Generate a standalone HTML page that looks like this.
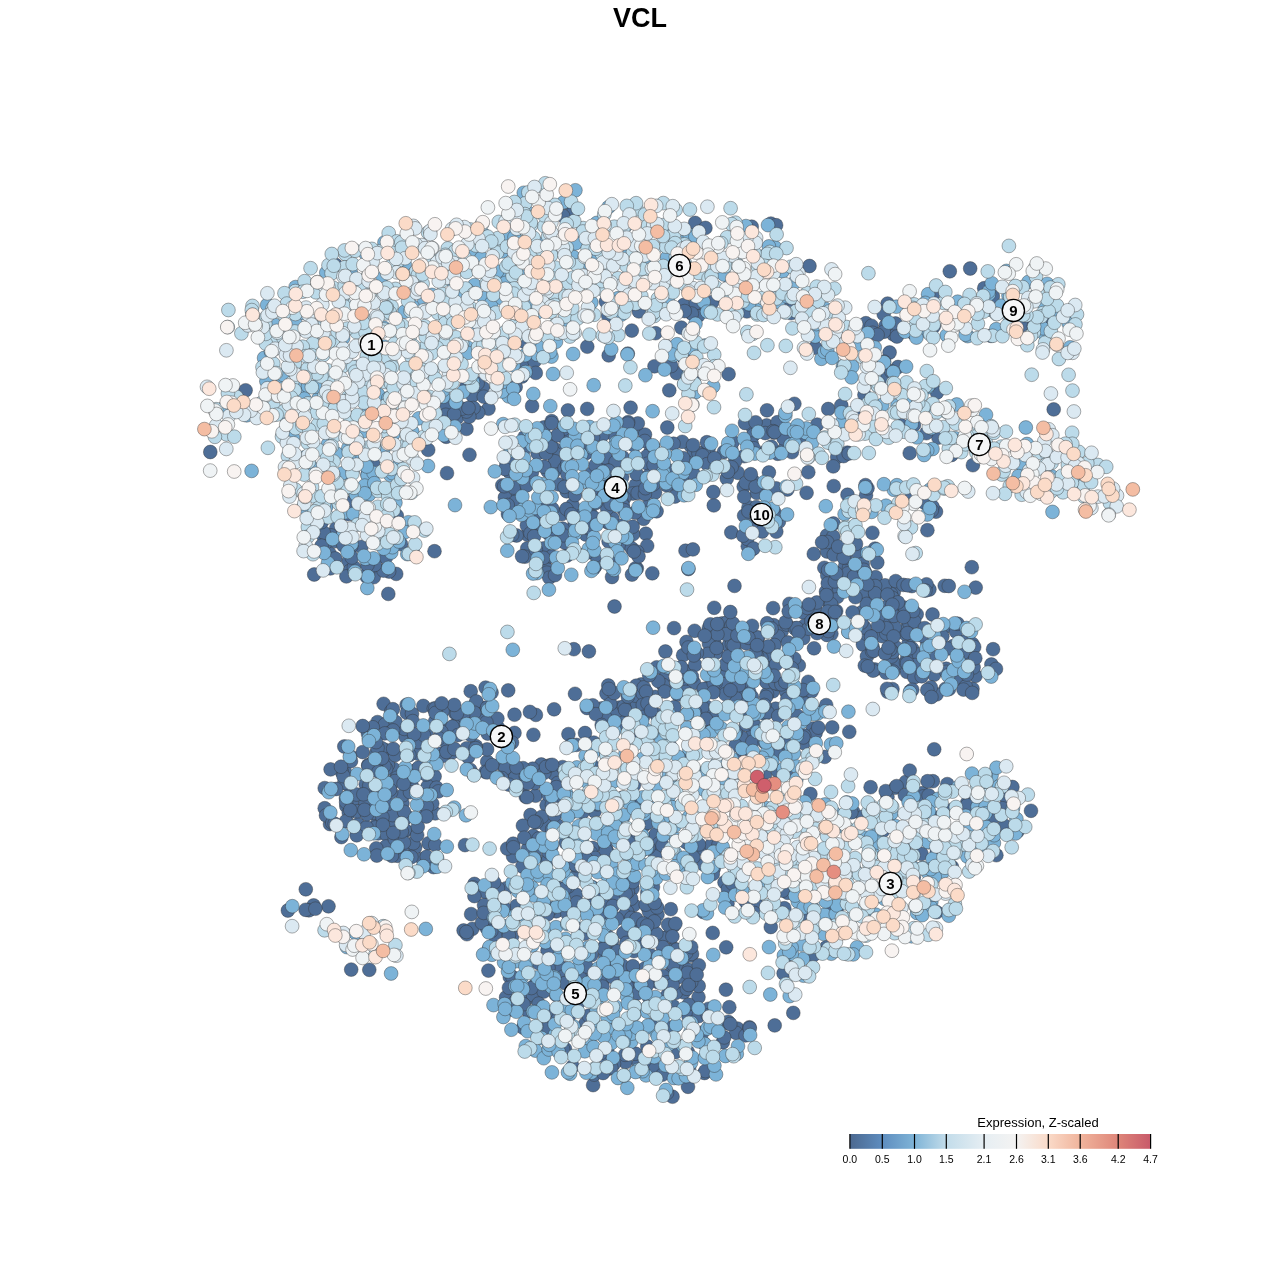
<!DOCTYPE html>
<html><head><meta charset="utf-8"><title>VCL</title>
<style>html,body{margin:0;padding:0;background:#fff;}svg{display:block;}</style></head>
<body><svg width="1280" height="1280" viewBox="0 0 1280 1280">
<rect width="1280" height="1280" fill="#fff"/>
<text x="640" y="27" text-anchor="middle" font-family="Liberation Sans, sans-serif" font-weight="bold" font-size="27" fill="#000">VCL</text>
<g stroke="#333" stroke-width="0.5" stroke-opacity="0.8">
<circle cx="365.7" cy="784.2" r="6.9" fill="#4e6e97"/>
<circle cx="630.0" cy="929.4" r="6.9" fill="#4e6e97"/>
<circle cx="875.0" cy="548.6" r="6.9" fill="#4e6e97"/>
<circle cx="866.0" cy="495.2" r="6.9" fill="#4e6e97"/>
<circle cx="576.5" cy="744.9" r="6.9" fill="#4e6e97"/>
<circle cx="805.5" cy="691.9" r="6.9" fill="#4e6e97"/>
<circle cx="708.9" cy="687.1" r="6.9" fill="#4e6e97"/>
<circle cx="345.9" cy="798.0" r="6.9" fill="#4e6e97"/>
<circle cx="882.7" cy="831.2" r="6.9" fill="#4e6e97"/>
<circle cx="565.1" cy="968.5" r="6.9" fill="#4e6e97"/>
<circle cx="428.6" cy="843.3" r="6.9" fill="#4e6e97"/>
<circle cx="757.2" cy="522.8" r="6.9" fill="#4e6e97"/>
<circle cx="601.9" cy="708.3" r="6.9" fill="#4e6e97"/>
<circle cx="541.3" cy="764.5" r="6.9" fill="#4e6e97"/>
<circle cx="938.9" cy="817.3" r="6.9" fill="#4e6e97"/>
<circle cx="681.3" cy="327.6" r="6.9" fill="#4e6e97"/>
<circle cx="893.1" cy="609.4" r="6.9" fill="#4e6e97"/>
<circle cx="847.4" cy="452.6" r="6.9" fill="#4e6e97"/>
<circle cx="698.4" cy="315.5" r="6.9" fill="#4e6e97"/>
<circle cx="725.5" cy="675.5" r="6.9" fill="#4e6e97"/>
<circle cx="853.1" cy="811.6" r="6.9" fill="#4e6e97"/>
<circle cx="532.7" cy="768.7" r="6.9" fill="#4e6e97"/>
<circle cx="523.0" cy="768.1" r="6.9" fill="#4e6e97"/>
<circle cx="734.5" cy="585.9" r="6.9" fill="#4e6e97"/>
<circle cx="454.5" cy="725.6" r="6.9" fill="#4e6e97"/>
<circle cx="657.5" cy="914.8" r="6.9" fill="#4e6e97"/>
<circle cx="384.9" cy="749.8" r="6.9" fill="#4e6e97"/>
<circle cx="873.6" cy="636.5" r="6.9" fill="#4e6e97"/>
<circle cx="377.5" cy="722.1" r="6.9" fill="#4e6e97"/>
<circle cx="628.0" cy="717.3" r="6.9" fill="#4e6e97"/>
<circle cx="396.2" cy="573.9" r="6.9" fill="#4e6e97"/>
<circle cx="557.6" cy="887.6" r="6.9" fill="#4e6e97"/>
<circle cx="908.4" cy="644.0" r="6.9" fill="#4e6e97"/>
<circle cx="916.7" cy="614.3" r="6.9" fill="#4e6e97"/>
<circle cx="815.4" cy="617.9" r="6.9" fill="#4e6e97"/>
<circle cx="432.8" cy="787.5" r="6.9" fill="#4e6e97"/>
<circle cx="585.8" cy="534.5" r="6.9" fill="#4e6e97"/>
<circle cx="814.8" cy="608.3" r="6.9" fill="#4e6e97"/>
<circle cx="656.3" cy="714.6" r="6.9" fill="#4e6e97"/>
<circle cx="431.2" cy="811.4" r="6.9" fill="#4e6e97"/>
<circle cx="765.1" cy="452.0" r="6.9" fill="#4e6e97"/>
<circle cx="515.7" cy="913.7" r="6.9" fill="#4e6e97"/>
<circle cx="602.2" cy="749.5" r="6.9" fill="#4e6e97"/>
<circle cx="643.1" cy="826.4" r="6.9" fill="#4e6e97"/>
<circle cx="633.7" cy="905.1" r="6.9" fill="#4e6e97"/>
<circle cx="635.7" cy="485.2" r="6.9" fill="#4e6e97"/>
<circle cx="612.7" cy="433.7" r="6.9" fill="#4e6e97"/>
<circle cx="588.6" cy="528.3" r="6.9" fill="#4e6e97"/>
<circle cx="691.0" cy="446.1" r="6.9" fill="#4e6e97"/>
<circle cx="576.3" cy="876.0" r="6.9" fill="#4e6e97"/>
<circle cx="744.1" cy="456.2" r="6.9" fill="#4e6e97"/>
<circle cx="635.8" cy="428.0" r="6.9" fill="#4e6e97"/>
<circle cx="767.0" cy="410.3" r="6.9" fill="#4e6e97"/>
<circle cx="813.0" cy="728.6" r="6.9" fill="#4e6e97"/>
<circle cx="336.3" cy="528.3" r="6.9" fill="#4e6e97"/>
<circle cx="726.8" cy="478.5" r="6.9" fill="#4e6e97"/>
<circle cx="632.5" cy="888.7" r="6.9" fill="#4e6e97"/>
<circle cx="905.6" cy="634.0" r="6.9" fill="#4e6e97"/>
<circle cx="716.4" cy="625.5" r="6.9" fill="#4e6e97"/>
<circle cx="329.5" cy="553.3" r="6.9" fill="#4e6e97"/>
<circle cx="845.1" cy="566.2" r="6.9" fill="#4e6e97"/>
<circle cx="335.7" cy="265.0" r="6.9" fill="#4e6e97"/>
<circle cx="887.5" cy="796.9" r="6.9" fill="#4e6e97"/>
<circle cx="636.8" cy="568.5" r="6.9" fill="#4e6e97"/>
<circle cx="344.3" cy="746.5" r="6.9" fill="#4e6e97"/>
<circle cx="783.6" cy="973.4" r="6.9" fill="#4e6e97"/>
<circle cx="885.8" cy="378.8" r="6.9" fill="#4e6e97"/>
<circle cx="482.9" cy="718.2" r="6.9" fill="#4e6e97"/>
<circle cx="328.2" cy="813.0" r="6.9" fill="#4e6e97"/>
<circle cx="324.7" cy="808.2" r="6.9" fill="#4e6e97"/>
<circle cx="465.0" cy="845.1" r="6.9" fill="#4e6e97"/>
<circle cx="811.9" cy="434.9" r="6.9" fill="#4e6e97"/>
<circle cx="506.2" cy="933.2" r="6.9" fill="#4e6e97"/>
<circle cx="744.3" cy="695.6" r="6.9" fill="#4e6e97"/>
<circle cx="805.7" cy="694.2" r="6.9" fill="#4e6e97"/>
<circle cx="824.5" cy="709.7" r="6.9" fill="#4e6e97"/>
<circle cx="376.9" cy="824.5" r="6.9" fill="#4e6e97"/>
<circle cx="784.3" cy="908.2" r="6.9" fill="#4e6e97"/>
<circle cx="892.5" cy="689.1" r="6.9" fill="#4e6e97"/>
<circle cx="831.4" cy="633.8" r="6.9" fill="#4e6e97"/>
<circle cx="972.3" cy="643.8" r="6.9" fill="#4e6e97"/>
<circle cx="506.5" cy="463.3" r="6.9" fill="#4e6e97"/>
<circle cx="737.6" cy="1028.6" r="6.9" fill="#4e6e97"/>
<circle cx="405.5" cy="736.6" r="6.9" fill="#4e6e97"/>
<circle cx="622.0" cy="965.4" r="6.9" fill="#4e6e97"/>
<circle cx="631.2" cy="1035.3" r="6.9" fill="#4e6e97"/>
<circle cx="764.9" cy="775.3" r="6.9" fill="#4e6e97"/>
<circle cx="968.3" cy="663.3" r="6.9" fill="#4e6e97"/>
<circle cx="875.6" cy="577.2" r="6.9" fill="#4e6e97"/>
<circle cx="671.4" cy="824.8" r="6.9" fill="#4e6e97"/>
<circle cx="708.6" cy="448.7" r="6.9" fill="#4e6e97"/>
<circle cx="568.2" cy="203.2" r="6.9" fill="#4e6e97"/>
<circle cx="394.2" cy="750.9" r="6.9" fill="#4e6e97"/>
<circle cx="932.4" cy="668.6" r="6.9" fill="#4e6e97"/>
<circle cx="932.9" cy="656.8" r="6.9" fill="#4e6e97"/>
<circle cx="848.9" cy="568.4" r="6.9" fill="#4e6e97"/>
<circle cx="688.7" cy="476.7" r="6.9" fill="#4e6e97"/>
<circle cx="501.2" cy="763.7" r="6.9" fill="#4e6e97"/>
<circle cx="944.7" cy="585.8" r="6.9" fill="#4e6e97"/>
<circle cx="893.7" cy="662.4" r="6.9" fill="#4e6e97"/>
<circle cx="546.7" cy="861.8" r="6.9" fill="#4e6e97"/>
<circle cx="641.2" cy="684.5" r="6.9" fill="#4e6e97"/>
<circle cx="828.2" cy="409.0" r="6.9" fill="#4e6e97"/>
<circle cx="762.3" cy="648.4" r="6.9" fill="#4e6e97"/>
<circle cx="595.7" cy="565.5" r="6.9" fill="#4e6e97"/>
<circle cx="513.2" cy="461.7" r="6.9" fill="#4e6e97"/>
<circle cx="726.9" cy="1023.2" r="6.9" fill="#4e6e97"/>
<circle cx="619.0" cy="707.6" r="6.9" fill="#4e6e97"/>
<circle cx="365.0" cy="803.1" r="6.9" fill="#4e6e97"/>
<circle cx="784.6" cy="957.7" r="6.9" fill="#4e6e97"/>
<circle cx="458.6" cy="412.3" r="6.9" fill="#4e6e97"/>
<circle cx="561.7" cy="514.2" r="6.9" fill="#4e6e97"/>
<circle cx="632.0" cy="574.6" r="6.9" fill="#4e6e97"/>
<circle cx="745.1" cy="229.6" r="6.9" fill="#4e6e97"/>
<circle cx="330.0" cy="824.1" r="6.9" fill="#4e6e97"/>
<circle cx="546.8" cy="468.2" r="6.9" fill="#4e6e97"/>
<circle cx="632.9" cy="702.9" r="6.9" fill="#4e6e97"/>
<circle cx="741.0" cy="757.6" r="6.9" fill="#4e6e97"/>
<circle cx="389.1" cy="571.5" r="6.9" fill="#4e6e97"/>
<circle cx="625.5" cy="1062.1" r="6.9" fill="#4e6e97"/>
<circle cx="647.3" cy="1046.5" r="6.9" fill="#4e6e97"/>
<circle cx="945.5" cy="688.8" r="6.9" fill="#4e6e97"/>
<circle cx="536.9" cy="512.6" r="6.9" fill="#4e6e97"/>
<circle cx="433.5" cy="867.1" r="6.9" fill="#4e6e97"/>
<circle cx="367.9" cy="733.5" r="6.9" fill="#4e6e97"/>
<circle cx="765.4" cy="494.6" r="6.9" fill="#4e6e97"/>
<circle cx="572.8" cy="213.1" r="6.9" fill="#4e6e97"/>
<circle cx="841.4" cy="588.5" r="6.9" fill="#4e6e97"/>
<circle cx="737.9" cy="472.8" r="6.9" fill="#4e6e97"/>
<circle cx="870.6" cy="787.2" r="6.9" fill="#4e6e97"/>
<circle cx="836.8" cy="908.6" r="6.9" fill="#4e6e97"/>
<circle cx="474.4" cy="883.9" r="6.9" fill="#4e6e97"/>
<circle cx="428.2" cy="449.9" r="6.9" fill="#4e6e97"/>
<circle cx="507.8" cy="774.5" r="6.9" fill="#4e6e97"/>
<circle cx="506.2" cy="888.3" r="6.9" fill="#4e6e97"/>
<circle cx="823.8" cy="625.0" r="6.9" fill="#4e6e97"/>
<circle cx="886.8" cy="625.0" r="6.9" fill="#4e6e97"/>
<circle cx="361.5" cy="546.8" r="6.9" fill="#4e6e97"/>
<circle cx="348.1" cy="514.2" r="6.9" fill="#4e6e97"/>
<circle cx="484.8" cy="708.0" r="6.9" fill="#4e6e97"/>
<circle cx="994.0" cy="306.3" r="6.9" fill="#4e6e97"/>
<circle cx="603.7" cy="824.1" r="6.9" fill="#4e6e97"/>
<circle cx="784.4" cy="448.9" r="6.9" fill="#4e6e97"/>
<circle cx="751.8" cy="735.5" r="6.9" fill="#4e6e97"/>
<circle cx="633.3" cy="842.0" r="6.9" fill="#4e6e97"/>
<circle cx="376.4" cy="753.0" r="6.9" fill="#4e6e97"/>
<circle cx="841.3" cy="405.4" r="6.9" fill="#4e6e97"/>
<circle cx="463.5" cy="715.7" r="6.9" fill="#4e6e97"/>
<circle cx="393.6" cy="768.8" r="6.9" fill="#4e6e97"/>
<circle cx="836.2" cy="611.0" r="6.9" fill="#4e6e97"/>
<circle cx="585.7" cy="453.3" r="6.9" fill="#4e6e97"/>
<circle cx="929.4" cy="589.5" r="6.9" fill="#4e6e97"/>
<circle cx="470.7" cy="691.2" r="6.9" fill="#4e6e97"/>
<circle cx="683.7" cy="305.0" r="6.9" fill="#4e6e97"/>
<circle cx="710.7" cy="646.3" r="6.9" fill="#4e6e97"/>
<circle cx="676.7" cy="686.1" r="6.9" fill="#4e6e97"/>
<circle cx="895.8" cy="664.9" r="6.9" fill="#4e6e97"/>
<circle cx="596.7" cy="474.2" r="6.9" fill="#4e6e97"/>
<circle cx="650.6" cy="451.6" r="6.9" fill="#4e6e97"/>
<circle cx="350.4" cy="756.3" r="6.9" fill="#4e6e97"/>
<circle cx="612.5" cy="503.8" r="6.9" fill="#4e6e97"/>
<circle cx="369.3" cy="969.8" r="6.9" fill="#4e6e97"/>
<circle cx="638.3" cy="936.1" r="6.9" fill="#4e6e97"/>
<circle cx="605.5" cy="916.9" r="6.9" fill="#4e6e97"/>
<circle cx="847.7" cy="573.4" r="6.9" fill="#4e6e97"/>
<circle cx="727.6" cy="685.0" r="6.9" fill="#4e6e97"/>
<circle cx="376.8" cy="853.4" r="6.9" fill="#4e6e97"/>
<circle cx="455.2" cy="713.1" r="6.9" fill="#4e6e97"/>
<circle cx="862.9" cy="644.5" r="6.9" fill="#4e6e97"/>
<circle cx="522.3" cy="784.7" r="6.9" fill="#4e6e97"/>
<circle cx="472.4" cy="928.8" r="6.9" fill="#4e6e97"/>
<circle cx="527.4" cy="534.7" r="6.9" fill="#4e6e97"/>
<circle cx="722.4" cy="623.3" r="6.9" fill="#4e6e97"/>
<circle cx="553.8" cy="773.6" r="6.9" fill="#4e6e97"/>
<circle cx="591.7" cy="764.8" r="6.9" fill="#4e6e97"/>
<circle cx="756.8" cy="492.9" r="6.9" fill="#4e6e97"/>
<circle cx="383.6" cy="703.8" r="6.9" fill="#4e6e97"/>
<circle cx="341.4" cy="837.1" r="6.9" fill="#4e6e97"/>
<circle cx="471.1" cy="914.1" r="6.9" fill="#4e6e97"/>
<circle cx="683.7" cy="966.8" r="6.9" fill="#4e6e97"/>
<circle cx="874.8" cy="669.5" r="6.9" fill="#4e6e97"/>
<circle cx="735.1" cy="461.2" r="6.9" fill="#4e6e97"/>
<circle cx="487.2" cy="761.7" r="6.9" fill="#4e6e97"/>
<circle cx="861.9" cy="612.1" r="6.9" fill="#4e6e97"/>
<circle cx="889.6" cy="352.5" r="6.9" fill="#4e6e97"/>
<circle cx="569.3" cy="1015.7" r="6.9" fill="#4e6e97"/>
<circle cx="397.1" cy="777.7" r="6.9" fill="#4e6e97"/>
<circle cx="605.9" cy="301.6" r="6.9" fill="#4e6e97"/>
<circle cx="685.5" cy="550.7" r="6.9" fill="#4e6e97"/>
<circle cx="765.1" cy="713.8" r="6.9" fill="#4e6e97"/>
<circle cx="863.5" cy="332.8" r="6.9" fill="#4e6e97"/>
<circle cx="617.3" cy="987.1" r="6.9" fill="#4e6e97"/>
<circle cx="611.5" cy="557.6" r="6.9" fill="#4e6e97"/>
<circle cx="757.8" cy="510.1" r="6.9" fill="#4e6e97"/>
<circle cx="865.0" cy="572.3" r="6.9" fill="#4e6e97"/>
<circle cx="387.9" cy="764.8" r="6.9" fill="#4e6e97"/>
<circle cx="245.6" cy="390.3" r="6.9" fill="#4e6e97"/>
<circle cx="516.5" cy="497.9" r="6.9" fill="#4e6e97"/>
<circle cx="530.5" cy="815.0" r="6.9" fill="#4e6e97"/>
<circle cx="864.4" cy="394.8" r="6.9" fill="#4e6e97"/>
<circle cx="893.8" cy="592.0" r="6.9" fill="#4e6e97"/>
<circle cx="555.1" cy="449.3" r="6.9" fill="#4e6e97"/>
<circle cx="441.0" cy="753.7" r="6.9" fill="#4e6e97"/>
<circle cx="472.5" cy="395.6" r="6.9" fill="#4e6e97"/>
<circle cx="446.3" cy="404.7" r="6.9" fill="#4e6e97"/>
<circle cx="632.8" cy="973.7" r="6.9" fill="#4e6e97"/>
<circle cx="457.3" cy="417.7" r="6.9" fill="#4e6e97"/>
<circle cx="773.6" cy="625.2" r="6.9" fill="#4e6e97"/>
<circle cx="971.8" cy="567.2" r="6.9" fill="#4e6e97"/>
<circle cx="404.4" cy="728.9" r="6.9" fill="#4e6e97"/>
<circle cx="576.5" cy="515.7" r="6.9" fill="#4e6e97"/>
<circle cx="747.3" cy="756.4" r="6.9" fill="#4e6e97"/>
<circle cx="608.3" cy="685.5" r="6.9" fill="#4e6e97"/>
<circle cx="788.1" cy="704.7" r="6.9" fill="#4e6e97"/>
<circle cx="694.1" cy="971.2" r="6.9" fill="#4e6e97"/>
<circle cx="415.2" cy="847.3" r="6.9" fill="#4e6e97"/>
<circle cx="828.8" cy="602.3" r="6.9" fill="#4e6e97"/>
<circle cx="791.2" cy="313.2" r="6.9" fill="#4e6e97"/>
<circle cx="647.3" cy="892.6" r="6.9" fill="#4e6e97"/>
<circle cx="556.2" cy="911.3" r="6.9" fill="#4e6e97"/>
<circle cx="634.6" cy="990.0" r="6.9" fill="#4e6e97"/>
<circle cx="775.7" cy="708.7" r="6.9" fill="#4e6e97"/>
<circle cx="612.5" cy="518.5" r="6.9" fill="#4e6e97"/>
<circle cx="624.6" cy="878.9" r="6.9" fill="#4e6e97"/>
<circle cx="544.4" cy="561.9" r="6.9" fill="#4e6e97"/>
<circle cx="574.7" cy="523.0" r="6.9" fill="#4e6e97"/>
<circle cx="646.3" cy="944.1" r="6.9" fill="#4e6e97"/>
<circle cx="488.5" cy="408.7" r="6.9" fill="#4e6e97"/>
<circle cx="372.6" cy="762.6" r="6.9" fill="#4e6e97"/>
<circle cx="991.4" cy="664.5" r="6.9" fill="#4e6e97"/>
<circle cx="535.2" cy="985.1" r="6.9" fill="#4e6e97"/>
<circle cx="936.0" cy="511.7" r="6.9" fill="#4e6e97"/>
<circle cx="702.6" cy="848.9" r="6.9" fill="#4e6e97"/>
<circle cx="402.5" cy="803.1" r="6.9" fill="#4e6e97"/>
<circle cx="592.3" cy="887.2" r="6.9" fill="#4e6e97"/>
<circle cx="697.8" cy="302.9" r="6.9" fill="#4e6e97"/>
<circle cx="606.5" cy="693.5" r="6.9" fill="#4e6e97"/>
<circle cx="434.8" cy="757.5" r="6.9" fill="#4e6e97"/>
<circle cx="866.9" cy="656.5" r="6.9" fill="#4e6e97"/>
<circle cx="772.8" cy="691.3" r="6.9" fill="#4e6e97"/>
<circle cx="703.6" cy="452.6" r="6.9" fill="#4e6e97"/>
<circle cx="732.0" cy="884.8" r="6.9" fill="#4e6e97"/>
<circle cx="906.8" cy="671.8" r="6.9" fill="#4e6e97"/>
<circle cx="728.6" cy="645.5" r="6.9" fill="#4e6e97"/>
<circle cx="878.9" cy="588.0" r="6.9" fill="#4e6e97"/>
<circle cx="951.5" cy="455.0" r="6.9" fill="#4e6e97"/>
<circle cx="554.1" cy="709.3" r="6.9" fill="#4e6e97"/>
<circle cx="896.2" cy="647.6" r="6.9" fill="#4e6e97"/>
<circle cx="688.0" cy="1086.8" r="6.9" fill="#4e6e97"/>
<circle cx="758.0" cy="637.6" r="6.9" fill="#4e6e97"/>
<circle cx="422.5" cy="858.9" r="6.9" fill="#4e6e97"/>
<circle cx="384.9" cy="724.5" r="6.9" fill="#4e6e97"/>
<circle cx="485.5" cy="771.8" r="6.9" fill="#4e6e97"/>
<circle cx="669.3" cy="390.3" r="6.9" fill="#4e6e97"/>
<circle cx="502.3" cy="485.3" r="6.9" fill="#4e6e97"/>
<circle cx="348.6" cy="785.0" r="6.9" fill="#4e6e97"/>
<circle cx="395.5" cy="721.9" r="6.9" fill="#4e6e97"/>
<circle cx="305.8" cy="889.3" r="6.9" fill="#4e6e97"/>
<circle cx="548.9" cy="533.9" r="6.9" fill="#4e6e97"/>
<circle cx="351.9" cy="802.6" r="6.9" fill="#4e6e97"/>
<circle cx="381.2" cy="825.6" r="6.9" fill="#4e6e97"/>
<circle cx="487.1" cy="749.4" r="6.9" fill="#4e6e97"/>
<circle cx="378.2" cy="833.4" r="6.9" fill="#4e6e97"/>
<circle cx="556.1" cy="994.9" r="6.9" fill="#4e6e97"/>
<circle cx="741.3" cy="737.1" r="6.9" fill="#4e6e97"/>
<circle cx="592.7" cy="705.3" r="6.9" fill="#4e6e97"/>
<circle cx="566.9" cy="555.6" r="6.9" fill="#4e6e97"/>
<circle cx="735.3" cy="652.2" r="6.9" fill="#4e6e97"/>
<circle cx="735.8" cy="731.7" r="6.9" fill="#4e6e97"/>
<circle cx="914.3" cy="677.4" r="6.9" fill="#4e6e97"/>
<circle cx="643.6" cy="518.8" r="6.9" fill="#4e6e97"/>
<circle cx="631.2" cy="898.7" r="6.9" fill="#4e6e97"/>
<circle cx="535.6" cy="795.7" r="6.9" fill="#4e6e97"/>
<circle cx="691.1" cy="955.5" r="6.9" fill="#4e6e97"/>
<circle cx="1005.7" cy="827.4" r="6.9" fill="#4e6e97"/>
<circle cx="574.3" cy="526.7" r="6.9" fill="#4e6e97"/>
<circle cx="595.8" cy="555.1" r="6.9" fill="#4e6e97"/>
<circle cx="527.3" cy="548.4" r="6.9" fill="#4e6e97"/>
<circle cx="395.0" cy="822.3" r="6.9" fill="#4e6e97"/>
<circle cx="684.6" cy="685.2" r="6.9" fill="#4e6e97"/>
<circle cx="545.0" cy="444.9" r="6.9" fill="#4e6e97"/>
<circle cx="506.1" cy="997.3" r="6.9" fill="#4e6e97"/>
<circle cx="634.0" cy="926.0" r="6.9" fill="#4e6e97"/>
<circle cx="692.0" cy="953.9" r="6.9" fill="#4e6e97"/>
<circle cx="698.5" cy="997.1" r="6.9" fill="#4e6e97"/>
<circle cx="906.7" cy="628.3" r="6.9" fill="#4e6e97"/>
<circle cx="546.6" cy="805.2" r="6.9" fill="#4e6e97"/>
<circle cx="1031.0" cy="810.8" r="6.9" fill="#4e6e97"/>
<circle cx="873.0" cy="670.7" r="6.9" fill="#4e6e97"/>
<circle cx="547.6" cy="471.1" r="6.9" fill="#4e6e97"/>
<circle cx="806.5" cy="703.5" r="6.9" fill="#4e6e97"/>
<circle cx="591.7" cy="473.6" r="6.9" fill="#4e6e97"/>
<circle cx="832.2" cy="727.4" r="6.9" fill="#4e6e97"/>
<circle cx="756.3" cy="903.8" r="6.9" fill="#4e6e97"/>
<circle cx="837.4" cy="596.8" r="6.9" fill="#4e6e97"/>
<circle cx="597.2" cy="985.1" r="6.9" fill="#4e6e97"/>
<circle cx="552.5" cy="1025.0" r="6.9" fill="#4e6e97"/>
<circle cx="616.6" cy="964.5" r="6.9" fill="#4e6e97"/>
<circle cx="753.1" cy="481.0" r="6.9" fill="#4e6e97"/>
<circle cx="770.8" cy="927.0" r="6.9" fill="#4e6e97"/>
<circle cx="608.1" cy="1068.9" r="6.9" fill="#4e6e97"/>
<circle cx="863.1" cy="816.7" r="6.9" fill="#4e6e97"/>
<circle cx="694.0" cy="453.1" r="6.9" fill="#4e6e97"/>
<circle cx="656.6" cy="511.3" r="6.9" fill="#4e6e97"/>
<circle cx="373.7" cy="812.9" r="6.9" fill="#4e6e97"/>
<circle cx="949.0" cy="689.1" r="6.9" fill="#4e6e97"/>
<circle cx="1053.7" cy="409.4" r="6.9" fill="#4e6e97"/>
<circle cx="324.7" cy="788.1" r="6.9" fill="#4e6e97"/>
<circle cx="523.0" cy="1006.6" r="6.9" fill="#4e6e97"/>
<circle cx="781.7" cy="631.2" r="6.9" fill="#4e6e97"/>
<circle cx="535.9" cy="714.9" r="6.9" fill="#4e6e97"/>
<circle cx="483.2" cy="388.2" r="6.9" fill="#4e6e97"/>
<circle cx="388.6" cy="782.1" r="6.9" fill="#4e6e97"/>
<circle cx="711.3" cy="845.1" r="6.9" fill="#4e6e97"/>
<circle cx="654.2" cy="470.9" r="6.9" fill="#4e6e97"/>
<circle cx="348.5" cy="561.1" r="6.9" fill="#4e6e97"/>
<circle cx="786.7" cy="624.5" r="6.9" fill="#4e6e97"/>
<circle cx="635.1" cy="512.6" r="6.9" fill="#4e6e97"/>
<circle cx="574.5" cy="926.0" r="6.9" fill="#4e6e97"/>
<circle cx="795.0" cy="628.5" r="6.9" fill="#4e6e97"/>
<circle cx="638.9" cy="1063.5" r="6.9" fill="#4e6e97"/>
<circle cx="751.6" cy="549.6" r="6.9" fill="#4e6e97"/>
<circle cx="402.1" cy="848.8" r="6.9" fill="#4e6e97"/>
<circle cx="595.4" cy="895.1" r="6.9" fill="#4e6e97"/>
<circle cx="486.4" cy="927.5" r="6.9" fill="#4e6e97"/>
<circle cx="813.8" cy="553.9" r="6.9" fill="#4e6e97"/>
<circle cx="726.2" cy="947.3" r="6.9" fill="#4e6e97"/>
<circle cx="505.3" cy="768.3" r="6.9" fill="#4e6e97"/>
<circle cx="391.2" cy="711.5" r="6.9" fill="#4e6e97"/>
<circle cx="532.1" cy="406.0" r="6.9" fill="#4e6e97"/>
<circle cx="434.6" cy="776.5" r="6.9" fill="#4e6e97"/>
<circle cx="587.2" cy="408.9" r="6.9" fill="#4e6e97"/>
<circle cx="694.0" cy="683.0" r="6.9" fill="#4e6e97"/>
<circle cx="687.9" cy="1052.1" r="6.9" fill="#4e6e97"/>
<circle cx="349.6" cy="571.0" r="6.9" fill="#4e6e97"/>
<circle cx="509.8" cy="976.9" r="6.9" fill="#4e6e97"/>
<circle cx="698.5" cy="453.3" r="6.9" fill="#4e6e97"/>
<circle cx="901.5" cy="425.3" r="6.9" fill="#4e6e97"/>
<circle cx="551.5" cy="846.2" r="6.9" fill="#4e6e97"/>
<circle cx="647.5" cy="906.9" r="6.9" fill="#4e6e97"/>
<circle cx="725.6" cy="664.4" r="6.9" fill="#4e6e97"/>
<circle cx="472.7" cy="706.8" r="6.9" fill="#4e6e97"/>
<circle cx="478.2" cy="412.5" r="6.9" fill="#4e6e97"/>
<circle cx="346.3" cy="806.0" r="6.9" fill="#4e6e97"/>
<circle cx="936.9" cy="851.4" r="6.9" fill="#4e6e97"/>
<circle cx="562.6" cy="767.1" r="6.9" fill="#4e6e97"/>
<circle cx="515.2" cy="777.4" r="6.9" fill="#4e6e97"/>
<circle cx="905.9" cy="781.8" r="6.9" fill="#4e6e97"/>
<circle cx="981.3" cy="792.1" r="6.9" fill="#4e6e97"/>
<circle cx="881.9" cy="636.1" r="6.9" fill="#4e6e97"/>
<circle cx="627.1" cy="911.7" r="6.9" fill="#4e6e97"/>
<circle cx="433.3" cy="863.8" r="6.9" fill="#4e6e97"/>
<circle cx="633.0" cy="493.5" r="6.9" fill="#4e6e97"/>
<circle cx="774.2" cy="432.5" r="6.9" fill="#4e6e97"/>
<circle cx="548.4" cy="858.8" r="6.9" fill="#4e6e97"/>
<circle cx="406.6" cy="704.8" r="6.9" fill="#4e6e97"/>
<circle cx="753.3" cy="428.8" r="6.9" fill="#4e6e97"/>
<circle cx="893.2" cy="671.5" r="6.9" fill="#4e6e97"/>
<circle cx="557.8" cy="783.0" r="6.9" fill="#4e6e97"/>
<circle cx="665.5" cy="676.8" r="6.9" fill="#4e6e97"/>
<circle cx="593.2" cy="493.7" r="6.9" fill="#4e6e97"/>
<circle cx="624.3" cy="498.0" r="6.9" fill="#4e6e97"/>
<circle cx="714.7" cy="643.9" r="6.9" fill="#4e6e97"/>
<circle cx="927.3" cy="643.0" r="6.9" fill="#4e6e97"/>
<circle cx="627.4" cy="543.7" r="6.9" fill="#4e6e97"/>
<circle cx="668.6" cy="935.8" r="6.9" fill="#4e6e97"/>
<circle cx="326.0" cy="542.4" r="6.9" fill="#4e6e97"/>
<circle cx="767.0" cy="694.0" r="6.9" fill="#4e6e97"/>
<circle cx="537.6" cy="453.4" r="6.9" fill="#4e6e97"/>
<circle cx="777.8" cy="771.0" r="6.9" fill="#4e6e97"/>
<circle cx="645.0" cy="434.6" r="6.9" fill="#4e6e97"/>
<circle cx="851.3" cy="812.4" r="6.9" fill="#4e6e97"/>
<circle cx="964.2" cy="641.5" r="6.9" fill="#4e6e97"/>
<circle cx="772.4" cy="665.8" r="6.9" fill="#4e6e97"/>
<circle cx="533.4" cy="734.8" r="6.9" fill="#4e6e97"/>
<circle cx="662.0" cy="937.9" r="6.9" fill="#4e6e97"/>
<circle cx="867.0" cy="634.1" r="6.9" fill="#4e6e97"/>
<circle cx="567.4" cy="913.6" r="6.9" fill="#4e6e97"/>
<circle cx="909.1" cy="622.5" r="6.9" fill="#4e6e97"/>
<circle cx="397.4" cy="855.8" r="6.9" fill="#4e6e97"/>
<circle cx="972.5" cy="688.8" r="6.9" fill="#4e6e97"/>
<circle cx="893.4" cy="334.4" r="6.9" fill="#4e6e97"/>
<circle cx="554.6" cy="452.9" r="6.9" fill="#4e6e97"/>
<circle cx="323.6" cy="536.3" r="6.9" fill="#4e6e97"/>
<circle cx="590.2" cy="513.3" r="6.9" fill="#4e6e97"/>
<circle cx="625.1" cy="1054.8" r="6.9" fill="#4e6e97"/>
<circle cx="509.4" cy="1009.7" r="6.9" fill="#4e6e97"/>
<circle cx="348.4" cy="542.2" r="6.9" fill="#4e6e97"/>
<circle cx="614.5" cy="606.5" r="6.9" fill="#4e6e97"/>
<circle cx="555.6" cy="796.2" r="6.9" fill="#4e6e97"/>
<circle cx="553.5" cy="472.1" r="6.9" fill="#4e6e97"/>
<circle cx="529.1" cy="894.2" r="6.9" fill="#4e6e97"/>
<circle cx="562.2" cy="968.9" r="6.9" fill="#4e6e97"/>
<circle cx="963.5" cy="652.5" r="6.9" fill="#4e6e97"/>
<circle cx="631.8" cy="548.4" r="6.9" fill="#4e6e97"/>
<circle cx="663.2" cy="685.0" r="6.9" fill="#4e6e97"/>
<circle cx="535.1" cy="524.4" r="6.9" fill="#4e6e97"/>
<circle cx="346.4" cy="576.4" r="6.9" fill="#4e6e97"/>
<circle cx="675.5" cy="1025.7" r="6.9" fill="#4e6e97"/>
<circle cx="554.7" cy="461.3" r="6.9" fill="#4e6e97"/>
<circle cx="946.2" cy="668.7" r="6.9" fill="#4e6e97"/>
<circle cx="575.9" cy="865.4" r="6.9" fill="#4e6e97"/>
<circle cx="508.2" cy="690.4" r="6.9" fill="#4e6e97"/>
<circle cx="753.4" cy="435.0" r="6.9" fill="#4e6e97"/>
<circle cx="483.8" cy="396.7" r="6.9" fill="#4e6e97"/>
<circle cx="847.5" cy="494.7" r="6.9" fill="#4e6e97"/>
<circle cx="746.3" cy="724.6" r="6.9" fill="#4e6e97"/>
<circle cx="673.9" cy="925.4" r="6.9" fill="#4e6e97"/>
<circle cx="731.9" cy="644.2" r="6.9" fill="#4e6e97"/>
<circle cx="674.0" cy="628.1" r="6.9" fill="#4e6e97"/>
<circle cx="366.9" cy="576.9" r="6.9" fill="#4e6e97"/>
<circle cx="543.7" cy="548.4" r="6.9" fill="#4e6e97"/>
<circle cx="738.5" cy="668.9" r="6.9" fill="#4e6e97"/>
<circle cx="704.5" cy="1073.0" r="6.9" fill="#4e6e97"/>
<circle cx="727.3" cy="622.3" r="6.9" fill="#4e6e97"/>
<circle cx="863.6" cy="595.3" r="6.9" fill="#4e6e97"/>
<circle cx="627.8" cy="891.8" r="6.9" fill="#4e6e97"/>
<circle cx="621.5" cy="502.2" r="6.9" fill="#4e6e97"/>
<circle cx="683.7" cy="992.4" r="6.9" fill="#4e6e97"/>
<circle cx="605.3" cy="467.3" r="6.9" fill="#4e6e97"/>
<circle cx="373.1" cy="462.7" r="6.9" fill="#4e6e97"/>
<circle cx="952.9" cy="646.2" r="6.9" fill="#4e6e97"/>
<circle cx="545.6" cy="825.0" r="6.9" fill="#4e6e97"/>
<circle cx="524.9" cy="556.7" r="6.9" fill="#4e6e97"/>
<circle cx="827.0" cy="635.0" r="6.9" fill="#4e6e97"/>
<circle cx="831.1" cy="604.2" r="6.9" fill="#4e6e97"/>
<circle cx="945.6" cy="626.5" r="6.9" fill="#4e6e97"/>
<circle cx="766.4" cy="682.0" r="6.9" fill="#4e6e97"/>
<circle cx="612.3" cy="1023.7" r="6.9" fill="#4e6e97"/>
<circle cx="513.1" cy="856.4" r="6.9" fill="#4e6e97"/>
<circle cx="387.9" cy="813.4" r="6.9" fill="#4e6e97"/>
<circle cx="735.4" cy="697.5" r="6.9" fill="#4e6e97"/>
<circle cx="709.0" cy="643.7" r="6.9" fill="#4e6e97"/>
<circle cx="992.8" cy="296.4" r="6.9" fill="#4e6e97"/>
<circle cx="423.3" cy="705.9" r="6.9" fill="#4e6e97"/>
<circle cx="514.5" cy="714.7" r="6.9" fill="#4e6e97"/>
<circle cx="508.9" cy="471.3" r="6.9" fill="#4e6e97"/>
<circle cx="475.9" cy="746.2" r="6.9" fill="#4e6e97"/>
<circle cx="591.9" cy="489.3" r="6.9" fill="#4e6e97"/>
<circle cx="595.4" cy="465.4" r="6.9" fill="#4e6e97"/>
<circle cx="984.8" cy="836.4" r="6.9" fill="#4e6e97"/>
<circle cx="682.2" cy="441.8" r="6.9" fill="#4e6e97"/>
<circle cx="466.5" cy="428.9" r="6.9" fill="#4e6e97"/>
<circle cx="656.3" cy="933.7" r="6.9" fill="#4e6e97"/>
<circle cx="345.2" cy="472.7" r="6.9" fill="#4e6e97"/>
<circle cx="543.9" cy="427.4" r="6.9" fill="#4e6e97"/>
<circle cx="498.6" cy="728.5" r="6.9" fill="#4e6e97"/>
<circle cx="809.5" cy="266.0" r="6.9" fill="#4e6e97"/>
<circle cx="735.9" cy="1032.8" r="6.9" fill="#4e6e97"/>
<circle cx="852.6" cy="612.3" r="6.9" fill="#4e6e97"/>
<circle cx="703.4" cy="912.1" r="6.9" fill="#4e6e97"/>
<circle cx="914.0" cy="424.9" r="6.9" fill="#4e6e97"/>
<circle cx="528.8" cy="997.4" r="6.9" fill="#4e6e97"/>
<circle cx="1006.6" cy="798.4" r="6.9" fill="#4e6e97"/>
<circle cx="466.9" cy="934.2" r="6.9" fill="#4e6e97"/>
<circle cx="1021.9" cy="325.0" r="6.9" fill="#4e6e97"/>
<circle cx="381.6" cy="748.2" r="6.9" fill="#4e6e97"/>
<circle cx="946.3" cy="858.1" r="6.9" fill="#4e6e97"/>
<circle cx="476.3" cy="701.5" r="6.9" fill="#4e6e97"/>
<circle cx="865.9" cy="323.2" r="6.9" fill="#4e6e97"/>
<circle cx="516.6" cy="535.5" r="6.9" fill="#4e6e97"/>
<circle cx="474.3" cy="712.7" r="6.9" fill="#4e6e97"/>
<circle cx="895.5" cy="323.5" r="6.9" fill="#4e6e97"/>
<circle cx="533.1" cy="995.2" r="6.9" fill="#4e6e97"/>
<circle cx="914.3" cy="621.5" r="6.9" fill="#4e6e97"/>
<circle cx="645.8" cy="533.7" r="6.9" fill="#4e6e97"/>
<circle cx="287.9" cy="910.5" r="6.9" fill="#4e6e97"/>
<circle cx="924.4" cy="631.3" r="6.9" fill="#4e6e97"/>
<circle cx="605.0" cy="955.0" r="6.9" fill="#4e6e97"/>
<circle cx="593.1" cy="1085.1" r="6.9" fill="#4e6e97"/>
<circle cx="616.5" cy="714.5" r="6.9" fill="#4e6e97"/>
<circle cx="562.7" cy="528.7" r="6.9" fill="#4e6e97"/>
<circle cx="476.0" cy="728.1" r="6.9" fill="#4e6e97"/>
<circle cx="950.7" cy="790.4" r="6.9" fill="#4e6e97"/>
<circle cx="544.4" cy="772.7" r="6.9" fill="#4e6e97"/>
<circle cx="827.0" cy="535.4" r="6.9" fill="#4e6e97"/>
<circle cx="695.1" cy="222.9" r="6.9" fill="#4e6e97"/>
<circle cx="698.9" cy="844.4" r="6.9" fill="#4e6e97"/>
<circle cx="866.7" cy="603.9" r="6.9" fill="#4e6e97"/>
<circle cx="637.7" cy="492.9" r="6.9" fill="#4e6e97"/>
<circle cx="757.4" cy="637.5" r="6.9" fill="#4e6e97"/>
<circle cx="647.2" cy="545.8" r="6.9" fill="#4e6e97"/>
<circle cx="769.5" cy="654.9" r="6.9" fill="#4e6e97"/>
<circle cx="441.9" cy="726.5" r="6.9" fill="#4e6e97"/>
<circle cx="622.8" cy="505.5" r="6.9" fill="#4e6e97"/>
<circle cx="828.2" cy="631.0" r="6.9" fill="#4e6e97"/>
<circle cx="473.2" cy="887.4" r="6.9" fill="#4e6e97"/>
<circle cx="731.4" cy="625.6" r="6.9" fill="#4e6e97"/>
<circle cx="667.3" cy="427.5" r="6.9" fill="#4e6e97"/>
<circle cx="885.5" cy="326.0" r="6.9" fill="#4e6e97"/>
<circle cx="761.4" cy="658.1" r="6.9" fill="#4e6e97"/>
<circle cx="705.8" cy="723.1" r="6.9" fill="#4e6e97"/>
<circle cx="507.2" cy="848.6" r="6.9" fill="#4e6e97"/>
<circle cx="673.9" cy="948.7" r="6.9" fill="#4e6e97"/>
<circle cx="698.7" cy="985.9" r="6.9" fill="#4e6e97"/>
<circle cx="1004.4" cy="825.6" r="6.9" fill="#4e6e97"/>
<circle cx="394.9" cy="781.1" r="6.9" fill="#4e6e97"/>
<circle cx="592.6" cy="805.9" r="6.9" fill="#4e6e97"/>
<circle cx="575.5" cy="452.5" r="6.9" fill="#4e6e97"/>
<circle cx="551.7" cy="421.2" r="6.9" fill="#4e6e97"/>
<circle cx="375.6" cy="827.4" r="6.9" fill="#4e6e97"/>
<circle cx="705.4" cy="227.9" r="6.9" fill="#4e6e97"/>
<circle cx="541.9" cy="816.8" r="6.9" fill="#4e6e97"/>
<circle cx="912.1" cy="493.8" r="6.9" fill="#4e6e97"/>
<circle cx="871.5" cy="325.8" r="6.9" fill="#4e6e97"/>
<circle cx="463.6" cy="930.5" r="6.9" fill="#4e6e97"/>
<circle cx="558.6" cy="965.4" r="6.9" fill="#4e6e97"/>
<circle cx="754.2" cy="913.0" r="6.9" fill="#4e6e97"/>
<circle cx="385.8" cy="557.7" r="6.9" fill="#4e6e97"/>
<circle cx="369.3" cy="785.6" r="6.9" fill="#4e6e97"/>
<circle cx="546.0" cy="453.2" r="6.9" fill="#4e6e97"/>
<circle cx="556.8" cy="825.0" r="6.9" fill="#4e6e97"/>
<circle cx="636.2" cy="685.7" r="6.9" fill="#4e6e97"/>
<circle cx="867.5" cy="488.3" r="6.9" fill="#4e6e97"/>
<circle cx="551.8" cy="556.4" r="6.9" fill="#4e6e97"/>
<circle cx="405.1" cy="525.4" r="6.9" fill="#4e6e97"/>
<circle cx="635.6" cy="695.7" r="6.9" fill="#4e6e97"/>
<circle cx="816.8" cy="602.5" r="6.9" fill="#4e6e97"/>
<circle cx="743.7" cy="486.7" r="6.9" fill="#4e6e97"/>
<circle cx="468.1" cy="757.0" r="6.9" fill="#4e6e97"/>
<circle cx="583.5" cy="973.7" r="6.9" fill="#4e6e97"/>
<circle cx="588.9" cy="651.4" r="6.9" fill="#4e6e97"/>
<circle cx="787.7" cy="892.8" r="6.9" fill="#4e6e97"/>
<circle cx="936.6" cy="694.4" r="6.9" fill="#4e6e97"/>
<circle cx="942.5" cy="429.4" r="6.9" fill="#4e6e97"/>
<circle cx="624.6" cy="915.4" r="6.9" fill="#4e6e97"/>
<circle cx="531.1" cy="868.2" r="6.9" fill="#4e6e97"/>
<circle cx="652.4" cy="1067.5" r="6.9" fill="#4e6e97"/>
<circle cx="351.2" cy="969.6" r="6.9" fill="#4e6e97"/>
<circle cx="357.9" cy="824.3" r="6.9" fill="#4e6e97"/>
<circle cx="647.8" cy="822.8" r="6.9" fill="#4e6e97"/>
<circle cx="724.0" cy="684.3" r="6.9" fill="#4e6e97"/>
<circle cx="890.9" cy="593.8" r="6.9" fill="#4e6e97"/>
<circle cx="405.8" cy="817.8" r="6.9" fill="#4e6e97"/>
<circle cx="672.5" cy="1096.7" r="6.9" fill="#4e6e97"/>
<circle cx="688.8" cy="843.9" r="6.9" fill="#4e6e97"/>
<circle cx="435.3" cy="813.4" r="6.9" fill="#4e6e97"/>
<circle cx="344.1" cy="783.1" r="6.9" fill="#4e6e97"/>
<circle cx="716.4" cy="652.4" r="6.9" fill="#4e6e97"/>
<circle cx="674.3" cy="483.6" r="6.9" fill="#4e6e97"/>
<circle cx="931.8" cy="295.1" r="6.9" fill="#4e6e97"/>
<circle cx="728.6" cy="374.1" r="6.9" fill="#4e6e97"/>
<circle cx="534.7" cy="783.0" r="6.9" fill="#4e6e97"/>
<circle cx="497.5" cy="892.8" r="6.9" fill="#4e6e97"/>
<circle cx="397.4" cy="847.2" r="6.9" fill="#4e6e97"/>
<circle cx="594.6" cy="811.4" r="6.9" fill="#4e6e97"/>
<circle cx="729.3" cy="1007.2" r="6.9" fill="#4e6e97"/>
<circle cx="713.8" cy="505.4" r="6.9" fill="#4e6e97"/>
<circle cx="845.5" cy="557.9" r="6.9" fill="#4e6e97"/>
<circle cx="786.3" cy="691.9" r="6.9" fill="#4e6e97"/>
<circle cx="798.8" cy="665.4" r="6.9" fill="#4e6e97"/>
<circle cx="695.8" cy="303.1" r="6.9" fill="#4e6e97"/>
<circle cx="574.7" cy="908.8" r="6.9" fill="#4e6e97"/>
<circle cx="676.7" cy="373.1" r="6.9" fill="#4e6e97"/>
<circle cx="922.3" cy="793.2" r="6.9" fill="#4e6e97"/>
<circle cx="642.9" cy="693.8" r="6.9" fill="#4e6e97"/>
<circle cx="667.3" cy="995.5" r="6.9" fill="#4e6e97"/>
<circle cx="803.4" cy="612.6" r="6.9" fill="#4e6e97"/>
<circle cx="663.7" cy="725.6" r="6.9" fill="#4e6e97"/>
<circle cx="655.6" cy="834.4" r="6.9" fill="#4e6e97"/>
<circle cx="648.9" cy="911.6" r="6.9" fill="#4e6e97"/>
<circle cx="386.1" cy="768.6" r="6.9" fill="#4e6e97"/>
<circle cx="485.7" cy="892.0" r="6.9" fill="#4e6e97"/>
<circle cx="655.2" cy="696.9" r="6.9" fill="#4e6e97"/>
<circle cx="894.7" cy="627.3" r="6.9" fill="#4e6e97"/>
<circle cx="864.8" cy="665.6" r="6.9" fill="#4e6e97"/>
<circle cx="952.0" cy="809.8" r="6.9" fill="#4e6e97"/>
<circle cx="766.6" cy="425.4" r="6.9" fill="#4e6e97"/>
<circle cx="522.1" cy="376.5" r="6.9" fill="#4e6e97"/>
<circle cx="489.0" cy="948.9" r="6.9" fill="#4e6e97"/>
<circle cx="885.0" cy="585.3" r="6.9" fill="#4e6e97"/>
<circle cx="647.1" cy="456.1" r="6.9" fill="#4e6e97"/>
<circle cx="878.7" cy="616.3" r="6.9" fill="#4e6e97"/>
<circle cx="592.6" cy="848.0" r="6.9" fill="#4e6e97"/>
<circle cx="887.6" cy="303.6" r="6.9" fill="#4e6e97"/>
<circle cx="392.6" cy="815.1" r="6.9" fill="#4e6e97"/>
<circle cx="622.7" cy="457.3" r="6.9" fill="#4e6e97"/>
<circle cx="804.4" cy="625.8" r="6.9" fill="#4e6e97"/>
<circle cx="516.5" cy="905.9" r="6.9" fill="#4e6e97"/>
<circle cx="386.6" cy="834.7" r="6.9" fill="#4e6e97"/>
<circle cx="344.7" cy="771.2" r="6.9" fill="#4e6e97"/>
<circle cx="655.3" cy="856.0" r="6.9" fill="#4e6e97"/>
<circle cx="587.0" cy="552.7" r="6.9" fill="#4e6e97"/>
<circle cx="497.4" cy="718.6" r="6.9" fill="#4e6e97"/>
<circle cx="663.6" cy="226.9" r="6.9" fill="#4e6e97"/>
<circle cx="497.9" cy="888.1" r="6.9" fill="#4e6e97"/>
<circle cx="932.9" cy="781.2" r="6.9" fill="#4e6e97"/>
<circle cx="614.0" cy="1063.8" r="6.9" fill="#4e6e97"/>
<circle cx="666.5" cy="346.4" r="6.9" fill="#4e6e97"/>
<circle cx="771.3" cy="446.6" r="6.9" fill="#4e6e97"/>
<circle cx="556.0" cy="1012.5" r="6.9" fill="#4e6e97"/>
<circle cx="827.1" cy="551.5" r="6.9" fill="#4e6e97"/>
<circle cx="610.5" cy="909.6" r="6.9" fill="#4e6e97"/>
<circle cx="313.6" cy="905.4" r="6.9" fill="#4e6e97"/>
<circle cx="524.0" cy="341.5" r="6.9" fill="#4e6e97"/>
<circle cx="637.4" cy="806.1" r="6.9" fill="#4e6e97"/>
<circle cx="670.3" cy="1027.8" r="6.9" fill="#4e6e97"/>
<circle cx="486.4" cy="722.3" r="6.9" fill="#4e6e97"/>
<circle cx="951.9" cy="866.8" r="6.9" fill="#4e6e97"/>
<circle cx="947.6" cy="648.5" r="6.9" fill="#4e6e97"/>
<circle cx="335.1" cy="558.5" r="6.9" fill="#4e6e97"/>
<circle cx="956.0" cy="631.6" r="6.9" fill="#4e6e97"/>
<circle cx="348.8" cy="812.8" r="6.9" fill="#4e6e97"/>
<circle cx="487.1" cy="707.6" r="6.9" fill="#4e6e97"/>
<circle cx="377.5" cy="747.9" r="6.9" fill="#4e6e97"/>
<circle cx="597.8" cy="804.3" r="6.9" fill="#4e6e97"/>
<circle cx="693.7" cy="474.2" r="6.9" fill="#4e6e97"/>
<circle cx="671.4" cy="972.7" r="6.9" fill="#4e6e97"/>
<circle cx="416.9" cy="769.7" r="6.9" fill="#4e6e97"/>
<circle cx="567.9" cy="410.4" r="6.9" fill="#4e6e97"/>
<circle cx="602.2" cy="435.5" r="6.9" fill="#4e6e97"/>
<circle cx="803.3" cy="638.0" r="6.9" fill="#4e6e97"/>
<circle cx="637.2" cy="832.1" r="6.9" fill="#4e6e97"/>
<circle cx="427.7" cy="786.3" r="6.9" fill="#4e6e97"/>
<circle cx="826.2" cy="705.1" r="6.9" fill="#4e6e97"/>
<circle cx="543.6" cy="991.6" r="6.9" fill="#4e6e97"/>
<circle cx="712.2" cy="302.1" r="6.9" fill="#4e6e97"/>
<circle cx="406.9" cy="712.9" r="6.9" fill="#4e6e97"/>
<circle cx="713.8" cy="868.4" r="6.9" fill="#4e6e97"/>
<circle cx="765.3" cy="433.1" r="6.9" fill="#4e6e97"/>
<circle cx="570.5" cy="452.2" r="6.9" fill="#4e6e97"/>
<circle cx="525.5" cy="485.5" r="6.9" fill="#4e6e97"/>
<circle cx="895.5" cy="787.7" r="6.9" fill="#4e6e97"/>
<circle cx="909.1" cy="795.1" r="6.9" fill="#4e6e97"/>
<circle cx="551.7" cy="423.1" r="6.9" fill="#4e6e97"/>
<circle cx="549.6" cy="765.4" r="6.9" fill="#4e6e97"/>
<circle cx="692.4" cy="1017.4" r="6.9" fill="#4e6e97"/>
<circle cx="770.9" cy="223.6" r="6.9" fill="#4e6e97"/>
<circle cx="375.1" cy="808.3" r="6.9" fill="#4e6e97"/>
<circle cx="481.9" cy="922.9" r="6.9" fill="#4e6e97"/>
<circle cx="887.3" cy="606.6" r="6.9" fill="#4e6e97"/>
<circle cx="923.5" cy="796.4" r="6.9" fill="#4e6e97"/>
<circle cx="367.5" cy="474.7" r="6.9" fill="#4e6e97"/>
<circle cx="382.4" cy="817.1" r="6.9" fill="#4e6e97"/>
<circle cx="572.6" cy="505.2" r="6.9" fill="#4e6e97"/>
<circle cx="405.2" cy="831.1" r="6.9" fill="#4e6e97"/>
<circle cx="748.5" cy="507.2" r="6.9" fill="#4e6e97"/>
<circle cx="504.9" cy="497.5" r="6.9" fill="#4e6e97"/>
<circle cx="565.7" cy="842.7" r="6.9" fill="#4e6e97"/>
<circle cx="526.9" cy="525.4" r="6.9" fill="#4e6e97"/>
<circle cx="512.4" cy="977.0" r="6.9" fill="#4e6e97"/>
<circle cx="658.3" cy="681.1" r="6.9" fill="#4e6e97"/>
<circle cx="386.0" cy="846.5" r="6.9" fill="#4e6e97"/>
<circle cx="885.7" cy="791.1" r="6.9" fill="#4e6e97"/>
<circle cx="803.6" cy="743.0" r="6.9" fill="#4e6e97"/>
<circle cx="469.5" cy="454.8" r="6.9" fill="#4e6e97"/>
<circle cx="470.2" cy="769.8" r="6.9" fill="#4e6e97"/>
<circle cx="891.5" cy="656.6" r="6.9" fill="#4e6e97"/>
<circle cx="884.1" cy="361.7" r="6.9" fill="#4e6e97"/>
<circle cx="612.0" cy="941.7" r="6.9" fill="#4e6e97"/>
<circle cx="576.1" cy="894.6" r="6.9" fill="#4e6e97"/>
<circle cx="745.5" cy="1035.4" r="6.9" fill="#4e6e97"/>
<circle cx="634.7" cy="986.0" r="6.9" fill="#4e6e97"/>
<circle cx="778.9" cy="521.7" r="6.9" fill="#4e6e97"/>
<circle cx="993.9" cy="816.8" r="6.9" fill="#4e6e97"/>
<circle cx="782.7" cy="890.7" r="6.9" fill="#4e6e97"/>
<circle cx="659.0" cy="843.4" r="6.9" fill="#4e6e97"/>
<circle cx="522.7" cy="362.2" r="6.9" fill="#4e6e97"/>
<circle cx="587.0" cy="983.9" r="6.9" fill="#4e6e97"/>
<circle cx="782.1" cy="752.5" r="6.9" fill="#4e6e97"/>
<circle cx="509.0" cy="784.7" r="6.9" fill="#4e6e97"/>
<circle cx="547.8" cy="569.8" r="6.9" fill="#4e6e97"/>
<circle cx="872.1" cy="651.4" r="6.9" fill="#4e6e97"/>
<circle cx="972.9" cy="465.2" r="6.9" fill="#4e6e97"/>
<circle cx="487.1" cy="772.4" r="6.9" fill="#4e6e97"/>
<circle cx="512.1" cy="936.2" r="6.9" fill="#4e6e97"/>
<circle cx="326.0" cy="815.4" r="6.9" fill="#4e6e97"/>
<circle cx="846.9" cy="549.0" r="6.9" fill="#4e6e97"/>
<circle cx="512.2" cy="534.9" r="6.9" fill="#4e6e97"/>
<circle cx="643.8" cy="687.4" r="6.9" fill="#4e6e97"/>
<circle cx="647.5" cy="463.7" r="6.9" fill="#4e6e97"/>
<circle cx="432.2" cy="803.6" r="6.9" fill="#4e6e97"/>
<circle cx="886.3" cy="633.6" r="6.9" fill="#4e6e97"/>
<circle cx="564.6" cy="468.4" r="6.9" fill="#4e6e97"/>
<circle cx="373.7" cy="577.2" r="6.9" fill="#4e6e97"/>
<circle cx="757.2" cy="656.4" r="6.9" fill="#4e6e97"/>
<circle cx="736.9" cy="665.9" r="6.9" fill="#4e6e97"/>
<circle cx="776.8" cy="753.0" r="6.9" fill="#4e6e97"/>
<circle cx="877.3" cy="562.5" r="6.9" fill="#4e6e97"/>
<circle cx="466.6" cy="748.3" r="6.9" fill="#4e6e97"/>
<circle cx="833.3" cy="536.6" r="6.9" fill="#4e6e97"/>
<circle cx="524.5" cy="437.1" r="6.9" fill="#4e6e97"/>
<circle cx="357.5" cy="811.3" r="6.9" fill="#4e6e97"/>
<circle cx="563.1" cy="215.9" r="6.9" fill="#4e6e97"/>
<circle cx="638.4" cy="977.9" r="6.9" fill="#4e6e97"/>
<circle cx="703.9" cy="864.7" r="6.9" fill="#4e6e97"/>
<circle cx="817.2" cy="424.6" r="6.9" fill="#4e6e97"/>
<circle cx="507.9" cy="514.0" r="6.9" fill="#4e6e97"/>
<circle cx="411.8" cy="785.8" r="6.9" fill="#4e6e97"/>
<circle cx="614.7" cy="897.0" r="6.9" fill="#4e6e97"/>
<circle cx="637.3" cy="993.4" r="6.9" fill="#4e6e97"/>
<circle cx="715.5" cy="683.2" r="6.9" fill="#4e6e97"/>
<circle cx="746.9" cy="311.4" r="6.9" fill="#4e6e97"/>
<circle cx="936.7" cy="912.2" r="6.9" fill="#4e6e97"/>
<circle cx="728.4" cy="656.5" r="6.9" fill="#4e6e97"/>
<circle cx="366.5" cy="827.3" r="6.9" fill="#4e6e97"/>
<circle cx="688.6" cy="1004.7" r="6.9" fill="#4e6e97"/>
<circle cx="525.7" cy="796.7" r="6.9" fill="#4e6e97"/>
<circle cx="726.0" cy="634.2" r="6.9" fill="#4e6e97"/>
<circle cx="665.4" cy="651.5" r="6.9" fill="#4e6e97"/>
<circle cx="893.8" cy="615.9" r="6.9" fill="#4e6e97"/>
<circle cx="565.5" cy="438.8" r="6.9" fill="#4e6e97"/>
<circle cx="425.8" cy="814.5" r="6.9" fill="#4e6e97"/>
<circle cx="394.8" cy="838.9" r="6.9" fill="#4e6e97"/>
<circle cx="657.1" cy="907.4" r="6.9" fill="#4e6e97"/>
<circle cx="872.4" cy="532.8" r="6.9" fill="#4e6e97"/>
<circle cx="835.9" cy="551.2" r="6.9" fill="#4e6e97"/>
<circle cx="637.2" cy="551.7" r="6.9" fill="#4e6e97"/>
<circle cx="675.0" cy="496.5" r="6.9" fill="#4e6e97"/>
<circle cx="342.0" cy="772.1" r="6.9" fill="#4e6e97"/>
<circle cx="644.8" cy="441.0" r="6.9" fill="#4e6e97"/>
<circle cx="789.4" cy="603.8" r="6.9" fill="#4e6e97"/>
<circle cx="605.6" cy="487.3" r="6.9" fill="#4e6e97"/>
<circle cx="694.6" cy="630.8" r="6.9" fill="#4e6e97"/>
<circle cx="473.5" cy="408.0" r="6.9" fill="#4e6e97"/>
<circle cx="731.3" cy="449.1" r="6.9" fill="#4e6e97"/>
<circle cx="956.7" cy="678.9" r="6.9" fill="#4e6e97"/>
<circle cx="591.4" cy="955.1" r="6.9" fill="#4e6e97"/>
<circle cx="384.3" cy="766.0" r="6.9" fill="#4e6e97"/>
<circle cx="573.8" cy="649.2" r="6.9" fill="#4e6e97"/>
<circle cx="376.7" cy="762.1" r="6.9" fill="#4e6e97"/>
<circle cx="346.1" cy="802.1" r="6.9" fill="#4e6e97"/>
<circle cx="725.9" cy="989.7" r="6.9" fill="#4e6e97"/>
<circle cx="746.2" cy="643.4" r="6.9" fill="#4e6e97"/>
<circle cx="652.3" cy="573.3" r="6.9" fill="#4e6e97"/>
<circle cx="774.7" cy="1025.4" r="6.9" fill="#4e6e97"/>
<circle cx="463.1" cy="715.8" r="6.9" fill="#4e6e97"/>
<circle cx="934.2" cy="674.7" r="6.9" fill="#4e6e97"/>
<circle cx="875.1" cy="586.0" r="6.9" fill="#4e6e97"/>
<circle cx="653.1" cy="446.3" r="6.9" fill="#4e6e97"/>
<circle cx="617.8" cy="951.2" r="6.9" fill="#4e6e97"/>
<circle cx="817.0" cy="633.1" r="6.9" fill="#4e6e97"/>
<circle cx="777.8" cy="683.9" r="6.9" fill="#4e6e97"/>
<circle cx="703.7" cy="688.9" r="6.9" fill="#4e6e97"/>
<circle cx="886.5" cy="628.3" r="6.9" fill="#4e6e97"/>
<circle cx="533.5" cy="351.8" r="6.9" fill="#4e6e97"/>
<circle cx="469.3" cy="416.7" r="6.9" fill="#4e6e97"/>
<circle cx="353.9" cy="567.3" r="6.9" fill="#4e6e97"/>
<circle cx="675.7" cy="992.8" r="6.9" fill="#4e6e97"/>
<circle cx="412.0" cy="713.7" r="6.9" fill="#4e6e97"/>
<circle cx="922.9" cy="635.9" r="6.9" fill="#4e6e97"/>
<circle cx="633.0" cy="534.2" r="6.9" fill="#4e6e97"/>
<circle cx="515.6" cy="1001.1" r="6.9" fill="#4e6e97"/>
<circle cx="924.3" cy="502.5" r="6.9" fill="#4e6e97"/>
<circle cx="813.6" cy="955.1" r="6.9" fill="#4e6e97"/>
<circle cx="913.8" cy="877.2" r="6.9" fill="#4e6e97"/>
<circle cx="414.7" cy="735.8" r="6.9" fill="#4e6e97"/>
<circle cx="418.1" cy="753.7" r="6.9" fill="#4e6e97"/>
<circle cx="691.2" cy="982.3" r="6.9" fill="#4e6e97"/>
<circle cx="513.2" cy="843.7" r="6.9" fill="#4e6e97"/>
<circle cx="864.6" cy="627.5" r="6.9" fill="#4e6e97"/>
<circle cx="345.9" cy="821.3" r="6.9" fill="#4e6e97"/>
<circle cx="878.0" cy="625.8" r="6.9" fill="#4e6e97"/>
<circle cx="587.0" cy="708.0" r="6.9" fill="#4e6e97"/>
<circle cx="631.3" cy="917.9" r="6.9" fill="#4e6e97"/>
<circle cx="724.5" cy="882.4" r="6.9" fill="#4e6e97"/>
<circle cx="763.5" cy="887.2" r="6.9" fill="#4e6e97"/>
<circle cx="547.5" cy="950.6" r="6.9" fill="#4e6e97"/>
<circle cx="456.9" cy="713.5" r="6.9" fill="#4e6e97"/>
<circle cx="376.3" cy="848.3" r="6.9" fill="#4e6e97"/>
<circle cx="796.7" cy="628.0" r="6.9" fill="#4e6e97"/>
<circle cx="686.1" cy="953.0" r="6.9" fill="#4e6e97"/>
<circle cx="563.1" cy="976.7" r="6.9" fill="#4e6e97"/>
<circle cx="833.7" cy="486.1" r="6.9" fill="#4e6e97"/>
<circle cx="654.5" cy="366.3" r="6.9" fill="#4e6e97"/>
<circle cx="824.3" cy="567.8" r="6.9" fill="#4e6e97"/>
<circle cx="395.1" cy="755.1" r="6.9" fill="#4e6e97"/>
<circle cx="711.4" cy="711.1" r="6.9" fill="#4e6e97"/>
<circle cx="807.4" cy="607.9" r="6.9" fill="#4e6e97"/>
<circle cx="722.8" cy="1042.3" r="6.9" fill="#4e6e97"/>
<circle cx="383.5" cy="570.6" r="6.9" fill="#4e6e97"/>
<circle cx="896.6" cy="786.1" r="6.9" fill="#4e6e97"/>
<circle cx="883.7" cy="314.1" r="6.9" fill="#4e6e97"/>
<circle cx="426.9" cy="806.6" r="6.9" fill="#4e6e97"/>
<circle cx="391.9" cy="855.8" r="6.9" fill="#4e6e97"/>
<circle cx="466.5" cy="411.5" r="6.9" fill="#4e6e97"/>
<circle cx="629.8" cy="442.6" r="6.9" fill="#4e6e97"/>
<circle cx="593.6" cy="517.4" r="6.9" fill="#4e6e97"/>
<circle cx="525.8" cy="776.4" r="6.9" fill="#4e6e97"/>
<circle cx="784.2" cy="741.8" r="6.9" fill="#4e6e97"/>
<circle cx="349.7" cy="503.0" r="6.9" fill="#4e6e97"/>
<circle cx="875.7" cy="594.6" r="6.9" fill="#4e6e97"/>
<circle cx="426.9" cy="735.3" r="6.9" fill="#4e6e97"/>
<circle cx="827.3" cy="575.5" r="6.9" fill="#4e6e97"/>
<circle cx="713.3" cy="492.0" r="6.9" fill="#4e6e97"/>
<circle cx="624.2" cy="510.2" r="6.9" fill="#4e6e97"/>
<circle cx="766.0" cy="696.9" r="6.9" fill="#4e6e97"/>
<circle cx="603.9" cy="482.2" r="6.9" fill="#4e6e97"/>
<circle cx="752.4" cy="741.7" r="6.9" fill="#4e6e97"/>
<circle cx="751.7" cy="443.6" r="6.9" fill="#4e6e97"/>
<circle cx="636.4" cy="918.9" r="6.9" fill="#4e6e97"/>
<circle cx="834.2" cy="576.0" r="6.9" fill="#4e6e97"/>
<circle cx="565.1" cy="1048.9" r="6.9" fill="#4e6e97"/>
<circle cx="630.6" cy="407.7" r="6.9" fill="#4e6e97"/>
<circle cx="648.5" cy="475.8" r="6.9" fill="#4e6e97"/>
<circle cx="413.3" cy="843.2" r="6.9" fill="#4e6e97"/>
<circle cx="706.6" cy="706.9" r="6.9" fill="#4e6e97"/>
<circle cx="732.9" cy="623.4" r="6.9" fill="#4e6e97"/>
<circle cx="832.9" cy="617.6" r="6.9" fill="#4e6e97"/>
<circle cx="605.6" cy="457.5" r="6.9" fill="#4e6e97"/>
<circle cx="827.7" cy="611.6" r="6.9" fill="#4e6e97"/>
<circle cx="426.0" cy="774.5" r="6.9" fill="#4e6e97"/>
<circle cx="611.3" cy="1067.5" r="6.9" fill="#4e6e97"/>
<circle cx="572.7" cy="1066.4" r="6.9" fill="#4e6e97"/>
<circle cx="706.9" cy="442.2" r="6.9" fill="#4e6e97"/>
<circle cx="328.5" cy="906.3" r="6.9" fill="#4e6e97"/>
<circle cx="655.3" cy="1068.7" r="6.9" fill="#4e6e97"/>
<circle cx="648.8" cy="505.3" r="6.9" fill="#4e6e97"/>
<circle cx="564.9" cy="542.7" r="6.9" fill="#4e6e97"/>
<circle cx="387.8" cy="803.9" r="6.9" fill="#4e6e97"/>
<circle cx="865.5" cy="485.1" r="6.9" fill="#4e6e97"/>
<circle cx="551.1" cy="531.3" r="6.9" fill="#4e6e97"/>
<circle cx="814.0" cy="648.3" r="6.9" fill="#4e6e97"/>
<circle cx="743.6" cy="658.9" r="6.9" fill="#4e6e97"/>
<circle cx="546.8" cy="572.7" r="6.9" fill="#4e6e97"/>
<circle cx="732.7" cy="441.9" r="6.9" fill="#4e6e97"/>
<circle cx="693.4" cy="857.3" r="6.9" fill="#4e6e97"/>
<circle cx="446.4" cy="742.3" r="6.9" fill="#4e6e97"/>
<circle cx="650.8" cy="955.3" r="6.9" fill="#4e6e97"/>
<circle cx="731.3" cy="532.4" r="6.9" fill="#4e6e97"/>
<circle cx="833.9" cy="586.2" r="6.9" fill="#4e6e97"/>
<circle cx="857.4" cy="567.5" r="6.9" fill="#4e6e97"/>
<circle cx="605.8" cy="847.3" r="6.9" fill="#4e6e97"/>
<circle cx="668.1" cy="924.6" r="6.9" fill="#4e6e97"/>
<circle cx="535.9" cy="549.9" r="6.9" fill="#4e6e97"/>
<circle cx="390.0" cy="732.7" r="6.9" fill="#4e6e97"/>
<circle cx="786.3" cy="304.2" r="6.9" fill="#4e6e97"/>
<circle cx="745.0" cy="423.0" r="6.9" fill="#4e6e97"/>
<circle cx="965.7" cy="686.5" r="6.9" fill="#4e6e97"/>
<circle cx="543.5" cy="557.8" r="6.9" fill="#4e6e97"/>
<circle cx="514.5" cy="732.9" r="6.9" fill="#4e6e97"/>
<circle cx="623.9" cy="706.3" r="6.9" fill="#4e6e97"/>
<circle cx="775.4" cy="683.1" r="6.9" fill="#4e6e97"/>
<circle cx="791.9" cy="452.2" r="6.9" fill="#4e6e97"/>
<circle cx="756.3" cy="507.1" r="6.9" fill="#4e6e97"/>
<circle cx="691.8" cy="313.6" r="6.9" fill="#4e6e97"/>
<circle cx="912.1" cy="648.6" r="6.9" fill="#4e6e97"/>
<circle cx="646.0" cy="925.7" r="6.9" fill="#4e6e97"/>
<circle cx="538.6" cy="963.0" r="6.9" fill="#4e6e97"/>
<circle cx="903.9" cy="848.2" r="6.9" fill="#4e6e97"/>
<circle cx="602.3" cy="982.1" r="6.9" fill="#4e6e97"/>
<circle cx="405.0" cy="830.0" r="6.9" fill="#4e6e97"/>
<circle cx="872.7" cy="332.8" r="6.9" fill="#4e6e97"/>
<circle cx="409.0" cy="776.9" r="6.9" fill="#4e6e97"/>
<circle cx="815.6" cy="733.0" r="6.9" fill="#4e6e97"/>
<circle cx="824.7" cy="756.9" r="6.9" fill="#4e6e97"/>
<circle cx="515.1" cy="502.0" r="6.9" fill="#4e6e97"/>
<circle cx="544.1" cy="466.7" r="6.9" fill="#4e6e97"/>
<circle cx="584.9" cy="933.7" r="6.9" fill="#4e6e97"/>
<circle cx="418.2" cy="742.1" r="6.9" fill="#4e6e97"/>
<circle cx="702.5" cy="707.4" r="6.9" fill="#4e6e97"/>
<circle cx="728.2" cy="1021.8" r="6.9" fill="#4e6e97"/>
<circle cx="662.5" cy="1074.7" r="6.9" fill="#4e6e97"/>
<circle cx="475.6" cy="748.2" r="6.9" fill="#4e6e97"/>
<circle cx="452.2" cy="752.4" r="6.9" fill="#4e6e97"/>
<circle cx="604.9" cy="945.9" r="6.9" fill="#4e6e97"/>
<circle cx="608.6" cy="541.4" r="6.9" fill="#4e6e97"/>
<circle cx="794.3" cy="658.6" r="6.9" fill="#4e6e97"/>
<circle cx="907.1" cy="658.2" r="6.9" fill="#4e6e97"/>
<circle cx="382.1" cy="758.2" r="6.9" fill="#4e6e97"/>
<circle cx="435.3" cy="844.9" r="6.9" fill="#4e6e97"/>
<circle cx="678.9" cy="977.1" r="6.9" fill="#4e6e97"/>
<circle cx="582.5" cy="812.3" r="6.9" fill="#4e6e97"/>
<circle cx="503.7" cy="907.3" r="6.9" fill="#4e6e97"/>
<circle cx="875.1" cy="593.3" r="6.9" fill="#4e6e97"/>
<circle cx="749.4" cy="1027.3" r="6.9" fill="#4e6e97"/>
<circle cx="545.3" cy="1028.4" r="6.9" fill="#4e6e97"/>
<circle cx="623.4" cy="933.0" r="6.9" fill="#4e6e97"/>
<circle cx="462.1" cy="408.6" r="6.9" fill="#4e6e97"/>
<circle cx="654.3" cy="921.4" r="6.9" fill="#4e6e97"/>
<circle cx="892.3" cy="597.8" r="6.9" fill="#4e6e97"/>
<circle cx="996.4" cy="855.2" r="6.9" fill="#4e6e97"/>
<circle cx="671.3" cy="366.0" r="6.9" fill="#4e6e97"/>
<circle cx="632.7" cy="882.1" r="6.9" fill="#4e6e97"/>
<circle cx="563.5" cy="535.3" r="6.9" fill="#4e6e97"/>
<circle cx="517.1" cy="987.5" r="6.9" fill="#4e6e97"/>
<circle cx="818.3" cy="727.6" r="6.9" fill="#4e6e97"/>
<circle cx="529.9" cy="711.9" r="6.9" fill="#4e6e97"/>
<circle cx="590.8" cy="852.7" r="6.9" fill="#4e6e97"/>
<circle cx="827.2" cy="542.0" r="6.9" fill="#4e6e97"/>
<circle cx="592.6" cy="972.4" r="6.9" fill="#4e6e97"/>
<circle cx="754.3" cy="725.1" r="6.9" fill="#4e6e97"/>
<circle cx="443.1" cy="755.9" r="6.9" fill="#4e6e97"/>
<circle cx="685.7" cy="691.9" r="6.9" fill="#4e6e97"/>
<circle cx="557.3" cy="1018.6" r="6.9" fill="#4e6e97"/>
<circle cx="749.2" cy="692.0" r="6.9" fill="#4e6e97"/>
<circle cx="872.6" cy="646.8" r="6.9" fill="#4e6e97"/>
<circle cx="442.5" cy="711.1" r="6.9" fill="#4e6e97"/>
<circle cx="409.4" cy="755.0" r="6.9" fill="#4e6e97"/>
<circle cx="684.7" cy="311.1" r="6.9" fill="#4e6e97"/>
<circle cx="605.0" cy="717.0" r="6.9" fill="#4e6e97"/>
<circle cx="368.0" cy="572.8" r="6.9" fill="#4e6e97"/>
<circle cx="494.1" cy="882.5" r="6.9" fill="#4e6e97"/>
<circle cx="612.0" cy="577.0" r="6.9" fill="#4e6e97"/>
<circle cx="210.3" cy="452.0" r="6.9" fill="#4e6e97"/>
<circle cx="585.0" cy="733.0" r="6.9" fill="#4e6e97"/>
<circle cx="909.7" cy="453.1" r="6.9" fill="#4e6e97"/>
<circle cx="607.2" cy="508.4" r="6.9" fill="#4e6e97"/>
<circle cx="548.5" cy="794.7" r="6.9" fill="#4e6e97"/>
<circle cx="906.0" cy="662.9" r="6.9" fill="#4e6e97"/>
<circle cx="602.7" cy="903.5" r="6.9" fill="#4e6e97"/>
<circle cx="393.2" cy="748.8" r="6.9" fill="#4e6e97"/>
<circle cx="402.8" cy="795.3" r="6.9" fill="#4e6e97"/>
<circle cx="753.7" cy="448.3" r="6.9" fill="#4e6e97"/>
<circle cx="471.0" cy="735.0" r="6.9" fill="#4e6e97"/>
<circle cx="718.5" cy="844.8" r="6.9" fill="#4e6e97"/>
<circle cx="883.8" cy="331.8" r="6.9" fill="#4e6e97"/>
<circle cx="392.9" cy="709.2" r="6.9" fill="#4e6e97"/>
<circle cx="793.7" cy="308.2" r="6.9" fill="#4e6e97"/>
<circle cx="637.8" cy="423.4" r="6.9" fill="#4e6e97"/>
<circle cx="933.8" cy="326.3" r="6.9" fill="#4e6e97"/>
<circle cx="587.9" cy="434.8" r="6.9" fill="#4e6e97"/>
<circle cx="668.3" cy="1004.2" r="6.9" fill="#4e6e97"/>
<circle cx="566.5" cy="509.0" r="6.9" fill="#4e6e97"/>
<circle cx="607.1" cy="522.1" r="6.9" fill="#4e6e97"/>
<circle cx="753.6" cy="525.4" r="6.9" fill="#4e6e97"/>
<circle cx="747.8" cy="546.2" r="6.9" fill="#4e6e97"/>
<circle cx="991.0" cy="335.9" r="6.9" fill="#4e6e97"/>
<circle cx="367.0" cy="814.3" r="6.9" fill="#4e6e97"/>
<circle cx="454.2" cy="704.9" r="6.9" fill="#4e6e97"/>
<circle cx="683.1" cy="655.2" r="6.9" fill="#4e6e97"/>
<circle cx="867.3" cy="584.3" r="6.9" fill="#4e6e97"/>
<circle cx="808.8" cy="604.4" r="6.9" fill="#4e6e97"/>
<circle cx="393.2" cy="730.4" r="6.9" fill="#4e6e97"/>
<circle cx="931.4" cy="428.0" r="6.9" fill="#4e6e97"/>
<circle cx="930.8" cy="687.3" r="6.9" fill="#4e6e97"/>
<circle cx="516.5" cy="767.3" r="6.9" fill="#4e6e97"/>
<circle cx="794.9" cy="723.2" r="6.9" fill="#4e6e97"/>
<circle cx="529.6" cy="470.9" r="6.9" fill="#4e6e97"/>
<circle cx="587.3" cy="346.7" r="6.9" fill="#4e6e97"/>
<circle cx="808.2" cy="681.8" r="6.9" fill="#4e6e97"/>
<circle cx="686.6" cy="462.2" r="6.9" fill="#4e6e97"/>
<circle cx="625.1" cy="709.8" r="6.9" fill="#4e6e97"/>
<circle cx="677.8" cy="694.7" r="6.9" fill="#4e6e97"/>
<circle cx="837.2" cy="457.0" r="6.9" fill="#4e6e97"/>
<circle cx="446.4" cy="751.9" r="6.9" fill="#4e6e97"/>
<circle cx="688.8" cy="969.8" r="6.9" fill="#4e6e97"/>
<circle cx="755.4" cy="653.1" r="6.9" fill="#4e6e97"/>
<circle cx="1033.9" cy="325.6" r="6.9" fill="#4e6e97"/>
<circle cx="586.4" cy="966.4" r="6.9" fill="#4e6e97"/>
<circle cx="548.6" cy="526.6" r="6.9" fill="#4e6e97"/>
<circle cx="904.4" cy="614.2" r="6.9" fill="#4e6e97"/>
<circle cx="668.2" cy="950.3" r="6.9" fill="#4e6e97"/>
<circle cx="330.6" cy="769.4" r="6.9" fill="#4e6e97"/>
<circle cx="351.0" cy="761.1" r="6.9" fill="#4e6e97"/>
<circle cx="622.3" cy="525.7" r="6.9" fill="#4e6e97"/>
<circle cx="635.5" cy="568.4" r="6.9" fill="#4e6e97"/>
<circle cx="974.2" cy="647.0" r="6.9" fill="#4e6e97"/>
<circle cx="927.3" cy="689.9" r="6.9" fill="#4e6e97"/>
<circle cx="635.6" cy="1053.7" r="6.9" fill="#4e6e97"/>
<circle cx="649.8" cy="484.9" r="6.9" fill="#4e6e97"/>
<circle cx="855.4" cy="597.2" r="6.9" fill="#4e6e97"/>
<circle cx="826.0" cy="591.6" r="6.9" fill="#4e6e97"/>
<circle cx="685.8" cy="757.8" r="6.9" fill="#4e6e97"/>
<circle cx="523.1" cy="450.9" r="6.9" fill="#4e6e97"/>
<circle cx="522.9" cy="825.7" r="6.9" fill="#4e6e97"/>
<circle cx="810.4" cy="793.9" r="6.9" fill="#4e6e97"/>
<circle cx="686.6" cy="671.5" r="6.9" fill="#4e6e97"/>
<circle cx="787.3" cy="433.3" r="6.9" fill="#4e6e97"/>
<circle cx="682.7" cy="675.9" r="6.9" fill="#4e6e97"/>
<circle cx="643.3" cy="923.5" r="6.9" fill="#4e6e97"/>
<circle cx="595.7" cy="503.0" r="6.9" fill="#4e6e97"/>
<circle cx="755.6" cy="422.3" r="6.9" fill="#4e6e97"/>
<circle cx="376.8" cy="855.6" r="6.9" fill="#4e6e97"/>
<circle cx="368.2" cy="765.2" r="6.9" fill="#4e6e97"/>
<circle cx="452.4" cy="726.6" r="6.9" fill="#4e6e97"/>
<circle cx="549.3" cy="577.7" r="6.9" fill="#4e6e97"/>
<circle cx="797.4" cy="715.8" r="6.9" fill="#4e6e97"/>
<circle cx="909.7" cy="770.6" r="6.9" fill="#4e6e97"/>
<circle cx="647.2" cy="925.5" r="6.9" fill="#4e6e97"/>
<circle cx="566.6" cy="491.3" r="6.9" fill="#4e6e97"/>
<circle cx="686.5" cy="641.9" r="6.9" fill="#4e6e97"/>
<circle cx="610.3" cy="704.0" r="6.9" fill="#4e6e97"/>
<circle cx="776.1" cy="664.2" r="6.9" fill="#4e6e97"/>
<circle cx="793.3" cy="1012.9" r="6.9" fill="#4e6e97"/>
<circle cx="708.4" cy="732.7" r="6.9" fill="#4e6e97"/>
<circle cx="628.1" cy="422.2" r="6.9" fill="#4e6e97"/>
<circle cx="658.2" cy="982.3" r="6.9" fill="#4e6e97"/>
<circle cx="673.5" cy="443.7" r="6.9" fill="#4e6e97"/>
<circle cx="832.9" cy="624.4" r="6.9" fill="#4e6e97"/>
<circle cx="702.4" cy="455.4" r="6.9" fill="#4e6e97"/>
<circle cx="364.5" cy="809.8" r="6.9" fill="#4e6e97"/>
<circle cx="615.6" cy="461.9" r="6.9" fill="#4e6e97"/>
<circle cx="608.1" cy="852.9" r="6.9" fill="#4e6e97"/>
<circle cx="638.5" cy="556.3" r="6.9" fill="#4e6e97"/>
<circle cx="544.8" cy="496.9" r="6.9" fill="#4e6e97"/>
<circle cx="742.7" cy="681.7" r="6.9" fill="#4e6e97"/>
<circle cx="785.6" cy="622.2" r="6.9" fill="#4e6e97"/>
<circle cx="767.5" cy="712.4" r="6.9" fill="#4e6e97"/>
<circle cx="589.4" cy="906.0" r="6.9" fill="#4e6e97"/>
<circle cx="585.4" cy="1023.6" r="6.9" fill="#4e6e97"/>
<circle cx="530.5" cy="533.3" r="6.9" fill="#4e6e97"/>
<circle cx="802.1" cy="914.1" r="6.9" fill="#4e6e97"/>
<circle cx="593.8" cy="742.6" r="6.9" fill="#4e6e97"/>
<circle cx="426.8" cy="856.6" r="6.9" fill="#4e6e97"/>
<circle cx="1052.6" cy="321.0" r="6.9" fill="#4e6e97"/>
<circle cx="777.5" cy="422.2" r="6.9" fill="#4e6e97"/>
<circle cx="688.4" cy="569.0" r="6.9" fill="#4e6e97"/>
<circle cx="403.9" cy="842.6" r="6.9" fill="#4e6e97"/>
<circle cx="827.8" cy="583.4" r="6.9" fill="#4e6e97"/>
<circle cx="412.7" cy="552.5" r="6.9" fill="#4e6e97"/>
<circle cx="602.8" cy="1055.9" r="6.9" fill="#4e6e97"/>
<circle cx="747.3" cy="538.9" r="6.9" fill="#4e6e97"/>
<circle cx="626.6" cy="986.0" r="6.9" fill="#4e6e97"/>
<circle cx="535.0" cy="855.2" r="6.9" fill="#4e6e97"/>
<circle cx="552.2" cy="908.1" r="6.9" fill="#4e6e97"/>
<circle cx="893.6" cy="636.5" r="6.9" fill="#4e6e97"/>
<circle cx="829.8" cy="913.1" r="6.9" fill="#4e6e97"/>
<circle cx="558.3" cy="484.4" r="6.9" fill="#4e6e97"/>
<circle cx="608.5" cy="470.6" r="6.9" fill="#4e6e97"/>
<circle cx="692.9" cy="549.4" r="6.9" fill="#4e6e97"/>
<circle cx="576.7" cy="902.5" r="6.9" fill="#4e6e97"/>
<circle cx="477.6" cy="383.4" r="6.9" fill="#4e6e97"/>
<circle cx="608.7" cy="355.4" r="6.9" fill="#4e6e97"/>
<circle cx="351.2" cy="546.5" r="6.9" fill="#4e6e97"/>
<circle cx="633.9" cy="551.5" r="6.9" fill="#4e6e97"/>
<circle cx="684.4" cy="383.8" r="6.9" fill="#4e6e97"/>
<circle cx="695.2" cy="664.8" r="6.9" fill="#4e6e97"/>
<circle cx="571.3" cy="514.3" r="6.9" fill="#4e6e97"/>
<circle cx="612.5" cy="525.6" r="6.9" fill="#4e6e97"/>
<circle cx="663.4" cy="976.1" r="6.9" fill="#4e6e97"/>
<circle cx="926.5" cy="584.3" r="6.9" fill="#4e6e97"/>
<circle cx="774.5" cy="512.4" r="6.9" fill="#4e6e97"/>
<circle cx="707.9" cy="653.9" r="6.9" fill="#4e6e97"/>
<circle cx="743.2" cy="535.6" r="6.9" fill="#4e6e97"/>
<circle cx="887.5" cy="594.6" r="6.9" fill="#4e6e97"/>
<circle cx="834.9" cy="581.4" r="6.9" fill="#4e6e97"/>
<circle cx="614.0" cy="693.0" r="6.9" fill="#4e6e97"/>
<circle cx="858.7" cy="553.9" r="6.9" fill="#4e6e97"/>
<circle cx="401.1" cy="544.2" r="6.9" fill="#4e6e97"/>
<circle cx="391.1" cy="792.2" r="6.9" fill="#4e6e97"/>
<circle cx="776.1" cy="225.2" r="6.9" fill="#4e6e97"/>
<circle cx="730.3" cy="612.0" r="6.9" fill="#4e6e97"/>
<circle cx="708.8" cy="628.1" r="6.9" fill="#4e6e97"/>
<circle cx="688.3" cy="647.5" r="6.9" fill="#4e6e97"/>
<circle cx="854.2" cy="576.4" r="6.9" fill="#4e6e97"/>
<circle cx="733.7" cy="645.4" r="6.9" fill="#4e6e97"/>
<circle cx="372.8" cy="727.3" r="6.9" fill="#4e6e97"/>
<circle cx="568.2" cy="886.5" r="6.9" fill="#4e6e97"/>
<circle cx="608.8" cy="688.9" r="6.9" fill="#4e6e97"/>
<circle cx="687.5" cy="972.8" r="6.9" fill="#4e6e97"/>
<circle cx="924.7" cy="628.1" r="6.9" fill="#4e6e97"/>
<circle cx="685.1" cy="841.7" r="6.9" fill="#4e6e97"/>
<circle cx="617.0" cy="895.0" r="6.9" fill="#4e6e97"/>
<circle cx="546.6" cy="437.5" r="6.9" fill="#4e6e97"/>
<circle cx="861.5" cy="622.6" r="6.9" fill="#4e6e97"/>
<circle cx="388.3" cy="593.9" r="6.9" fill="#4e6e97"/>
<circle cx="622.4" cy="723.0" r="6.9" fill="#4e6e97"/>
<circle cx="335.4" cy="541.2" r="6.9" fill="#4e6e97"/>
<circle cx="548.5" cy="851.9" r="6.9" fill="#4e6e97"/>
<circle cx="314.2" cy="574.5" r="6.9" fill="#4e6e97"/>
<circle cx="547.5" cy="914.4" r="6.9" fill="#4e6e97"/>
<circle cx="646.1" cy="691.7" r="6.9" fill="#4e6e97"/>
<circle cx="473.9" cy="774.9" r="6.9" fill="#4e6e97"/>
<circle cx="833.8" cy="554.7" r="6.9" fill="#4e6e97"/>
<circle cx="617.2" cy="483.6" r="6.9" fill="#4e6e97"/>
<circle cx="645.0" cy="968.5" r="6.9" fill="#4e6e97"/>
<circle cx="895.7" cy="581.1" r="6.9" fill="#4e6e97"/>
<circle cx="727.9" cy="889.0" r="6.9" fill="#4e6e97"/>
<circle cx="433.8" cy="708.6" r="6.9" fill="#4e6e97"/>
<circle cx="336.1" cy="789.0" r="6.9" fill="#4e6e97"/>
<circle cx="454.4" cy="749.0" r="6.9" fill="#4e6e97"/>
<circle cx="513.9" cy="487.6" r="6.9" fill="#4e6e97"/>
<circle cx="738.8" cy="685.2" r="6.9" fill="#4e6e97"/>
<circle cx="856.0" cy="543.9" r="6.9" fill="#4e6e97"/>
<circle cx="887.7" cy="691.8" r="6.9" fill="#4e6e97"/>
<circle cx="396.8" cy="515.6" r="6.9" fill="#4e6e97"/>
<circle cx="635.3" cy="469.4" r="6.9" fill="#4e6e97"/>
<circle cx="632.7" cy="526.7" r="6.9" fill="#4e6e97"/>
<circle cx="673.2" cy="964.6" r="6.9" fill="#4e6e97"/>
<circle cx="546.8" cy="505.6" r="6.9" fill="#4e6e97"/>
<circle cx="634.3" cy="445.5" r="6.9" fill="#4e6e97"/>
<circle cx="586.2" cy="1048.4" r="6.9" fill="#4e6e97"/>
<circle cx="854.3" cy="412.5" r="6.9" fill="#4e6e97"/>
<circle cx="913.2" cy="611.0" r="6.9" fill="#4e6e97"/>
<circle cx="666.9" cy="485.4" r="6.9" fill="#4e6e97"/>
<circle cx="843.6" cy="456.1" r="6.9" fill="#4e6e97"/>
<circle cx="608.2" cy="936.8" r="6.9" fill="#4e6e97"/>
<circle cx="655.0" cy="492.6" r="6.9" fill="#4e6e97"/>
<circle cx="975.6" cy="675.8" r="6.9" fill="#4e6e97"/>
<circle cx="546.1" cy="766.9" r="6.9" fill="#4e6e97"/>
<circle cx="649.2" cy="675.3" r="6.9" fill="#4e6e97"/>
<circle cx="567.4" cy="474.3" r="6.9" fill="#4e6e97"/>
<circle cx="667.3" cy="982.3" r="6.9" fill="#4e6e97"/>
<circle cx="627.8" cy="696.6" r="6.9" fill="#4e6e97"/>
<circle cx="973.6" cy="667.4" r="6.9" fill="#4e6e97"/>
<circle cx="445.8" cy="414.8" r="6.9" fill="#4e6e97"/>
<circle cx="804.3" cy="735.6" r="6.9" fill="#4e6e97"/>
<circle cx="534.1" cy="536.3" r="6.9" fill="#4e6e97"/>
<circle cx="642.8" cy="704.9" r="6.9" fill="#4e6e97"/>
<circle cx="495.4" cy="936.3" r="6.9" fill="#4e6e97"/>
<circle cx="905.2" cy="607.7" r="6.9" fill="#4e6e97"/>
<circle cx="638.5" cy="717.2" r="6.9" fill="#4e6e97"/>
<circle cx="751.9" cy="697.0" r="6.9" fill="#4e6e97"/>
<circle cx="752.1" cy="625.8" r="6.9" fill="#4e6e97"/>
<circle cx="731.6" cy="467.3" r="6.9" fill="#4e6e97"/>
<circle cx="1002.5" cy="808.3" r="6.9" fill="#4e6e97"/>
<circle cx="638.9" cy="311.4" r="6.9" fill="#4e6e97"/>
<circle cx="778.1" cy="636.4" r="6.9" fill="#4e6e97"/>
<circle cx="612.7" cy="906.0" r="6.9" fill="#4e6e97"/>
<circle cx="683.2" cy="458.1" r="6.9" fill="#4e6e97"/>
<circle cx="892.7" cy="652.1" r="6.9" fill="#4e6e97"/>
<circle cx="913.7" cy="333.5" r="6.9" fill="#4e6e97"/>
<circle cx="649.2" cy="997.7" r="6.9" fill="#4e6e97"/>
<circle cx="753.5" cy="548.5" r="6.9" fill="#4e6e97"/>
<circle cx="625.7" cy="893.7" r="6.9" fill="#4e6e97"/>
<circle cx="595.4" cy="857.9" r="6.9" fill="#4e6e97"/>
<circle cx="554.7" cy="815.1" r="6.9" fill="#4e6e97"/>
<circle cx="787.3" cy="698.8" r="6.9" fill="#4e6e97"/>
<circle cx="745.8" cy="482.8" r="6.9" fill="#4e6e97"/>
<circle cx="724.2" cy="1037.4" r="6.9" fill="#4e6e97"/>
<circle cx="737.4" cy="635.4" r="6.9" fill="#4e6e97"/>
<circle cx="533.2" cy="836.0" r="6.9" fill="#4e6e97"/>
<circle cx="843.6" cy="557.5" r="6.9" fill="#4e6e97"/>
<circle cx="633.9" cy="785.3" r="6.9" fill="#4e6e97"/>
<circle cx="563.8" cy="428.8" r="6.9" fill="#4e6e97"/>
<circle cx="781.4" cy="684.3" r="6.9" fill="#4e6e97"/>
<circle cx="764.4" cy="705.0" r="6.9" fill="#4e6e97"/>
<circle cx="552.4" cy="508.9" r="6.9" fill="#4e6e97"/>
<circle cx="932.5" cy="506.7" r="6.9" fill="#4e6e97"/>
<circle cx="787.4" cy="489.5" r="6.9" fill="#4e6e97"/>
<circle cx="454.1" cy="414.0" r="6.9" fill="#4e6e97"/>
<circle cx="890.2" cy="649.3" r="6.9" fill="#4e6e97"/>
<circle cx="708.5" cy="1008.8" r="6.9" fill="#4e6e97"/>
<circle cx="491.3" cy="931.2" r="6.9" fill="#4e6e97"/>
<circle cx="527.8" cy="849.0" r="6.9" fill="#4e6e97"/>
<circle cx="484.0" cy="905.1" r="6.9" fill="#4e6e97"/>
<circle cx="622.6" cy="797.6" r="6.9" fill="#4e6e97"/>
<circle cx="556.4" cy="787.1" r="6.9" fill="#4e6e97"/>
<circle cx="368.4" cy="765.9" r="6.9" fill="#4e6e97"/>
<circle cx="384.8" cy="733.4" r="6.9" fill="#4e6e97"/>
<circle cx="531.9" cy="472.4" r="6.9" fill="#4e6e97"/>
<circle cx="575.0" cy="693.8" r="6.9" fill="#4e6e97"/>
<circle cx="551.9" cy="804.8" r="6.9" fill="#4e6e97"/>
<circle cx="764.6" cy="742.2" r="6.9" fill="#4e6e97"/>
<circle cx="568.4" cy="734.1" r="6.9" fill="#4e6e97"/>
<circle cx="631.8" cy="330.6" r="6.9" fill="#4e6e97"/>
<circle cx="713.7" cy="683.2" r="6.9" fill="#4e6e97"/>
<circle cx="681.1" cy="667.2" r="6.9" fill="#4e6e97"/>
<circle cx="975.7" cy="587.6" r="6.9" fill="#4e6e97"/>
<circle cx="744.2" cy="496.8" r="6.9" fill="#4e6e97"/>
<circle cx="826.5" cy="947.2" r="6.9" fill="#4e6e97"/>
<circle cx="466.4" cy="932.0" r="6.9" fill="#4e6e97"/>
<circle cx="412.7" cy="721.1" r="6.9" fill="#4e6e97"/>
<circle cx="674.5" cy="707.2" r="6.9" fill="#4e6e97"/>
<circle cx="607.3" cy="1050.9" r="6.9" fill="#4e6e97"/>
<circle cx="522.1" cy="556.3" r="6.9" fill="#4e6e97"/>
<circle cx="601.2" cy="1052.9" r="6.9" fill="#4e6e97"/>
<circle cx="446.2" cy="436.8" r="6.9" fill="#4e6e97"/>
<circle cx="578.4" cy="1002.7" r="6.9" fill="#4e6e97"/>
<circle cx="512.0" cy="742.6" r="6.9" fill="#4e6e97"/>
<circle cx="356.5" cy="794.5" r="6.9" fill="#4e6e97"/>
<circle cx="536.3" cy="822.4" r="6.9" fill="#4e6e97"/>
<circle cx="1012.4" cy="787.0" r="6.9" fill="#4e6e97"/>
<circle cx="689.2" cy="1067.0" r="6.9" fill="#4e6e97"/>
<circle cx="786.6" cy="656.6" r="6.9" fill="#4e6e97"/>
<circle cx="751.7" cy="226.7" r="6.9" fill="#4e6e97"/>
<circle cx="877.6" cy="334.8" r="6.9" fill="#4e6e97"/>
<circle cx="593.1" cy="437.3" r="6.9" fill="#4e6e97"/>
<circle cx="407.2" cy="816.8" r="6.9" fill="#4e6e97"/>
<circle cx="688.6" cy="1016.6" r="6.9" fill="#4e6e97"/>
<circle cx="622.2" cy="477.1" r="6.9" fill="#4e6e97"/>
<circle cx="932.7" cy="295.6" r="6.9" fill="#4e6e97"/>
<circle cx="655.5" cy="333.2" r="6.9" fill="#4e6e97"/>
<circle cx="653.5" cy="484.3" r="6.9" fill="#4e6e97"/>
<circle cx="966.9" cy="674.5" r="6.9" fill="#4e6e97"/>
<circle cx="627.8" cy="423.6" r="6.9" fill="#4e6e97"/>
<circle cx="534.5" cy="361.2" r="6.9" fill="#4e6e97"/>
<circle cx="617.5" cy="496.5" r="6.9" fill="#4e6e97"/>
<circle cx="927.6" cy="781.2" r="6.9" fill="#4e6e97"/>
<circle cx="330.9" cy="535.4" r="6.9" fill="#4e6e97"/>
<circle cx="804.7" cy="437.1" r="6.9" fill="#4e6e97"/>
<circle cx="410.0" cy="792.2" r="6.9" fill="#4e6e97"/>
<circle cx="350.3" cy="810.0" r="6.9" fill="#4e6e97"/>
<circle cx="552.2" cy="829.1" r="6.9" fill="#4e6e97"/>
<circle cx="693.0" cy="445.1" r="6.9" fill="#4e6e97"/>
<circle cx="767.1" cy="623.2" r="6.9" fill="#4e6e97"/>
<circle cx="363.4" cy="794.3" r="6.9" fill="#4e6e97"/>
<circle cx="595.9" cy="714.2" r="6.9" fill="#4e6e97"/>
<circle cx="931.4" cy="697.0" r="6.9" fill="#4e6e97"/>
<circle cx="710.3" cy="624.3" r="6.9" fill="#4e6e97"/>
<circle cx="374.8" cy="564.9" r="6.9" fill="#4e6e97"/>
<circle cx="793.4" cy="644.4" r="6.9" fill="#4e6e97"/>
<circle cx="808.5" cy="628.7" r="6.9" fill="#4e6e97"/>
<circle cx="907.5" cy="633.1" r="6.9" fill="#4e6e97"/>
<circle cx="332.3" cy="823.0" r="6.9" fill="#4e6e97"/>
<circle cx="773.9" cy="675.7" r="6.9" fill="#4e6e97"/>
<circle cx="1017.5" cy="831.4" r="6.9" fill="#4e6e97"/>
<circle cx="806.6" cy="492.8" r="6.9" fill="#4e6e97"/>
<circle cx="551.3" cy="446.9" r="6.9" fill="#4e6e97"/>
<circle cx="434.7" cy="722.1" r="6.9" fill="#4e6e97"/>
<circle cx="993.1" cy="649.2" r="6.9" fill="#4e6e97"/>
<circle cx="656.7" cy="667.3" r="6.9" fill="#4e6e97"/>
<circle cx="590.0" cy="527.8" r="6.9" fill="#4e6e97"/>
<circle cx="515.7" cy="386.9" r="6.9" fill="#4e6e97"/>
<circle cx="581.8" cy="443.7" r="6.9" fill="#4e6e97"/>
<circle cx="675.4" cy="923.6" r="6.9" fill="#4e6e97"/>
<circle cx="435.4" cy="708.5" r="6.9" fill="#4e6e97"/>
<circle cx="695.0" cy="712.3" r="6.9" fill="#4e6e97"/>
<circle cx="862.7" cy="563.8" r="6.9" fill="#4e6e97"/>
<circle cx="949.8" cy="271.3" r="6.9" fill="#4e6e97"/>
<circle cx="815.2" cy="347.7" r="6.9" fill="#4e6e97"/>
<circle cx="928.6" cy="795.3" r="6.9" fill="#4e6e97"/>
<circle cx="735.6" cy="745.2" r="6.9" fill="#4e6e97"/>
<circle cx="563.1" cy="1049.1" r="6.9" fill="#4e6e97"/>
<circle cx="417.2" cy="835.1" r="6.9" fill="#4e6e97"/>
<circle cx="712.7" cy="932.9" r="6.9" fill="#4e6e97"/>
<circle cx="697.2" cy="697.8" r="6.9" fill="#4e6e97"/>
<circle cx="457.9" cy="735.1" r="6.9" fill="#4e6e97"/>
<circle cx="692.0" cy="676.7" r="6.9" fill="#4e6e97"/>
<circle cx="925.4" cy="590.6" r="6.9" fill="#4e6e97"/>
<circle cx="411.4" cy="857.0" r="6.9" fill="#4e6e97"/>
<circle cx="778.2" cy="716.0" r="6.9" fill="#4e6e97"/>
<circle cx="617.0" cy="918.8" r="6.9" fill="#4e6e97"/>
<circle cx="921.7" cy="676.3" r="6.9" fill="#4e6e97"/>
<circle cx="691.2" cy="947.1" r="6.9" fill="#4e6e97"/>
<circle cx="910.4" cy="691.2" r="6.9" fill="#4e6e97"/>
<circle cx="401.8" cy="831.5" r="6.9" fill="#4e6e97"/>
<circle cx="603.6" cy="948.9" r="6.9" fill="#4e6e97"/>
<circle cx="667.0" cy="1093.1" r="6.9" fill="#4e6e97"/>
<circle cx="911.9" cy="586.1" r="6.9" fill="#4e6e97"/>
<circle cx="748.4" cy="637.8" r="6.9" fill="#4e6e97"/>
<circle cx="508.6" cy="745.1" r="6.9" fill="#4e6e97"/>
<circle cx="343.5" cy="776.2" r="6.9" fill="#4e6e97"/>
<circle cx="423.8" cy="735.0" r="6.9" fill="#4e6e97"/>
<circle cx="334.6" cy="823.7" r="6.9" fill="#4e6e97"/>
<circle cx="534.4" cy="821.8" r="6.9" fill="#4e6e97"/>
<circle cx="376.1" cy="742.1" r="6.9" fill="#4e6e97"/>
<circle cx="725.4" cy="694.2" r="6.9" fill="#4e6e97"/>
<circle cx="602.6" cy="934.0" r="6.9" fill="#4e6e97"/>
<circle cx="323.8" cy="532.6" r="6.9" fill="#4e6e97"/>
<circle cx="762.2" cy="531.5" r="6.9" fill="#4e6e97"/>
<circle cx="996.0" cy="668.9" r="6.9" fill="#4e6e97"/>
<circle cx="555.0" cy="575.1" r="6.9" fill="#4e6e97"/>
<circle cx="634.1" cy="736.3" r="6.9" fill="#4e6e97"/>
<circle cx="873.5" cy="650.8" r="6.9" fill="#4e6e97"/>
<circle cx="931.8" cy="510.4" r="6.9" fill="#4e6e97"/>
<circle cx="717.4" cy="634.3" r="6.9" fill="#4e6e97"/>
<circle cx="608.2" cy="522.1" r="6.9" fill="#4e6e97"/>
<circle cx="848.7" cy="453.5" r="6.9" fill="#4e6e97"/>
<circle cx="474.4" cy="896.1" r="6.9" fill="#4e6e97"/>
<circle cx="696.8" cy="653.1" r="6.9" fill="#4e6e97"/>
<circle cx="308.9" cy="910.3" r="6.9" fill="#4e6e97"/>
<circle cx="614.5" cy="824.7" r="6.9" fill="#4e6e97"/>
<circle cx="351.8" cy="557.5" r="6.9" fill="#4e6e97"/>
<circle cx="675.4" cy="1052.1" r="6.9" fill="#4e6e97"/>
<circle cx="811.4" cy="621.1" r="6.9" fill="#4e6e97"/>
<circle cx="441.4" cy="731.7" r="6.9" fill="#4e6e97"/>
<circle cx="436.5" cy="787.7" r="6.9" fill="#4e6e97"/>
<circle cx="501.9" cy="778.1" r="6.9" fill="#4e6e97"/>
<circle cx="491.6" cy="692.6" r="6.9" fill="#4e6e97"/>
<circle cx="703.5" cy="1042.9" r="6.9" fill="#4e6e97"/>
<circle cx="849.3" cy="731.8" r="6.9" fill="#4e6e97"/>
<circle cx="693.9" cy="382.1" r="6.9" fill="#4e6e97"/>
<circle cx="651.5" cy="1025.1" r="6.9" fill="#4e6e97"/>
<circle cx="538.7" cy="838.5" r="6.9" fill="#4e6e97"/>
<circle cx="505.0" cy="469.0" r="6.9" fill="#4e6e97"/>
<circle cx="588.7" cy="1015.7" r="6.9" fill="#4e6e97"/>
<circle cx="730.3" cy="1024.0" r="6.9" fill="#4e6e97"/>
<circle cx="702.3" cy="1032.6" r="6.9" fill="#4e6e97"/>
<circle cx="492.1" cy="765.2" r="6.9" fill="#4e6e97"/>
<circle cx="886.1" cy="672.7" r="6.9" fill="#4e6e97"/>
<circle cx="522.4" cy="866.5" r="6.9" fill="#4e6e97"/>
<circle cx="774.5" cy="645.0" r="6.9" fill="#4e6e97"/>
<circle cx="716.8" cy="725.0" r="6.9" fill="#4e6e97"/>
<circle cx="544.4" cy="872.6" r="6.9" fill="#4e6e97"/>
<circle cx="390.0" cy="789.6" r="6.9" fill="#4e6e97"/>
<circle cx="928.6" cy="842.2" r="6.9" fill="#4e6e97"/>
<circle cx="938.4" cy="437.6" r="6.9" fill="#4e6e97"/>
<circle cx="508.9" cy="935.5" r="6.9" fill="#4e6e97"/>
<circle cx="645.7" cy="904.6" r="6.9" fill="#4e6e97"/>
<circle cx="967.1" cy="802.9" r="6.9" fill="#4e6e97"/>
<circle cx="341.0" cy="766.7" r="6.9" fill="#4e6e97"/>
<circle cx="783.6" cy="438.4" r="6.9" fill="#4e6e97"/>
<circle cx="670.8" cy="909.2" r="6.9" fill="#4e6e97"/>
<circle cx="662.8" cy="947.1" r="6.9" fill="#4e6e97"/>
<circle cx="716.6" cy="714.7" r="6.9" fill="#4e6e97"/>
<circle cx="755.6" cy="486.5" r="6.9" fill="#4e6e97"/>
<circle cx="698.7" cy="1016.1" r="6.9" fill="#4e6e97"/>
<circle cx="605.9" cy="850.5" r="6.9" fill="#4e6e97"/>
<circle cx="636.5" cy="474.0" r="6.9" fill="#4e6e97"/>
<circle cx="531.4" cy="988.0" r="6.9" fill="#4e6e97"/>
<circle cx="565.0" cy="983.1" r="6.9" fill="#4e6e97"/>
<circle cx="654.7" cy="902.9" r="6.9" fill="#4e6e97"/>
<circle cx="414.1" cy="734.2" r="6.9" fill="#4e6e97"/>
<circle cx="745.5" cy="901.4" r="6.9" fill="#4e6e97"/>
<circle cx="662.5" cy="845.4" r="6.9" fill="#4e6e97"/>
<circle cx="967.2" cy="805.2" r="6.9" fill="#4e6e97"/>
<circle cx="647.5" cy="703.4" r="6.9" fill="#4e6e97"/>
<circle cx="523.1" cy="1027.7" r="6.9" fill="#4e6e97"/>
<circle cx="777.7" cy="453.8" r="6.9" fill="#4e6e97"/>
<circle cx="321.7" cy="522.1" r="6.9" fill="#4e6e97"/>
<circle cx="904.9" cy="795.2" r="6.9" fill="#4e6e97"/>
<circle cx="698.8" cy="965.3" r="6.9" fill="#4e6e97"/>
<circle cx="673.1" cy="1006.1" r="6.9" fill="#4e6e97"/>
<circle cx="485.6" cy="687.6" r="6.9" fill="#4e6e97"/>
<circle cx="975.3" cy="658.2" r="6.9" fill="#4e6e97"/>
<circle cx="438.4" cy="791.4" r="6.9" fill="#4e6e97"/>
<circle cx="785.8" cy="772.6" r="6.9" fill="#4e6e97"/>
<circle cx="670.1" cy="746.1" r="6.9" fill="#4e6e97"/>
<circle cx="903.4" cy="584.9" r="6.9" fill="#4e6e97"/>
<circle cx="946.4" cy="671.8" r="6.9" fill="#4e6e97"/>
<circle cx="918.9" cy="654.5" r="6.9" fill="#4e6e97"/>
<circle cx="376.3" cy="786.6" r="6.9" fill="#4e6e97"/>
<circle cx="937.0" cy="392.5" r="6.9" fill="#4e6e97"/>
<circle cx="822.1" cy="542.3" r="6.9" fill="#4e6e97"/>
<circle cx="713.2" cy="692.4" r="6.9" fill="#4e6e97"/>
<circle cx="466.3" cy="387.0" r="6.9" fill="#4e6e97"/>
<circle cx="382.9" cy="824.8" r="6.9" fill="#4e6e97"/>
<circle cx="909.8" cy="648.2" r="6.9" fill="#4e6e97"/>
<circle cx="771.5" cy="628.5" r="6.9" fill="#4e6e97"/>
<circle cx="727.5" cy="903.7" r="6.9" fill="#4e6e97"/>
<circle cx="838.2" cy="546.6" r="6.9" fill="#4e6e97"/>
<circle cx="826.5" cy="595.1" r="6.9" fill="#4e6e97"/>
<circle cx="623.0" cy="1035.2" r="6.9" fill="#4e6e97"/>
<circle cx="427.1" cy="754.3" r="6.9" fill="#4e6e97"/>
<circle cx="528.1" cy="1011.2" r="6.9" fill="#4e6e97"/>
<circle cx="682.7" cy="356.4" r="6.9" fill="#4e6e97"/>
<circle cx="730.4" cy="690.2" r="6.9" fill="#4e6e97"/>
<circle cx="768.2" cy="646.4" r="6.9" fill="#4e6e97"/>
<circle cx="897.9" cy="602.4" r="6.9" fill="#4e6e97"/>
<circle cx="775.9" cy="517.7" r="6.9" fill="#4e6e97"/>
<circle cx="548.5" cy="967.8" r="6.9" fill="#4e6e97"/>
<circle cx="984.2" cy="288.2" r="6.9" fill="#4e6e97"/>
<circle cx="524.2" cy="837.7" r="6.9" fill="#4e6e97"/>
<circle cx="434.5" cy="551.2" r="6.9" fill="#4e6e97"/>
<circle cx="912.3" cy="689.8" r="6.9" fill="#4e6e97"/>
<circle cx="942.4" cy="636.3" r="6.9" fill="#4e6e97"/>
<circle cx="601.7" cy="725.0" r="6.9" fill="#4e6e97"/>
<circle cx="833.5" cy="523.5" r="6.9" fill="#4e6e97"/>
<circle cx="776.3" cy="531.7" r="6.9" fill="#4e6e97"/>
<circle cx="594.2" cy="1074.6" r="6.9" fill="#4e6e97"/>
<circle cx="714.2" cy="607.8" r="6.9" fill="#4e6e97"/>
<circle cx="487.7" cy="733.6" r="6.9" fill="#4e6e97"/>
<circle cx="417.8" cy="826.8" r="6.9" fill="#4e6e97"/>
<circle cx="744.1" cy="515.7" r="6.9" fill="#4e6e97"/>
<circle cx="593.8" cy="568.3" r="6.9" fill="#4e6e97"/>
<circle cx="497.9" cy="777.6" r="6.9" fill="#4e6e97"/>
<circle cx="963.5" cy="689.6" r="6.9" fill="#4e6e97"/>
<circle cx="707.7" cy="1015.2" r="6.9" fill="#4e6e97"/>
<circle cx="948.8" cy="586.0" r="6.9" fill="#4e6e97"/>
<circle cx="750.8" cy="474.2" r="6.9" fill="#4e6e97"/>
<circle cx="907.7" cy="585.3" r="6.9" fill="#4e6e97"/>
<circle cx="612.7" cy="977.1" r="6.9" fill="#4e6e97"/>
<circle cx="526.8" cy="485.3" r="6.9" fill="#4e6e97"/>
<circle cx="885.1" cy="653.3" r="6.9" fill="#4e6e97"/>
<circle cx="305.6" cy="909.8" r="6.9" fill="#4e6e97"/>
<circle cx="564.5" cy="486.9" r="6.9" fill="#4e6e97"/>
<circle cx="970.2" cy="268.5" r="6.9" fill="#4e6e97"/>
<circle cx="617.7" cy="556.4" r="6.9" fill="#4e6e97"/>
<circle cx="557.5" cy="435.4" r="6.9" fill="#4e6e97"/>
<circle cx="727.9" cy="471.8" r="6.9" fill="#4e6e97"/>
<circle cx="903.5" cy="617.0" r="6.9" fill="#4e6e97"/>
<circle cx="404.1" cy="811.8" r="6.9" fill="#4e6e97"/>
<circle cx="748.4" cy="511.4" r="6.9" fill="#4e6e97"/>
<circle cx="798.5" cy="632.5" r="6.9" fill="#4e6e97"/>
<circle cx="586.1" cy="858.6" r="6.9" fill="#4e6e97"/>
<circle cx="527.8" cy="783.2" r="6.9" fill="#4e6e97"/>
<circle cx="664.8" cy="691.6" r="6.9" fill="#4e6e97"/>
<circle cx="712.8" cy="873.9" r="6.9" fill="#4e6e97"/>
<circle cx="723.9" cy="452.0" r="6.9" fill="#4e6e97"/>
<circle cx="776.1" cy="488.3" r="6.9" fill="#4e6e97"/>
<circle cx="538.6" cy="1003.6" r="6.9" fill="#4e6e97"/>
<circle cx="647.3" cy="984.8" r="6.9" fill="#4e6e97"/>
<circle cx="803.3" cy="737.4" r="6.9" fill="#4e6e97"/>
<circle cx="632.9" cy="966.2" r="6.9" fill="#4e6e97"/>
<circle cx="508.9" cy="987.8" r="6.9" fill="#4e6e97"/>
<circle cx="794.4" cy="403.8" r="6.9" fill="#4e6e97"/>
<circle cx="644.9" cy="494.0" r="6.9" fill="#4e6e97"/>
<circle cx="447.0" cy="473.1" r="6.9" fill="#4e6e97"/>
<circle cx="773.3" cy="431.2" r="6.9" fill="#4e6e97"/>
<circle cx="896.9" cy="336.5" r="6.9" fill="#4e6e97"/>
<circle cx="610.6" cy="503.9" r="6.9" fill="#4e6e97"/>
<circle cx="693.8" cy="655.4" r="6.9" fill="#4e6e97"/>
<circle cx="567.1" cy="464.1" r="6.9" fill="#4e6e97"/>
<circle cx="947.3" cy="784.1" r="6.9" fill="#4e6e97"/>
<circle cx="717.3" cy="624.0" r="6.9" fill="#4e6e97"/>
<circle cx="403.6" cy="783.8" r="6.9" fill="#4e6e97"/>
<circle cx="672.4" cy="936.4" r="6.9" fill="#4e6e97"/>
<circle cx="788.0" cy="642.5" r="6.9" fill="#4e6e97"/>
<circle cx="356.7" cy="835.3" r="6.9" fill="#4e6e97"/>
<circle cx="686.8" cy="988.8" r="6.9" fill="#4e6e97"/>
<circle cx="558.4" cy="1042.5" r="6.9" fill="#4e6e97"/>
<circle cx="688.8" cy="985.0" r="6.9" fill="#4e6e97"/>
<circle cx="627.8" cy="353.6" r="6.9" fill="#4e6e97"/>
<circle cx="828.1" cy="570.0" r="6.9" fill="#4e6e97"/>
<circle cx="921.5" cy="853.9" r="6.9" fill="#4e6e97"/>
<circle cx="523.5" cy="1004.2" r="6.9" fill="#4e6e97"/>
<circle cx="598.6" cy="916.7" r="6.9" fill="#4e6e97"/>
<circle cx="791.8" cy="668.1" r="6.9" fill="#4e6e97"/>
<circle cx="663.9" cy="454.0" r="6.9" fill="#4e6e97"/>
<circle cx="898.0" cy="367.0" r="6.9" fill="#4e6e97"/>
<circle cx="811.6" cy="691.4" r="6.9" fill="#4e6e97"/>
<circle cx="633.9" cy="951.2" r="6.9" fill="#4e6e97"/>
<circle cx="330.4" cy="568.4" r="6.9" fill="#4e6e97"/>
<circle cx="315.4" cy="908.7" r="6.9" fill="#4e6e97"/>
<circle cx="749.8" cy="1028.1" r="6.9" fill="#4e6e97"/>
<circle cx="438.9" cy="738.3" r="6.9" fill="#4e6e97"/>
<circle cx="435.5" cy="712.9" r="6.9" fill="#4e6e97"/>
<circle cx="367.4" cy="565.0" r="6.9" fill="#4e6e97"/>
<circle cx="833.2" cy="466.4" r="6.9" fill="#4e6e97"/>
<circle cx="535.8" cy="372.9" r="6.9" fill="#4e6e97"/>
<circle cx="676.5" cy="949.7" r="6.9" fill="#4e6e97"/>
<circle cx="623.2" cy="817.1" r="6.9" fill="#4e6e97"/>
<circle cx="441.7" cy="703.3" r="6.9" fill="#4e6e97"/>
<circle cx="378.5" cy="771.7" r="6.9" fill="#4e6e97"/>
<circle cx="915.0" cy="665.1" r="6.9" fill="#4e6e97"/>
<circle cx="468.5" cy="408.0" r="6.9" fill="#4e6e97"/>
<circle cx="653.6" cy="465.1" r="6.9" fill="#4e6e97"/>
<circle cx="362.7" cy="726.0" r="6.9" fill="#4e6e97"/>
<circle cx="696.7" cy="974.7" r="6.9" fill="#4e6e97"/>
<circle cx="513.4" cy="847.3" r="6.9" fill="#4e6e97"/>
<circle cx="670.5" cy="470.9" r="6.9" fill="#4e6e97"/>
<circle cx="836.1" cy="573.4" r="6.9" fill="#4e6e97"/>
<circle cx="835.0" cy="611.9" r="6.9" fill="#4e6e97"/>
<circle cx="716.6" cy="647.9" r="6.9" fill="#4e6e97"/>
<circle cx="552.2" cy="764.8" r="6.9" fill="#4e6e97"/>
<circle cx="564.8" cy="888.4" r="6.9" fill="#4e6e97"/>
<circle cx="488.4" cy="970.6" r="6.9" fill="#4e6e97"/>
<circle cx="570.8" cy="745.3" r="6.9" fill="#4e6e97"/>
<circle cx="648.5" cy="847.8" r="6.9" fill="#4e6e97"/>
<circle cx="926.3" cy="433.2" r="6.9" fill="#4e6e97"/>
<circle cx="321.6" cy="545.7" r="6.9" fill="#4e6e97"/>
<circle cx="887.0" cy="688.8" r="6.9" fill="#4e6e97"/>
<circle cx="343.4" cy="545.4" r="6.9" fill="#4e6e97"/>
<circle cx="932.5" cy="614.5" r="6.9" fill="#4e6e97"/>
<circle cx="504.2" cy="486.2" r="6.9" fill="#4e6e97"/>
<circle cx="773.1" cy="608.1" r="6.9" fill="#4e6e97"/>
<circle cx="608.2" cy="315.7" r="6.9" fill="#4e6e97"/>
<circle cx="984.8" cy="827.9" r="6.9" fill="#4e6e97"/>
<circle cx="426.3" cy="816.5" r="6.9" fill="#4e6e97"/>
<circle cx="957.6" cy="623.7" r="6.9" fill="#4e6e97"/>
<circle cx="863.8" cy="569.8" r="6.9" fill="#4e6e97"/>
<circle cx="732.4" cy="883.5" r="6.9" fill="#4e6e97"/>
<circle cx="867.8" cy="666.4" r="6.9" fill="#4e6e97"/>
<circle cx="642.9" cy="716.9" r="6.9" fill="#4e6e97"/>
<circle cx="927.4" cy="530.2" r="6.9" fill="#4e6e97"/>
<circle cx="507.7" cy="505.0" r="6.9" fill="#4e6e97"/>
<circle cx="907.1" cy="663.1" r="6.9" fill="#4e6e97"/>
<circle cx="888.5" cy="647.5" r="6.9" fill="#4e6e97"/>
<circle cx="575.0" cy="495.0" r="6.9" fill="#4e6e97"/>
<circle cx="774.5" cy="432.1" r="6.9" fill="#4e6e97"/>
<circle cx="871.1" cy="636.6" r="6.9" fill="#4e6e97"/>
<circle cx="617.6" cy="492.2" r="6.9" fill="#4e6e97"/>
<circle cx="891.3" cy="371.4" r="6.9" fill="#4e6e97"/>
<circle cx="707.3" cy="464.1" r="6.9" fill="#4e6e97"/>
<circle cx="704.7" cy="635.7" r="6.9" fill="#4e6e97"/>
<circle cx="393.3" cy="832.9" r="6.9" fill="#4e6e97"/>
<circle cx="757.1" cy="645.2" r="6.9" fill="#4e6e97"/>
<circle cx="714.4" cy="458.2" r="6.9" fill="#4e6e97"/>
<circle cx="934.2" cy="749.3" r="6.9" fill="#4e6e97"/>
<circle cx="808.3" cy="472.2" r="6.9" fill="#4e6e97"/>
<circle cx="705.4" cy="1071.1" r="6.9" fill="#4e6e97"/>
<circle cx="705.9" cy="718.9" r="6.9" fill="#4e6e97"/>
<circle cx="651.1" cy="710.4" r="6.9" fill="#4e6e97"/>
<circle cx="892.4" cy="604.7" r="6.9" fill="#4e6e97"/>
<circle cx="788.7" cy="611.3" r="6.9" fill="#4e6e97"/>
<circle cx="527.0" cy="797.2" r="6.9" fill="#4e6e97"/>
<circle cx="972.2" cy="692.9" r="6.9" fill="#4e6e97"/>
<circle cx="483.6" cy="912.9" r="6.9" fill="#4e6e97"/>
<circle cx="653.0" cy="887.0" r="6.9" fill="#4e6e97"/>
<circle cx="574.6" cy="864.4" r="6.9" fill="#4e6e97"/>
<circle cx="768.9" cy="472.5" r="6.9" fill="#4e6e97"/>
<circle cx="741.4" cy="715.0" r="6.9" fill="#4e6e97"/>
<circle cx="802.9" cy="690.0" r="6.9" fill="#4e6e97"/>
<circle cx="602.6" cy="986.6" r="6.9" fill="#4e6e97"/>
<circle cx="603.1" cy="1073.0" r="6.9" fill="#4e6e97"/>
<circle cx="362.7" cy="752.1" r="6.9" fill="#4e6e97"/>
<circle cx="785.4" cy="682.1" r="6.9" fill="#4e6e97"/>
<circle cx="672.7" cy="984.8" r="6.9" fill="#4e6e97"/>
<circle cx="418.6" cy="767.6" r="6.9" fill="#4e6e97"/>
<circle cx="626.3" cy="942.9" r="6.9" fill="#4e6e97"/>
<circle cx="546.5" cy="1011.7" r="6.9" fill="#4e6e97"/>
<circle cx="645.5" cy="488.2" r="6.9" fill="#4e6e97"/>
<circle cx="664.5" cy="369.5" r="6.9" fill="#7cb3d8"/>
<circle cx="474.5" cy="285.1" r="6.9" fill="#7cb3d8"/>
<circle cx="655.3" cy="997.1" r="6.9" fill="#7cb3d8"/>
<circle cx="782.6" cy="271.3" r="6.9" fill="#7cb3d8"/>
<circle cx="595.5" cy="974.7" r="6.9" fill="#7cb3d8"/>
<circle cx="695.3" cy="392.3" r="6.9" fill="#7cb3d8"/>
<circle cx="598.1" cy="968.5" r="6.9" fill="#7cb3d8"/>
<circle cx="444.0" cy="435.2" r="6.9" fill="#7cb3d8"/>
<circle cx="690.1" cy="677.5" r="6.9" fill="#7cb3d8"/>
<circle cx="357.1" cy="774.1" r="6.9" fill="#7cb3d8"/>
<circle cx="709.3" cy="1025.9" r="6.9" fill="#7cb3d8"/>
<circle cx="645.4" cy="375.2" r="6.9" fill="#7cb3d8"/>
<circle cx="967.7" cy="336.1" r="6.9" fill="#7cb3d8"/>
<circle cx="585.6" cy="755.8" r="6.9" fill="#7cb3d8"/>
<circle cx="536.3" cy="1026.4" r="6.9" fill="#7cb3d8"/>
<circle cx="711.0" cy="731.8" r="6.9" fill="#7cb3d8"/>
<circle cx="503.7" cy="926.1" r="6.9" fill="#7cb3d8"/>
<circle cx="648.2" cy="513.4" r="6.9" fill="#7cb3d8"/>
<circle cx="771.4" cy="866.2" r="6.9" fill="#7cb3d8"/>
<circle cx="414.5" cy="776.4" r="6.9" fill="#7cb3d8"/>
<circle cx="634.4" cy="876.2" r="6.9" fill="#7cb3d8"/>
<circle cx="736.8" cy="1053.9" r="6.9" fill="#7cb3d8"/>
<circle cx="656.2" cy="878.1" r="6.9" fill="#7cb3d8"/>
<circle cx="909.5" cy="667.3" r="6.9" fill="#7cb3d8"/>
<circle cx="931.3" cy="902.1" r="6.9" fill="#7cb3d8"/>
<circle cx="614.0" cy="569.9" r="6.9" fill="#7cb3d8"/>
<circle cx="328.8" cy="792.2" r="6.9" fill="#7cb3d8"/>
<circle cx="594.3" cy="1051.1" r="6.9" fill="#7cb3d8"/>
<circle cx="632.2" cy="864.9" r="6.9" fill="#7cb3d8"/>
<circle cx="521.8" cy="976.9" r="6.9" fill="#7cb3d8"/>
<circle cx="851.3" cy="842.6" r="6.9" fill="#7cb3d8"/>
<circle cx="591.4" cy="1072.6" r="6.9" fill="#7cb3d8"/>
<circle cx="533.6" cy="857.9" r="6.9" fill="#7cb3d8"/>
<circle cx="526.5" cy="775.2" r="6.9" fill="#7cb3d8"/>
<circle cx="491.9" cy="954.8" r="6.9" fill="#7cb3d8"/>
<circle cx="748.3" cy="553.8" r="6.9" fill="#7cb3d8"/>
<circle cx="1044.7" cy="334.2" r="6.9" fill="#7cb3d8"/>
<circle cx="691.1" cy="1062.6" r="6.9" fill="#7cb3d8"/>
<circle cx="948.8" cy="915.7" r="6.9" fill="#7cb3d8"/>
<circle cx="669.4" cy="234.9" r="6.9" fill="#7cb3d8"/>
<circle cx="342.3" cy="834.2" r="6.9" fill="#7cb3d8"/>
<circle cx="405.4" cy="767.5" r="6.9" fill="#7cb3d8"/>
<circle cx="694.0" cy="713.2" r="6.9" fill="#7cb3d8"/>
<circle cx="553.9" cy="977.0" r="6.9" fill="#7cb3d8"/>
<circle cx="1014.8" cy="318.1" r="6.9" fill="#7cb3d8"/>
<circle cx="911.7" cy="936.3" r="6.9" fill="#7cb3d8"/>
<circle cx="537.4" cy="977.4" r="6.9" fill="#7cb3d8"/>
<circle cx="443.3" cy="396.7" r="6.9" fill="#7cb3d8"/>
<circle cx="376.4" cy="809.8" r="6.9" fill="#7cb3d8"/>
<circle cx="468.0" cy="347.9" r="6.9" fill="#7cb3d8"/>
<circle cx="772.2" cy="761.7" r="6.9" fill="#7cb3d8"/>
<circle cx="367.6" cy="475.4" r="6.9" fill="#7cb3d8"/>
<circle cx="669.2" cy="714.4" r="6.9" fill="#7cb3d8"/>
<circle cx="397.4" cy="846.7" r="6.9" fill="#7cb3d8"/>
<circle cx="508.7" cy="396.4" r="6.9" fill="#7cb3d8"/>
<circle cx="876.3" cy="834.7" r="6.9" fill="#7cb3d8"/>
<circle cx="797.8" cy="901.5" r="6.9" fill="#7cb3d8"/>
<circle cx="246.7" cy="415.3" r="6.9" fill="#7cb3d8"/>
<circle cx="522.8" cy="509.4" r="6.9" fill="#7cb3d8"/>
<circle cx="373.6" cy="473.0" r="6.9" fill="#7cb3d8"/>
<circle cx="641.3" cy="851.0" r="6.9" fill="#7cb3d8"/>
<circle cx="386.9" cy="782.9" r="6.9" fill="#7cb3d8"/>
<circle cx="346.9" cy="947.1" r="6.9" fill="#7cb3d8"/>
<circle cx="508.6" cy="744.2" r="6.9" fill="#7cb3d8"/>
<circle cx="831.3" cy="953.7" r="6.9" fill="#7cb3d8"/>
<circle cx="392.3" cy="735.2" r="6.9" fill="#7cb3d8"/>
<circle cx="431.7" cy="764.6" r="6.9" fill="#7cb3d8"/>
<circle cx="556.0" cy="927.2" r="6.9" fill="#7cb3d8"/>
<circle cx="637.2" cy="443.5" r="6.9" fill="#7cb3d8"/>
<circle cx="932.5" cy="449.0" r="6.9" fill="#7cb3d8"/>
<circle cx="617.1" cy="961.7" r="6.9" fill="#7cb3d8"/>
<circle cx="282.1" cy="394.8" r="6.9" fill="#7cb3d8"/>
<circle cx="682.9" cy="472.9" r="6.9" fill="#7cb3d8"/>
<circle cx="956.7" cy="404.5" r="6.9" fill="#7cb3d8"/>
<circle cx="521.6" cy="514.9" r="6.9" fill="#7cb3d8"/>
<circle cx="483.9" cy="298.1" r="6.9" fill="#7cb3d8"/>
<circle cx="292.3" cy="906.2" r="6.9" fill="#7cb3d8"/>
<circle cx="384.2" cy="346.6" r="6.9" fill="#7cb3d8"/>
<circle cx="303.3" cy="313.0" r="6.9" fill="#7cb3d8"/>
<circle cx="463.3" cy="391.8" r="6.9" fill="#7cb3d8"/>
<circle cx="667.8" cy="667.2" r="6.9" fill="#7cb3d8"/>
<circle cx="523.8" cy="192.8" r="6.9" fill="#7cb3d8"/>
<circle cx="367.3" cy="588.0" r="6.9" fill="#7cb3d8"/>
<circle cx="646.6" cy="730.2" r="6.9" fill="#7cb3d8"/>
<circle cx="584.9" cy="481.6" r="6.9" fill="#7cb3d8"/>
<circle cx="835.5" cy="334.6" r="6.9" fill="#7cb3d8"/>
<circle cx="424.2" cy="301.9" r="6.9" fill="#7cb3d8"/>
<circle cx="364.7" cy="485.6" r="6.9" fill="#7cb3d8"/>
<circle cx="593.7" cy="385.2" r="6.9" fill="#7cb3d8"/>
<circle cx="582.7" cy="836.0" r="6.9" fill="#7cb3d8"/>
<circle cx="653.3" cy="784.7" r="6.9" fill="#7cb3d8"/>
<circle cx="494.8" cy="471.4" r="6.9" fill="#7cb3d8"/>
<circle cx="716.5" cy="764.1" r="6.9" fill="#7cb3d8"/>
<circle cx="586.2" cy="781.1" r="6.9" fill="#7cb3d8"/>
<circle cx="713.2" cy="954.9" r="6.9" fill="#7cb3d8"/>
<circle cx="652.6" cy="411.2" r="6.9" fill="#7cb3d8"/>
<circle cx="775.5" cy="522.0" r="6.9" fill="#7cb3d8"/>
<circle cx="534.1" cy="895.5" r="6.9" fill="#7cb3d8"/>
<circle cx="375.0" cy="758.9" r="6.9" fill="#7cb3d8"/>
<circle cx="647.1" cy="886.4" r="6.9" fill="#7cb3d8"/>
<circle cx="587.9" cy="262.7" r="6.9" fill="#7cb3d8"/>
<circle cx="815.8" cy="743.1" r="6.9" fill="#7cb3d8"/>
<circle cx="626.0" cy="977.7" r="6.9" fill="#7cb3d8"/>
<circle cx="791.1" cy="747.7" r="6.9" fill="#7cb3d8"/>
<circle cx="473.2" cy="732.5" r="6.9" fill="#7cb3d8"/>
<circle cx="628.5" cy="693.9" r="6.9" fill="#7cb3d8"/>
<circle cx="305.0" cy="457.1" r="6.9" fill="#7cb3d8"/>
<circle cx="526.2" cy="963.9" r="6.9" fill="#7cb3d8"/>
<circle cx="772.8" cy="508.7" r="6.9" fill="#7cb3d8"/>
<circle cx="607.1" cy="875.0" r="6.9" fill="#7cb3d8"/>
<circle cx="516.6" cy="961.1" r="6.9" fill="#7cb3d8"/>
<circle cx="501.3" cy="276.1" r="6.9" fill="#7cb3d8"/>
<circle cx="673.3" cy="355.4" r="6.9" fill="#7cb3d8"/>
<circle cx="842.9" cy="366.2" r="6.9" fill="#7cb3d8"/>
<circle cx="928.5" cy="332.5" r="6.9" fill="#7cb3d8"/>
<circle cx="575.3" cy="486.8" r="6.9" fill="#7cb3d8"/>
<circle cx="488.1" cy="710.1" r="6.9" fill="#7cb3d8"/>
<circle cx="796.6" cy="735.8" r="6.9" fill="#7cb3d8"/>
<circle cx="505.5" cy="351.8" r="6.9" fill="#7cb3d8"/>
<circle cx="646.6" cy="848.6" r="6.9" fill="#7cb3d8"/>
<circle cx="589.0" cy="762.3" r="6.9" fill="#7cb3d8"/>
<circle cx="670.2" cy="783.2" r="6.9" fill="#7cb3d8"/>
<circle cx="628.3" cy="802.2" r="6.9" fill="#7cb3d8"/>
<circle cx="491.5" cy="302.9" r="6.9" fill="#7cb3d8"/>
<circle cx="613.1" cy="1057.9" r="6.9" fill="#7cb3d8"/>
<circle cx="436.9" cy="866.8" r="6.9" fill="#7cb3d8"/>
<circle cx="328.1" cy="444.0" r="6.9" fill="#7cb3d8"/>
<circle cx="990.4" cy="309.9" r="6.9" fill="#7cb3d8"/>
<circle cx="534.8" cy="303.8" r="6.9" fill="#7cb3d8"/>
<circle cx="626.2" cy="514.0" r="6.9" fill="#7cb3d8"/>
<circle cx="607.6" cy="1017.9" r="6.9" fill="#7cb3d8"/>
<circle cx="496.8" cy="777.7" r="6.9" fill="#7cb3d8"/>
<circle cx="647.9" cy="1007.1" r="6.9" fill="#7cb3d8"/>
<circle cx="551.2" cy="542.9" r="6.9" fill="#7cb3d8"/>
<circle cx="737.1" cy="714.0" r="6.9" fill="#7cb3d8"/>
<circle cx="797.4" cy="702.7" r="6.9" fill="#7cb3d8"/>
<circle cx="541.5" cy="1038.0" r="6.9" fill="#7cb3d8"/>
<circle cx="650.0" cy="965.3" r="6.9" fill="#7cb3d8"/>
<circle cx="694.0" cy="727.2" r="6.9" fill="#7cb3d8"/>
<circle cx="390.5" cy="475.2" r="6.9" fill="#7cb3d8"/>
<circle cx="948.1" cy="675.6" r="6.9" fill="#7cb3d8"/>
<circle cx="707.2" cy="674.7" r="6.9" fill="#7cb3d8"/>
<circle cx="916.9" cy="437.4" r="6.9" fill="#7cb3d8"/>
<circle cx="738.0" cy="1046.1" r="6.9" fill="#7cb3d8"/>
<circle cx="598.8" cy="803.6" r="6.9" fill="#7cb3d8"/>
<circle cx="891.3" cy="813.5" r="6.9" fill="#7cb3d8"/>
<circle cx="744.0" cy="438.9" r="6.9" fill="#7cb3d8"/>
<circle cx="833.7" cy="812.7" r="6.9" fill="#7cb3d8"/>
<circle cx="614.9" cy="542.1" r="6.9" fill="#7cb3d8"/>
<circle cx="706.9" cy="913.4" r="6.9" fill="#7cb3d8"/>
<circle cx="358.4" cy="456.1" r="6.9" fill="#7cb3d8"/>
<circle cx="667.0" cy="257.6" r="6.9" fill="#7cb3d8"/>
<circle cx="591.4" cy="570.9" r="6.9" fill="#7cb3d8"/>
<circle cx="596.5" cy="833.7" r="6.9" fill="#7cb3d8"/>
<circle cx="566.1" cy="793.4" r="6.9" fill="#7cb3d8"/>
<circle cx="587.5" cy="983.0" r="6.9" fill="#7cb3d8"/>
<circle cx="605.4" cy="926.1" r="6.9" fill="#7cb3d8"/>
<circle cx="362.7" cy="457.0" r="6.9" fill="#7cb3d8"/>
<circle cx="897.5" cy="405.4" r="6.9" fill="#7cb3d8"/>
<circle cx="675.8" cy="838.9" r="6.9" fill="#7cb3d8"/>
<circle cx="646.8" cy="1011.6" r="6.9" fill="#7cb3d8"/>
<circle cx="304.3" cy="386.4" r="6.9" fill="#7cb3d8"/>
<circle cx="551.5" cy="356.6" r="6.9" fill="#7cb3d8"/>
<circle cx="710.9" cy="1016.0" r="6.9" fill="#7cb3d8"/>
<circle cx="544.1" cy="846.3" r="6.9" fill="#7cb3d8"/>
<circle cx="331.1" cy="788.8" r="6.9" fill="#7cb3d8"/>
<circle cx="758.1" cy="432.0" r="6.9" fill="#7cb3d8"/>
<circle cx="1021.9" cy="464.5" r="6.9" fill="#7cb3d8"/>
<circle cx="687.5" cy="236.2" r="6.9" fill="#7cb3d8"/>
<circle cx="988.9" cy="294.1" r="6.9" fill="#7cb3d8"/>
<circle cx="795.1" cy="895.6" r="6.9" fill="#7cb3d8"/>
<circle cx="953.5" cy="669.9" r="6.9" fill="#7cb3d8"/>
<circle cx="765.5" cy="882.4" r="6.9" fill="#7cb3d8"/>
<circle cx="790.5" cy="444.8" r="6.9" fill="#7cb3d8"/>
<circle cx="911.8" cy="605.8" r="6.9" fill="#7cb3d8"/>
<circle cx="522.3" cy="496.5" r="6.9" fill="#7cb3d8"/>
<circle cx="904.5" cy="649.9" r="6.9" fill="#7cb3d8"/>
<circle cx="436.5" cy="763.9" r="6.9" fill="#7cb3d8"/>
<circle cx="815.2" cy="336.4" r="6.9" fill="#7cb3d8"/>
<circle cx="432.9" cy="754.1" r="6.9" fill="#7cb3d8"/>
<circle cx="581.1" cy="454.6" r="6.9" fill="#7cb3d8"/>
<circle cx="641.0" cy="984.7" r="6.9" fill="#7cb3d8"/>
<circle cx="564.9" cy="1006.8" r="6.9" fill="#7cb3d8"/>
<circle cx="570.1" cy="1073.8" r="6.9" fill="#7cb3d8"/>
<circle cx="611.4" cy="1043.1" r="6.9" fill="#7cb3d8"/>
<circle cx="355.6" cy="933.1" r="6.9" fill="#7cb3d8"/>
<circle cx="538.6" cy="875.5" r="6.9" fill="#7cb3d8"/>
<circle cx="368.9" cy="408.9" r="6.9" fill="#7cb3d8"/>
<circle cx="817.6" cy="713.5" r="6.9" fill="#7cb3d8"/>
<circle cx="951.0" cy="684.4" r="6.9" fill="#7cb3d8"/>
<circle cx="957.4" cy="657.8" r="6.9" fill="#7cb3d8"/>
<circle cx="652.4" cy="894.6" r="6.9" fill="#7cb3d8"/>
<circle cx="650.6" cy="672.1" r="6.9" fill="#7cb3d8"/>
<circle cx="530.7" cy="772.1" r="6.9" fill="#7cb3d8"/>
<circle cx="423.2" cy="725.5" r="6.9" fill="#7cb3d8"/>
<circle cx="644.4" cy="954.5" r="6.9" fill="#7cb3d8"/>
<circle cx="728.2" cy="443.2" r="6.9" fill="#7cb3d8"/>
<circle cx="796.2" cy="766.3" r="6.9" fill="#7cb3d8"/>
<circle cx="511.4" cy="1029.7" r="6.9" fill="#7cb3d8"/>
<circle cx="398.1" cy="466.2" r="6.9" fill="#7cb3d8"/>
<circle cx="593.4" cy="567.2" r="6.9" fill="#7cb3d8"/>
<circle cx="611.5" cy="873.3" r="6.9" fill="#7cb3d8"/>
<circle cx="930.3" cy="906.4" r="6.9" fill="#7cb3d8"/>
<circle cx="644.4" cy="931.9" r="6.9" fill="#7cb3d8"/>
<circle cx="551.6" cy="474.5" r="6.9" fill="#7cb3d8"/>
<circle cx="626.6" cy="995.6" r="6.9" fill="#7cb3d8"/>
<circle cx="874.0" cy="853.0" r="6.9" fill="#7cb3d8"/>
<circle cx="455.8" cy="402.4" r="6.9" fill="#7cb3d8"/>
<circle cx="568.2" cy="797.4" r="6.9" fill="#7cb3d8"/>
<circle cx="766.2" cy="495.9" r="6.9" fill="#7cb3d8"/>
<circle cx="927.9" cy="872.7" r="6.9" fill="#7cb3d8"/>
<circle cx="611.1" cy="863.6" r="6.9" fill="#7cb3d8"/>
<circle cx="529.7" cy="510.6" r="6.9" fill="#7cb3d8"/>
<circle cx="802.9" cy="958.9" r="6.9" fill="#7cb3d8"/>
<circle cx="663.4" cy="471.7" r="6.9" fill="#7cb3d8"/>
<circle cx="547.2" cy="206.5" r="6.9" fill="#7cb3d8"/>
<circle cx="266.4" cy="381.3" r="6.9" fill="#7cb3d8"/>
<circle cx="767.2" cy="751.9" r="6.9" fill="#7cb3d8"/>
<circle cx="848.4" cy="711.7" r="6.9" fill="#7cb3d8"/>
<circle cx="281.6" cy="376.3" r="6.9" fill="#7cb3d8"/>
<circle cx="587.5" cy="947.7" r="6.9" fill="#7cb3d8"/>
<circle cx="831.1" cy="625.7" r="6.9" fill="#7cb3d8"/>
<circle cx="1070.3" cy="347.3" r="6.9" fill="#7cb3d8"/>
<circle cx="642.1" cy="721.3" r="6.9" fill="#7cb3d8"/>
<circle cx="625.4" cy="951.9" r="6.9" fill="#7cb3d8"/>
<circle cx="941.2" cy="654.5" r="6.9" fill="#7cb3d8"/>
<circle cx="735.2" cy="868.8" r="6.9" fill="#7cb3d8"/>
<circle cx="605.9" cy="707.5" r="6.9" fill="#7cb3d8"/>
<circle cx="824.7" cy="914.7" r="6.9" fill="#7cb3d8"/>
<circle cx="408.4" cy="522.3" r="6.9" fill="#7cb3d8"/>
<circle cx="796.5" cy="778.8" r="6.9" fill="#7cb3d8"/>
<circle cx="662.0" cy="1046.1" r="6.9" fill="#7cb3d8"/>
<circle cx="365.5" cy="558.7" r="6.9" fill="#7cb3d8"/>
<circle cx="704.0" cy="772.6" r="6.9" fill="#7cb3d8"/>
<circle cx="904.9" cy="331.7" r="6.9" fill="#7cb3d8"/>
<circle cx="474.7" cy="723.5" r="6.9" fill="#7cb3d8"/>
<circle cx="665.4" cy="1065.3" r="6.9" fill="#7cb3d8"/>
<circle cx="535.5" cy="507.9" r="6.9" fill="#7cb3d8"/>
<circle cx="653.1" cy="627.7" r="6.9" fill="#7cb3d8"/>
<circle cx="856.8" cy="584.9" r="6.9" fill="#7cb3d8"/>
<circle cx="585.4" cy="507.8" r="6.9" fill="#7cb3d8"/>
<circle cx="376.4" cy="346.1" r="6.9" fill="#7cb3d8"/>
<circle cx="806.0" cy="432.9" r="6.9" fill="#7cb3d8"/>
<circle cx="731.8" cy="675.5" r="6.9" fill="#7cb3d8"/>
<circle cx="704.7" cy="1044.0" r="6.9" fill="#7cb3d8"/>
<circle cx="551.8" cy="987.2" r="6.9" fill="#7cb3d8"/>
<circle cx="558.2" cy="528.7" r="6.9" fill="#7cb3d8"/>
<circle cx="843.7" cy="367.6" r="6.9" fill="#7cb3d8"/>
<circle cx="563.4" cy="897.8" r="6.9" fill="#7cb3d8"/>
<circle cx="814.1" cy="714.2" r="6.9" fill="#7cb3d8"/>
<circle cx="652.7" cy="445.3" r="6.9" fill="#7cb3d8"/>
<circle cx="552.4" cy="855.0" r="6.9" fill="#7cb3d8"/>
<circle cx="532.8" cy="844.8" r="6.9" fill="#7cb3d8"/>
<circle cx="803.8" cy="907.6" r="6.9" fill="#7cb3d8"/>
<circle cx="656.4" cy="1032.8" r="6.9" fill="#7cb3d8"/>
<circle cx="634.1" cy="1014.7" r="6.9" fill="#7cb3d8"/>
<circle cx="466.0" cy="815.3" r="6.9" fill="#7cb3d8"/>
<circle cx="738.7" cy="706.5" r="6.9" fill="#7cb3d8"/>
<circle cx="816.4" cy="324.1" r="6.9" fill="#7cb3d8"/>
<circle cx="661.0" cy="738.4" r="6.9" fill="#7cb3d8"/>
<circle cx="875.8" cy="874.6" r="6.9" fill="#7cb3d8"/>
<circle cx="502.4" cy="391.5" r="6.9" fill="#7cb3d8"/>
<circle cx="391.2" cy="552.5" r="6.9" fill="#7cb3d8"/>
<circle cx="222.4" cy="408.9" r="6.9" fill="#7cb3d8"/>
<circle cx="628.2" cy="924.5" r="6.9" fill="#7cb3d8"/>
<circle cx="584.2" cy="477.4" r="6.9" fill="#7cb3d8"/>
<circle cx="707.4" cy="1028.5" r="6.9" fill="#7cb3d8"/>
<circle cx="638.5" cy="507.1" r="6.9" fill="#7cb3d8"/>
<circle cx="683.5" cy="1008.7" r="6.9" fill="#7cb3d8"/>
<circle cx="549.5" cy="874.4" r="6.9" fill="#7cb3d8"/>
<circle cx="404.7" cy="264.4" r="6.9" fill="#7cb3d8"/>
<circle cx="542.7" cy="838.4" r="6.9" fill="#7cb3d8"/>
<circle cx="631.2" cy="1041.6" r="6.9" fill="#7cb3d8"/>
<circle cx="564.5" cy="425.7" r="6.9" fill="#7cb3d8"/>
<circle cx="786.2" cy="486.6" r="6.9" fill="#7cb3d8"/>
<circle cx="407.3" cy="554.1" r="6.9" fill="#7cb3d8"/>
<circle cx="627.0" cy="538.2" r="6.9" fill="#7cb3d8"/>
<circle cx="742.0" cy="748.7" r="6.9" fill="#7cb3d8"/>
<circle cx="417.0" cy="804.7" r="6.9" fill="#7cb3d8"/>
<circle cx="917.1" cy="913.0" r="6.9" fill="#7cb3d8"/>
<circle cx="575.0" cy="533.5" r="6.9" fill="#7cb3d8"/>
<circle cx="657.0" cy="784.9" r="6.9" fill="#7cb3d8"/>
<circle cx="264.1" cy="358.0" r="6.9" fill="#7cb3d8"/>
<circle cx="592.3" cy="257.5" r="6.9" fill="#7cb3d8"/>
<circle cx="331.7" cy="271.3" r="6.9" fill="#7cb3d8"/>
<circle cx="542.3" cy="484.2" r="6.9" fill="#7cb3d8"/>
<circle cx="554.9" cy="1034.9" r="6.9" fill="#7cb3d8"/>
<circle cx="884.5" cy="666.9" r="6.9" fill="#7cb3d8"/>
<circle cx="429.8" cy="429.1" r="6.9" fill="#7cb3d8"/>
<circle cx="647.0" cy="478.1" r="6.9" fill="#7cb3d8"/>
<circle cx="943.3" cy="871.7" r="6.9" fill="#7cb3d8"/>
<circle cx="857.0" cy="947.3" r="6.9" fill="#7cb3d8"/>
<circle cx="589.6" cy="427.0" r="6.9" fill="#7cb3d8"/>
<circle cx="852.3" cy="366.5" r="6.9" fill="#7cb3d8"/>
<circle cx="669.4" cy="1043.9" r="6.9" fill="#7cb3d8"/>
<circle cx="958.6" cy="661.3" r="6.9" fill="#7cb3d8"/>
<circle cx="518.0" cy="891.0" r="6.9" fill="#7cb3d8"/>
<circle cx="623.1" cy="434.2" r="6.9" fill="#7cb3d8"/>
<circle cx="806.3" cy="428.5" r="6.9" fill="#7cb3d8"/>
<circle cx="988.6" cy="851.3" r="6.9" fill="#7cb3d8"/>
<circle cx="597.2" cy="1005.4" r="6.9" fill="#7cb3d8"/>
<circle cx="466.8" cy="311.8" r="6.9" fill="#7cb3d8"/>
<circle cx="603.6" cy="994.9" r="6.9" fill="#7cb3d8"/>
<circle cx="692.5" cy="1057.6" r="6.9" fill="#7cb3d8"/>
<circle cx="913.5" cy="796.4" r="6.9" fill="#7cb3d8"/>
<circle cx="631.8" cy="1033.6" r="6.9" fill="#7cb3d8"/>
<circle cx="543.5" cy="932.1" r="6.9" fill="#7cb3d8"/>
<circle cx="772.6" cy="832.9" r="6.9" fill="#7cb3d8"/>
<circle cx="926.4" cy="648.5" r="6.9" fill="#7cb3d8"/>
<circle cx="484.4" cy="885.3" r="6.9" fill="#7cb3d8"/>
<circle cx="833.9" cy="646.5" r="6.9" fill="#7cb3d8"/>
<circle cx="606.2" cy="824.8" r="6.9" fill="#7cb3d8"/>
<circle cx="646.3" cy="1027.6" r="6.9" fill="#7cb3d8"/>
<circle cx="567.8" cy="466.5" r="6.9" fill="#7cb3d8"/>
<circle cx="618.0" cy="1078.0" r="6.9" fill="#7cb3d8"/>
<circle cx="551.9" cy="796.1" r="6.9" fill="#7cb3d8"/>
<circle cx="842.4" cy="421.6" r="6.9" fill="#7cb3d8"/>
<circle cx="841.5" cy="412.4" r="6.9" fill="#7cb3d8"/>
<circle cx="794.5" cy="686.4" r="6.9" fill="#7cb3d8"/>
<circle cx="616.0" cy="442.5" r="6.9" fill="#7cb3d8"/>
<circle cx="625.3" cy="754.2" r="6.9" fill="#7cb3d8"/>
<circle cx="686.9" cy="713.7" r="6.9" fill="#7cb3d8"/>
<circle cx="392.4" cy="547.2" r="6.9" fill="#7cb3d8"/>
<circle cx="617.9" cy="889.0" r="6.9" fill="#7cb3d8"/>
<circle cx="502.9" cy="911.0" r="6.9" fill="#7cb3d8"/>
<circle cx="483.4" cy="234.4" r="6.9" fill="#7cb3d8"/>
<circle cx="614.3" cy="730.5" r="6.9" fill="#7cb3d8"/>
<circle cx="536.9" cy="242.8" r="6.9" fill="#7cb3d8"/>
<circle cx="725.4" cy="1056.0" r="6.9" fill="#7cb3d8"/>
<circle cx="568.4" cy="878.7" r="6.9" fill="#7cb3d8"/>
<circle cx="916.9" cy="811.5" r="6.9" fill="#7cb3d8"/>
<circle cx="515.4" cy="986.2" r="6.9" fill="#7cb3d8"/>
<circle cx="515.2" cy="915.7" r="6.9" fill="#7cb3d8"/>
<circle cx="374.4" cy="798.2" r="6.9" fill="#7cb3d8"/>
<circle cx="528.3" cy="212.8" r="6.9" fill="#7cb3d8"/>
<circle cx="644.3" cy="813.9" r="6.9" fill="#7cb3d8"/>
<circle cx="796.8" cy="644.0" r="6.9" fill="#7cb3d8"/>
<circle cx="528.5" cy="430.1" r="6.9" fill="#7cb3d8"/>
<circle cx="716.1" cy="1027.6" r="6.9" fill="#7cb3d8"/>
<circle cx="534.5" cy="341.4" r="6.9" fill="#7cb3d8"/>
<circle cx="615.0" cy="824.7" r="6.9" fill="#7cb3d8"/>
<circle cx="732.1" cy="430.8" r="6.9" fill="#7cb3d8"/>
<circle cx="886.0" cy="505.7" r="6.9" fill="#7cb3d8"/>
<circle cx="825.4" cy="308.9" r="6.9" fill="#7cb3d8"/>
<circle cx="528.7" cy="507.3" r="6.9" fill="#7cb3d8"/>
<circle cx="877.0" cy="604.7" r="6.9" fill="#7cb3d8"/>
<circle cx="684.3" cy="871.1" r="6.9" fill="#7cb3d8"/>
<circle cx="932.1" cy="405.4" r="6.9" fill="#7cb3d8"/>
<circle cx="405.0" cy="532.0" r="6.9" fill="#7cb3d8"/>
<circle cx="650.3" cy="485.7" r="6.9" fill="#7cb3d8"/>
<circle cx="582.9" cy="844.6" r="6.9" fill="#7cb3d8"/>
<circle cx="928.0" cy="842.0" r="6.9" fill="#7cb3d8"/>
<circle cx="577.6" cy="968.1" r="6.9" fill="#7cb3d8"/>
<circle cx="532.3" cy="945.5" r="6.9" fill="#7cb3d8"/>
<circle cx="658.4" cy="956.8" r="6.9" fill="#7cb3d8"/>
<circle cx="757.3" cy="307.8" r="6.9" fill="#7cb3d8"/>
<circle cx="545.0" cy="436.1" r="6.9" fill="#7cb3d8"/>
<circle cx="582.0" cy="464.1" r="6.9" fill="#7cb3d8"/>
<circle cx="608.9" cy="955.1" r="6.9" fill="#7cb3d8"/>
<circle cx="598.1" cy="484.5" r="6.9" fill="#7cb3d8"/>
<circle cx="543.6" cy="901.5" r="6.9" fill="#7cb3d8"/>
<circle cx="821.4" cy="358.8" r="6.9" fill="#7cb3d8"/>
<circle cx="991.5" cy="775.4" r="6.9" fill="#7cb3d8"/>
<circle cx="934.7" cy="876.7" r="6.9" fill="#7cb3d8"/>
<circle cx="518.4" cy="512.1" r="6.9" fill="#7cb3d8"/>
<circle cx="503.4" cy="1017.0" r="6.9" fill="#7cb3d8"/>
<circle cx="724.0" cy="898.1" r="6.9" fill="#7cb3d8"/>
<circle cx="875.8" cy="914.7" r="6.9" fill="#7cb3d8"/>
<circle cx="471.9" cy="256.0" r="6.9" fill="#7cb3d8"/>
<circle cx="724.1" cy="274.6" r="6.9" fill="#7cb3d8"/>
<circle cx="893.8" cy="489.8" r="6.9" fill="#7cb3d8"/>
<circle cx="578.5" cy="958.0" r="6.9" fill="#7cb3d8"/>
<circle cx="785.8" cy="428.4" r="6.9" fill="#7cb3d8"/>
<circle cx="547.5" cy="884.3" r="6.9" fill="#7cb3d8"/>
<circle cx="927.5" cy="387.3" r="6.9" fill="#7cb3d8"/>
<circle cx="884.0" cy="362.3" r="6.9" fill="#7cb3d8"/>
<circle cx="330.3" cy="812.5" r="6.9" fill="#7cb3d8"/>
<circle cx="648.2" cy="1025.5" r="6.9" fill="#7cb3d8"/>
<circle cx="524.9" cy="915.9" r="6.9" fill="#7cb3d8"/>
<circle cx="408.5" cy="704.2" r="6.9" fill="#7cb3d8"/>
<circle cx="734.4" cy="666.1" r="6.9" fill="#7cb3d8"/>
<circle cx="676.2" cy="1025.0" r="6.9" fill="#7cb3d8"/>
<circle cx="635.5" cy="570.3" r="6.9" fill="#7cb3d8"/>
<circle cx="734.6" cy="733.8" r="6.9" fill="#7cb3d8"/>
<circle cx="871.3" cy="643.3" r="6.9" fill="#7cb3d8"/>
<circle cx="802.9" cy="942.6" r="6.9" fill="#7cb3d8"/>
<circle cx="711.1" cy="443.6" r="6.9" fill="#7cb3d8"/>
<circle cx="669.3" cy="795.6" r="6.9" fill="#7cb3d8"/>
<circle cx="476.1" cy="751.3" r="6.9" fill="#7cb3d8"/>
<circle cx="505.5" cy="282.9" r="6.9" fill="#7cb3d8"/>
<circle cx="892.2" cy="672.8" r="6.9" fill="#7cb3d8"/>
<circle cx="774.9" cy="247.4" r="6.9" fill="#7cb3d8"/>
<circle cx="545.6" cy="942.2" r="6.9" fill="#7cb3d8"/>
<circle cx="988.5" cy="291.7" r="6.9" fill="#7cb3d8"/>
<circle cx="687.8" cy="376.3" r="6.9" fill="#7cb3d8"/>
<circle cx="703.0" cy="910.3" r="6.9" fill="#7cb3d8"/>
<circle cx="888.7" cy="322.5" r="6.9" fill="#7cb3d8"/>
<circle cx="603.6" cy="473.3" r="6.9" fill="#7cb3d8"/>
<circle cx="507.2" cy="484.4" r="6.9" fill="#7cb3d8"/>
<circle cx="662.4" cy="962.1" r="6.9" fill="#7cb3d8"/>
<circle cx="671.9" cy="807.2" r="6.9" fill="#7cb3d8"/>
<circle cx="1047.2" cy="283.8" r="6.9" fill="#7cb3d8"/>
<circle cx="977.6" cy="806.7" r="6.9" fill="#7cb3d8"/>
<circle cx="603.0" cy="471.8" r="6.9" fill="#7cb3d8"/>
<circle cx="523.5" cy="276.7" r="6.9" fill="#7cb3d8"/>
<circle cx="396.9" cy="804.5" r="6.9" fill="#7cb3d8"/>
<circle cx="546.3" cy="788.8" r="6.9" fill="#7cb3d8"/>
<circle cx="525.4" cy="966.3" r="6.9" fill="#7cb3d8"/>
<circle cx="425.8" cy="928.9" r="6.9" fill="#7cb3d8"/>
<circle cx="557.0" cy="906.5" r="6.9" fill="#7cb3d8"/>
<circle cx="488.7" cy="932.3" r="6.9" fill="#7cb3d8"/>
<circle cx="754.4" cy="704.2" r="6.9" fill="#7cb3d8"/>
<circle cx="493.5" cy="1005.1" r="6.9" fill="#7cb3d8"/>
<circle cx="625.1" cy="1034.8" r="6.9" fill="#7cb3d8"/>
<circle cx="703.5" cy="734.6" r="6.9" fill="#7cb3d8"/>
<circle cx="568.7" cy="327.3" r="6.9" fill="#7cb3d8"/>
<circle cx="985.5" cy="775.8" r="6.9" fill="#7cb3d8"/>
<circle cx="676.7" cy="865.1" r="6.9" fill="#7cb3d8"/>
<circle cx="663.2" cy="835.3" r="6.9" fill="#7cb3d8"/>
<circle cx="867.6" cy="333.2" r="6.9" fill="#7cb3d8"/>
<circle cx="1016.4" cy="818.9" r="6.9" fill="#7cb3d8"/>
<circle cx="830.9" cy="744.5" r="6.9" fill="#7cb3d8"/>
<circle cx="355.3" cy="493.4" r="6.9" fill="#7cb3d8"/>
<circle cx="369.1" cy="494.6" r="6.9" fill="#7cb3d8"/>
<circle cx="532.1" cy="887.7" r="6.9" fill="#7cb3d8"/>
<circle cx="1008.5" cy="295.5" r="6.9" fill="#7cb3d8"/>
<circle cx="596.6" cy="1009.7" r="6.9" fill="#7cb3d8"/>
<circle cx="931.2" cy="428.1" r="6.9" fill="#7cb3d8"/>
<circle cx="536.3" cy="465.1" r="6.9" fill="#7cb3d8"/>
<circle cx="571.9" cy="466.5" r="6.9" fill="#7cb3d8"/>
<circle cx="510.6" cy="450.5" r="6.9" fill="#7cb3d8"/>
<circle cx="831.6" cy="443.6" r="6.9" fill="#7cb3d8"/>
<circle cx="846.7" cy="802.4" r="6.9" fill="#7cb3d8"/>
<circle cx="770.3" cy="994.5" r="6.9" fill="#7cb3d8"/>
<circle cx="482.5" cy="728.0" r="6.9" fill="#7cb3d8"/>
<circle cx="696.3" cy="462.7" r="6.9" fill="#7cb3d8"/>
<circle cx="283.1" cy="374.9" r="6.9" fill="#7cb3d8"/>
<circle cx="608.1" cy="833.0" r="6.9" fill="#7cb3d8"/>
<circle cx="916.4" cy="337.6" r="6.9" fill="#7cb3d8"/>
<circle cx="383.8" cy="548.6" r="6.9" fill="#7cb3d8"/>
<circle cx="1025.8" cy="427.5" r="6.9" fill="#7cb3d8"/>
<circle cx="378.0" cy="394.5" r="6.9" fill="#7cb3d8"/>
<circle cx="575.0" cy="853.1" r="6.9" fill="#7cb3d8"/>
<circle cx="615.8" cy="1006.8" r="6.9" fill="#7cb3d8"/>
<circle cx="654.6" cy="808.0" r="6.9" fill="#7cb3d8"/>
<circle cx="348.3" cy="448.2" r="6.9" fill="#7cb3d8"/>
<circle cx="532.5" cy="445.6" r="6.9" fill="#7cb3d8"/>
<circle cx="932.2" cy="894.8" r="6.9" fill="#7cb3d8"/>
<circle cx="612.0" cy="923.7" r="6.9" fill="#7cb3d8"/>
<circle cx="548.6" cy="486.3" r="6.9" fill="#7cb3d8"/>
<circle cx="666.1" cy="483.1" r="6.9" fill="#7cb3d8"/>
<circle cx="713.9" cy="669.9" r="6.9" fill="#7cb3d8"/>
<circle cx="754.8" cy="453.6" r="6.9" fill="#7cb3d8"/>
<circle cx="690.7" cy="866.8" r="6.9" fill="#7cb3d8"/>
<circle cx="643.4" cy="810.9" r="6.9" fill="#7cb3d8"/>
<circle cx="1056.7" cy="314.9" r="6.9" fill="#7cb3d8"/>
<circle cx="589.4" cy="1042.6" r="6.9" fill="#7cb3d8"/>
<circle cx="326.3" cy="272.7" r="6.9" fill="#7cb3d8"/>
<circle cx="764.1" cy="507.7" r="6.9" fill="#7cb3d8"/>
<circle cx="753.3" cy="681.3" r="6.9" fill="#7cb3d8"/>
<circle cx="551.9" cy="1072.4" r="6.9" fill="#7cb3d8"/>
<circle cx="804.7" cy="801.9" r="6.9" fill="#7cb3d8"/>
<circle cx="368.8" cy="738.3" r="6.9" fill="#7cb3d8"/>
<circle cx="593.9" cy="537.1" r="6.9" fill="#7cb3d8"/>
<circle cx="857.0" cy="347.7" r="6.9" fill="#7cb3d8"/>
<circle cx="812.0" cy="442.7" r="6.9" fill="#7cb3d8"/>
<circle cx="575.3" cy="436.3" r="6.9" fill="#7cb3d8"/>
<circle cx="687.2" cy="727.8" r="6.9" fill="#7cb3d8"/>
<circle cx="748.2" cy="657.3" r="6.9" fill="#7cb3d8"/>
<circle cx="317.9" cy="331.6" r="6.9" fill="#7cb3d8"/>
<circle cx="328.0" cy="563.0" r="6.9" fill="#7cb3d8"/>
<circle cx="668.6" cy="952.4" r="6.9" fill="#7cb3d8"/>
<circle cx="896.3" cy="306.7" r="6.9" fill="#7cb3d8"/>
<circle cx="788.3" cy="726.8" r="6.9" fill="#7cb3d8"/>
<circle cx="556.2" cy="557.6" r="6.9" fill="#7cb3d8"/>
<circle cx="686.8" cy="713.9" r="6.9" fill="#7cb3d8"/>
<circle cx="618.9" cy="454.0" r="6.9" fill="#7cb3d8"/>
<circle cx="654.5" cy="456.9" r="6.9" fill="#7cb3d8"/>
<circle cx="251.6" cy="470.9" r="6.9" fill="#7cb3d8"/>
<circle cx="563.9" cy="202.2" r="6.9" fill="#7cb3d8"/>
<circle cx="888.3" cy="612.4" r="6.9" fill="#7cb3d8"/>
<circle cx="715.7" cy="468.4" r="6.9" fill="#7cb3d8"/>
<circle cx="604.3" cy="495.8" r="6.9" fill="#7cb3d8"/>
<circle cx="502.6" cy="251.3" r="6.9" fill="#7cb3d8"/>
<circle cx="617.3" cy="873.6" r="6.9" fill="#7cb3d8"/>
<circle cx="836.3" cy="743.4" r="6.9" fill="#7cb3d8"/>
<circle cx="455.0" cy="505.1" r="6.9" fill="#7cb3d8"/>
<circle cx="585.6" cy="998.2" r="6.9" fill="#7cb3d8"/>
<circle cx="797.9" cy="867.7" r="6.9" fill="#7cb3d8"/>
<circle cx="685.3" cy="468.4" r="6.9" fill="#7cb3d8"/>
<circle cx="867.4" cy="553.1" r="6.9" fill="#7cb3d8"/>
<circle cx="666.0" cy="1090.0" r="6.9" fill="#7cb3d8"/>
<circle cx="575.7" cy="857.2" r="6.9" fill="#7cb3d8"/>
<circle cx="623.8" cy="687.3" r="6.9" fill="#7cb3d8"/>
<circle cx="466.6" cy="289.3" r="6.9" fill="#7cb3d8"/>
<circle cx="543.5" cy="930.4" r="6.9" fill="#7cb3d8"/>
<circle cx="801.2" cy="722.3" r="6.9" fill="#7cb3d8"/>
<circle cx="536.8" cy="482.7" r="6.9" fill="#7cb3d8"/>
<circle cx="823.6" cy="933.9" r="6.9" fill="#7cb3d8"/>
<circle cx="725.2" cy="907.6" r="6.9" fill="#7cb3d8"/>
<circle cx="607.0" cy="1029.3" r="6.9" fill="#7cb3d8"/>
<circle cx="326.1" cy="506.8" r="6.9" fill="#7cb3d8"/>
<circle cx="584.8" cy="1051.3" r="6.9" fill="#7cb3d8"/>
<circle cx="983.8" cy="815.0" r="6.9" fill="#7cb3d8"/>
<circle cx="784.6" cy="914.6" r="6.9" fill="#7cb3d8"/>
<circle cx="592.8" cy="447.7" r="6.9" fill="#7cb3d8"/>
<circle cx="490.8" cy="507.1" r="6.9" fill="#7cb3d8"/>
<circle cx="694.3" cy="647.8" r="6.9" fill="#7cb3d8"/>
<circle cx="303.6" cy="507.0" r="6.9" fill="#7cb3d8"/>
<circle cx="991.2" cy="676.6" r="6.9" fill="#7cb3d8"/>
<circle cx="423.1" cy="866.3" r="6.9" fill="#7cb3d8"/>
<circle cx="985.4" cy="807.2" r="6.9" fill="#7cb3d8"/>
<circle cx="617.0" cy="970.2" r="6.9" fill="#7cb3d8"/>
<circle cx="852.2" cy="803.5" r="6.9" fill="#7cb3d8"/>
<circle cx="475.9" cy="326.5" r="6.9" fill="#7cb3d8"/>
<circle cx="566.7" cy="443.8" r="6.9" fill="#7cb3d8"/>
<circle cx="571.3" cy="574.8" r="6.9" fill="#7cb3d8"/>
<circle cx="689.3" cy="749.1" r="6.9" fill="#7cb3d8"/>
<circle cx="791.8" cy="953.7" r="6.9" fill="#7cb3d8"/>
<circle cx="430.7" cy="794.8" r="6.9" fill="#7cb3d8"/>
<circle cx="537.0" cy="573.1" r="6.9" fill="#7cb3d8"/>
<circle cx="770.0" cy="452.6" r="6.9" fill="#7cb3d8"/>
<circle cx="662.6" cy="475.0" r="6.9" fill="#7cb3d8"/>
<circle cx="698.4" cy="1041.4" r="6.9" fill="#7cb3d8"/>
<circle cx="986.0" cy="414.8" r="6.9" fill="#7cb3d8"/>
<circle cx="575.4" cy="834.4" r="6.9" fill="#7cb3d8"/>
<circle cx="986.2" cy="826.9" r="6.9" fill="#7cb3d8"/>
<circle cx="704.0" cy="695.7" r="6.9" fill="#7cb3d8"/>
<circle cx="691.3" cy="1022.8" r="6.9" fill="#7cb3d8"/>
<circle cx="928.1" cy="294.2" r="6.9" fill="#7cb3d8"/>
<circle cx="801.4" cy="944.5" r="6.9" fill="#7cb3d8"/>
<circle cx="735.2" cy="894.9" r="6.9" fill="#7cb3d8"/>
<circle cx="597.7" cy="872.2" r="6.9" fill="#7cb3d8"/>
<circle cx="793.9" cy="753.4" r="6.9" fill="#7cb3d8"/>
<circle cx="664.4" cy="817.8" r="6.9" fill="#7cb3d8"/>
<circle cx="486.8" cy="313.3" r="6.9" fill="#7cb3d8"/>
<circle cx="674.0" cy="1078.0" r="6.9" fill="#7cb3d8"/>
<circle cx="374.3" cy="483.2" r="6.9" fill="#7cb3d8"/>
<circle cx="956.9" cy="655.4" r="6.9" fill="#7cb3d8"/>
<circle cx="571.1" cy="812.6" r="6.9" fill="#7cb3d8"/>
<circle cx="536.8" cy="312.8" r="6.9" fill="#7cb3d8"/>
<circle cx="865.3" cy="487.4" r="6.9" fill="#7cb3d8"/>
<circle cx="768.0" cy="225.1" r="6.9" fill="#7cb3d8"/>
<circle cx="932.4" cy="858.8" r="6.9" fill="#7cb3d8"/>
<circle cx="562.7" cy="832.6" r="6.9" fill="#7cb3d8"/>
<circle cx="513.4" cy="365.4" r="6.9" fill="#7cb3d8"/>
<circle cx="534.1" cy="858.8" r="6.9" fill="#7cb3d8"/>
<circle cx="295.6" cy="287.1" r="6.9" fill="#7cb3d8"/>
<circle cx="998.8" cy="786.5" r="6.9" fill="#7cb3d8"/>
<circle cx="376.7" cy="349.2" r="6.9" fill="#7cb3d8"/>
<circle cx="604.1" cy="841.6" r="6.9" fill="#7cb3d8"/>
<circle cx="681.8" cy="958.2" r="6.9" fill="#7cb3d8"/>
<circle cx="502.7" cy="757.0" r="6.9" fill="#7cb3d8"/>
<circle cx="742.3" cy="627.8" r="6.9" fill="#7cb3d8"/>
<circle cx="923.3" cy="657.6" r="6.9" fill="#7cb3d8"/>
<circle cx="1042.9" cy="328.3" r="6.9" fill="#7cb3d8"/>
<circle cx="616.7" cy="505.4" r="6.9" fill="#7cb3d8"/>
<circle cx="308.0" cy="386.3" r="6.9" fill="#7cb3d8"/>
<circle cx="642.7" cy="797.3" r="6.9" fill="#7cb3d8"/>
<circle cx="503.5" cy="505.1" r="6.9" fill="#7cb3d8"/>
<circle cx="666.9" cy="775.4" r="6.9" fill="#7cb3d8"/>
<circle cx="835.1" cy="925.7" r="6.9" fill="#7cb3d8"/>
<circle cx="572.2" cy="476.3" r="6.9" fill="#7cb3d8"/>
<circle cx="824.3" cy="351.7" r="6.9" fill="#7cb3d8"/>
<circle cx="382.2" cy="806.6" r="6.9" fill="#7cb3d8"/>
<circle cx="554.2" cy="978.4" r="6.9" fill="#7cb3d8"/>
<circle cx="758.2" cy="713.2" r="6.9" fill="#7cb3d8"/>
<circle cx="563.8" cy="793.9" r="6.9" fill="#7cb3d8"/>
<circle cx="318.6" cy="398.4" r="6.9" fill="#7cb3d8"/>
<circle cx="503.2" cy="424.1" r="6.9" fill="#7cb3d8"/>
<circle cx="521.9" cy="986.2" r="6.9" fill="#7cb3d8"/>
<circle cx="753.9" cy="714.1" r="6.9" fill="#7cb3d8"/>
<circle cx="783.9" cy="955.5" r="6.9" fill="#7cb3d8"/>
<circle cx="603.8" cy="1036.4" r="6.9" fill="#7cb3d8"/>
<circle cx="663.7" cy="666.0" r="6.9" fill="#7cb3d8"/>
<circle cx="522.9" cy="989.1" r="6.9" fill="#7cb3d8"/>
<circle cx="593.4" cy="1023.7" r="6.9" fill="#7cb3d8"/>
<circle cx="646.0" cy="1075.4" r="6.9" fill="#7cb3d8"/>
<circle cx="676.8" cy="455.6" r="6.9" fill="#7cb3d8"/>
<circle cx="864.8" cy="573.3" r="6.9" fill="#7cb3d8"/>
<circle cx="993.9" cy="843.0" r="6.9" fill="#7cb3d8"/>
<circle cx="825.4" cy="711.4" r="6.9" fill="#7cb3d8"/>
<circle cx="521.3" cy="441.5" r="6.9" fill="#7cb3d8"/>
<circle cx="972.7" cy="843.3" r="6.9" fill="#7cb3d8"/>
<circle cx="531.8" cy="437.4" r="6.9" fill="#7cb3d8"/>
<circle cx="634.8" cy="1006.3" r="6.9" fill="#7cb3d8"/>
<circle cx="696.9" cy="1034.9" r="6.9" fill="#7cb3d8"/>
<circle cx="830.7" cy="524.8" r="6.9" fill="#7cb3d8"/>
<circle cx="428.0" cy="466.0" r="6.9" fill="#7cb3d8"/>
<circle cx="623.7" cy="815.3" r="6.9" fill="#7cb3d8"/>
<circle cx="716.0" cy="1074.4" r="6.9" fill="#7cb3d8"/>
<circle cx="415.3" cy="817.9" r="6.9" fill="#7cb3d8"/>
<circle cx="637.7" cy="275.9" r="6.9" fill="#7cb3d8"/>
<circle cx="267.2" cy="304.9" r="6.9" fill="#7cb3d8"/>
<circle cx="562.2" cy="895.5" r="6.9" fill="#7cb3d8"/>
<circle cx="383.1" cy="450.3" r="6.9" fill="#7cb3d8"/>
<circle cx="714.5" cy="1006.5" r="6.9" fill="#7cb3d8"/>
<circle cx="550.2" cy="352.0" r="6.9" fill="#7cb3d8"/>
<circle cx="1015.6" cy="833.4" r="6.9" fill="#7cb3d8"/>
<circle cx="668.4" cy="302.7" r="6.9" fill="#7cb3d8"/>
<circle cx="368.0" cy="576.4" r="6.9" fill="#7cb3d8"/>
<circle cx="404.6" cy="311.7" r="6.9" fill="#7cb3d8"/>
<circle cx="744.0" cy="636.4" r="6.9" fill="#7cb3d8"/>
<circle cx="718.0" cy="264.7" r="6.9" fill="#7cb3d8"/>
<circle cx="612.5" cy="568.2" r="6.9" fill="#7cb3d8"/>
<circle cx="287.4" cy="421.5" r="6.9" fill="#7cb3d8"/>
<circle cx="351.4" cy="544.2" r="6.9" fill="#7cb3d8"/>
<circle cx="563.5" cy="871.2" r="6.9" fill="#7cb3d8"/>
<circle cx="295.5" cy="323.6" r="6.9" fill="#7cb3d8"/>
<circle cx="714.4" cy="1065.6" r="6.9" fill="#7cb3d8"/>
<circle cx="625.7" cy="989.4" r="6.9" fill="#7cb3d8"/>
<circle cx="710.6" cy="311.4" r="6.9" fill="#7cb3d8"/>
<circle cx="957.7" cy="301.7" r="6.9" fill="#7cb3d8"/>
<circle cx="550.8" cy="515.1" r="6.9" fill="#7cb3d8"/>
<circle cx="548.9" cy="589.6" r="6.9" fill="#7cb3d8"/>
<circle cx="746.9" cy="670.9" r="6.9" fill="#7cb3d8"/>
<circle cx="714.1" cy="851.5" r="6.9" fill="#7cb3d8"/>
<circle cx="906.1" cy="366.6" r="6.9" fill="#7cb3d8"/>
<circle cx="642.3" cy="835.5" r="6.9" fill="#7cb3d8"/>
<circle cx="577.6" cy="811.3" r="6.9" fill="#7cb3d8"/>
<circle cx="873.5" cy="615.5" r="6.9" fill="#7cb3d8"/>
<circle cx="594.5" cy="985.1" r="6.9" fill="#7cb3d8"/>
<circle cx="408.8" cy="745.3" r="6.9" fill="#7cb3d8"/>
<circle cx="356.0" cy="494.6" r="6.9" fill="#7cb3d8"/>
<circle cx="513.0" cy="758.1" r="6.9" fill="#7cb3d8"/>
<circle cx="726.9" cy="450.4" r="6.9" fill="#7cb3d8"/>
<circle cx="1075.4" cy="483.9" r="6.9" fill="#7cb3d8"/>
<circle cx="662.5" cy="764.9" r="6.9" fill="#7cb3d8"/>
<circle cx="727.4" cy="707.5" r="6.9" fill="#7cb3d8"/>
<circle cx="706.2" cy="774.3" r="6.9" fill="#7cb3d8"/>
<circle cx="937.7" cy="798.9" r="6.9" fill="#7cb3d8"/>
<circle cx="554.7" cy="1024.4" r="6.9" fill="#7cb3d8"/>
<circle cx="853.2" cy="954.4" r="6.9" fill="#7cb3d8"/>
<circle cx="373.9" cy="735.3" r="6.9" fill="#7cb3d8"/>
<circle cx="497.1" cy="271.5" r="6.9" fill="#7cb3d8"/>
<circle cx="551.9" cy="843.8" r="6.9" fill="#7cb3d8"/>
<circle cx="964.3" cy="671.9" r="6.9" fill="#7cb3d8"/>
<circle cx="878.6" cy="842.8" r="6.9" fill="#7cb3d8"/>
<circle cx="813.3" cy="626.6" r="6.9" fill="#7cb3d8"/>
<circle cx="653.9" cy="505.1" r="6.9" fill="#7cb3d8"/>
<circle cx="651.3" cy="870.5" r="6.9" fill="#7cb3d8"/>
<circle cx="443.1" cy="390.2" r="6.9" fill="#7cb3d8"/>
<circle cx="930.7" cy="869.2" r="6.9" fill="#7cb3d8"/>
<circle cx="535.4" cy="1050.6" r="6.9" fill="#7cb3d8"/>
<circle cx="596.6" cy="524.8" r="6.9" fill="#7cb3d8"/>
<circle cx="506.0" cy="235.2" r="6.9" fill="#7cb3d8"/>
<circle cx="745.9" cy="226.1" r="6.9" fill="#7cb3d8"/>
<circle cx="537.1" cy="354.6" r="6.9" fill="#7cb3d8"/>
<circle cx="626.2" cy="853.5" r="6.9" fill="#7cb3d8"/>
<circle cx="883.9" cy="484.2" r="6.9" fill="#7cb3d8"/>
<circle cx="618.1" cy="841.6" r="6.9" fill="#7cb3d8"/>
<circle cx="698.5" cy="1008.3" r="6.9" fill="#7cb3d8"/>
<circle cx="994.2" cy="835.2" r="6.9" fill="#7cb3d8"/>
<circle cx="985.5" cy="813.3" r="6.9" fill="#7cb3d8"/>
<circle cx="996.2" cy="329.2" r="6.9" fill="#7cb3d8"/>
<circle cx="707.8" cy="877.0" r="6.9" fill="#7cb3d8"/>
<circle cx="373.5" cy="558.4" r="6.9" fill="#7cb3d8"/>
<circle cx="586.6" cy="705.7" r="6.9" fill="#7cb3d8"/>
<circle cx="395.4" cy="502.7" r="6.9" fill="#7cb3d8"/>
<circle cx="672.0" cy="807.1" r="6.9" fill="#7cb3d8"/>
<circle cx="611.5" cy="523.5" r="6.9" fill="#7cb3d8"/>
<circle cx="788.3" cy="708.2" r="6.9" fill="#7cb3d8"/>
<circle cx="721.3" cy="728.4" r="6.9" fill="#7cb3d8"/>
<circle cx="768.9" cy="246.4" r="6.9" fill="#7cb3d8"/>
<circle cx="403.5" cy="772.0" r="6.9" fill="#7cb3d8"/>
<circle cx="493.9" cy="917.6" r="6.9" fill="#7cb3d8"/>
<circle cx="343.4" cy="533.9" r="6.9" fill="#7cb3d8"/>
<circle cx="626.2" cy="225.2" r="6.9" fill="#7cb3d8"/>
<circle cx="623.8" cy="301.0" r="6.9" fill="#7cb3d8"/>
<circle cx="466.6" cy="724.1" r="6.9" fill="#7cb3d8"/>
<circle cx="588.7" cy="548.8" r="6.9" fill="#7cb3d8"/>
<circle cx="524.5" cy="285.0" r="6.9" fill="#7cb3d8"/>
<circle cx="573.3" cy="257.0" r="6.9" fill="#7cb3d8"/>
<circle cx="504.1" cy="962.4" r="6.9" fill="#7cb3d8"/>
<circle cx="347.6" cy="552.0" r="6.9" fill="#7cb3d8"/>
<circle cx="927.2" cy="514.5" r="6.9" fill="#7cb3d8"/>
<circle cx="628.0" cy="1003.1" r="6.9" fill="#7cb3d8"/>
<circle cx="662.7" cy="312.0" r="6.9" fill="#7cb3d8"/>
<circle cx="618.0" cy="298.2" r="6.9" fill="#7cb3d8"/>
<circle cx="467.9" cy="708.0" r="6.9" fill="#7cb3d8"/>
<circle cx="796.8" cy="732.8" r="6.9" fill="#7cb3d8"/>
<circle cx="871.5" cy="511.9" r="6.9" fill="#7cb3d8"/>
<circle cx="603.1" cy="935.4" r="6.9" fill="#7cb3d8"/>
<circle cx="543.8" cy="1058.2" r="6.9" fill="#7cb3d8"/>
<circle cx="684.1" cy="495.3" r="6.9" fill="#7cb3d8"/>
<circle cx="767.1" cy="676.8" r="6.9" fill="#7cb3d8"/>
<circle cx="507.2" cy="338.3" r="6.9" fill="#7cb3d8"/>
<circle cx="398.8" cy="541.5" r="6.9" fill="#7cb3d8"/>
<circle cx="1028.5" cy="281.9" r="6.9" fill="#7cb3d8"/>
<circle cx="729.0" cy="286.5" r="6.9" fill="#7cb3d8"/>
<circle cx="554.0" cy="827.6" r="6.9" fill="#7cb3d8"/>
<circle cx="635.4" cy="457.0" r="6.9" fill="#7cb3d8"/>
<circle cx="525.8" cy="1046.1" r="6.9" fill="#7cb3d8"/>
<circle cx="324.1" cy="552.9" r="6.9" fill="#7cb3d8"/>
<circle cx="762.3" cy="757.8" r="6.9" fill="#7cb3d8"/>
<circle cx="550.8" cy="512.5" r="6.9" fill="#7cb3d8"/>
<circle cx="343.1" cy="338.2" r="6.9" fill="#7cb3d8"/>
<circle cx="752.6" cy="711.5" r="6.9" fill="#7cb3d8"/>
<circle cx="636.9" cy="1027.7" r="6.9" fill="#7cb3d8"/>
<circle cx="621.2" cy="314.7" r="6.9" fill="#7cb3d8"/>
<circle cx="543.3" cy="1006.8" r="6.9" fill="#7cb3d8"/>
<circle cx="350.8" cy="272.2" r="6.9" fill="#7cb3d8"/>
<circle cx="548.7" cy="1049.5" r="6.9" fill="#7cb3d8"/>
<circle cx="516.4" cy="1011.7" r="6.9" fill="#7cb3d8"/>
<circle cx="418.9" cy="418.3" r="6.9" fill="#7cb3d8"/>
<circle cx="571.8" cy="1010.3" r="6.9" fill="#7cb3d8"/>
<circle cx="678.6" cy="1078.4" r="6.9" fill="#7cb3d8"/>
<circle cx="594.4" cy="550.5" r="6.9" fill="#7cb3d8"/>
<circle cx="454.2" cy="807.6" r="6.9" fill="#7cb3d8"/>
<circle cx="923.2" cy="671.8" r="6.9" fill="#7cb3d8"/>
<circle cx="534.2" cy="256.6" r="6.9" fill="#7cb3d8"/>
<circle cx="508.0" cy="971.4" r="6.9" fill="#7cb3d8"/>
<circle cx="795.1" cy="604.3" r="6.9" fill="#7cb3d8"/>
<circle cx="612.7" cy="882.5" r="6.9" fill="#7cb3d8"/>
<circle cx="716.5" cy="723.3" r="6.9" fill="#7cb3d8"/>
<circle cx="610.4" cy="911.9" r="6.9" fill="#7cb3d8"/>
<circle cx="538.4" cy="911.7" r="6.9" fill="#7cb3d8"/>
<circle cx="813.1" cy="908.5" r="6.9" fill="#7cb3d8"/>
<circle cx="928.5" cy="385.7" r="6.9" fill="#7cb3d8"/>
<circle cx="586.4" cy="1072.7" r="6.9" fill="#7cb3d8"/>
<circle cx="271.0" cy="351.8" r="6.9" fill="#7cb3d8"/>
<circle cx="636.7" cy="863.6" r="6.9" fill="#7cb3d8"/>
<circle cx="595.0" cy="501.9" r="6.9" fill="#7cb3d8"/>
<circle cx="623.7" cy="1042.3" r="6.9" fill="#7cb3d8"/>
<circle cx="916.7" cy="634.9" r="6.9" fill="#7cb3d8"/>
<circle cx="689.0" cy="817.0" r="6.9" fill="#7cb3d8"/>
<circle cx="502.3" cy="298.6" r="6.9" fill="#7cb3d8"/>
<circle cx="797.5" cy="425.5" r="6.9" fill="#7cb3d8"/>
<circle cx="778.3" cy="302.1" r="6.9" fill="#7cb3d8"/>
<circle cx="533.1" cy="1011.7" r="6.9" fill="#7cb3d8"/>
<circle cx="674.8" cy="852.7" r="6.9" fill="#7cb3d8"/>
<circle cx="558.6" cy="1051.8" r="6.9" fill="#7cb3d8"/>
<circle cx="757.2" cy="731.9" r="6.9" fill="#7cb3d8"/>
<circle cx="783.6" cy="768.8" r="6.9" fill="#7cb3d8"/>
<circle cx="603.3" cy="963.2" r="6.9" fill="#7cb3d8"/>
<circle cx="384.7" cy="794.7" r="6.9" fill="#7cb3d8"/>
<circle cx="909.9" cy="692.3" r="6.9" fill="#7cb3d8"/>
<circle cx="848.6" cy="632.0" r="6.9" fill="#7cb3d8"/>
<circle cx="497.6" cy="736.1" r="6.9" fill="#7cb3d8"/>
<circle cx="457.3" cy="296.7" r="6.9" fill="#7cb3d8"/>
<circle cx="658.4" cy="822.6" r="6.9" fill="#7cb3d8"/>
<circle cx="576.7" cy="487.9" r="6.9" fill="#7cb3d8"/>
<circle cx="844.2" cy="827.1" r="6.9" fill="#7cb3d8"/>
<circle cx="481.4" cy="257.9" r="6.9" fill="#7cb3d8"/>
<circle cx="542.3" cy="983.8" r="6.9" fill="#7cb3d8"/>
<circle cx="452.9" cy="281.3" r="6.9" fill="#7cb3d8"/>
<circle cx="441.2" cy="718.4" r="6.9" fill="#7cb3d8"/>
<circle cx="412.5" cy="306.4" r="6.9" fill="#7cb3d8"/>
<circle cx="965.5" cy="334.7" r="6.9" fill="#7cb3d8"/>
<circle cx="316.9" cy="523.5" r="6.9" fill="#7cb3d8"/>
<circle cx="607.5" cy="756.1" r="6.9" fill="#7cb3d8"/>
<circle cx="785.3" cy="756.9" r="6.9" fill="#7cb3d8"/>
<circle cx="594.6" cy="1033.8" r="6.9" fill="#7cb3d8"/>
<circle cx="575.4" cy="190.3" r="6.9" fill="#7cb3d8"/>
<circle cx="763.4" cy="256.4" r="6.9" fill="#7cb3d8"/>
<circle cx="703.6" cy="301.7" r="6.9" fill="#7cb3d8"/>
<circle cx="716.8" cy="678.9" r="6.9" fill="#7cb3d8"/>
<circle cx="649.2" cy="266.4" r="6.9" fill="#7cb3d8"/>
<circle cx="748.9" cy="694.7" r="6.9" fill="#7cb3d8"/>
<circle cx="955.5" cy="438.3" r="6.9" fill="#7cb3d8"/>
<circle cx="345.3" cy="512.3" r="6.9" fill="#7cb3d8"/>
<circle cx="643.0" cy="758.6" r="6.9" fill="#7cb3d8"/>
<circle cx="695.5" cy="323.8" r="6.9" fill="#7cb3d8"/>
<circle cx="621.3" cy="495.7" r="6.9" fill="#7cb3d8"/>
<circle cx="943.9" cy="814.6" r="6.9" fill="#7cb3d8"/>
<circle cx="778.0" cy="291.5" r="6.9" fill="#7cb3d8"/>
<circle cx="556.0" cy="341.8" r="6.9" fill="#7cb3d8"/>
<circle cx="412.3" cy="431.7" r="6.9" fill="#7cb3d8"/>
<circle cx="489.4" cy="947.0" r="6.9" fill="#7cb3d8"/>
<circle cx="794.0" cy="431.8" r="6.9" fill="#7cb3d8"/>
<circle cx="544.7" cy="531.1" r="6.9" fill="#7cb3d8"/>
<circle cx="672.6" cy="478.7" r="6.9" fill="#7cb3d8"/>
<circle cx="364.4" cy="431.1" r="6.9" fill="#7cb3d8"/>
<circle cx="527.7" cy="890.2" r="6.9" fill="#7cb3d8"/>
<circle cx="522.4" cy="478.0" r="6.9" fill="#7cb3d8"/>
<circle cx="567.9" cy="816.4" r="6.9" fill="#7cb3d8"/>
<circle cx="1068.8" cy="323.6" r="6.9" fill="#7cb3d8"/>
<circle cx="725.9" cy="783.8" r="6.9" fill="#7cb3d8"/>
<circle cx="490.1" cy="689.0" r="6.9" fill="#7cb3d8"/>
<circle cx="522.2" cy="855.5" r="6.9" fill="#7cb3d8"/>
<circle cx="677.2" cy="344.2" r="6.9" fill="#7cb3d8"/>
<circle cx="304.3" cy="398.7" r="6.9" fill="#7cb3d8"/>
<circle cx="761.9" cy="515.5" r="6.9" fill="#7cb3d8"/>
<circle cx="874.7" cy="347.5" r="6.9" fill="#7cb3d8"/>
<circle cx="467.8" cy="352.9" r="6.9" fill="#7cb3d8"/>
<circle cx="502.7" cy="382.0" r="6.9" fill="#7cb3d8"/>
<circle cx="676.6" cy="692.8" r="6.9" fill="#7cb3d8"/>
<circle cx="964.5" cy="591.8" r="6.9" fill="#7cb3d8"/>
<circle cx="978.4" cy="443.2" r="6.9" fill="#7cb3d8"/>
<circle cx="657.8" cy="1036.3" r="6.9" fill="#7cb3d8"/>
<circle cx="384.5" cy="242.4" r="6.9" fill="#7cb3d8"/>
<circle cx="622.8" cy="884.6" r="6.9" fill="#7cb3d8"/>
<circle cx="466.8" cy="769.4" r="6.9" fill="#7cb3d8"/>
<circle cx="750.1" cy="1035.1" r="6.9" fill="#7cb3d8"/>
<circle cx="432.1" cy="294.9" r="6.9" fill="#7cb3d8"/>
<circle cx="745.9" cy="526.2" r="6.9" fill="#7cb3d8"/>
<circle cx="614.8" cy="836.7" r="6.9" fill="#7cb3d8"/>
<circle cx="665.0" cy="1002.1" r="6.9" fill="#7cb3d8"/>
<circle cx="703.9" cy="789.6" r="6.9" fill="#7cb3d8"/>
<circle cx="825.8" cy="506.2" r="6.9" fill="#7cb3d8"/>
<circle cx="590.8" cy="923.9" r="6.9" fill="#7cb3d8"/>
<circle cx="564.8" cy="904.9" r="6.9" fill="#7cb3d8"/>
<circle cx="1051.7" cy="476.4" r="6.9" fill="#7cb3d8"/>
<circle cx="512.2" cy="883.2" r="6.9" fill="#7cb3d8"/>
<circle cx="965.7" cy="815.9" r="6.9" fill="#7cb3d8"/>
<circle cx="675.5" cy="974.4" r="6.9" fill="#7cb3d8"/>
<circle cx="557.8" cy="568.0" r="6.9" fill="#7cb3d8"/>
<circle cx="765.7" cy="726.3" r="6.9" fill="#7cb3d8"/>
<circle cx="741.3" cy="677.7" r="6.9" fill="#7cb3d8"/>
<circle cx="383.7" cy="327.7" r="6.9" fill="#7cb3d8"/>
<circle cx="689.6" cy="235.1" r="6.9" fill="#7cb3d8"/>
<circle cx="915.8" cy="583.8" r="6.9" fill="#7cb3d8"/>
<circle cx="472.9" cy="381.9" r="6.9" fill="#7cb3d8"/>
<circle cx="785.3" cy="415.8" r="6.9" fill="#7cb3d8"/>
<circle cx="688.4" cy="568.1" r="6.9" fill="#7cb3d8"/>
<circle cx="972.0" cy="773.6" r="6.9" fill="#7cb3d8"/>
<circle cx="705.4" cy="345.4" r="6.9" fill="#7cb3d8"/>
<circle cx="437.1" cy="858.1" r="6.9" fill="#7cb3d8"/>
<circle cx="897.6" cy="505.9" r="6.9" fill="#7cb3d8"/>
<circle cx="844.6" cy="514.1" r="6.9" fill="#7cb3d8"/>
<circle cx="567.3" cy="924.1" r="6.9" fill="#7cb3d8"/>
<circle cx="934.2" cy="635.3" r="6.9" fill="#7cb3d8"/>
<circle cx="958.7" cy="441.7" r="6.9" fill="#7cb3d8"/>
<circle cx="912.3" cy="866.8" r="6.9" fill="#7cb3d8"/>
<circle cx="575.6" cy="243.3" r="6.9" fill="#7cb3d8"/>
<circle cx="364.7" cy="493.3" r="6.9" fill="#7cb3d8"/>
<circle cx="386.7" cy="417.8" r="6.9" fill="#7cb3d8"/>
<circle cx="611.2" cy="349.3" r="6.9" fill="#7cb3d8"/>
<circle cx="691.2" cy="846.5" r="6.9" fill="#7cb3d8"/>
<circle cx="573.4" cy="1026.3" r="6.9" fill="#7cb3d8"/>
<circle cx="893.3" cy="372.1" r="6.9" fill="#7cb3d8"/>
<circle cx="764.3" cy="671.7" r="6.9" fill="#7cb3d8"/>
<circle cx="592.0" cy="483.4" r="6.9" fill="#7cb3d8"/>
<circle cx="653.1" cy="510.8" r="6.9" fill="#7cb3d8"/>
<circle cx="664.8" cy="453.7" r="6.9" fill="#7cb3d8"/>
<circle cx="542.1" cy="347.5" r="6.9" fill="#7cb3d8"/>
<circle cx="618.5" cy="1035.3" r="6.9" fill="#7cb3d8"/>
<circle cx="513.2" cy="388.8" r="6.9" fill="#7cb3d8"/>
<circle cx="766.0" cy="742.4" r="6.9" fill="#7cb3d8"/>
<circle cx="835.7" cy="914.0" r="6.9" fill="#7cb3d8"/>
<circle cx="732.4" cy="453.0" r="6.9" fill="#7cb3d8"/>
<circle cx="789.0" cy="649.5" r="6.9" fill="#7cb3d8"/>
<circle cx="804.6" cy="718.9" r="6.9" fill="#7cb3d8"/>
<circle cx="509.5" cy="516.0" r="6.9" fill="#7cb3d8"/>
<circle cx="543.9" cy="511.6" r="6.9" fill="#7cb3d8"/>
<circle cx="557.3" cy="958.4" r="6.9" fill="#7cb3d8"/>
<circle cx="849.5" cy="502.7" r="6.9" fill="#7cb3d8"/>
<circle cx="370.4" cy="523.1" r="6.9" fill="#7cb3d8"/>
<circle cx="311.1" cy="466.8" r="6.9" fill="#7cb3d8"/>
<circle cx="524.2" cy="1022.8" r="6.9" fill="#7cb3d8"/>
<circle cx="910.0" cy="397.8" r="6.9" fill="#7cb3d8"/>
<circle cx="427.0" cy="794.9" r="6.9" fill="#7cb3d8"/>
<circle cx="571.5" cy="992.9" r="6.9" fill="#7cb3d8"/>
<circle cx="925.2" cy="302.9" r="6.9" fill="#7cb3d8"/>
<circle cx="293.0" cy="437.7" r="6.9" fill="#7cb3d8"/>
<circle cx="731.5" cy="758.5" r="6.9" fill="#7cb3d8"/>
<circle cx="665.9" cy="873.7" r="6.9" fill="#7cb3d8"/>
<circle cx="931.6" cy="801.9" r="6.9" fill="#7cb3d8"/>
<circle cx="895.6" cy="826.1" r="6.9" fill="#7cb3d8"/>
<circle cx="558.9" cy="947.0" r="6.9" fill="#7cb3d8"/>
<circle cx="414.9" cy="526.1" r="6.9" fill="#7cb3d8"/>
<circle cx="785.4" cy="412.9" r="6.9" fill="#7cb3d8"/>
<circle cx="391.1" cy="973.5" r="6.9" fill="#7cb3d8"/>
<circle cx="493.2" cy="730.7" r="6.9" fill="#7cb3d8"/>
<circle cx="929.7" cy="508.0" r="6.9" fill="#7cb3d8"/>
<circle cx="848.3" cy="631.8" r="6.9" fill="#7cb3d8"/>
<circle cx="627.4" cy="467.4" r="6.9" fill="#7cb3d8"/>
<circle cx="671.5" cy="354.3" r="6.9" fill="#7cb3d8"/>
<circle cx="346.8" cy="797.4" r="6.9" fill="#7cb3d8"/>
<circle cx="674.6" cy="825.8" r="6.9" fill="#7cb3d8"/>
<circle cx="855.0" cy="564.2" r="6.9" fill="#7cb3d8"/>
<circle cx="504.6" cy="1004.1" r="6.9" fill="#7cb3d8"/>
<circle cx="737.6" cy="655.5" r="6.9" fill="#7cb3d8"/>
<circle cx="349.8" cy="756.8" r="6.9" fill="#7cb3d8"/>
<circle cx="591.3" cy="302.5" r="6.9" fill="#7cb3d8"/>
<circle cx="958.1" cy="787.1" r="6.9" fill="#7cb3d8"/>
<circle cx="546.7" cy="973.9" r="6.9" fill="#7cb3d8"/>
<circle cx="525.9" cy="470.2" r="6.9" fill="#7cb3d8"/>
<circle cx="1018.5" cy="476.1" r="6.9" fill="#7cb3d8"/>
<circle cx="791.6" cy="947.5" r="6.9" fill="#7cb3d8"/>
<circle cx="368.9" cy="741.1" r="6.9" fill="#7cb3d8"/>
<circle cx="827.3" cy="350.0" r="6.9" fill="#7cb3d8"/>
<circle cx="446.7" cy="790.0" r="6.9" fill="#7cb3d8"/>
<circle cx="946.6" cy="689.7" r="6.9" fill="#7cb3d8"/>
<circle cx="554.9" cy="542.8" r="6.9" fill="#7cb3d8"/>
<circle cx="596.8" cy="908.6" r="6.9" fill="#7cb3d8"/>
<circle cx="533.1" cy="522.7" r="6.9" fill="#7cb3d8"/>
<circle cx="350.8" cy="850.1" r="6.9" fill="#7cb3d8"/>
<circle cx="573.2" cy="947.2" r="6.9" fill="#7cb3d8"/>
<circle cx="803.6" cy="975.7" r="6.9" fill="#7cb3d8"/>
<circle cx="686.0" cy="1076.2" r="6.9" fill="#7cb3d8"/>
<circle cx="512.8" cy="649.8" r="6.9" fill="#7cb3d8"/>
<circle cx="538.3" cy="497.4" r="6.9" fill="#7cb3d8"/>
<circle cx="714.0" cy="670.2" r="6.9" fill="#7cb3d8"/>
<circle cx="766.4" cy="808.1" r="6.9" fill="#7cb3d8"/>
<circle cx="813.1" cy="688.1" r="6.9" fill="#7cb3d8"/>
<circle cx="683.6" cy="857.8" r="6.9" fill="#7cb3d8"/>
<circle cx="876.8" cy="549.6" r="6.9" fill="#7cb3d8"/>
<circle cx="354.9" cy="571.7" r="6.9" fill="#7cb3d8"/>
<circle cx="862.0" cy="887.5" r="6.9" fill="#7cb3d8"/>
<circle cx="556.5" cy="994.4" r="6.9" fill="#7cb3d8"/>
<circle cx="357.1" cy="281.9" r="6.9" fill="#7cb3d8"/>
<circle cx="525.2" cy="355.1" r="6.9" fill="#7cb3d8"/>
<circle cx="516.5" cy="208.7" r="6.9" fill="#7cb3d8"/>
<circle cx="781.3" cy="453.2" r="6.9" fill="#7cb3d8"/>
<circle cx="533.1" cy="573.5" r="6.9" fill="#7cb3d8"/>
<circle cx="572.3" cy="745.3" r="6.9" fill="#7cb3d8"/>
<circle cx="508.9" cy="966.8" r="6.9" fill="#7cb3d8"/>
<circle cx="642.7" cy="1071.2" r="6.9" fill="#7cb3d8"/>
<circle cx="832.1" cy="357.9" r="6.9" fill="#7cb3d8"/>
<circle cx="713.4" cy="852.0" r="6.9" fill="#7cb3d8"/>
<circle cx="539.0" cy="778.7" r="6.9" fill="#7cb3d8"/>
<circle cx="562.7" cy="866.1" r="6.9" fill="#7cb3d8"/>
<circle cx="865.1" cy="837.8" r="6.9" fill="#7cb3d8"/>
<circle cx="617.3" cy="551.3" r="6.9" fill="#7cb3d8"/>
<circle cx="691.5" cy="348.6" r="6.9" fill="#7cb3d8"/>
<circle cx="517.2" cy="986.0" r="6.9" fill="#7cb3d8"/>
<circle cx="525.5" cy="372.1" r="6.9" fill="#7cb3d8"/>
<circle cx="747.2" cy="446.8" r="6.9" fill="#7cb3d8"/>
<circle cx="787.0" cy="296.4" r="6.9" fill="#7cb3d8"/>
<circle cx="616.4" cy="422.4" r="6.9" fill="#7cb3d8"/>
<circle cx="388.3" cy="567.9" r="6.9" fill="#7cb3d8"/>
<circle cx="393.4" cy="434.1" r="6.9" fill="#7cb3d8"/>
<circle cx="954.7" cy="623.3" r="6.9" fill="#7cb3d8"/>
<circle cx="492.2" cy="706.0" r="6.9" fill="#7cb3d8"/>
<circle cx="527.5" cy="875.0" r="6.9" fill="#7cb3d8"/>
<circle cx="449.2" cy="737.6" r="6.9" fill="#7cb3d8"/>
<circle cx="553.8" cy="983.7" r="6.9" fill="#7cb3d8"/>
<circle cx="390.1" cy="715.9" r="6.9" fill="#7cb3d8"/>
<circle cx="725.0" cy="714.2" r="6.9" fill="#7cb3d8"/>
<circle cx="392.3" cy="473.1" r="6.9" fill="#7cb3d8"/>
<circle cx="527.6" cy="1031.2" r="6.9" fill="#7cb3d8"/>
<circle cx="575.3" cy="981.1" r="6.9" fill="#7cb3d8"/>
<circle cx="366.0" cy="254.2" r="6.9" fill="#7cb3d8"/>
<circle cx="353.4" cy="513.9" r="6.9" fill="#7cb3d8"/>
<circle cx="710.7" cy="1026.8" r="6.9" fill="#7cb3d8"/>
<circle cx="588.5" cy="955.0" r="6.9" fill="#7cb3d8"/>
<circle cx="608.5" cy="207.2" r="6.9" fill="#7cb3d8"/>
<circle cx="1001.2" cy="305.7" r="6.9" fill="#7cb3d8"/>
<circle cx="505.1" cy="1008.9" r="6.9" fill="#7cb3d8"/>
<circle cx="592.7" cy="543.0" r="6.9" fill="#7cb3d8"/>
<circle cx="666.8" cy="442.6" r="6.9" fill="#7cb3d8"/>
<circle cx="364.0" cy="854.3" r="6.9" fill="#7cb3d8"/>
<circle cx="1006.5" cy="270.9" r="6.9" fill="#7cb3d8"/>
<circle cx="537.6" cy="558.3" r="6.9" fill="#7cb3d8"/>
<circle cx="871.1" cy="836.8" r="6.9" fill="#7cb3d8"/>
<circle cx="928.9" cy="811.4" r="6.9" fill="#7cb3d8"/>
<circle cx="514.1" cy="398.9" r="6.9" fill="#7cb3d8"/>
<circle cx="967.3" cy="856.5" r="6.9" fill="#7cb3d8"/>
<circle cx="707.3" cy="390.9" r="6.9" fill="#7cb3d8"/>
<circle cx="317.4" cy="403.7" r="6.9" fill="#7cb3d8"/>
<circle cx="613.6" cy="781.3" r="6.9" fill="#7cb3d8"/>
<circle cx="810.6" cy="906.7" r="6.9" fill="#7cb3d8"/>
<circle cx="713.2" cy="386.3" r="6.9" fill="#7cb3d8"/>
<circle cx="922.6" cy="814.0" r="6.9" fill="#7cb3d8"/>
<circle cx="572.0" cy="542.9" r="6.9" fill="#7cb3d8"/>
<circle cx="624.0" cy="251.5" r="6.9" fill="#7cb3d8"/>
<circle cx="654.2" cy="1057.1" r="6.9" fill="#7cb3d8"/>
<circle cx="477.0" cy="328.6" r="6.9" fill="#7cb3d8"/>
<circle cx="663.9" cy="463.2" r="6.9" fill="#7cb3d8"/>
<circle cx="407.0" cy="857.3" r="6.9" fill="#7cb3d8"/>
<circle cx="627.3" cy="1087.8" r="6.9" fill="#7cb3d8"/>
<circle cx="767.7" cy="763.2" r="6.9" fill="#7cb3d8"/>
<circle cx="507.3" cy="550.7" r="6.9" fill="#7cb3d8"/>
<circle cx="434.2" cy="834.1" r="6.9" fill="#7cb3d8"/>
<circle cx="607.7" cy="427.8" r="6.9" fill="#7cb3d8"/>
<circle cx="831.5" cy="568.9" r="6.9" fill="#7cb3d8"/>
<circle cx="825.0" cy="804.5" r="6.9" fill="#7cb3d8"/>
<circle cx="794.7" cy="443.5" r="6.9" fill="#7cb3d8"/>
<circle cx="388.3" cy="398.2" r="6.9" fill="#7cb3d8"/>
<circle cx="373.8" cy="833.3" r="6.9" fill="#7cb3d8"/>
<circle cx="596.9" cy="475.8" r="6.9" fill="#7cb3d8"/>
<circle cx="527.0" cy="884.5" r="6.9" fill="#7cb3d8"/>
<circle cx="568.3" cy="968.4" r="6.9" fill="#7cb3d8"/>
<circle cx="336.3" cy="453.5" r="6.9" fill="#7cb3d8"/>
<circle cx="809.3" cy="708.4" r="6.9" fill="#7cb3d8"/>
<circle cx="613.8" cy="447.1" r="6.9" fill="#7cb3d8"/>
<circle cx="551.6" cy="497.3" r="6.9" fill="#7cb3d8"/>
<circle cx="749.0" cy="304.2" r="6.9" fill="#7cb3d8"/>
<circle cx="549.4" cy="1044.8" r="6.9" fill="#7cb3d8"/>
<circle cx="722.8" cy="847.2" r="6.9" fill="#7cb3d8"/>
<circle cx="416.3" cy="793.0" r="6.9" fill="#7cb3d8"/>
<circle cx="315.6" cy="386.8" r="6.9" fill="#7cb3d8"/>
<circle cx="573.1" cy="354.0" r="6.9" fill="#7cb3d8"/>
<circle cx="764.1" cy="482.2" r="6.9" fill="#7cb3d8"/>
<circle cx="884.5" cy="898.9" r="6.9" fill="#7cb3d8"/>
<circle cx="348.2" cy="746.6" r="6.9" fill="#7cb3d8"/>
<circle cx="943.2" cy="624.1" r="6.9" fill="#7cb3d8"/>
<circle cx="593.5" cy="446.8" r="6.9" fill="#7cb3d8"/>
<circle cx="856.1" cy="627.1" r="6.9" fill="#7cb3d8"/>
<circle cx="617.8" cy="442.2" r="6.9" fill="#7cb3d8"/>
<circle cx="1027.0" cy="444.0" r="6.9" fill="#7cb3d8"/>
<circle cx="836.9" cy="905.4" r="6.9" fill="#7cb3d8"/>
<circle cx="922.2" cy="915.1" r="6.9" fill="#7cb3d8"/>
<circle cx="908.6" cy="802.0" r="6.9" fill="#7cb3d8"/>
<circle cx="454.7" cy="371.7" r="6.9" fill="#7cb3d8"/>
<circle cx="568.0" cy="1072.4" r="6.9" fill="#7cb3d8"/>
<circle cx="332.5" cy="539.0" r="6.9" fill="#7cb3d8"/>
<circle cx="843.9" cy="591.6" r="6.9" fill="#7cb3d8"/>
<circle cx="537.3" cy="428.3" r="6.9" fill="#7cb3d8"/>
<circle cx="596.8" cy="222.9" r="6.9" fill="#7cb3d8"/>
<circle cx="608.9" cy="972.2" r="6.9" fill="#7cb3d8"/>
<circle cx="613.1" cy="1014.1" r="6.9" fill="#7cb3d8"/>
<circle cx="584.0" cy="952.6" r="6.9" fill="#7cb3d8"/>
<circle cx="718.3" cy="1031.5" r="6.9" fill="#7cb3d8"/>
<circle cx="825.7" cy="901.4" r="6.9" fill="#7cb3d8"/>
<circle cx="789.2" cy="951.7" r="6.9" fill="#7cb3d8"/>
<circle cx="789.7" cy="996.1" r="6.9" fill="#7cb3d8"/>
<circle cx="968.6" cy="826.5" r="6.9" fill="#7cb3d8"/>
<circle cx="996.5" cy="767.7" r="6.9" fill="#7cb3d8"/>
<circle cx="971.0" cy="631.7" r="6.9" fill="#7cb3d8"/>
<circle cx="382.3" cy="275.8" r="6.9" fill="#7cb3d8"/>
<circle cx="556.6" cy="274.2" r="6.9" fill="#7cb3d8"/>
<circle cx="946.8" cy="335.3" r="6.9" fill="#7cb3d8"/>
<circle cx="387.6" cy="853.7" r="6.9" fill="#7cb3d8"/>
<circle cx="381.7" cy="773.0" r="6.9" fill="#7cb3d8"/>
<circle cx="550.3" cy="406.1" r="6.9" fill="#7cb3d8"/>
<circle cx="637.7" cy="1070.0" r="6.9" fill="#7cb3d8"/>
<circle cx="573.5" cy="428.7" r="6.9" fill="#7cb3d8"/>
<circle cx="565.5" cy="938.8" r="6.9" fill="#7cb3d8"/>
<circle cx="614.5" cy="721.6" r="6.9" fill="#7cb3d8"/>
<circle cx="544.4" cy="968.6" r="6.9" fill="#7cb3d8"/>
<circle cx="690.4" cy="1032.4" r="6.9" fill="#7cb3d8"/>
<circle cx="678.6" cy="484.8" r="6.9" fill="#7cb3d8"/>
<circle cx="364.5" cy="461.6" r="6.9" fill="#7cb3d8"/>
<circle cx="515.9" cy="473.8" r="6.9" fill="#7cb3d8"/>
<circle cx="991.8" cy="283.3" r="6.9" fill="#7cb3d8"/>
<circle cx="633.9" cy="808.7" r="6.9" fill="#7cb3d8"/>
<circle cx="704.9" cy="1058.0" r="6.9" fill="#7cb3d8"/>
<circle cx="446.8" cy="846.6" r="6.9" fill="#7cb3d8"/>
<circle cx="584.7" cy="516.7" r="6.9" fill="#7cb3d8"/>
<circle cx="577.5" cy="445.8" r="6.9" fill="#7cb3d8"/>
<circle cx="795.1" cy="282.0" r="6.9" fill="#7cb3d8"/>
<circle cx="593.6" cy="1047.1" r="6.9" fill="#7cb3d8"/>
<circle cx="334.9" cy="434.0" r="6.9" fill="#7cb3d8"/>
<circle cx="743.1" cy="891.6" r="6.9" fill="#7cb3d8"/>
<circle cx="483.1" cy="954.5" r="6.9" fill="#7cb3d8"/>
<circle cx="1052.5" cy="511.9" r="6.9" fill="#7cb3d8"/>
<circle cx="651.6" cy="733.3" r="6.9" fill="#7cb3d8"/>
<circle cx="576.9" cy="767.4" r="6.9" fill="#7cb3d8"/>
<circle cx="866.6" cy="612.9" r="6.9" fill="#7cb3d8"/>
<circle cx="575.3" cy="530.4" r="6.9" fill="#7cb3d8"/>
<circle cx="578.8" cy="826.1" r="6.9" fill="#7cb3d8"/>
<circle cx="678.2" cy="756.9" r="6.9" fill="#7cb3d8"/>
<circle cx="553.0" cy="374.0" r="6.9" fill="#7cb3d8"/>
<circle cx="624.3" cy="1075.5" r="6.9" fill="#7cb3d8"/>
<circle cx="882.3" cy="405.0" r="6.9" fill="#7cb3d8"/>
<circle cx="627.4" cy="354.4" r="6.9" fill="#7cb3d8"/>
<circle cx="769.0" cy="947.1" r="6.9" fill="#7cb3d8"/>
<circle cx="712.6" cy="866.9" r="6.9" fill="#7cb3d8"/>
<circle cx="488.8" cy="694.3" r="6.9" fill="#7cb3d8"/>
<circle cx="683.4" cy="1046.0" r="6.9" fill="#7cb3d8"/>
<circle cx="626.2" cy="1024.1" r="6.9" fill="#7cb3d8"/>
<circle cx="911.6" cy="423.9" r="6.9" fill="#7cb3d8"/>
<circle cx="662.6" cy="1018.4" r="6.9" fill="#7cb3d8"/>
<circle cx="966.6" cy="628.0" r="6.9" fill="#7cb3d8"/>
<circle cx="590.8" cy="886.8" r="6.9" fill="#7cb3d8"/>
<circle cx="621.5" cy="558.4" r="6.9" fill="#7cb3d8"/>
<circle cx="813.5" cy="431.9" r="6.9" fill="#7cb3d8"/>
<circle cx="877.7" cy="385.7" r="6.9" fill="#7cb3d8"/>
<circle cx="922.6" cy="867.9" r="6.9" fill="#7cb3d8"/>
<circle cx="454.8" cy="426.7" r="6.9" fill="#7cb3d8"/>
<circle cx="366.7" cy="466.5" r="6.9" fill="#7cb3d8"/>
<circle cx="537.6" cy="871.6" r="6.9" fill="#7cb3d8"/>
<circle cx="695.4" cy="236.6" r="6.9" fill="#7cb3d8"/>
<circle cx="930.1" cy="489.6" r="6.9" fill="#7cb3d8"/>
<circle cx="363.9" cy="556.0" r="6.9" fill="#7cb3d8"/>
<circle cx="274.7" cy="324.9" r="6.9" fill="#7cb3d8"/>
<circle cx="645.6" cy="993.3" r="6.9" fill="#7cb3d8"/>
<circle cx="896.9" cy="485.2" r="6.9" fill="#7cb3d8"/>
<circle cx="586.6" cy="914.8" r="6.9" fill="#7cb3d8"/>
<circle cx="929.5" cy="645.9" r="6.9" fill="#7cb3d8"/>
<circle cx="597.9" cy="457.3" r="6.9" fill="#7cb3d8"/>
<circle cx="1041.8" cy="301.7" r="6.9" fill="#7cb3d8"/>
<circle cx="695.8" cy="484.8" r="6.9" fill="#7cb3d8"/>
<circle cx="342.0" cy="473.4" r="6.9" fill="#7cb3d8"/>
<circle cx="635.9" cy="975.4" r="6.9" fill="#7cb3d8"/>
<circle cx="514.5" cy="237.1" r="6.9" fill="#7cb3d8"/>
<circle cx="594.0" cy="862.3" r="6.9" fill="#7cb3d8"/>
<circle cx="534.7" cy="1012.2" r="6.9" fill="#7cb3d8"/>
<circle cx="613.5" cy="425.6" r="6.9" fill="#7cb3d8"/>
<circle cx="851.5" cy="377.4" r="6.9" fill="#7cb3d8"/>
<circle cx="927.2" cy="450.6" r="6.9" fill="#7cb3d8"/>
<circle cx="593.0" cy="752.8" r="6.9" fill="#7cb3d8"/>
<circle cx="524.0" cy="458.4" r="6.9" fill="#7cb3d8"/>
<circle cx="622.0" cy="536.2" r="6.9" fill="#7cb3d8"/>
<circle cx="752.9" cy="751.1" r="6.9" fill="#7cb3d8"/>
<circle cx="635.6" cy="1072.0" r="6.9" fill="#7cb3d8"/>
<circle cx="1013.0" cy="807.9" r="6.9" fill="#7cb3d8"/>
<circle cx="787.1" cy="514.5" r="6.9" fill="#7cb3d8"/>
<circle cx="796.9" cy="432.3" r="6.9" fill="#7cb3d8"/>
<circle cx="645.4" cy="865.2" r="6.9" fill="#7cb3d8"/>
<circle cx="533.3" cy="393.9" r="6.9" fill="#7cb3d8"/>
<circle cx="507.7" cy="747.0" r="6.9" fill="#7cb3d8"/>
<circle cx="631.1" cy="434.5" r="6.9" fill="#7cb3d8"/>
<circle cx="795.6" cy="611.7" r="6.9" fill="#7cb3d8"/>
<circle cx="707.1" cy="311.7" r="6.9" fill="#7cb3d8"/>
<circle cx="924.1" cy="455.0" r="6.9" fill="#7cb3d8"/>
<circle cx="768.1" cy="628.5" r="6.9" fill="#7cb3d8"/>
<circle cx="734.4" cy="868.0" r="6.9" fill="#bcdbea"/>
<circle cx="978.7" cy="426.0" r="6.9" fill="#bcdbea"/>
<circle cx="642.2" cy="1037.2" r="6.9" fill="#bcdbea"/>
<circle cx="373.5" cy="405.3" r="6.9" fill="#bcdbea"/>
<circle cx="755.6" cy="892.2" r="6.9" fill="#bcdbea"/>
<circle cx="666.3" cy="746.6" r="6.9" fill="#bcdbea"/>
<circle cx="825.7" cy="293.1" r="6.9" fill="#bcdbea"/>
<circle cx="337.0" cy="487.8" r="6.9" fill="#bcdbea"/>
<circle cx="708.4" cy="263.9" r="6.9" fill="#bcdbea"/>
<circle cx="583.1" cy="228.1" r="6.9" fill="#bcdbea"/>
<circle cx="565.3" cy="316.5" r="6.9" fill="#bcdbea"/>
<circle cx="884.9" cy="822.5" r="6.9" fill="#bcdbea"/>
<circle cx="665.4" cy="755.3" r="6.9" fill="#bcdbea"/>
<circle cx="348.7" cy="452.1" r="6.9" fill="#bcdbea"/>
<circle cx="681.5" cy="821.4" r="6.9" fill="#bcdbea"/>
<circle cx="601.8" cy="253.6" r="6.9" fill="#bcdbea"/>
<circle cx="574.8" cy="832.6" r="6.9" fill="#bcdbea"/>
<circle cx="375.3" cy="784.9" r="6.9" fill="#bcdbea"/>
<circle cx="424.9" cy="347.7" r="6.9" fill="#bcdbea"/>
<circle cx="725.5" cy="266.1" r="6.9" fill="#bcdbea"/>
<circle cx="574.2" cy="918.2" r="6.9" fill="#bcdbea"/>
<circle cx="435.4" cy="413.4" r="6.9" fill="#bcdbea"/>
<circle cx="525.9" cy="230.4" r="6.9" fill="#bcdbea"/>
<circle cx="533.7" cy="592.9" r="6.9" fill="#bcdbea"/>
<circle cx="571.1" cy="201.7" r="6.9" fill="#bcdbea"/>
<circle cx="282.0" cy="436.7" r="6.9" fill="#bcdbea"/>
<circle cx="675.9" cy="256.8" r="6.9" fill="#bcdbea"/>
<circle cx="388.1" cy="368.2" r="6.9" fill="#bcdbea"/>
<circle cx="906.5" cy="382.4" r="6.9" fill="#bcdbea"/>
<circle cx="712.4" cy="474.6" r="6.9" fill="#bcdbea"/>
<circle cx="735.4" cy="222.7" r="6.9" fill="#bcdbea"/>
<circle cx="328.5" cy="265.2" r="6.9" fill="#bcdbea"/>
<circle cx="510.0" cy="949.8" r="6.9" fill="#bcdbea"/>
<circle cx="903.3" cy="873.2" r="6.9" fill="#bcdbea"/>
<circle cx="410.0" cy="336.2" r="6.9" fill="#bcdbea"/>
<circle cx="387.7" cy="295.9" r="6.9" fill="#bcdbea"/>
<circle cx="914.1" cy="304.4" r="6.9" fill="#bcdbea"/>
<circle cx="828.1" cy="442.6" r="6.9" fill="#bcdbea"/>
<circle cx="733.7" cy="1056.2" r="6.9" fill="#bcdbea"/>
<circle cx="402.9" cy="468.9" r="6.9" fill="#bcdbea"/>
<circle cx="681.5" cy="354.6" r="6.9" fill="#bcdbea"/>
<circle cx="471.9" cy="308.9" r="6.9" fill="#bcdbea"/>
<circle cx="344.4" cy="303.3" r="6.9" fill="#bcdbea"/>
<circle cx="775.3" cy="547.2" r="6.9" fill="#bcdbea"/>
<circle cx="486.6" cy="282.8" r="6.9" fill="#bcdbea"/>
<circle cx="530.6" cy="862.6" r="6.9" fill="#bcdbea"/>
<circle cx="423.7" cy="436.8" r="6.9" fill="#bcdbea"/>
<circle cx="647.2" cy="669.3" r="6.9" fill="#bcdbea"/>
<circle cx="932.8" cy="403.5" r="6.9" fill="#bcdbea"/>
<circle cx="848.2" cy="954.4" r="6.9" fill="#bcdbea"/>
<circle cx="1063.0" cy="492.3" r="6.9" fill="#bcdbea"/>
<circle cx="931.4" cy="884.3" r="6.9" fill="#bcdbea"/>
<circle cx="696.7" cy="834.5" r="6.9" fill="#bcdbea"/>
<circle cx="1042.9" cy="313.1" r="6.9" fill="#bcdbea"/>
<circle cx="391.5" cy="306.4" r="6.9" fill="#bcdbea"/>
<circle cx="754.0" cy="352.9" r="6.9" fill="#bcdbea"/>
<circle cx="591.1" cy="291.0" r="6.9" fill="#bcdbea"/>
<circle cx="787.5" cy="765.2" r="6.9" fill="#bcdbea"/>
<circle cx="902.5" cy="883.5" r="6.9" fill="#bcdbea"/>
<circle cx="688.2" cy="494.9" r="6.9" fill="#bcdbea"/>
<circle cx="272.5" cy="308.6" r="6.9" fill="#bcdbea"/>
<circle cx="691.4" cy="288.6" r="6.9" fill="#bcdbea"/>
<circle cx="497.3" cy="250.5" r="6.9" fill="#bcdbea"/>
<circle cx="432.5" cy="375.8" r="6.9" fill="#bcdbea"/>
<circle cx="654.2" cy="1011.4" r="6.9" fill="#bcdbea"/>
<circle cx="388.7" cy="233.1" r="6.9" fill="#bcdbea"/>
<circle cx="775.5" cy="728.0" r="6.9" fill="#bcdbea"/>
<circle cx="877.8" cy="385.8" r="6.9" fill="#bcdbea"/>
<circle cx="763.0" cy="706.4" r="6.9" fill="#bcdbea"/>
<circle cx="992.6" cy="335.8" r="6.9" fill="#bcdbea"/>
<circle cx="671.4" cy="284.8" r="6.9" fill="#bcdbea"/>
<circle cx="307.9" cy="527.0" r="6.9" fill="#bcdbea"/>
<circle cx="495.8" cy="312.7" r="6.9" fill="#bcdbea"/>
<circle cx="818.5" cy="453.7" r="6.9" fill="#bcdbea"/>
<circle cx="839.0" cy="434.6" r="6.9" fill="#bcdbea"/>
<circle cx="517.6" cy="998.7" r="6.9" fill="#bcdbea"/>
<circle cx="951.7" cy="834.8" r="6.9" fill="#bcdbea"/>
<circle cx="792.5" cy="446.7" r="6.9" fill="#bcdbea"/>
<circle cx="1033.8" cy="332.4" r="6.9" fill="#bcdbea"/>
<circle cx="602.3" cy="726.9" r="6.9" fill="#bcdbea"/>
<circle cx="555.7" cy="324.5" r="6.9" fill="#bcdbea"/>
<circle cx="478.1" cy="347.1" r="6.9" fill="#bcdbea"/>
<circle cx="421.5" cy="364.6" r="6.9" fill="#bcdbea"/>
<circle cx="375.4" cy="954.9" r="6.9" fill="#bcdbea"/>
<circle cx="692.1" cy="695.9" r="6.9" fill="#bcdbea"/>
<circle cx="470.9" cy="268.5" r="6.9" fill="#bcdbea"/>
<circle cx="514.8" cy="325.0" r="6.9" fill="#bcdbea"/>
<circle cx="745.0" cy="415.0" r="6.9" fill="#bcdbea"/>
<circle cx="494.6" cy="907.8" r="6.9" fill="#bcdbea"/>
<circle cx="991.2" cy="426.2" r="6.9" fill="#bcdbea"/>
<circle cx="366.8" cy="356.2" r="6.9" fill="#bcdbea"/>
<circle cx="650.7" cy="229.1" r="6.9" fill="#bcdbea"/>
<circle cx="577.2" cy="265.4" r="6.9" fill="#bcdbea"/>
<circle cx="848.8" cy="511.2" r="6.9" fill="#bcdbea"/>
<circle cx="647.7" cy="1007.1" r="6.9" fill="#bcdbea"/>
<circle cx="324.6" cy="930.3" r="6.9" fill="#bcdbea"/>
<circle cx="868.0" cy="403.3" r="6.9" fill="#bcdbea"/>
<circle cx="675.6" cy="209.8" r="6.9" fill="#bcdbea"/>
<circle cx="916.9" cy="908.6" r="6.9" fill="#bcdbea"/>
<circle cx="909.4" cy="696.0" r="6.9" fill="#bcdbea"/>
<circle cx="452.3" cy="809.7" r="6.9" fill="#bcdbea"/>
<circle cx="742.7" cy="301.4" r="6.9" fill="#bcdbea"/>
<circle cx="916.1" cy="808.3" r="6.9" fill="#bcdbea"/>
<circle cx="462.4" cy="753.5" r="6.9" fill="#bcdbea"/>
<circle cx="636.6" cy="209.3" r="6.9" fill="#bcdbea"/>
<circle cx="688.9" cy="1022.9" r="6.9" fill="#bcdbea"/>
<circle cx="987.8" cy="271.4" r="6.9" fill="#bcdbea"/>
<circle cx="971.5" cy="855.2" r="6.9" fill="#bcdbea"/>
<circle cx="466.7" cy="272.0" r="6.9" fill="#bcdbea"/>
<circle cx="334.3" cy="435.9" r="6.9" fill="#bcdbea"/>
<circle cx="777.6" cy="655.8" r="6.9" fill="#bcdbea"/>
<circle cx="975.3" cy="436.6" r="6.9" fill="#bcdbea"/>
<circle cx="985.1" cy="774.0" r="6.9" fill="#bcdbea"/>
<circle cx="1001.4" cy="815.2" r="6.9" fill="#bcdbea"/>
<circle cx="396.6" cy="263.0" r="6.9" fill="#bcdbea"/>
<circle cx="543.2" cy="925.0" r="6.9" fill="#bcdbea"/>
<circle cx="689.7" cy="369.9" r="6.9" fill="#bcdbea"/>
<circle cx="544.3" cy="226.2" r="6.9" fill="#bcdbea"/>
<circle cx="846.1" cy="527.0" r="6.9" fill="#bcdbea"/>
<circle cx="543.0" cy="937.0" r="6.9" fill="#bcdbea"/>
<circle cx="846.4" cy="327.0" r="6.9" fill="#bcdbea"/>
<circle cx="654.3" cy="316.0" r="6.9" fill="#bcdbea"/>
<circle cx="814.5" cy="928.0" r="6.9" fill="#bcdbea"/>
<circle cx="570.2" cy="1069.4" r="6.9" fill="#bcdbea"/>
<circle cx="390.0" cy="266.7" r="6.9" fill="#bcdbea"/>
<circle cx="544.2" cy="215.3" r="6.9" fill="#bcdbea"/>
<circle cx="312.0" cy="487.0" r="6.9" fill="#bcdbea"/>
<circle cx="757.2" cy="314.5" r="6.9" fill="#bcdbea"/>
<circle cx="627.1" cy="277.2" r="6.9" fill="#bcdbea"/>
<circle cx="756.3" cy="515.3" r="6.9" fill="#bcdbea"/>
<circle cx="252.5" cy="305.9" r="6.9" fill="#bcdbea"/>
<circle cx="793.5" cy="746.4" r="6.9" fill="#bcdbea"/>
<circle cx="472.7" cy="386.3" r="6.9" fill="#bcdbea"/>
<circle cx="847.4" cy="828.6" r="6.9" fill="#bcdbea"/>
<circle cx="651.8" cy="862.5" r="6.9" fill="#bcdbea"/>
<circle cx="530.8" cy="917.3" r="6.9" fill="#bcdbea"/>
<circle cx="622.0" cy="485.5" r="6.9" fill="#bcdbea"/>
<circle cx="1078.8" cy="451.9" r="6.9" fill="#bcdbea"/>
<circle cx="633.3" cy="724.6" r="6.9" fill="#bcdbea"/>
<circle cx="1048.0" cy="456.6" r="6.9" fill="#bcdbea"/>
<circle cx="844.9" cy="528.1" r="6.9" fill="#bcdbea"/>
<circle cx="936.6" cy="412.4" r="6.9" fill="#bcdbea"/>
<circle cx="898.5" cy="503.3" r="6.9" fill="#bcdbea"/>
<circle cx="613.6" cy="302.7" r="6.9" fill="#bcdbea"/>
<circle cx="915.5" cy="906.0" r="6.9" fill="#bcdbea"/>
<circle cx="603.4" cy="1027.0" r="6.9" fill="#bcdbea"/>
<circle cx="647.2" cy="897.0" r="6.9" fill="#bcdbea"/>
<circle cx="831.2" cy="807.7" r="6.9" fill="#bcdbea"/>
<circle cx="771.2" cy="885.0" r="6.9" fill="#bcdbea"/>
<circle cx="964.0" cy="844.5" r="6.9" fill="#bcdbea"/>
<circle cx="507.4" cy="631.9" r="6.9" fill="#bcdbea"/>
<circle cx="922.3" cy="868.3" r="6.9" fill="#bcdbea"/>
<circle cx="352.9" cy="470.7" r="6.9" fill="#bcdbea"/>
<circle cx="796.7" cy="862.8" r="6.9" fill="#bcdbea"/>
<circle cx="566.2" cy="454.1" r="6.9" fill="#bcdbea"/>
<circle cx="607.0" cy="554.5" r="6.9" fill="#bcdbea"/>
<circle cx="566.7" cy="247.6" r="6.9" fill="#bcdbea"/>
<circle cx="612.8" cy="1006.6" r="6.9" fill="#bcdbea"/>
<circle cx="757.0" cy="313.0" r="6.9" fill="#bcdbea"/>
<circle cx="741.4" cy="806.0" r="6.9" fill="#bcdbea"/>
<circle cx="341.7" cy="347.9" r="6.9" fill="#bcdbea"/>
<circle cx="912.9" cy="307.9" r="6.9" fill="#bcdbea"/>
<circle cx="636.1" cy="203.2" r="6.9" fill="#bcdbea"/>
<circle cx="792.7" cy="676.9" r="6.9" fill="#bcdbea"/>
<circle cx="675.2" cy="1013.6" r="6.9" fill="#bcdbea"/>
<circle cx="987.4" cy="432.9" r="6.9" fill="#bcdbea"/>
<circle cx="342.0" cy="298.1" r="6.9" fill="#bcdbea"/>
<circle cx="524.0" cy="306.9" r="6.9" fill="#bcdbea"/>
<circle cx="603.4" cy="446.8" r="6.9" fill="#bcdbea"/>
<circle cx="1058.3" cy="284.3" r="6.9" fill="#bcdbea"/>
<circle cx="512.6" cy="275.9" r="6.9" fill="#bcdbea"/>
<circle cx="657.8" cy="722.5" r="6.9" fill="#bcdbea"/>
<circle cx="545.2" cy="909.8" r="6.9" fill="#bcdbea"/>
<circle cx="642.3" cy="277.4" r="6.9" fill="#bcdbea"/>
<circle cx="416.9" cy="871.6" r="6.9" fill="#bcdbea"/>
<circle cx="612.6" cy="765.8" r="6.9" fill="#bcdbea"/>
<circle cx="535.5" cy="571.0" r="6.9" fill="#bcdbea"/>
<circle cx="616.6" cy="855.7" r="6.9" fill="#bcdbea"/>
<circle cx="943.4" cy="427.1" r="6.9" fill="#bcdbea"/>
<circle cx="353.8" cy="487.7" r="6.9" fill="#bcdbea"/>
<circle cx="941.7" cy="834.3" r="6.9" fill="#bcdbea"/>
<circle cx="331.3" cy="376.3" r="6.9" fill="#bcdbea"/>
<circle cx="956.8" cy="449.0" r="6.9" fill="#bcdbea"/>
<circle cx="913.3" cy="855.4" r="6.9" fill="#bcdbea"/>
<circle cx="933.0" cy="835.7" r="6.9" fill="#bcdbea"/>
<circle cx="567.6" cy="922.9" r="6.9" fill="#bcdbea"/>
<circle cx="1007.7" cy="314.3" r="6.9" fill="#bcdbea"/>
<circle cx="985.7" cy="442.0" r="6.9" fill="#bcdbea"/>
<circle cx="628.0" cy="732.1" r="6.9" fill="#bcdbea"/>
<circle cx="1097.9" cy="465.0" r="6.9" fill="#bcdbea"/>
<circle cx="541.4" cy="444.9" r="6.9" fill="#bcdbea"/>
<circle cx="465.7" cy="288.5" r="6.9" fill="#bcdbea"/>
<circle cx="649.3" cy="333.5" r="6.9" fill="#bcdbea"/>
<circle cx="641.7" cy="741.3" r="6.9" fill="#bcdbea"/>
<circle cx="563.5" cy="831.8" r="6.9" fill="#bcdbea"/>
<circle cx="533.5" cy="237.7" r="6.9" fill="#bcdbea"/>
<circle cx="723.6" cy="466.1" r="6.9" fill="#bcdbea"/>
<circle cx="414.6" cy="522.4" r="6.9" fill="#bcdbea"/>
<circle cx="786.3" cy="662.1" r="6.9" fill="#bcdbea"/>
<circle cx="901.8" cy="395.1" r="6.9" fill="#bcdbea"/>
<circle cx="396.9" cy="241.4" r="6.9" fill="#bcdbea"/>
<circle cx="577.5" cy="318.6" r="6.9" fill="#bcdbea"/>
<circle cx="807.9" cy="754.7" r="6.9" fill="#bcdbea"/>
<circle cx="516.0" cy="790.1" r="6.9" fill="#bcdbea"/>
<circle cx="584.6" cy="767.8" r="6.9" fill="#bcdbea"/>
<circle cx="977.1" cy="813.6" r="6.9" fill="#bcdbea"/>
<circle cx="398.5" cy="422.1" r="6.9" fill="#bcdbea"/>
<circle cx="596.7" cy="428.5" r="6.9" fill="#bcdbea"/>
<circle cx="464.6" cy="257.6" r="6.9" fill="#bcdbea"/>
<circle cx="757.1" cy="868.5" r="6.9" fill="#bcdbea"/>
<circle cx="977.4" cy="786.5" r="6.9" fill="#bcdbea"/>
<circle cx="728.1" cy="706.5" r="6.9" fill="#bcdbea"/>
<circle cx="865.2" cy="427.4" r="6.9" fill="#bcdbea"/>
<circle cx="377.6" cy="543.6" r="6.9" fill="#bcdbea"/>
<circle cx="930.3" cy="334.4" r="6.9" fill="#bcdbea"/>
<circle cx="685.5" cy="945.0" r="6.9" fill="#bcdbea"/>
<circle cx="387.0" cy="538.8" r="6.9" fill="#bcdbea"/>
<circle cx="661.5" cy="1028.0" r="6.9" fill="#bcdbea"/>
<circle cx="577.2" cy="846.8" r="6.9" fill="#bcdbea"/>
<circle cx="1010.3" cy="296.8" r="6.9" fill="#bcdbea"/>
<circle cx="674.4" cy="667.6" r="6.9" fill="#bcdbea"/>
<circle cx="333.1" cy="287.7" r="6.9" fill="#bcdbea"/>
<circle cx="587.6" cy="248.7" r="6.9" fill="#bcdbea"/>
<circle cx="648.4" cy="795.4" r="6.9" fill="#bcdbea"/>
<circle cx="734.7" cy="916.4" r="6.9" fill="#bcdbea"/>
<circle cx="497.8" cy="238.2" r="6.9" fill="#bcdbea"/>
<circle cx="611.8" cy="258.4" r="6.9" fill="#bcdbea"/>
<circle cx="537.4" cy="1037.8" r="6.9" fill="#bcdbea"/>
<circle cx="847.4" cy="532.4" r="6.9" fill="#bcdbea"/>
<circle cx="1001.3" cy="446.6" r="6.9" fill="#bcdbea"/>
<circle cx="411.7" cy="357.3" r="6.9" fill="#bcdbea"/>
<circle cx="315.0" cy="312.3" r="6.9" fill="#bcdbea"/>
<circle cx="862.2" cy="356.9" r="6.9" fill="#bcdbea"/>
<circle cx="813.8" cy="925.7" r="6.9" fill="#bcdbea"/>
<circle cx="507.1" cy="537.0" r="6.9" fill="#bcdbea"/>
<circle cx="877.8" cy="822.9" r="6.9" fill="#bcdbea"/>
<circle cx="685.2" cy="1045.5" r="6.9" fill="#bcdbea"/>
<circle cx="487.6" cy="236.6" r="6.9" fill="#bcdbea"/>
<circle cx="272.4" cy="343.4" r="6.9" fill="#bcdbea"/>
<circle cx="437.9" cy="313.0" r="6.9" fill="#bcdbea"/>
<circle cx="732.5" cy="1054.1" r="6.9" fill="#bcdbea"/>
<circle cx="470.4" cy="229.5" r="6.9" fill="#bcdbea"/>
<circle cx="374.0" cy="447.6" r="6.9" fill="#bcdbea"/>
<circle cx="796.2" cy="926.8" r="6.9" fill="#bcdbea"/>
<circle cx="968.3" cy="666.2" r="6.9" fill="#bcdbea"/>
<circle cx="378.1" cy="491.1" r="6.9" fill="#bcdbea"/>
<circle cx="426.0" cy="309.8" r="6.9" fill="#bcdbea"/>
<circle cx="812.6" cy="930.2" r="6.9" fill="#bcdbea"/>
<circle cx="851.2" cy="918.0" r="6.9" fill="#bcdbea"/>
<circle cx="893.8" cy="854.1" r="6.9" fill="#bcdbea"/>
<circle cx="685.0" cy="788.1" r="6.9" fill="#bcdbea"/>
<circle cx="745.5" cy="288.5" r="6.9" fill="#bcdbea"/>
<circle cx="384.1" cy="431.0" r="6.9" fill="#bcdbea"/>
<circle cx="767.8" cy="483.0" r="6.9" fill="#bcdbea"/>
<circle cx="865.0" cy="433.6" r="6.9" fill="#bcdbea"/>
<circle cx="814.2" cy="910.5" r="6.9" fill="#bcdbea"/>
<circle cx="574.1" cy="1056.0" r="6.9" fill="#bcdbea"/>
<circle cx="470.2" cy="377.6" r="6.9" fill="#bcdbea"/>
<circle cx="398.0" cy="331.9" r="6.9" fill="#bcdbea"/>
<circle cx="785.5" cy="797.1" r="6.9" fill="#bcdbea"/>
<circle cx="982.5" cy="814.1" r="6.9" fill="#bcdbea"/>
<circle cx="405.7" cy="444.6" r="6.9" fill="#bcdbea"/>
<circle cx="684.6" cy="284.3" r="6.9" fill="#bcdbea"/>
<circle cx="425.8" cy="768.9" r="6.9" fill="#bcdbea"/>
<circle cx="892.2" cy="806.8" r="6.9" fill="#bcdbea"/>
<circle cx="594.0" cy="1002.3" r="6.9" fill="#bcdbea"/>
<circle cx="1051.3" cy="491.4" r="6.9" fill="#bcdbea"/>
<circle cx="741.5" cy="883.4" r="6.9" fill="#bcdbea"/>
<circle cx="827.1" cy="836.1" r="6.9" fill="#bcdbea"/>
<circle cx="772.7" cy="829.1" r="6.9" fill="#bcdbea"/>
<circle cx="688.4" cy="394.0" r="6.9" fill="#bcdbea"/>
<circle cx="987.2" cy="795.0" r="6.9" fill="#bcdbea"/>
<circle cx="597.8" cy="745.3" r="6.9" fill="#bcdbea"/>
<circle cx="854.0" cy="453.1" r="6.9" fill="#bcdbea"/>
<circle cx="261.3" cy="403.1" r="6.9" fill="#bcdbea"/>
<circle cx="429.7" cy="396.9" r="6.9" fill="#bcdbea"/>
<circle cx="776.4" cy="298.5" r="6.9" fill="#bcdbea"/>
<circle cx="752.7" cy="333.8" r="6.9" fill="#bcdbea"/>
<circle cx="564.9" cy="770.4" r="6.9" fill="#bcdbea"/>
<circle cx="474.1" cy="775.4" r="6.9" fill="#bcdbea"/>
<circle cx="823.1" cy="854.6" r="6.9" fill="#bcdbea"/>
<circle cx="561.2" cy="1018.5" r="6.9" fill="#bcdbea"/>
<circle cx="304.6" cy="281.2" r="6.9" fill="#bcdbea"/>
<circle cx="553.9" cy="293.9" r="6.9" fill="#bcdbea"/>
<circle cx="632.9" cy="793.7" r="6.9" fill="#bcdbea"/>
<circle cx="534.8" cy="545.4" r="6.9" fill="#bcdbea"/>
<circle cx="387.7" cy="491.7" r="6.9" fill="#bcdbea"/>
<circle cx="557.9" cy="1034.5" r="6.9" fill="#bcdbea"/>
<circle cx="617.2" cy="986.6" r="6.9" fill="#bcdbea"/>
<circle cx="828.3" cy="948.8" r="6.9" fill="#bcdbea"/>
<circle cx="785.4" cy="705.4" r="6.9" fill="#bcdbea"/>
<circle cx="538.5" cy="908.4" r="6.9" fill="#bcdbea"/>
<circle cx="831.0" cy="791.9" r="6.9" fill="#bcdbea"/>
<circle cx="761.5" cy="734.0" r="6.9" fill="#bcdbea"/>
<circle cx="316.9" cy="346.4" r="6.9" fill="#bcdbea"/>
<circle cx="1025.2" cy="826.9" r="6.9" fill="#bcdbea"/>
<circle cx="295.6" cy="428.2" r="6.9" fill="#bcdbea"/>
<circle cx="855.0" cy="910.1" r="6.9" fill="#bcdbea"/>
<circle cx="318.0" cy="424.3" r="6.9" fill="#bcdbea"/>
<circle cx="644.9" cy="214.5" r="6.9" fill="#bcdbea"/>
<circle cx="606.8" cy="893.0" r="6.9" fill="#bcdbea"/>
<circle cx="928.2" cy="934.8" r="6.9" fill="#bcdbea"/>
<circle cx="327.5" cy="370.3" r="6.9" fill="#bcdbea"/>
<circle cx="602.5" cy="886.8" r="6.9" fill="#bcdbea"/>
<circle cx="391.4" cy="468.9" r="6.9" fill="#bcdbea"/>
<circle cx="294.8" cy="331.5" r="6.9" fill="#bcdbea"/>
<circle cx="666.2" cy="732.3" r="6.9" fill="#bcdbea"/>
<circle cx="731.5" cy="224.1" r="6.9" fill="#bcdbea"/>
<circle cx="292.1" cy="382.4" r="6.9" fill="#bcdbea"/>
<circle cx="572.3" cy="994.5" r="6.9" fill="#bcdbea"/>
<circle cx="923.4" cy="449.8" r="6.9" fill="#bcdbea"/>
<circle cx="769.8" cy="252.0" r="6.9" fill="#bcdbea"/>
<circle cx="312.8" cy="343.4" r="6.9" fill="#bcdbea"/>
<circle cx="505.2" cy="332.0" r="6.9" fill="#bcdbea"/>
<circle cx="447.8" cy="248.4" r="6.9" fill="#bcdbea"/>
<circle cx="768.5" cy="857.6" r="6.9" fill="#bcdbea"/>
<circle cx="696.3" cy="357.1" r="6.9" fill="#bcdbea"/>
<circle cx="762.9" cy="455.3" r="6.9" fill="#bcdbea"/>
<circle cx="571.8" cy="974.7" r="6.9" fill="#bcdbea"/>
<circle cx="566.9" cy="422.9" r="6.9" fill="#bcdbea"/>
<circle cx="923.2" cy="590.4" r="6.9" fill="#bcdbea"/>
<circle cx="782.5" cy="293.5" r="6.9" fill="#bcdbea"/>
<circle cx="385.2" cy="382.0" r="6.9" fill="#bcdbea"/>
<circle cx="896.4" cy="488.6" r="6.9" fill="#bcdbea"/>
<circle cx="1045.1" cy="342.7" r="6.9" fill="#bcdbea"/>
<circle cx="662.7" cy="746.5" r="6.9" fill="#bcdbea"/>
<circle cx="525.7" cy="926.4" r="6.9" fill="#bcdbea"/>
<circle cx="390.5" cy="492.1" r="6.9" fill="#bcdbea"/>
<circle cx="356.5" cy="332.2" r="6.9" fill="#bcdbea"/>
<circle cx="563.4" cy="283.7" r="6.9" fill="#bcdbea"/>
<circle cx="624.3" cy="312.7" r="6.9" fill="#bcdbea"/>
<circle cx="647.3" cy="742.8" r="6.9" fill="#bcdbea"/>
<circle cx="691.6" cy="910.6" r="6.9" fill="#bcdbea"/>
<circle cx="736.6" cy="255.7" r="6.9" fill="#bcdbea"/>
<circle cx="845.1" cy="394.0" r="6.9" fill="#bcdbea"/>
<circle cx="1015.2" cy="824.9" r="6.9" fill="#bcdbea"/>
<circle cx="670.2" cy="828.9" r="6.9" fill="#bcdbea"/>
<circle cx="994.2" cy="807.0" r="6.9" fill="#bcdbea"/>
<circle cx="624.2" cy="833.9" r="6.9" fill="#bcdbea"/>
<circle cx="625.3" cy="770.6" r="6.9" fill="#bcdbea"/>
<circle cx="707.6" cy="768.2" r="6.9" fill="#bcdbea"/>
<circle cx="1027.3" cy="345.2" r="6.9" fill="#bcdbea"/>
<circle cx="384.5" cy="426.1" r="6.9" fill="#bcdbea"/>
<circle cx="868.4" cy="273.2" r="6.9" fill="#bcdbea"/>
<circle cx="767.8" cy="631.8" r="6.9" fill="#bcdbea"/>
<circle cx="241.4" cy="333.4" r="6.9" fill="#bcdbea"/>
<circle cx="737.9" cy="265.5" r="6.9" fill="#bcdbea"/>
<circle cx="904.1" cy="856.6" r="6.9" fill="#bcdbea"/>
<circle cx="583.8" cy="905.2" r="6.9" fill="#bcdbea"/>
<circle cx="737.2" cy="871.3" r="6.9" fill="#bcdbea"/>
<circle cx="926.8" cy="371.1" r="6.9" fill="#bcdbea"/>
<circle cx="546.7" cy="521.5" r="6.9" fill="#bcdbea"/>
<circle cx="535.1" cy="435.0" r="6.9" fill="#bcdbea"/>
<circle cx="994.3" cy="448.6" r="6.9" fill="#bcdbea"/>
<circle cx="1072.5" cy="390.6" r="6.9" fill="#bcdbea"/>
<circle cx="1057.0" cy="305.5" r="6.9" fill="#bcdbea"/>
<circle cx="832.3" cy="817.2" r="6.9" fill="#bcdbea"/>
<circle cx="514.2" cy="288.4" r="6.9" fill="#bcdbea"/>
<circle cx="892.6" cy="383.1" r="6.9" fill="#bcdbea"/>
<circle cx="533.1" cy="253.8" r="6.9" fill="#bcdbea"/>
<circle cx="606.4" cy="755.0" r="6.9" fill="#bcdbea"/>
<circle cx="294.6" cy="390.2" r="6.9" fill="#bcdbea"/>
<circle cx="737.2" cy="313.5" r="6.9" fill="#bcdbea"/>
<circle cx="528.4" cy="192.4" r="6.9" fill="#bcdbea"/>
<circle cx="531.0" cy="225.3" r="6.9" fill="#bcdbea"/>
<circle cx="898.3" cy="408.5" r="6.9" fill="#bcdbea"/>
<circle cx="635.7" cy="743.9" r="6.9" fill="#bcdbea"/>
<circle cx="577.7" cy="936.5" r="6.9" fill="#bcdbea"/>
<circle cx="746.4" cy="722.0" r="6.9" fill="#bcdbea"/>
<circle cx="389.5" cy="534.2" r="6.9" fill="#bcdbea"/>
<circle cx="353.9" cy="826.7" r="6.9" fill="#bcdbea"/>
<circle cx="391.2" cy="364.0" r="6.9" fill="#bcdbea"/>
<circle cx="687.0" cy="589.6" r="6.9" fill="#bcdbea"/>
<circle cx="835.4" cy="950.9" r="6.9" fill="#bcdbea"/>
<circle cx="633.0" cy="251.7" r="6.9" fill="#bcdbea"/>
<circle cx="858.3" cy="827.8" r="6.9" fill="#bcdbea"/>
<circle cx="771.9" cy="526.8" r="6.9" fill="#bcdbea"/>
<circle cx="786.0" cy="984.0" r="6.9" fill="#bcdbea"/>
<circle cx="721.5" cy="791.4" r="6.9" fill="#bcdbea"/>
<circle cx="333.6" cy="461.5" r="6.9" fill="#bcdbea"/>
<circle cx="847.0" cy="903.5" r="6.9" fill="#bcdbea"/>
<circle cx="528.3" cy="972.9" r="6.9" fill="#bcdbea"/>
<circle cx="665.1" cy="805.0" r="6.9" fill="#bcdbea"/>
<circle cx="1002.0" cy="786.6" r="6.9" fill="#bcdbea"/>
<circle cx="758.2" cy="267.7" r="6.9" fill="#bcdbea"/>
<circle cx="555.2" cy="267.6" r="6.9" fill="#bcdbea"/>
<circle cx="977.9" cy="323.7" r="6.9" fill="#bcdbea"/>
<circle cx="587.1" cy="766.3" r="6.9" fill="#bcdbea"/>
<circle cx="727.0" cy="237.3" r="6.9" fill="#bcdbea"/>
<circle cx="626.2" cy="745.0" r="6.9" fill="#bcdbea"/>
<circle cx="661.2" cy="983.4" r="6.9" fill="#bcdbea"/>
<circle cx="592.4" cy="995.0" r="6.9" fill="#bcdbea"/>
<circle cx="516.4" cy="786.1" r="6.9" fill="#bcdbea"/>
<circle cx="448.7" cy="385.4" r="6.9" fill="#bcdbea"/>
<circle cx="518.0" cy="261.7" r="6.9" fill="#bcdbea"/>
<circle cx="776.1" cy="866.5" r="6.9" fill="#bcdbea"/>
<circle cx="635.3" cy="714.9" r="6.9" fill="#bcdbea"/>
<circle cx="791.7" cy="297.8" r="6.9" fill="#bcdbea"/>
<circle cx="535.8" cy="1026.2" r="6.9" fill="#bcdbea"/>
<circle cx="445.1" cy="315.7" r="6.9" fill="#bcdbea"/>
<circle cx="513.3" cy="944.9" r="6.9" fill="#bcdbea"/>
<circle cx="871.3" cy="398.8" r="6.9" fill="#bcdbea"/>
<circle cx="582.5" cy="556.0" r="6.9" fill="#bcdbea"/>
<circle cx="578.1" cy="1011.7" r="6.9" fill="#bcdbea"/>
<circle cx="845.3" cy="847.8" r="6.9" fill="#bcdbea"/>
<circle cx="588.5" cy="806.4" r="6.9" fill="#bcdbea"/>
<circle cx="525.1" cy="203.4" r="6.9" fill="#bcdbea"/>
<circle cx="623.3" cy="228.7" r="6.9" fill="#bcdbea"/>
<circle cx="294.8" cy="363.5" r="6.9" fill="#bcdbea"/>
<circle cx="606.4" cy="807.5" r="6.9" fill="#bcdbea"/>
<circle cx="302.8" cy="374.3" r="6.9" fill="#bcdbea"/>
<circle cx="713.7" cy="664.5" r="6.9" fill="#bcdbea"/>
<circle cx="498.8" cy="221.9" r="6.9" fill="#bcdbea"/>
<circle cx="1067.9" cy="465.0" r="6.9" fill="#bcdbea"/>
<circle cx="886.2" cy="868.4" r="6.9" fill="#bcdbea"/>
<circle cx="662.9" cy="308.6" r="6.9" fill="#bcdbea"/>
<circle cx="767.4" cy="253.9" r="6.9" fill="#bcdbea"/>
<circle cx="875.7" cy="505.4" r="6.9" fill="#bcdbea"/>
<circle cx="642.3" cy="268.7" r="6.9" fill="#bcdbea"/>
<circle cx="444.0" cy="422.6" r="6.9" fill="#bcdbea"/>
<circle cx="761.6" cy="662.9" r="6.9" fill="#bcdbea"/>
<circle cx="976.4" cy="782.2" r="6.9" fill="#bcdbea"/>
<circle cx="367.3" cy="367.7" r="6.9" fill="#bcdbea"/>
<circle cx="273.6" cy="406.5" r="6.9" fill="#bcdbea"/>
<circle cx="941.6" cy="802.9" r="6.9" fill="#bcdbea"/>
<circle cx="698.8" cy="724.6" r="6.9" fill="#bcdbea"/>
<circle cx="716.8" cy="467.1" r="6.9" fill="#bcdbea"/>
<circle cx="328.3" cy="517.3" r="6.9" fill="#bcdbea"/>
<circle cx="408.7" cy="288.4" r="6.9" fill="#bcdbea"/>
<circle cx="894.4" cy="412.5" r="6.9" fill="#bcdbea"/>
<circle cx="858.7" cy="841.2" r="6.9" fill="#bcdbea"/>
<circle cx="871.4" cy="855.4" r="6.9" fill="#bcdbea"/>
<circle cx="753.6" cy="817.8" r="6.9" fill="#bcdbea"/>
<circle cx="1106.2" cy="466.8" r="6.9" fill="#bcdbea"/>
<circle cx="969.2" cy="871.5" r="6.9" fill="#bcdbea"/>
<circle cx="596.7" cy="288.4" r="6.9" fill="#bcdbea"/>
<circle cx="347.3" cy="328.6" r="6.9" fill="#bcdbea"/>
<circle cx="273.3" cy="363.6" r="6.9" fill="#bcdbea"/>
<circle cx="377.8" cy="251.2" r="6.9" fill="#bcdbea"/>
<circle cx="401.6" cy="823.3" r="6.9" fill="#bcdbea"/>
<circle cx="648.6" cy="872.5" r="6.9" fill="#bcdbea"/>
<circle cx="683.9" cy="764.0" r="6.9" fill="#bcdbea"/>
<circle cx="369.6" cy="270.9" r="6.9" fill="#bcdbea"/>
<circle cx="555.3" cy="936.0" r="6.9" fill="#bcdbea"/>
<circle cx="445.3" cy="342.4" r="6.9" fill="#bcdbea"/>
<circle cx="554.8" cy="204.9" r="6.9" fill="#bcdbea"/>
<circle cx="424.4" cy="530.5" r="6.9" fill="#bcdbea"/>
<circle cx="1038.9" cy="452.7" r="6.9" fill="#bcdbea"/>
<circle cx="627.5" cy="1018.5" r="6.9" fill="#bcdbea"/>
<circle cx="324.0" cy="503.9" r="6.9" fill="#bcdbea"/>
<circle cx="906.3" cy="487.5" r="6.9" fill="#bcdbea"/>
<circle cx="513.6" cy="293.6" r="6.9" fill="#bcdbea"/>
<circle cx="348.4" cy="397.1" r="6.9" fill="#bcdbea"/>
<circle cx="676.5" cy="682.1" r="6.9" fill="#bcdbea"/>
<circle cx="565.3" cy="775.7" r="6.9" fill="#bcdbea"/>
<circle cx="321.5" cy="376.5" r="6.9" fill="#bcdbea"/>
<circle cx="624.0" cy="797.4" r="6.9" fill="#bcdbea"/>
<circle cx="302.7" cy="346.7" r="6.9" fill="#bcdbea"/>
<circle cx="807.2" cy="825.8" r="6.9" fill="#bcdbea"/>
<circle cx="407.5" cy="725.9" r="6.9" fill="#bcdbea"/>
<circle cx="815.8" cy="828.9" r="6.9" fill="#bcdbea"/>
<circle cx="868.1" cy="907.8" r="6.9" fill="#bcdbea"/>
<circle cx="786.9" cy="732.2" r="6.9" fill="#bcdbea"/>
<circle cx="368.8" cy="834.2" r="6.9" fill="#bcdbea"/>
<circle cx="402.2" cy="405.7" r="6.9" fill="#bcdbea"/>
<circle cx="1084.1" cy="485.2" r="6.9" fill="#bcdbea"/>
<circle cx="752.9" cy="917.2" r="6.9" fill="#bcdbea"/>
<circle cx="496.2" cy="948.0" r="6.9" fill="#bcdbea"/>
<circle cx="497.1" cy="252.6" r="6.9" fill="#bcdbea"/>
<circle cx="725.6" cy="753.7" r="6.9" fill="#bcdbea"/>
<circle cx="724.5" cy="735.7" r="6.9" fill="#bcdbea"/>
<circle cx="388.0" cy="357.9" r="6.9" fill="#bcdbea"/>
<circle cx="1083.8" cy="496.4" r="6.9" fill="#bcdbea"/>
<circle cx="594.1" cy="314.8" r="6.9" fill="#bcdbea"/>
<circle cx="925.4" cy="386.1" r="6.9" fill="#bcdbea"/>
<circle cx="678.1" cy="467.4" r="6.9" fill="#bcdbea"/>
<circle cx="1041.4" cy="316.4" r="6.9" fill="#bcdbea"/>
<circle cx="385.9" cy="313.4" r="6.9" fill="#bcdbea"/>
<circle cx="958.4" cy="642.3" r="6.9" fill="#bcdbea"/>
<circle cx="295.2" cy="291.1" r="6.9" fill="#bcdbea"/>
<circle cx="689.4" cy="694.7" r="6.9" fill="#bcdbea"/>
<circle cx="1010.2" cy="315.2" r="6.9" fill="#bcdbea"/>
<circle cx="368.5" cy="381.7" r="6.9" fill="#bcdbea"/>
<circle cx="1057.1" cy="488.3" r="6.9" fill="#bcdbea"/>
<circle cx="742.3" cy="844.1" r="6.9" fill="#bcdbea"/>
<circle cx="333.2" cy="343.5" r="6.9" fill="#bcdbea"/>
<circle cx="615.4" cy="813.6" r="6.9" fill="#bcdbea"/>
<circle cx="808.4" cy="457.3" r="6.9" fill="#bcdbea"/>
<circle cx="573.8" cy="913.7" r="6.9" fill="#bcdbea"/>
<circle cx="693.6" cy="815.2" r="6.9" fill="#bcdbea"/>
<circle cx="455.8" cy="337.3" r="6.9" fill="#bcdbea"/>
<circle cx="626.8" cy="828.0" r="6.9" fill="#bcdbea"/>
<circle cx="569.9" cy="336.5" r="6.9" fill="#bcdbea"/>
<circle cx="975.6" cy="624.4" r="6.9" fill="#bcdbea"/>
<circle cx="574.1" cy="549.6" r="6.9" fill="#bcdbea"/>
<circle cx="767.6" cy="905.4" r="6.9" fill="#bcdbea"/>
<circle cx="686.9" cy="701.8" r="6.9" fill="#bcdbea"/>
<circle cx="874.0" cy="375.7" r="6.9" fill="#bcdbea"/>
<circle cx="626.5" cy="265.9" r="6.9" fill="#bcdbea"/>
<circle cx="627.4" cy="768.5" r="6.9" fill="#bcdbea"/>
<circle cx="593.1" cy="1017.9" r="6.9" fill="#bcdbea"/>
<circle cx="1058.9" cy="359.0" r="6.9" fill="#bcdbea"/>
<circle cx="747.3" cy="332.0" r="6.9" fill="#bcdbea"/>
<circle cx="761.3" cy="893.2" r="6.9" fill="#bcdbea"/>
<circle cx="732.7" cy="728.7" r="6.9" fill="#bcdbea"/>
<circle cx="574.4" cy="987.3" r="6.9" fill="#bcdbea"/>
<circle cx="566.1" cy="942.2" r="6.9" fill="#bcdbea"/>
<circle cx="952.3" cy="791.6" r="6.9" fill="#bcdbea"/>
<circle cx="837.3" cy="443.6" r="6.9" fill="#bcdbea"/>
<circle cx="374.7" cy="318.8" r="6.9" fill="#bcdbea"/>
<circle cx="445.1" cy="323.3" r="6.9" fill="#bcdbea"/>
<circle cx="517.0" cy="313.7" r="6.9" fill="#bcdbea"/>
<circle cx="717.5" cy="314.4" r="6.9" fill="#bcdbea"/>
<circle cx="768.5" cy="266.4" r="6.9" fill="#bcdbea"/>
<circle cx="868.9" cy="554.2" r="6.9" fill="#bcdbea"/>
<circle cx="651.3" cy="315.5" r="6.9" fill="#bcdbea"/>
<circle cx="312.7" cy="496.2" r="6.9" fill="#bcdbea"/>
<circle cx="848.8" cy="549.1" r="6.9" fill="#bcdbea"/>
<circle cx="656.9" cy="1014.3" r="6.9" fill="#bcdbea"/>
<circle cx="652.4" cy="755.9" r="6.9" fill="#bcdbea"/>
<circle cx="495.1" cy="917.8" r="6.9" fill="#bcdbea"/>
<circle cx="385.6" cy="405.6" r="6.9" fill="#bcdbea"/>
<circle cx="745.8" cy="912.4" r="6.9" fill="#bcdbea"/>
<circle cx="395.5" cy="288.9" r="6.9" fill="#bcdbea"/>
<circle cx="386.7" cy="287.7" r="6.9" fill="#bcdbea"/>
<circle cx="936.1" cy="285.5" r="6.9" fill="#bcdbea"/>
<circle cx="316.8" cy="373.5" r="6.9" fill="#bcdbea"/>
<circle cx="655.7" cy="1003.7" r="6.9" fill="#bcdbea"/>
<circle cx="835.5" cy="925.5" r="6.9" fill="#bcdbea"/>
<circle cx="574.2" cy="221.1" r="6.9" fill="#bcdbea"/>
<circle cx="655.2" cy="247.9" r="6.9" fill="#bcdbea"/>
<circle cx="568.6" cy="283.0" r="6.9" fill="#bcdbea"/>
<circle cx="767.2" cy="877.6" r="6.9" fill="#bcdbea"/>
<circle cx="295.4" cy="314.0" r="6.9" fill="#bcdbea"/>
<circle cx="923.4" cy="407.3" r="6.9" fill="#bcdbea"/>
<circle cx="387.1" cy="542.2" r="6.9" fill="#bcdbea"/>
<circle cx="778.0" cy="743.1" r="6.9" fill="#bcdbea"/>
<circle cx="654.4" cy="312.1" r="6.9" fill="#bcdbea"/>
<circle cx="287.9" cy="456.1" r="6.9" fill="#bcdbea"/>
<circle cx="816.8" cy="756.7" r="6.9" fill="#bcdbea"/>
<circle cx="483.3" cy="344.8" r="6.9" fill="#bcdbea"/>
<circle cx="666.1" cy="246.6" r="6.9" fill="#bcdbea"/>
<circle cx="912.2" cy="868.1" r="6.9" fill="#bcdbea"/>
<circle cx="884.0" cy="855.5" r="6.9" fill="#bcdbea"/>
<circle cx="595.7" cy="248.7" r="6.9" fill="#bcdbea"/>
<circle cx="539.0" cy="486.5" r="6.9" fill="#bcdbea"/>
<circle cx="1077.0" cy="314.4" r="6.9" fill="#bcdbea"/>
<circle cx="969.6" cy="295.0" r="6.9" fill="#bcdbea"/>
<circle cx="1085.0" cy="475.3" r="6.9" fill="#bcdbea"/>
<circle cx="913.4" cy="484.5" r="6.9" fill="#bcdbea"/>
<circle cx="1031.0" cy="335.5" r="6.9" fill="#bcdbea"/>
<circle cx="511.4" cy="361.4" r="6.9" fill="#bcdbea"/>
<circle cx="350.2" cy="417.9" r="6.9" fill="#bcdbea"/>
<circle cx="889.4" cy="306.9" r="6.9" fill="#bcdbea"/>
<circle cx="442.0" cy="281.1" r="6.9" fill="#bcdbea"/>
<circle cx="482.0" cy="224.0" r="6.9" fill="#bcdbea"/>
<circle cx="408.4" cy="872.8" r="6.9" fill="#bcdbea"/>
<circle cx="730.6" cy="208.2" r="6.9" fill="#bcdbea"/>
<circle cx="454.2" cy="356.9" r="6.9" fill="#bcdbea"/>
<circle cx="288.6" cy="409.0" r="6.9" fill="#bcdbea"/>
<circle cx="618.0" cy="473.6" r="6.9" fill="#bcdbea"/>
<circle cx="794.8" cy="885.8" r="6.9" fill="#bcdbea"/>
<circle cx="892.8" cy="891.3" r="6.9" fill="#bcdbea"/>
<circle cx="933.4" cy="494.7" r="6.9" fill="#bcdbea"/>
<circle cx="717.7" cy="824.0" r="6.9" fill="#bcdbea"/>
<circle cx="948.8" cy="448.6" r="6.9" fill="#bcdbea"/>
<circle cx="573.3" cy="517.6" r="6.9" fill="#bcdbea"/>
<circle cx="515.5" cy="956.3" r="6.9" fill="#bcdbea"/>
<circle cx="1075.4" cy="324.4" r="6.9" fill="#bcdbea"/>
<circle cx="393.5" cy="510.0" r="6.9" fill="#bcdbea"/>
<circle cx="634.1" cy="947.1" r="6.9" fill="#bcdbea"/>
<circle cx="813.0" cy="967.4" r="6.9" fill="#bcdbea"/>
<circle cx="676.8" cy="271.1" r="6.9" fill="#bcdbea"/>
<circle cx="405.8" cy="335.9" r="6.9" fill="#bcdbea"/>
<circle cx="807.2" cy="292.9" r="6.9" fill="#bcdbea"/>
<circle cx="948.9" cy="406.4" r="6.9" fill="#bcdbea"/>
<circle cx="575.7" cy="803.5" r="6.9" fill="#bcdbea"/>
<circle cx="728.4" cy="771.0" r="6.9" fill="#bcdbea"/>
<circle cx="606.1" cy="737.3" r="6.9" fill="#bcdbea"/>
<circle cx="408.9" cy="553.8" r="6.9" fill="#bcdbea"/>
<circle cx="283.9" cy="411.1" r="6.9" fill="#bcdbea"/>
<circle cx="986.5" cy="781.6" r="6.9" fill="#bcdbea"/>
<circle cx="873.2" cy="812.6" r="6.9" fill="#bcdbea"/>
<circle cx="390.0" cy="397.6" r="6.9" fill="#bcdbea"/>
<circle cx="954.9" cy="904.0" r="6.9" fill="#bcdbea"/>
<circle cx="684.9" cy="263.3" r="6.9" fill="#bcdbea"/>
<circle cx="924.9" cy="806.2" r="6.9" fill="#bcdbea"/>
<circle cx="251.8" cy="310.1" r="6.9" fill="#bcdbea"/>
<circle cx="318.3" cy="508.2" r="6.9" fill="#bcdbea"/>
<circle cx="657.9" cy="298.6" r="6.9" fill="#bcdbea"/>
<circle cx="345.4" cy="254.0" r="6.9" fill="#bcdbea"/>
<circle cx="451.6" cy="314.3" r="6.9" fill="#bcdbea"/>
<circle cx="1046.8" cy="453.7" r="6.9" fill="#bcdbea"/>
<circle cx="949.3" cy="864.7" r="6.9" fill="#bcdbea"/>
<circle cx="1051.6" cy="462.9" r="6.9" fill="#bcdbea"/>
<circle cx="828.4" cy="343.1" r="6.9" fill="#bcdbea"/>
<circle cx="375.7" cy="323.5" r="6.9" fill="#bcdbea"/>
<circle cx="1008.9" cy="245.9" r="6.9" fill="#bcdbea"/>
<circle cx="706.3" cy="1052.5" r="6.9" fill="#bcdbea"/>
<circle cx="886.0" cy="816.7" r="6.9" fill="#bcdbea"/>
<circle cx="1009.8" cy="486.0" r="6.9" fill="#bcdbea"/>
<circle cx="883.8" cy="804.9" r="6.9" fill="#bcdbea"/>
<circle cx="610.4" cy="793.0" r="6.9" fill="#bcdbea"/>
<circle cx="321.5" cy="496.3" r="6.9" fill="#bcdbea"/>
<circle cx="804.6" cy="826.1" r="6.9" fill="#bcdbea"/>
<circle cx="416.9" cy="373.8" r="6.9" fill="#bcdbea"/>
<circle cx="746.7" cy="663.3" r="6.9" fill="#bcdbea"/>
<circle cx="517.0" cy="336.1" r="6.9" fill="#bcdbea"/>
<circle cx="355.2" cy="250.8" r="6.9" fill="#bcdbea"/>
<circle cx="437.0" cy="347.7" r="6.9" fill="#bcdbea"/>
<circle cx="515.7" cy="886.9" r="6.9" fill="#bcdbea"/>
<circle cx="228.4" cy="310.0" r="6.9" fill="#bcdbea"/>
<circle cx="226.5" cy="434.4" r="6.9" fill="#bcdbea"/>
<circle cx="994.0" cy="432.8" r="6.9" fill="#bcdbea"/>
<circle cx="684.4" cy="244.4" r="6.9" fill="#bcdbea"/>
<circle cx="913.9" cy="928.1" r="6.9" fill="#bcdbea"/>
<circle cx="568.7" cy="954.8" r="6.9" fill="#bcdbea"/>
<circle cx="672.8" cy="848.5" r="6.9" fill="#bcdbea"/>
<circle cx="514.7" cy="424.7" r="6.9" fill="#bcdbea"/>
<circle cx="671.3" cy="848.5" r="6.9" fill="#bcdbea"/>
<circle cx="641.6" cy="1068.8" r="6.9" fill="#bcdbea"/>
<circle cx="324.5" cy="395.7" r="6.9" fill="#bcdbea"/>
<circle cx="377.1" cy="487.9" r="6.9" fill="#bcdbea"/>
<circle cx="307.9" cy="403.4" r="6.9" fill="#bcdbea"/>
<circle cx="947.7" cy="486.3" r="6.9" fill="#bcdbea"/>
<circle cx="678.9" cy="787.4" r="6.9" fill="#bcdbea"/>
<circle cx="494.9" cy="341.9" r="6.9" fill="#bcdbea"/>
<circle cx="577.9" cy="208.7" r="6.9" fill="#bcdbea"/>
<circle cx="934.9" cy="911.8" r="6.9" fill="#bcdbea"/>
<circle cx="428.0" cy="232.6" r="6.9" fill="#bcdbea"/>
<circle cx="764.7" cy="265.8" r="6.9" fill="#bcdbea"/>
<circle cx="967.1" cy="436.0" r="6.9" fill="#bcdbea"/>
<circle cx="614.1" cy="797.1" r="6.9" fill="#bcdbea"/>
<circle cx="663.1" cy="1095.7" r="6.9" fill="#bcdbea"/>
<circle cx="507.0" cy="246.7" r="6.9" fill="#bcdbea"/>
<circle cx="714.2" cy="354.7" r="6.9" fill="#bcdbea"/>
<circle cx="333.4" cy="407.6" r="6.9" fill="#bcdbea"/>
<circle cx="949.1" cy="864.2" r="6.9" fill="#bcdbea"/>
<circle cx="283.6" cy="313.9" r="6.9" fill="#bcdbea"/>
<circle cx="1034.1" cy="326.6" r="6.9" fill="#bcdbea"/>
<circle cx="441.9" cy="293.8" r="6.9" fill="#bcdbea"/>
<circle cx="913.5" cy="781.9" r="6.9" fill="#bcdbea"/>
<circle cx="933.2" cy="337.5" r="6.9" fill="#bcdbea"/>
<circle cx="651.3" cy="732.5" r="6.9" fill="#bcdbea"/>
<circle cx="576.5" cy="1034.6" r="6.9" fill="#bcdbea"/>
<circle cx="944.2" cy="488.6" r="6.9" fill="#bcdbea"/>
<circle cx="316.0" cy="292.3" r="6.9" fill="#bcdbea"/>
<circle cx="638.6" cy="854.2" r="6.9" fill="#bcdbea"/>
<circle cx="455.2" cy="251.1" r="6.9" fill="#bcdbea"/>
<circle cx="568.6" cy="768.2" r="6.9" fill="#bcdbea"/>
<circle cx="921.4" cy="395.2" r="6.9" fill="#bcdbea"/>
<circle cx="923.4" cy="824.4" r="6.9" fill="#bcdbea"/>
<circle cx="411.5" cy="492.6" r="6.9" fill="#bcdbea"/>
<circle cx="722.4" cy="294.9" r="6.9" fill="#bcdbea"/>
<circle cx="874.6" cy="417.0" r="6.9" fill="#bcdbea"/>
<circle cx="424.2" cy="755.5" r="6.9" fill="#bcdbea"/>
<circle cx="983.6" cy="311.6" r="6.9" fill="#bcdbea"/>
<circle cx="323.4" cy="355.0" r="6.9" fill="#bcdbea"/>
<circle cx="388.2" cy="496.0" r="6.9" fill="#bcdbea"/>
<circle cx="302.9" cy="291.7" r="6.9" fill="#bcdbea"/>
<circle cx="432.5" cy="371.1" r="6.9" fill="#bcdbea"/>
<circle cx="323.3" cy="412.2" r="6.9" fill="#bcdbea"/>
<circle cx="572.0" cy="553.3" r="6.9" fill="#bcdbea"/>
<circle cx="977.2" cy="338.2" r="6.9" fill="#bcdbea"/>
<circle cx="622.7" cy="1042.3" r="6.9" fill="#bcdbea"/>
<circle cx="635.6" cy="303.7" r="6.9" fill="#bcdbea"/>
<circle cx="489.6" cy="848.6" r="6.9" fill="#bcdbea"/>
<circle cx="496.5" cy="385.6" r="6.9" fill="#bcdbea"/>
<circle cx="1004.9" cy="493.8" r="6.9" fill="#bcdbea"/>
<circle cx="402.3" cy="325.3" r="6.9" fill="#bcdbea"/>
<circle cx="653.0" cy="246.1" r="6.9" fill="#bcdbea"/>
<circle cx="851.3" cy="929.6" r="6.9" fill="#bcdbea"/>
<circle cx="392.2" cy="367.0" r="6.9" fill="#bcdbea"/>
<circle cx="797.2" cy="916.5" r="6.9" fill="#bcdbea"/>
<circle cx="356.7" cy="366.9" r="6.9" fill="#bcdbea"/>
<circle cx="567.7" cy="1034.9" r="6.9" fill="#bcdbea"/>
<circle cx="565.3" cy="296.3" r="6.9" fill="#bcdbea"/>
<circle cx="338.9" cy="503.6" r="6.9" fill="#bcdbea"/>
<circle cx="337.7" cy="516.8" r="6.9" fill="#bcdbea"/>
<circle cx="408.1" cy="301.2" r="6.9" fill="#bcdbea"/>
<circle cx="623.5" cy="871.9" r="6.9" fill="#bcdbea"/>
<circle cx="655.6" cy="305.2" r="6.9" fill="#bcdbea"/>
<circle cx="406.1" cy="747.9" r="6.9" fill="#bcdbea"/>
<circle cx="805.4" cy="814.7" r="6.9" fill="#bcdbea"/>
<circle cx="682.3" cy="1068.9" r="6.9" fill="#bcdbea"/>
<circle cx="407.4" cy="436.5" r="6.9" fill="#bcdbea"/>
<circle cx="808.9" cy="884.3" r="6.9" fill="#bcdbea"/>
<circle cx="824.8" cy="437.5" r="6.9" fill="#bcdbea"/>
<circle cx="996.4" cy="314.1" r="6.9" fill="#bcdbea"/>
<circle cx="670.5" cy="994.0" r="6.9" fill="#bcdbea"/>
<circle cx="416.2" cy="271.2" r="6.9" fill="#bcdbea"/>
<circle cx="602.2" cy="267.1" r="6.9" fill="#bcdbea"/>
<circle cx="861.8" cy="916.4" r="6.9" fill="#bcdbea"/>
<circle cx="623.8" cy="1075.4" r="6.9" fill="#bcdbea"/>
<circle cx="653.5" cy="748.9" r="6.9" fill="#bcdbea"/>
<circle cx="802.7" cy="865.9" r="6.9" fill="#bcdbea"/>
<circle cx="796.0" cy="311.1" r="6.9" fill="#bcdbea"/>
<circle cx="596.5" cy="823.0" r="6.9" fill="#bcdbea"/>
<circle cx="295.3" cy="489.6" r="6.9" fill="#bcdbea"/>
<circle cx="377.9" cy="506.8" r="6.9" fill="#bcdbea"/>
<circle cx="428.3" cy="426.6" r="6.9" fill="#bcdbea"/>
<circle cx="611.6" cy="938.9" r="6.9" fill="#bcdbea"/>
<circle cx="821.9" cy="457.8" r="6.9" fill="#bcdbea"/>
<circle cx="641.5" cy="837.7" r="6.9" fill="#bcdbea"/>
<circle cx="387.3" cy="515.5" r="6.9" fill="#bcdbea"/>
<circle cx="589.0" cy="791.8" r="6.9" fill="#bcdbea"/>
<circle cx="951.1" cy="437.9" r="6.9" fill="#bcdbea"/>
<circle cx="336.4" cy="326.4" r="6.9" fill="#bcdbea"/>
<circle cx="770.8" cy="764.6" r="6.9" fill="#bcdbea"/>
<circle cx="785.2" cy="943.5" r="6.9" fill="#bcdbea"/>
<circle cx="705.6" cy="476.0" r="6.9" fill="#bcdbea"/>
<circle cx="595.6" cy="286.1" r="6.9" fill="#bcdbea"/>
<circle cx="624.9" cy="867.2" r="6.9" fill="#bcdbea"/>
<circle cx="787.1" cy="877.3" r="6.9" fill="#bcdbea"/>
<circle cx="563.5" cy="253.1" r="6.9" fill="#bcdbea"/>
<circle cx="875.3" cy="406.7" r="6.9" fill="#bcdbea"/>
<circle cx="902.4" cy="884.8" r="6.9" fill="#bcdbea"/>
<circle cx="506.4" cy="266.5" r="6.9" fill="#bcdbea"/>
<circle cx="785.7" cy="312.6" r="6.9" fill="#bcdbea"/>
<circle cx="422.6" cy="283.6" r="6.9" fill="#bcdbea"/>
<circle cx="554.8" cy="305.0" r="6.9" fill="#bcdbea"/>
<circle cx="847.3" cy="505.7" r="6.9" fill="#bcdbea"/>
<circle cx="747.3" cy="455.5" r="6.9" fill="#bcdbea"/>
<circle cx="494.2" cy="354.9" r="6.9" fill="#bcdbea"/>
<circle cx="933.3" cy="381.3" r="6.9" fill="#bcdbea"/>
<circle cx="544.4" cy="187.8" r="6.9" fill="#bcdbea"/>
<circle cx="853.3" cy="333.3" r="6.9" fill="#bcdbea"/>
<circle cx="302.4" cy="425.6" r="6.9" fill="#bcdbea"/>
<circle cx="1045.5" cy="465.0" r="6.9" fill="#bcdbea"/>
<circle cx="847.6" cy="875.5" r="6.9" fill="#bcdbea"/>
<circle cx="710.9" cy="312.5" r="6.9" fill="#bcdbea"/>
<circle cx="553.9" cy="894.2" r="6.9" fill="#bcdbea"/>
<circle cx="396.8" cy="537.7" r="6.9" fill="#bcdbea"/>
<circle cx="331.6" cy="273.3" r="6.9" fill="#bcdbea"/>
<circle cx="943.3" cy="813.6" r="6.9" fill="#bcdbea"/>
<circle cx="389.7" cy="312.4" r="6.9" fill="#bcdbea"/>
<circle cx="266.2" cy="317.4" r="6.9" fill="#bcdbea"/>
<circle cx="728.4" cy="878.6" r="6.9" fill="#bcdbea"/>
<circle cx="736.6" cy="716.2" r="6.9" fill="#bcdbea"/>
<circle cx="945.0" cy="793.2" r="6.9" fill="#bcdbea"/>
<circle cx="383.9" cy="329.5" r="6.9" fill="#bcdbea"/>
<circle cx="1072.1" cy="432.8" r="6.9" fill="#bcdbea"/>
<circle cx="291.0" cy="397.4" r="6.9" fill="#bcdbea"/>
<circle cx="1006.7" cy="834.8" r="6.9" fill="#bcdbea"/>
<circle cx="948.9" cy="910.0" r="6.9" fill="#bcdbea"/>
<circle cx="323.8" cy="423.5" r="6.9" fill="#bcdbea"/>
<circle cx="311.8" cy="387.1" r="6.9" fill="#bcdbea"/>
<circle cx="785.8" cy="345.9" r="6.9" fill="#bcdbea"/>
<circle cx="1061.7" cy="481.2" r="6.9" fill="#bcdbea"/>
<circle cx="307.8" cy="368.5" r="6.9" fill="#bcdbea"/>
<circle cx="765.1" cy="545.8" r="6.9" fill="#bcdbea"/>
<circle cx="317.9" cy="449.7" r="6.9" fill="#bcdbea"/>
<circle cx="877.9" cy="382.8" r="6.9" fill="#bcdbea"/>
<circle cx="776.6" cy="234.4" r="6.9" fill="#bcdbea"/>
<circle cx="371.8" cy="248.9" r="6.9" fill="#bcdbea"/>
<circle cx="682.0" cy="804.4" r="6.9" fill="#bcdbea"/>
<circle cx="822.5" cy="953.6" r="6.9" fill="#bcdbea"/>
<circle cx="768.6" cy="514.6" r="6.9" fill="#bcdbea"/>
<circle cx="794.4" cy="831.7" r="6.9" fill="#bcdbea"/>
<circle cx="307.9" cy="443.1" r="6.9" fill="#bcdbea"/>
<circle cx="485.2" cy="325.5" r="6.9" fill="#bcdbea"/>
<circle cx="894.1" cy="383.2" r="6.9" fill="#bcdbea"/>
<circle cx="715.9" cy="287.4" r="6.9" fill="#bcdbea"/>
<circle cx="714.1" cy="1046.9" r="6.9" fill="#bcdbea"/>
<circle cx="544.8" cy="292.5" r="6.9" fill="#bcdbea"/>
<circle cx="471.7" cy="888.1" r="6.9" fill="#bcdbea"/>
<circle cx="843.9" cy="622.5" r="6.9" fill="#bcdbea"/>
<circle cx="976.4" cy="452.6" r="6.9" fill="#bcdbea"/>
<circle cx="216.1" cy="409.2" r="6.9" fill="#bcdbea"/>
<circle cx="696.2" cy="342.3" r="6.9" fill="#bcdbea"/>
<circle cx="1087.3" cy="463.1" r="6.9" fill="#bcdbea"/>
<circle cx="903.8" cy="827.9" r="6.9" fill="#bcdbea"/>
<circle cx="987.9" cy="672.7" r="6.9" fill="#bcdbea"/>
<circle cx="1012.3" cy="812.0" r="6.9" fill="#bcdbea"/>
<circle cx="385.2" cy="487.9" r="6.9" fill="#bcdbea"/>
<circle cx="704.2" cy="346.5" r="6.9" fill="#bcdbea"/>
<circle cx="357.3" cy="415.1" r="6.9" fill="#bcdbea"/>
<circle cx="807.4" cy="323.1" r="6.9" fill="#bcdbea"/>
<circle cx="336.9" cy="567.3" r="6.9" fill="#bcdbea"/>
<circle cx="673.6" cy="1041.8" r="6.9" fill="#bcdbea"/>
<circle cx="654.2" cy="1051.1" r="6.9" fill="#bcdbea"/>
<circle cx="342.2" cy="366.6" r="6.9" fill="#bcdbea"/>
<circle cx="473.8" cy="293.8" r="6.9" fill="#bcdbea"/>
<circle cx="265.9" cy="343.6" r="6.9" fill="#bcdbea"/>
<circle cx="904.2" cy="431.8" r="6.9" fill="#bcdbea"/>
<circle cx="626.8" cy="205.9" r="6.9" fill="#bcdbea"/>
<circle cx="572.7" cy="277.8" r="6.9" fill="#bcdbea"/>
<circle cx="665.8" cy="278.0" r="6.9" fill="#bcdbea"/>
<circle cx="353.2" cy="367.1" r="6.9" fill="#bcdbea"/>
<circle cx="687.6" cy="861.7" r="6.9" fill="#bcdbea"/>
<circle cx="1001.8" cy="474.6" r="6.9" fill="#bcdbea"/>
<circle cx="663.0" cy="225.1" r="6.9" fill="#bcdbea"/>
<circle cx="347.7" cy="487.0" r="6.9" fill="#bcdbea"/>
<circle cx="915.5" cy="838.6" r="6.9" fill="#bcdbea"/>
<circle cx="814.0" cy="894.0" r="6.9" fill="#bcdbea"/>
<circle cx="510.9" cy="871.4" r="6.9" fill="#bcdbea"/>
<circle cx="698.7" cy="273.0" r="6.9" fill="#bcdbea"/>
<circle cx="435.3" cy="378.4" r="6.9" fill="#bcdbea"/>
<circle cx="304.2" cy="474.6" r="6.9" fill="#bcdbea"/>
<circle cx="508.7" cy="263.6" r="6.9" fill="#bcdbea"/>
<circle cx="911.2" cy="856.2" r="6.9" fill="#bcdbea"/>
<circle cx="665.0" cy="729.1" r="6.9" fill="#bcdbea"/>
<circle cx="815.5" cy="883.9" r="6.9" fill="#bcdbea"/>
<circle cx="344.6" cy="250.4" r="6.9" fill="#bcdbea"/>
<circle cx="988.6" cy="833.9" r="6.9" fill="#bcdbea"/>
<circle cx="816.7" cy="286.6" r="6.9" fill="#bcdbea"/>
<circle cx="434.5" cy="270.9" r="6.9" fill="#bcdbea"/>
<circle cx="337.2" cy="482.4" r="6.9" fill="#bcdbea"/>
<circle cx="236.6" cy="396.9" r="6.9" fill="#bcdbea"/>
<circle cx="648.1" cy="225.5" r="6.9" fill="#bcdbea"/>
<circle cx="1048.7" cy="311.3" r="6.9" fill="#bcdbea"/>
<circle cx="530.1" cy="1048.4" r="6.9" fill="#bcdbea"/>
<circle cx="874.2" cy="426.2" r="6.9" fill="#bcdbea"/>
<circle cx="394.6" cy="343.7" r="6.9" fill="#bcdbea"/>
<circle cx="786.5" cy="248.0" r="6.9" fill="#bcdbea"/>
<circle cx="955.9" cy="807.0" r="6.9" fill="#bcdbea"/>
<circle cx="707.4" cy="867.4" r="6.9" fill="#bcdbea"/>
<circle cx="684.0" cy="347.8" r="6.9" fill="#bcdbea"/>
<circle cx="853.0" cy="589.5" r="6.9" fill="#bcdbea"/>
<circle cx="814.1" cy="946.6" r="6.9" fill="#bcdbea"/>
<circle cx="828.7" cy="311.6" r="6.9" fill="#bcdbea"/>
<circle cx="918.2" cy="403.1" r="6.9" fill="#bcdbea"/>
<circle cx="778.5" cy="823.3" r="6.9" fill="#bcdbea"/>
<circle cx="1050.9" cy="331.2" r="6.9" fill="#bcdbea"/>
<circle cx="1022.6" cy="287.1" r="6.9" fill="#bcdbea"/>
<circle cx="461.5" cy="363.9" r="6.9" fill="#bcdbea"/>
<circle cx="337.7" cy="332.2" r="6.9" fill="#bcdbea"/>
<circle cx="415.2" cy="544.3" r="6.9" fill="#bcdbea"/>
<circle cx="431.5" cy="353.4" r="6.9" fill="#bcdbea"/>
<circle cx="548.1" cy="236.2" r="6.9" fill="#bcdbea"/>
<circle cx="792.4" cy="328.4" r="6.9" fill="#bcdbea"/>
<circle cx="331.8" cy="254.0" r="6.9" fill="#bcdbea"/>
<circle cx="924.0" cy="902.7" r="6.9" fill="#bcdbea"/>
<circle cx="589.0" cy="1001.2" r="6.9" fill="#bcdbea"/>
<circle cx="310.6" cy="268.2" r="6.9" fill="#bcdbea"/>
<circle cx="852.0" cy="906.5" r="6.9" fill="#bcdbea"/>
<circle cx="357.4" cy="524.6" r="6.9" fill="#bcdbea"/>
<circle cx="783.4" cy="775.4" r="6.9" fill="#bcdbea"/>
<circle cx="505.0" cy="378.2" r="6.9" fill="#bcdbea"/>
<circle cx="842.0" cy="917.6" r="6.9" fill="#bcdbea"/>
<circle cx="772.6" cy="807.9" r="6.9" fill="#bcdbea"/>
<circle cx="844.0" cy="953.7" r="6.9" fill="#bcdbea"/>
<circle cx="850.0" cy="413.2" r="6.9" fill="#bcdbea"/>
<circle cx="276.7" cy="414.6" r="6.9" fill="#bcdbea"/>
<circle cx="543.6" cy="249.5" r="6.9" fill="#bcdbea"/>
<circle cx="344.6" cy="267.3" r="6.9" fill="#bcdbea"/>
<circle cx="847.7" cy="884.1" r="6.9" fill="#bcdbea"/>
<circle cx="1110.0" cy="503.2" r="6.9" fill="#bcdbea"/>
<circle cx="551.2" cy="255.1" r="6.9" fill="#bcdbea"/>
<circle cx="754.7" cy="1047.9" r="6.9" fill="#bcdbea"/>
<circle cx="884.1" cy="933.1" r="6.9" fill="#bcdbea"/>
<circle cx="586.6" cy="926.2" r="6.9" fill="#bcdbea"/>
<circle cx="1061.8" cy="475.8" r="6.9" fill="#bcdbea"/>
<circle cx="352.7" cy="264.2" r="6.9" fill="#bcdbea"/>
<circle cx="363.2" cy="391.9" r="6.9" fill="#bcdbea"/>
<circle cx="674.2" cy="234.0" r="6.9" fill="#bcdbea"/>
<circle cx="784.8" cy="712.9" r="6.9" fill="#bcdbea"/>
<circle cx="1021.7" cy="494.7" r="6.9" fill="#bcdbea"/>
<circle cx="693.3" cy="768.0" r="6.9" fill="#bcdbea"/>
<circle cx="371.3" cy="298.8" r="6.9" fill="#bcdbea"/>
<circle cx="462.1" cy="343.6" r="6.9" fill="#bcdbea"/>
<circle cx="365.5" cy="332.2" r="6.9" fill="#bcdbea"/>
<circle cx="911.0" cy="527.5" r="6.9" fill="#bcdbea"/>
<circle cx="797.6" cy="973.5" r="6.9" fill="#bcdbea"/>
<circle cx="452.5" cy="382.5" r="6.9" fill="#bcdbea"/>
<circle cx="811.8" cy="704.1" r="6.9" fill="#bcdbea"/>
<circle cx="614.3" cy="226.7" r="6.9" fill="#bcdbea"/>
<circle cx="618.3" cy="335.0" r="6.9" fill="#bcdbea"/>
<circle cx="227.8" cy="327.1" r="6.9" fill="#bcdbea"/>
<circle cx="646.8" cy="882.6" r="6.9" fill="#bcdbea"/>
<circle cx="713.4" cy="744.1" r="6.9" fill="#bcdbea"/>
<circle cx="473.2" cy="242.5" r="6.9" fill="#bcdbea"/>
<circle cx="1037.2" cy="317.2" r="6.9" fill="#bcdbea"/>
<circle cx="793.1" cy="674.2" r="6.9" fill="#bcdbea"/>
<circle cx="451.5" cy="765.6" r="6.9" fill="#bcdbea"/>
<circle cx="602.6" cy="795.0" r="6.9" fill="#bcdbea"/>
<circle cx="935.2" cy="866.1" r="6.9" fill="#bcdbea"/>
<circle cx="809.5" cy="947.5" r="6.9" fill="#bcdbea"/>
<circle cx="364.0" cy="402.6" r="6.9" fill="#bcdbea"/>
<circle cx="689.9" cy="209.5" r="6.9" fill="#bcdbea"/>
<circle cx="391.0" cy="383.6" r="6.9" fill="#bcdbea"/>
<circle cx="546.8" cy="497.5" r="6.9" fill="#bcdbea"/>
<circle cx="636.4" cy="847.9" r="6.9" fill="#bcdbea"/>
<circle cx="638.1" cy="815.3" r="6.9" fill="#bcdbea"/>
<circle cx="416.6" cy="371.6" r="6.9" fill="#bcdbea"/>
<circle cx="501.9" cy="365.6" r="6.9" fill="#bcdbea"/>
<circle cx="445.4" cy="302.8" r="6.9" fill="#bcdbea"/>
<circle cx="227.9" cy="393.3" r="6.9" fill="#bcdbea"/>
<circle cx="623.7" cy="903.5" r="6.9" fill="#bcdbea"/>
<circle cx="284.5" cy="293.2" r="6.9" fill="#bcdbea"/>
<circle cx="267.9" cy="447.8" r="6.9" fill="#bcdbea"/>
<circle cx="323.6" cy="323.5" r="6.9" fill="#bcdbea"/>
<circle cx="366.9" cy="775.6" r="6.9" fill="#bcdbea"/>
<circle cx="367.8" cy="447.6" r="6.9" fill="#bcdbea"/>
<circle cx="425.6" cy="336.5" r="6.9" fill="#bcdbea"/>
<circle cx="903.3" cy="848.5" r="6.9" fill="#bcdbea"/>
<circle cx="797.7" cy="964.5" r="6.9" fill="#bcdbea"/>
<circle cx="352.4" cy="473.7" r="6.9" fill="#bcdbea"/>
<circle cx="608.3" cy="536.3" r="6.9" fill="#bcdbea"/>
<circle cx="453.4" cy="323.0" r="6.9" fill="#bcdbea"/>
<circle cx="855.4" cy="525.2" r="6.9" fill="#bcdbea"/>
<circle cx="605.2" cy="291.6" r="6.9" fill="#bcdbea"/>
<circle cx="915.7" cy="553.1" r="6.9" fill="#bcdbea"/>
<circle cx="746.4" cy="394.3" r="6.9" fill="#bcdbea"/>
<circle cx="854.8" cy="870.1" r="6.9" fill="#bcdbea"/>
<circle cx="607.8" cy="337.6" r="6.9" fill="#bcdbea"/>
<circle cx="351.2" cy="396.5" r="6.9" fill="#bcdbea"/>
<circle cx="945.0" cy="790.5" r="6.9" fill="#bcdbea"/>
<circle cx="326.9" cy="458.4" r="6.9" fill="#bcdbea"/>
<circle cx="582.9" cy="426.9" r="6.9" fill="#bcdbea"/>
<circle cx="592.0" cy="946.4" r="6.9" fill="#bcdbea"/>
<circle cx="386.8" cy="307.5" r="6.9" fill="#bcdbea"/>
<circle cx="1011.7" cy="847.3" r="6.9" fill="#bcdbea"/>
<circle cx="358.4" cy="444.8" r="6.9" fill="#bcdbea"/>
<circle cx="961.3" cy="452.1" r="6.9" fill="#bcdbea"/>
<circle cx="586.9" cy="883.5" r="6.9" fill="#bcdbea"/>
<circle cx="721.2" cy="243.1" r="6.9" fill="#bcdbea"/>
<circle cx="710.3" cy="787.5" r="6.9" fill="#bcdbea"/>
<circle cx="565.9" cy="828.6" r="6.9" fill="#bcdbea"/>
<circle cx="487.3" cy="337.6" r="6.9" fill="#bcdbea"/>
<circle cx="983.2" cy="295.9" r="6.9" fill="#bcdbea"/>
<circle cx="1026.4" cy="315.4" r="6.9" fill="#bcdbea"/>
<circle cx="626.4" cy="306.4" r="6.9" fill="#bcdbea"/>
<circle cx="858.9" cy="874.2" r="6.9" fill="#bcdbea"/>
<circle cx="516.9" cy="466.0" r="6.9" fill="#bcdbea"/>
<circle cx="675.1" cy="243.1" r="6.9" fill="#bcdbea"/>
<circle cx="678.7" cy="1066.5" r="6.9" fill="#bcdbea"/>
<circle cx="475.7" cy="245.5" r="6.9" fill="#bcdbea"/>
<circle cx="355.3" cy="574.2" r="6.9" fill="#bcdbea"/>
<circle cx="286.9" cy="303.6" r="6.9" fill="#bcdbea"/>
<circle cx="1068.6" cy="374.8" r="6.9" fill="#bcdbea"/>
<circle cx="393.5" cy="388.1" r="6.9" fill="#bcdbea"/>
<circle cx="572.2" cy="308.0" r="6.9" fill="#bcdbea"/>
<circle cx="962.1" cy="325.3" r="6.9" fill="#bcdbea"/>
<circle cx="1023.2" cy="315.1" r="6.9" fill="#bcdbea"/>
<circle cx="436.6" cy="857.1" r="6.9" fill="#bcdbea"/>
<circle cx="524.9" cy="214.1" r="6.9" fill="#bcdbea"/>
<circle cx="869.6" cy="865.2" r="6.9" fill="#bcdbea"/>
<circle cx="344.7" cy="285.7" r="6.9" fill="#bcdbea"/>
<circle cx="924.6" cy="811.9" r="6.9" fill="#bcdbea"/>
<circle cx="588.8" cy="494.8" r="6.9" fill="#bcdbea"/>
<circle cx="997.0" cy="794.6" r="6.9" fill="#bcdbea"/>
<circle cx="311.7" cy="355.2" r="6.9" fill="#bcdbea"/>
<circle cx="629.9" cy="689.5" r="6.9" fill="#bcdbea"/>
<circle cx="714.6" cy="366.2" r="6.9" fill="#bcdbea"/>
<circle cx="568.0" cy="844.6" r="6.9" fill="#bcdbea"/>
<circle cx="543.2" cy="357.3" r="6.9" fill="#bcdbea"/>
<circle cx="754.5" cy="253.1" r="6.9" fill="#bcdbea"/>
<circle cx="429.5" cy="402.2" r="6.9" fill="#bcdbea"/>
<circle cx="868.4" cy="811.6" r="6.9" fill="#bcdbea"/>
<circle cx="775.0" cy="916.0" r="6.9" fill="#bcdbea"/>
<circle cx="314.6" cy="511.3" r="6.9" fill="#bcdbea"/>
<circle cx="981.5" cy="843.5" r="6.9" fill="#bcdbea"/>
<circle cx="424.5" cy="326.2" r="6.9" fill="#bcdbea"/>
<circle cx="763.4" cy="315.0" r="6.9" fill="#bcdbea"/>
<circle cx="788.4" cy="676.3" r="6.9" fill="#bcdbea"/>
<circle cx="387.3" cy="503.9" r="6.9" fill="#bcdbea"/>
<circle cx="844.4" cy="365.6" r="6.9" fill="#bcdbea"/>
<circle cx="686.9" cy="887.2" r="6.9" fill="#bcdbea"/>
<circle cx="581.9" cy="527.8" r="6.9" fill="#bcdbea"/>
<circle cx="522.3" cy="466.0" r="6.9" fill="#bcdbea"/>
<circle cx="316.9" cy="412.5" r="6.9" fill="#bcdbea"/>
<circle cx="381.9" cy="471.4" r="6.9" fill="#bcdbea"/>
<circle cx="728.8" cy="854.6" r="6.9" fill="#bcdbea"/>
<circle cx="495.1" cy="282.5" r="6.9" fill="#bcdbea"/>
<circle cx="955.3" cy="852.8" r="6.9" fill="#bcdbea"/>
<circle cx="627.5" cy="464.5" r="6.9" fill="#bcdbea"/>
<circle cx="530.8" cy="222.5" r="6.9" fill="#bcdbea"/>
<circle cx="945.8" cy="388.1" r="6.9" fill="#bcdbea"/>
<circle cx="405.7" cy="865.3" r="6.9" fill="#bcdbea"/>
<circle cx="845.5" cy="893.6" r="6.9" fill="#bcdbea"/>
<circle cx="646.9" cy="843.7" r="6.9" fill="#bcdbea"/>
<circle cx="738.1" cy="773.4" r="6.9" fill="#bcdbea"/>
<circle cx="287.8" cy="468.3" r="6.9" fill="#bcdbea"/>
<circle cx="663.3" cy="203.1" r="6.9" fill="#bcdbea"/>
<circle cx="644.8" cy="1058.3" r="6.9" fill="#bcdbea"/>
<circle cx="556.6" cy="1007.9" r="6.9" fill="#bcdbea"/>
<circle cx="1091.1" cy="482.2" r="6.9" fill="#bcdbea"/>
<circle cx="1054.4" cy="322.7" r="6.9" fill="#bcdbea"/>
<circle cx="1072.3" cy="443.8" r="6.9" fill="#bcdbea"/>
<circle cx="355.1" cy="371.7" r="6.9" fill="#bcdbea"/>
<circle cx="595.1" cy="1068.1" r="6.9" fill="#bcdbea"/>
<circle cx="871.4" cy="806.3" r="6.9" fill="#bcdbea"/>
<circle cx="656.1" cy="1078.6" r="6.9" fill="#bcdbea"/>
<circle cx="634.6" cy="1006.3" r="6.9" fill="#bcdbea"/>
<circle cx="955.9" cy="908.6" r="6.9" fill="#bcdbea"/>
<circle cx="516.9" cy="882.5" r="6.9" fill="#bcdbea"/>
<circle cx="768.0" cy="972.9" r="6.9" fill="#bcdbea"/>
<circle cx="782.6" cy="962.4" r="6.9" fill="#bcdbea"/>
<circle cx="891.3" cy="805.6" r="6.9" fill="#bcdbea"/>
<circle cx="870.7" cy="822.5" r="6.9" fill="#bcdbea"/>
<circle cx="344.6" cy="306.7" r="6.9" fill="#bcdbea"/>
<circle cx="708.5" cy="794.9" r="6.9" fill="#bcdbea"/>
<circle cx="563.1" cy="556.8" r="6.9" fill="#bcdbea"/>
<circle cx="265.3" cy="324.0" r="6.9" fill="#bcdbea"/>
<circle cx="891.7" cy="510.5" r="6.9" fill="#bcdbea"/>
<circle cx="597.8" cy="902.4" r="6.9" fill="#bcdbea"/>
<circle cx="488.0" cy="264.4" r="6.9" fill="#bcdbea"/>
<circle cx="584.0" cy="796.9" r="6.9" fill="#bcdbea"/>
<circle cx="613.2" cy="758.2" r="6.9" fill="#bcdbea"/>
<circle cx="868.8" cy="453.0" r="6.9" fill="#bcdbea"/>
<circle cx="406.9" cy="755.8" r="6.9" fill="#bcdbea"/>
<circle cx="386.0" cy="307.5" r="6.9" fill="#bcdbea"/>
<circle cx="824.3" cy="848.5" r="6.9" fill="#bcdbea"/>
<circle cx="308.8" cy="461.7" r="6.9" fill="#bcdbea"/>
<circle cx="1002.4" cy="336.2" r="6.9" fill="#bcdbea"/>
<circle cx="968.1" cy="629.9" r="6.9" fill="#bcdbea"/>
<circle cx="762.6" cy="297.9" r="6.9" fill="#bcdbea"/>
<circle cx="356.4" cy="437.9" r="6.9" fill="#bcdbea"/>
<circle cx="603.1" cy="782.2" r="6.9" fill="#bcdbea"/>
<circle cx="418.0" cy="274.9" r="6.9" fill="#bcdbea"/>
<circle cx="604.3" cy="214.4" r="6.9" fill="#bcdbea"/>
<circle cx="715.8" cy="707.1" r="6.9" fill="#bcdbea"/>
<circle cx="543.1" cy="272.9" r="6.9" fill="#bcdbea"/>
<circle cx="663.0" cy="236.0" r="6.9" fill="#bcdbea"/>
<circle cx="579.0" cy="796.3" r="6.9" fill="#bcdbea"/>
<circle cx="589.4" cy="334.6" r="6.9" fill="#bcdbea"/>
<circle cx="601.8" cy="281.1" r="6.9" fill="#bcdbea"/>
<circle cx="618.6" cy="1024.0" r="6.9" fill="#bcdbea"/>
<circle cx="1065.4" cy="443.7" r="6.9" fill="#bcdbea"/>
<circle cx="888.7" cy="437.7" r="6.9" fill="#bcdbea"/>
<circle cx="585.7" cy="824.3" r="6.9" fill="#bcdbea"/>
<circle cx="641.3" cy="296.0" r="6.9" fill="#bcdbea"/>
<circle cx="629.3" cy="945.7" r="6.9" fill="#bcdbea"/>
<circle cx="389.6" cy="368.0" r="6.9" fill="#bcdbea"/>
<circle cx="841.2" cy="372.5" r="6.9" fill="#bcdbea"/>
<circle cx="362.8" cy="287.8" r="6.9" fill="#bcdbea"/>
<circle cx="965.4" cy="444.3" r="6.9" fill="#bcdbea"/>
<circle cx="727.6" cy="856.7" r="6.9" fill="#bcdbea"/>
<circle cx="1050.4" cy="287.6" r="6.9" fill="#bcdbea"/>
<circle cx="685.2" cy="426.0" r="6.9" fill="#bcdbea"/>
<circle cx="542.8" cy="251.1" r="6.9" fill="#bcdbea"/>
<circle cx="638.0" cy="463.5" r="6.9" fill="#bcdbea"/>
<circle cx="892.4" cy="893.1" r="6.9" fill="#bcdbea"/>
<circle cx="993.8" cy="828.9" r="6.9" fill="#bcdbea"/>
<circle cx="410.5" cy="311.0" r="6.9" fill="#bcdbea"/>
<circle cx="633.9" cy="1014.1" r="6.9" fill="#bcdbea"/>
<circle cx="398.0" cy="324.8" r="6.9" fill="#bcdbea"/>
<circle cx="866.6" cy="842.8" r="6.9" fill="#bcdbea"/>
<circle cx="592.7" cy="890.1" r="6.9" fill="#bcdbea"/>
<circle cx="884.8" cy="847.0" r="6.9" fill="#bcdbea"/>
<circle cx="406.1" cy="368.1" r="6.9" fill="#bcdbea"/>
<circle cx="1031.7" cy="374.7" r="6.9" fill="#bcdbea"/>
<circle cx="391.4" cy="252.6" r="6.9" fill="#bcdbea"/>
<circle cx="812.5" cy="298.1" r="6.9" fill="#bcdbea"/>
<circle cx="672.8" cy="292.3" r="6.9" fill="#bcdbea"/>
<circle cx="757.8" cy="804.8" r="6.9" fill="#bcdbea"/>
<circle cx="363.3" cy="322.9" r="6.9" fill="#bcdbea"/>
<circle cx="427.3" cy="773.3" r="6.9" fill="#bcdbea"/>
<circle cx="964.5" cy="303.9" r="6.9" fill="#bcdbea"/>
<circle cx="630.4" cy="367.3" r="6.9" fill="#bcdbea"/>
<circle cx="665.3" cy="1054.0" r="6.9" fill="#bcdbea"/>
<circle cx="691.6" cy="868.4" r="6.9" fill="#bcdbea"/>
<circle cx="561.6" cy="1041.4" r="6.9" fill="#bcdbea"/>
<circle cx="928.9" cy="631.0" r="6.9" fill="#bcdbea"/>
<circle cx="593.7" cy="933.1" r="6.9" fill="#bcdbea"/>
<circle cx="697.0" cy="753.5" r="6.9" fill="#bcdbea"/>
<circle cx="767.4" cy="345.2" r="6.9" fill="#bcdbea"/>
<circle cx="833.2" cy="685.0" r="6.9" fill="#bcdbea"/>
<circle cx="818.2" cy="301.5" r="6.9" fill="#bcdbea"/>
<circle cx="333.2" cy="474.7" r="6.9" fill="#bcdbea"/>
<circle cx="618.1" cy="278.3" r="6.9" fill="#bcdbea"/>
<circle cx="467.2" cy="377.9" r="6.9" fill="#bcdbea"/>
<circle cx="812.5" cy="758.3" r="6.9" fill="#bcdbea"/>
<circle cx="766.2" cy="913.5" r="6.9" fill="#bcdbea"/>
<circle cx="707.8" cy="287.4" r="6.9" fill="#bcdbea"/>
<circle cx="896.2" cy="879.0" r="6.9" fill="#bcdbea"/>
<circle cx="671.6" cy="247.6" r="6.9" fill="#bcdbea"/>
<circle cx="712.9" cy="1057.0" r="6.9" fill="#bcdbea"/>
<circle cx="927.3" cy="664.9" r="6.9" fill="#bcdbea"/>
<circle cx="397.3" cy="484.8" r="6.9" fill="#bcdbea"/>
<circle cx="375.1" cy="358.0" r="6.9" fill="#bcdbea"/>
<circle cx="276.0" cy="373.0" r="6.9" fill="#bcdbea"/>
<circle cx="943.5" cy="856.9" r="6.9" fill="#bcdbea"/>
<circle cx="831.8" cy="864.4" r="6.9" fill="#bcdbea"/>
<circle cx="673.7" cy="1037.7" r="6.9" fill="#bcdbea"/>
<circle cx="915.8" cy="842.7" r="6.9" fill="#bcdbea"/>
<circle cx="661.8" cy="453.8" r="6.9" fill="#bcdbea"/>
<circle cx="355.2" cy="316.5" r="6.9" fill="#bcdbea"/>
<circle cx="834.4" cy="288.6" r="6.9" fill="#bcdbea"/>
<circle cx="691.4" cy="836.1" r="6.9" fill="#bcdbea"/>
<circle cx="782.4" cy="912.9" r="6.9" fill="#bcdbea"/>
<circle cx="848.1" cy="786.1" r="6.9" fill="#bcdbea"/>
<circle cx="912.9" cy="786.1" r="6.9" fill="#bcdbea"/>
<circle cx="897.7" cy="426.6" r="6.9" fill="#bcdbea"/>
<circle cx="558.0" cy="333.4" r="6.9" fill="#bcdbea"/>
<circle cx="966.5" cy="836.4" r="6.9" fill="#bcdbea"/>
<circle cx="952.1" cy="321.9" r="6.9" fill="#bcdbea"/>
<circle cx="401.4" cy="478.9" r="6.9" fill="#bcdbea"/>
<circle cx="337.4" cy="497.6" r="6.9" fill="#bcdbea"/>
<circle cx="854.9" cy="511.7" r="6.9" fill="#bcdbea"/>
<circle cx="945.3" cy="438.4" r="6.9" fill="#bcdbea"/>
<circle cx="383.2" cy="926.2" r="6.9" fill="#bcdbea"/>
<circle cx="545.9" cy="867.5" r="6.9" fill="#bcdbea"/>
<circle cx="576.4" cy="945.0" r="6.9" fill="#bcdbea"/>
<circle cx="311.5" cy="324.9" r="6.9" fill="#bcdbea"/>
<circle cx="625.3" cy="385.5" r="6.9" fill="#bcdbea"/>
<circle cx="866.0" cy="952.2" r="6.9" fill="#bcdbea"/>
<circle cx="868.9" cy="851.6" r="6.9" fill="#bcdbea"/>
<circle cx="883.9" cy="843.1" r="6.9" fill="#bcdbea"/>
<circle cx="1003.6" cy="471.4" r="6.9" fill="#bcdbea"/>
<circle cx="891.5" cy="693.3" r="6.9" fill="#bcdbea"/>
<circle cx="422.7" cy="274.3" r="6.9" fill="#bcdbea"/>
<circle cx="855.2" cy="858.1" r="6.9" fill="#bcdbea"/>
<circle cx="451.2" cy="362.0" r="6.9" fill="#bcdbea"/>
<circle cx="708.6" cy="278.3" r="6.9" fill="#bcdbea"/>
<circle cx="309.2" cy="429.8" r="6.9" fill="#bcdbea"/>
<circle cx="611.3" cy="312.4" r="6.9" fill="#bcdbea"/>
<circle cx="602.9" cy="335.4" r="6.9" fill="#bcdbea"/>
<circle cx="595.9" cy="1068.4" r="6.9" fill="#bcdbea"/>
<circle cx="606.9" cy="563.1" r="6.9" fill="#bcdbea"/>
<circle cx="689.9" cy="486.1" r="6.9" fill="#bcdbea"/>
<circle cx="526.4" cy="216.5" r="6.9" fill="#bcdbea"/>
<circle cx="545.3" cy="183.3" r="6.9" fill="#bcdbea"/>
<circle cx="334.4" cy="408.7" r="6.9" fill="#bcdbea"/>
<circle cx="411.8" cy="384.0" r="6.9" fill="#bcdbea"/>
<circle cx="536.3" cy="446.5" r="6.9" fill="#bcdbea"/>
<circle cx="614.4" cy="743.5" r="6.9" fill="#bcdbea"/>
<circle cx="492.3" cy="894.3" r="6.9" fill="#bcdbea"/>
<circle cx="514.4" cy="202.0" r="6.9" fill="#bcdbea"/>
<circle cx="436.5" cy="726.2" r="6.9" fill="#bcdbea"/>
<circle cx="762.4" cy="764.5" r="6.9" fill="#bcdbea"/>
<circle cx="727.5" cy="793.5" r="6.9" fill="#bcdbea"/>
<circle cx="671.9" cy="726.0" r="6.9" fill="#bcdbea"/>
<circle cx="755.2" cy="673.0" r="6.9" fill="#bcdbea"/>
<circle cx="526.8" cy="907.6" r="6.9" fill="#bcdbea"/>
<circle cx="943.6" cy="302.9" r="6.9" fill="#bcdbea"/>
<circle cx="954.7" cy="846.2" r="6.9" fill="#bcdbea"/>
<circle cx="265.7" cy="333.9" r="6.9" fill="#bcdbea"/>
<circle cx="768.4" cy="448.1" r="6.9" fill="#bcdbea"/>
<circle cx="977.5" cy="313.8" r="6.9" fill="#bcdbea"/>
<circle cx="558.9" cy="874.7" r="6.9" fill="#bcdbea"/>
<circle cx="513.4" cy="924.7" r="6.9" fill="#bcdbea"/>
<circle cx="657.1" cy="816.0" r="6.9" fill="#bcdbea"/>
<circle cx="768.9" cy="812.8" r="6.9" fill="#bcdbea"/>
<circle cx="721.4" cy="861.7" r="6.9" fill="#bcdbea"/>
<circle cx="333.8" cy="265.7" r="6.9" fill="#bcdbea"/>
<circle cx="552.7" cy="518.1" r="6.9" fill="#bcdbea"/>
<circle cx="711.5" cy="275.8" r="6.9" fill="#bcdbea"/>
<circle cx="694.7" cy="384.0" r="6.9" fill="#bcdbea"/>
<circle cx="1036.0" cy="276.6" r="6.9" fill="#bcdbea"/>
<circle cx="456.7" cy="395.7" r="6.9" fill="#bcdbea"/>
<circle cx="512.4" cy="922.1" r="6.9" fill="#bcdbea"/>
<circle cx="322.0" cy="315.5" r="6.9" fill="#bcdbea"/>
<circle cx="536.0" cy="563.9" r="6.9" fill="#bcdbea"/>
<circle cx="714.0" cy="407.2" r="6.9" fill="#bcdbea"/>
<circle cx="296.7" cy="457.0" r="6.9" fill="#bcdbea"/>
<circle cx="471.6" cy="374.3" r="6.9" fill="#bcdbea"/>
<circle cx="432.3" cy="258.3" r="6.9" fill="#bcdbea"/>
<circle cx="767.8" cy="521.3" r="6.9" fill="#bcdbea"/>
<circle cx="944.6" cy="847.7" r="6.9" fill="#bcdbea"/>
<circle cx="367.3" cy="416.9" r="6.9" fill="#bcdbea"/>
<circle cx="623.2" cy="527.7" r="6.9" fill="#bcdbea"/>
<circle cx="664.3" cy="796.9" r="6.9" fill="#bcdbea"/>
<circle cx="445.3" cy="254.8" r="6.9" fill="#bcdbea"/>
<circle cx="634.1" cy="263.5" r="6.9" fill="#bcdbea"/>
<circle cx="524.7" cy="1051.5" r="6.9" fill="#bcdbea"/>
<circle cx="710.4" cy="904.5" r="6.9" fill="#bcdbea"/>
<circle cx="587.7" cy="438.0" r="6.9" fill="#bcdbea"/>
<circle cx="305.3" cy="377.2" r="6.9" fill="#bcdbea"/>
<circle cx="262.5" cy="367.1" r="6.9" fill="#bcdbea"/>
<circle cx="566.7" cy="223.9" r="6.9" fill="#bcdbea"/>
<circle cx="729.3" cy="306.5" r="6.9" fill="#bcdbea"/>
<circle cx="684.1" cy="384.0" r="6.9" fill="#bcdbea"/>
<circle cx="283.2" cy="337.4" r="6.9" fill="#bcdbea"/>
<circle cx="667.9" cy="498.9" r="6.9" fill="#bcdbea"/>
<circle cx="566.3" cy="803.6" r="6.9" fill="#bcdbea"/>
<circle cx="493.4" cy="294.8" r="6.9" fill="#bcdbea"/>
<circle cx="875.8" cy="867.0" r="6.9" fill="#bcdbea"/>
<circle cx="747.3" cy="295.4" r="6.9" fill="#bcdbea"/>
<circle cx="809.1" cy="976.4" r="6.9" fill="#bcdbea"/>
<circle cx="634.7" cy="933.8" r="6.9" fill="#bcdbea"/>
<circle cx="597.9" cy="921.5" r="6.9" fill="#bcdbea"/>
<circle cx="516.0" cy="272.4" r="6.9" fill="#bcdbea"/>
<circle cx="493.9" cy="905.0" r="6.9" fill="#bcdbea"/>
<circle cx="329.5" cy="468.2" r="6.9" fill="#bcdbea"/>
<circle cx="626.6" cy="853.1" r="6.9" fill="#bcdbea"/>
<circle cx="703.6" cy="477.2" r="6.9" fill="#bcdbea"/>
<circle cx="1005.9" cy="431.7" r="6.9" fill="#bcdbea"/>
<circle cx="604.0" cy="861.4" r="6.9" fill="#bcdbea"/>
<circle cx="766.6" cy="842.1" r="6.9" fill="#bcdbea"/>
<circle cx="793.5" cy="691.7" r="6.9" fill="#bcdbea"/>
<circle cx="993.1" cy="851.0" r="6.9" fill="#bcdbea"/>
<circle cx="875.9" cy="439.0" r="6.9" fill="#bcdbea"/>
<circle cx="449.4" cy="653.9" r="6.9" fill="#bcdbea"/>
<circle cx="662.6" cy="717.1" r="6.9" fill="#bcdbea"/>
<circle cx="307.7" cy="536.8" r="6.9" fill="#bcdbea"/>
<circle cx="815.1" cy="778.9" r="6.9" fill="#bcdbea"/>
<circle cx="510.2" cy="531.4" r="6.9" fill="#bcdbea"/>
<circle cx="894.7" cy="933.2" r="6.9" fill="#bcdbea"/>
<circle cx="796.0" cy="483.7" r="6.9" fill="#bcdbea"/>
<circle cx="525.9" cy="426.3" r="6.9" fill="#bcdbea"/>
<circle cx="947.1" cy="412.3" r="6.9" fill="#bcdbea"/>
<circle cx="401.3" cy="242.2" r="6.9" fill="#bcdbea"/>
<circle cx="945.0" cy="867.7" r="6.9" fill="#bcdbea"/>
<circle cx="944.3" cy="487.6" r="6.9" fill="#bcdbea"/>
<circle cx="596.1" cy="795.3" r="6.9" fill="#bcdbea"/>
<circle cx="491.3" cy="241.5" r="6.9" fill="#bcdbea"/>
<circle cx="808.8" cy="413.9" r="6.9" fill="#bcdbea"/>
<circle cx="427.8" cy="746.2" r="6.9" fill="#bcdbea"/>
<circle cx="214.9" cy="436.8" r="6.9" fill="#bcdbea"/>
<circle cx="287.3" cy="345.3" r="6.9" fill="#bcdbea"/>
<circle cx="796.8" cy="871.7" r="6.9" fill="#bcdbea"/>
<circle cx="617.2" cy="803.5" r="6.9" fill="#bcdbea"/>
<circle cx="568.8" cy="262.1" r="6.9" fill="#bcdbea"/>
<circle cx="413.7" cy="346.0" r="6.9" fill="#bcdbea"/>
<circle cx="603.8" cy="517.6" r="6.9" fill="#bcdbea"/>
<circle cx="897.2" cy="412.5" r="6.9" fill="#bcdbea"/>
<circle cx="1007.1" cy="325.6" r="6.9" fill="#bcdbea"/>
<circle cx="1027.8" cy="794.6" r="6.9" fill="#bcdbea"/>
<circle cx="398.1" cy="493.2" r="6.9" fill="#bcdbea"/>
<circle cx="547.6" cy="337.3" r="6.9" fill="#bcdbea"/>
<circle cx="835.4" cy="448.5" r="6.9" fill="#bcdbea"/>
<circle cx="234.3" cy="436.7" r="6.9" fill="#bcdbea"/>
<circle cx="866.0" cy="935.6" r="6.9" fill="#bcdbea"/>
<circle cx="663.2" cy="266.0" r="6.9" fill="#bcdbea"/>
<circle cx="725.4" cy="294.1" r="6.9" fill="#bcdbea"/>
<circle cx="884.5" cy="517.7" r="6.9" fill="#bcdbea"/>
<circle cx="913.9" cy="328.1" r="6.9" fill="#bcdbea"/>
<circle cx="791.1" cy="266.7" r="6.9" fill="#bcdbea"/>
<circle cx="955.9" cy="423.7" r="6.9" fill="#bcdbea"/>
<circle cx="445.8" cy="811.9" r="6.9" fill="#bcdbea"/>
<circle cx="915.6" cy="330.5" r="6.9" fill="#bcdbea"/>
<circle cx="544.0" cy="1015.9" r="6.9" fill="#bcdbea"/>
<circle cx="970.3" cy="837.7" r="6.9" fill="#bcdbea"/>
<circle cx="472.4" cy="844.6" r="6.9" fill="#bcdbea"/>
<circle cx="551.2" cy="311.9" r="6.9" fill="#bcdbea"/>
<circle cx="408.8" cy="446.0" r="6.9" fill="#bcdbea"/>
<circle cx="395.4" cy="945.1" r="6.9" fill="#bcdbea"/>
<circle cx="551.5" cy="277.9" r="6.9" fill="#bcdbea"/>
<circle cx="595.7" cy="773.2" r="6.9" fill="#bcdbea"/>
<circle cx="606.7" cy="1067.0" r="6.9" fill="#bcdbea"/>
<circle cx="577.6" cy="452.8" r="6.9" fill="#bcdbea"/>
<circle cx="322.0" cy="403.7" r="6.9" fill="#bcdbea"/>
<circle cx="332.0" cy="446.1" r="6.9" fill="#bcdbea"/>
<circle cx="914.8" cy="317.4" r="6.9" fill="#bcdbea"/>
<circle cx="596.2" cy="823.4" r="6.9" fill="#bcdbea"/>
<circle cx="1037.6" cy="292.9" r="6.9" fill="#bcdbea"/>
<circle cx="313.0" cy="554.2" r="6.9" fill="#bcdbea"/>
<circle cx="584.9" cy="875.3" r="6.9" fill="#bcdbea"/>
<circle cx="858.0" cy="532.1" r="6.9" fill="#bcdbea"/>
<circle cx="553.6" cy="885.8" r="6.9" fill="#bcdbea"/>
<circle cx="805.2" cy="764.7" r="6.9" fill="#bcdbea"/>
<circle cx="402.0" cy="247.7" r="6.9" fill="#bcdbea"/>
<circle cx="867.8" cy="802.5" r="6.9" fill="#bcdbea"/>
<circle cx="794.0" cy="813.9" r="6.9" fill="#bcdbea"/>
<circle cx="968.9" cy="645.7" r="6.9" fill="#bcdbea"/>
<circle cx="810.6" cy="312.1" r="6.9" fill="#bcdbea"/>
<circle cx="773.9" cy="903.1" r="6.9" fill="#bcdbea"/>
<circle cx="945.3" cy="292.0" r="6.9" fill="#bcdbea"/>
<circle cx="672.7" cy="735.4" r="6.9" fill="#bcdbea"/>
<circle cx="305.8" cy="356.1" r="6.9" fill="#bcdbea"/>
<circle cx="1047.0" cy="299.0" r="6.9" fill="#bcdbea"/>
<circle cx="666.9" cy="707.2" r="6.9" fill="#bcdbea"/>
<circle cx="843.9" cy="583.6" r="6.9" fill="#bcdbea"/>
<circle cx="559.0" cy="893.5" r="6.9" fill="#bcdbea"/>
<circle cx="582.9" cy="231.5" r="6.9" fill="#bcdbea"/>
<circle cx="1022.3" cy="447.3" r="6.9" fill="#bcdbea"/>
<circle cx="632.0" cy="783.9" r="6.9" fill="#bcdbea"/>
<circle cx="776.2" cy="253.6" r="6.9" fill="#bcdbea"/>
<circle cx="933.6" cy="324.6" r="6.9" fill="#bcdbea"/>
<circle cx="1015.4" cy="286.0" r="6.9" fill="#bcdbea"/>
<circle cx="676.2" cy="267.4" r="6.9" fill="#bcdbea"/>
<circle cx="1071.9" cy="482.7" r="6.9" fill="#bcdbea"/>
<circle cx="844.8" cy="813.8" r="6.9" fill="#bcdbea"/>
<circle cx="672.4" cy="774.7" r="6.9" fill="#bcdbea"/>
<circle cx="749.7" cy="987.0" r="6.9" fill="#bcdbea"/>
<circle cx="652.0" cy="282.3" r="6.9" fill="#bcdbea"/>
<circle cx="561.1" cy="1057.1" r="6.9" fill="#bcdbea"/>
<circle cx="328.9" cy="341.7" r="6.9" fill="#bcdbea"/>
<circle cx="692.8" cy="755.0" r="6.9" fill="#bcdbea"/>
<circle cx="351.0" cy="783.0" r="6.9" fill="#bcdbea"/>
<circle cx="562.9" cy="247.6" r="6.9" fill="#dbe9f2"/>
<circle cx="267.4" cy="293.3" r="6.9" fill="#dbe9f2"/>
<circle cx="655.8" cy="773.0" r="6.9" fill="#dbe9f2"/>
<circle cx="286.9" cy="442.7" r="6.9" fill="#dbe9f2"/>
<circle cx="682.9" cy="248.6" r="6.9" fill="#dbe9f2"/>
<circle cx="514.1" cy="243.4" r="6.9" fill="#dbe9f2"/>
<circle cx="872.8" cy="709.0" r="6.9" fill="#dbe9f2"/>
<circle cx="568.1" cy="783.5" r="6.9" fill="#dbe9f2"/>
<circle cx="423.5" cy="310.5" r="6.9" fill="#dbe9f2"/>
<circle cx="702.8" cy="806.5" r="6.9" fill="#dbe9f2"/>
<circle cx="522.9" cy="374.4" r="6.9" fill="#dbe9f2"/>
<circle cx="795.2" cy="994.5" r="6.9" fill="#dbe9f2"/>
<circle cx="365.8" cy="513.0" r="6.9" fill="#dbe9f2"/>
<circle cx="503.8" cy="457.3" r="6.9" fill="#dbe9f2"/>
<circle cx="226.4" cy="350.3" r="6.9" fill="#dbe9f2"/>
<circle cx="356.6" cy="464.7" r="6.9" fill="#dbe9f2"/>
<circle cx="993.0" cy="493.2" r="6.9" fill="#dbe9f2"/>
<circle cx="623.5" cy="782.7" r="6.9" fill="#dbe9f2"/>
<circle cx="791.4" cy="968.2" r="6.9" fill="#dbe9f2"/>
<circle cx="777.8" cy="886.0" r="6.9" fill="#dbe9f2"/>
<circle cx="437.1" cy="262.2" r="6.9" fill="#dbe9f2"/>
<circle cx="523.5" cy="952.1" r="6.9" fill="#dbe9f2"/>
<circle cx="547.0" cy="291.7" r="6.9" fill="#dbe9f2"/>
<circle cx="607.5" cy="818.8" r="6.9" fill="#dbe9f2"/>
<circle cx="477.9" cy="268.4" r="6.9" fill="#dbe9f2"/>
<circle cx="343.4" cy="276.4" r="6.9" fill="#dbe9f2"/>
<circle cx="411.9" cy="282.5" r="6.9" fill="#dbe9f2"/>
<circle cx="364.8" cy="374.7" r="6.9" fill="#dbe9f2"/>
<circle cx="895.3" cy="866.2" r="6.9" fill="#dbe9f2"/>
<circle cx="561.7" cy="274.8" r="6.9" fill="#dbe9f2"/>
<circle cx="317.2" cy="522.7" r="6.9" fill="#dbe9f2"/>
<circle cx="834.0" cy="856.8" r="6.9" fill="#dbe9f2"/>
<circle cx="505.1" cy="426.8" r="6.9" fill="#dbe9f2"/>
<circle cx="768.6" cy="312.3" r="6.9" fill="#dbe9f2"/>
<circle cx="541.5" cy="891.7" r="6.9" fill="#dbe9f2"/>
<circle cx="781.4" cy="832.3" r="6.9" fill="#dbe9f2"/>
<circle cx="371.7" cy="923.1" r="6.9" fill="#dbe9f2"/>
<circle cx="936.3" cy="846.4" r="6.9" fill="#dbe9f2"/>
<circle cx="1073.9" cy="411.5" r="6.9" fill="#dbe9f2"/>
<circle cx="632.4" cy="293.0" r="6.9" fill="#dbe9f2"/>
<circle cx="485.8" cy="374.0" r="6.9" fill="#dbe9f2"/>
<circle cx="1078.4" cy="463.3" r="6.9" fill="#dbe9f2"/>
<circle cx="455.6" cy="301.9" r="6.9" fill="#dbe9f2"/>
<circle cx="863.9" cy="387.2" r="6.9" fill="#dbe9f2"/>
<circle cx="873.2" cy="413.4" r="6.9" fill="#dbe9f2"/>
<circle cx="686.8" cy="246.8" r="6.9" fill="#dbe9f2"/>
<circle cx="411.3" cy="423.4" r="6.9" fill="#dbe9f2"/>
<circle cx="709.0" cy="1016.8" r="6.9" fill="#dbe9f2"/>
<circle cx="786.7" cy="834.0" r="6.9" fill="#dbe9f2"/>
<circle cx="692.4" cy="794.7" r="6.9" fill="#dbe9f2"/>
<circle cx="792.2" cy="921.5" r="6.9" fill="#dbe9f2"/>
<circle cx="787.3" cy="986.3" r="6.9" fill="#dbe9f2"/>
<circle cx="746.8" cy="867.8" r="6.9" fill="#dbe9f2"/>
<circle cx="578.5" cy="285.1" r="6.9" fill="#dbe9f2"/>
<circle cx="733.7" cy="772.9" r="6.9" fill="#dbe9f2"/>
<circle cx="426.9" cy="438.2" r="6.9" fill="#dbe9f2"/>
<circle cx="666.2" cy="314.2" r="6.9" fill="#dbe9f2"/>
<circle cx="1043.0" cy="349.4" r="6.9" fill="#dbe9f2"/>
<circle cx="877.2" cy="895.9" r="6.9" fill="#dbe9f2"/>
<circle cx="564.5" cy="255.2" r="6.9" fill="#dbe9f2"/>
<circle cx="296.0" cy="374.5" r="6.9" fill="#dbe9f2"/>
<circle cx="672.8" cy="206.2" r="6.9" fill="#dbe9f2"/>
<circle cx="1075.2" cy="305.0" r="6.9" fill="#dbe9f2"/>
<circle cx="845.2" cy="307.7" r="6.9" fill="#dbe9f2"/>
<circle cx="1028.2" cy="298.0" r="6.9" fill="#dbe9f2"/>
<circle cx="438.3" cy="296.0" r="6.9" fill="#dbe9f2"/>
<circle cx="662.1" cy="295.9" r="6.9" fill="#dbe9f2"/>
<circle cx="808.9" cy="587.0" r="6.9" fill="#dbe9f2"/>
<circle cx="881.8" cy="828.7" r="6.9" fill="#dbe9f2"/>
<circle cx="793.8" cy="294.2" r="6.9" fill="#dbe9f2"/>
<circle cx="1063.1" cy="316.8" r="6.9" fill="#dbe9f2"/>
<circle cx="886.2" cy="431.9" r="6.9" fill="#dbe9f2"/>
<circle cx="824.3" cy="325.0" r="6.9" fill="#dbe9f2"/>
<circle cx="622.2" cy="285.1" r="6.9" fill="#dbe9f2"/>
<circle cx="587.0" cy="847.4" r="6.9" fill="#dbe9f2"/>
<circle cx="1098.0" cy="496.6" r="6.9" fill="#dbe9f2"/>
<circle cx="413.4" cy="225.9" r="6.9" fill="#dbe9f2"/>
<circle cx="997.0" cy="314.0" r="6.9" fill="#dbe9f2"/>
<circle cx="432.8" cy="337.0" r="6.9" fill="#dbe9f2"/>
<circle cx="566.5" cy="747.9" r="6.9" fill="#dbe9f2"/>
<circle cx="262.8" cy="327.0" r="6.9" fill="#dbe9f2"/>
<circle cx="651.7" cy="942.1" r="6.9" fill="#dbe9f2"/>
<circle cx="345.5" cy="437.2" r="6.9" fill="#dbe9f2"/>
<circle cx="873.3" cy="809.0" r="6.9" fill="#dbe9f2"/>
<circle cx="938.8" cy="642.7" r="6.9" fill="#dbe9f2"/>
<circle cx="504.8" cy="897.4" r="6.9" fill="#dbe9f2"/>
<circle cx="682.6" cy="265.2" r="6.9" fill="#dbe9f2"/>
<circle cx="628.1" cy="737.5" r="6.9" fill="#dbe9f2"/>
<circle cx="658.0" cy="863.9" r="6.9" fill="#dbe9f2"/>
<circle cx="262.9" cy="372.4" r="6.9" fill="#dbe9f2"/>
<circle cx="891.2" cy="826.9" r="6.9" fill="#dbe9f2"/>
<circle cx="965.6" cy="328.3" r="6.9" fill="#dbe9f2"/>
<circle cx="846.2" cy="650.9" r="6.9" fill="#dbe9f2"/>
<circle cx="330.2" cy="446.6" r="6.9" fill="#dbe9f2"/>
<circle cx="518.0" cy="356.9" r="6.9" fill="#dbe9f2"/>
<circle cx="717.6" cy="754.5" r="6.9" fill="#dbe9f2"/>
<circle cx="837.8" cy="844.4" r="6.9" fill="#dbe9f2"/>
<circle cx="572.5" cy="484.6" r="6.9" fill="#dbe9f2"/>
<circle cx="1117.0" cy="495.5" r="6.9" fill="#dbe9f2"/>
<circle cx="407.8" cy="351.6" r="6.9" fill="#dbe9f2"/>
<circle cx="1048.0" cy="464.2" r="6.9" fill="#dbe9f2"/>
<circle cx="503.2" cy="783.5" r="6.9" fill="#dbe9f2"/>
<circle cx="936.0" cy="928.3" r="6.9" fill="#dbe9f2"/>
<circle cx="857.6" cy="336.2" r="6.9" fill="#dbe9f2"/>
<circle cx="430.0" cy="231.0" r="6.9" fill="#dbe9f2"/>
<circle cx="850.9" cy="774.5" r="6.9" fill="#dbe9f2"/>
<circle cx="538.8" cy="922.6" r="6.9" fill="#dbe9f2"/>
<circle cx="373.7" cy="443.4" r="6.9" fill="#dbe9f2"/>
<circle cx="422.8" cy="372.7" r="6.9" fill="#dbe9f2"/>
<circle cx="398.6" cy="456.1" r="6.9" fill="#dbe9f2"/>
<circle cx="665.3" cy="346.0" r="6.9" fill="#dbe9f2"/>
<circle cx="865.4" cy="378.4" r="6.9" fill="#dbe9f2"/>
<circle cx="543.0" cy="302.5" r="6.9" fill="#dbe9f2"/>
<circle cx="855.0" cy="328.2" r="6.9" fill="#dbe9f2"/>
<circle cx="442.4" cy="257.3" r="6.9" fill="#dbe9f2"/>
<circle cx="521.7" cy="326.7" r="6.9" fill="#dbe9f2"/>
<circle cx="915.5" cy="407.1" r="6.9" fill="#dbe9f2"/>
<circle cx="378.2" cy="531.2" r="6.9" fill="#dbe9f2"/>
<circle cx="557.1" cy="944.6" r="6.9" fill="#dbe9f2"/>
<circle cx="505.6" cy="221.3" r="6.9" fill="#dbe9f2"/>
<circle cx="550.9" cy="306.6" r="6.9" fill="#dbe9f2"/>
<circle cx="629.4" cy="214.5" r="6.9" fill="#dbe9f2"/>
<circle cx="768.3" cy="736.7" r="6.9" fill="#dbe9f2"/>
<circle cx="904.6" cy="536.1" r="6.9" fill="#dbe9f2"/>
<circle cx="538.6" cy="306.8" r="6.9" fill="#dbe9f2"/>
<circle cx="895.4" cy="883.8" r="6.9" fill="#dbe9f2"/>
<circle cx="812.3" cy="762.6" r="6.9" fill="#dbe9f2"/>
<circle cx="1068.1" cy="483.6" r="6.9" fill="#dbe9f2"/>
<circle cx="514.5" cy="449.1" r="6.9" fill="#dbe9f2"/>
<circle cx="518.1" cy="452.9" r="6.9" fill="#dbe9f2"/>
<circle cx="692.9" cy="331.6" r="6.9" fill="#dbe9f2"/>
<circle cx="905.6" cy="536.9" r="6.9" fill="#dbe9f2"/>
<circle cx="623.2" cy="845.4" r="6.9" fill="#dbe9f2"/>
<circle cx="449.0" cy="372.5" r="6.9" fill="#dbe9f2"/>
<circle cx="495.3" cy="392.4" r="6.9" fill="#dbe9f2"/>
<circle cx="447.3" cy="277.7" r="6.9" fill="#dbe9f2"/>
<circle cx="953.6" cy="852.8" r="6.9" fill="#dbe9f2"/>
<circle cx="394.7" cy="353.6" r="6.9" fill="#dbe9f2"/>
<circle cx="937.5" cy="625.3" r="6.9" fill="#dbe9f2"/>
<circle cx="993.3" cy="430.5" r="6.9" fill="#dbe9f2"/>
<circle cx="358.4" cy="381.7" r="6.9" fill="#dbe9f2"/>
<circle cx="282.6" cy="432.6" r="6.9" fill="#dbe9f2"/>
<circle cx="603.0" cy="276.1" r="6.9" fill="#dbe9f2"/>
<circle cx="1035.0" cy="268.0" r="6.9" fill="#dbe9f2"/>
<circle cx="376.5" cy="315.8" r="6.9" fill="#dbe9f2"/>
<circle cx="664.8" cy="1006.4" r="6.9" fill="#dbe9f2"/>
<circle cx="991.7" cy="427.2" r="6.9" fill="#dbe9f2"/>
<circle cx="802.0" cy="305.6" r="6.9" fill="#dbe9f2"/>
<circle cx="693.0" cy="288.1" r="6.9" fill="#dbe9f2"/>
<circle cx="350.5" cy="528.6" r="6.9" fill="#dbe9f2"/>
<circle cx="426.3" cy="528.7" r="6.9" fill="#dbe9f2"/>
<circle cx="356.4" cy="375.2" r="6.9" fill="#dbe9f2"/>
<circle cx="717.8" cy="1018.0" r="6.9" fill="#dbe9f2"/>
<circle cx="823.7" cy="438.6" r="6.9" fill="#dbe9f2"/>
<circle cx="443.8" cy="814.3" r="6.9" fill="#dbe9f2"/>
<circle cx="695.0" cy="776.0" r="6.9" fill="#dbe9f2"/>
<circle cx="688.5" cy="333.1" r="6.9" fill="#dbe9f2"/>
<circle cx="306.7" cy="518.2" r="6.9" fill="#dbe9f2"/>
<circle cx="1005.7" cy="465.7" r="6.9" fill="#dbe9f2"/>
<circle cx="288.9" cy="404.5" r="6.9" fill="#dbe9f2"/>
<circle cx="667.6" cy="716.5" r="6.9" fill="#dbe9f2"/>
<circle cx="348.8" cy="725.8" r="6.9" fill="#dbe9f2"/>
<circle cx="581.2" cy="953.5" r="6.9" fill="#dbe9f2"/>
<circle cx="783.6" cy="822.6" r="6.9" fill="#dbe9f2"/>
<circle cx="902.1" cy="891.3" r="6.9" fill="#dbe9f2"/>
<circle cx="934.0" cy="303.7" r="6.9" fill="#dbe9f2"/>
<circle cx="584.6" cy="833.7" r="6.9" fill="#dbe9f2"/>
<circle cx="421.7" cy="245.1" r="6.9" fill="#dbe9f2"/>
<circle cx="1026.8" cy="492.3" r="6.9" fill="#dbe9f2"/>
<circle cx="525.7" cy="947.1" r="6.9" fill="#dbe9f2"/>
<circle cx="581.7" cy="866.2" r="6.9" fill="#dbe9f2"/>
<circle cx="688.2" cy="377.4" r="6.9" fill="#dbe9f2"/>
<circle cx="1048.7" cy="429.3" r="6.9" fill="#dbe9f2"/>
<circle cx="906.6" cy="836.8" r="6.9" fill="#dbe9f2"/>
<circle cx="406.8" cy="434.5" r="6.9" fill="#dbe9f2"/>
<circle cx="778.3" cy="498.6" r="6.9" fill="#dbe9f2"/>
<circle cx="574.7" cy="332.9" r="6.9" fill="#dbe9f2"/>
<circle cx="784.2" cy="311.5" r="6.9" fill="#dbe9f2"/>
<circle cx="585.9" cy="238.2" r="6.9" fill="#dbe9f2"/>
<circle cx="1072.5" cy="352.8" r="6.9" fill="#dbe9f2"/>
<circle cx="742.9" cy="282.0" r="6.9" fill="#dbe9f2"/>
<circle cx="713.8" cy="791.3" r="6.9" fill="#dbe9f2"/>
<circle cx="795.7" cy="974.8" r="6.9" fill="#dbe9f2"/>
<circle cx="547.6" cy="207.8" r="6.9" fill="#dbe9f2"/>
<circle cx="984.4" cy="335.3" r="6.9" fill="#dbe9f2"/>
<circle cx="923.0" cy="324.1" r="6.9" fill="#dbe9f2"/>
<circle cx="893.7" cy="391.6" r="6.9" fill="#dbe9f2"/>
<circle cx="827.7" cy="894.0" r="6.9" fill="#dbe9f2"/>
<circle cx="852.5" cy="417.5" r="6.9" fill="#dbe9f2"/>
<circle cx="405.1" cy="258.2" r="6.9" fill="#dbe9f2"/>
<circle cx="606.7" cy="763.1" r="6.9" fill="#dbe9f2"/>
<circle cx="487.3" cy="285.0" r="6.9" fill="#dbe9f2"/>
<circle cx="853.5" cy="865.2" r="6.9" fill="#dbe9f2"/>
<circle cx="306.0" cy="307.6" r="6.9" fill="#dbe9f2"/>
<circle cx="734.4" cy="317.6" r="6.9" fill="#dbe9f2"/>
<circle cx="385.6" cy="458.1" r="6.9" fill="#dbe9f2"/>
<circle cx="476.7" cy="322.2" r="6.9" fill="#dbe9f2"/>
<circle cx="616.4" cy="803.6" r="6.9" fill="#dbe9f2"/>
<circle cx="556.0" cy="809.2" r="6.9" fill="#dbe9f2"/>
<circle cx="564.8" cy="648.3" r="6.9" fill="#dbe9f2"/>
<circle cx="430.4" cy="234.1" r="6.9" fill="#dbe9f2"/>
<circle cx="1018.7" cy="798.0" r="6.9" fill="#dbe9f2"/>
<circle cx="605.1" cy="1048.2" r="6.9" fill="#dbe9f2"/>
<circle cx="1004.1" cy="782.8" r="6.9" fill="#dbe9f2"/>
<circle cx="710.8" cy="343.4" r="6.9" fill="#dbe9f2"/>
<circle cx="932.7" cy="927.7" r="6.9" fill="#dbe9f2"/>
<circle cx="832.1" cy="424.9" r="6.9" fill="#dbe9f2"/>
<circle cx="701.2" cy="287.9" r="6.9" fill="#dbe9f2"/>
<circle cx="757.8" cy="262.9" r="6.9" fill="#dbe9f2"/>
<circle cx="602.8" cy="262.5" r="6.9" fill="#dbe9f2"/>
<circle cx="491.9" cy="875.0" r="6.9" fill="#dbe9f2"/>
<circle cx="817.2" cy="805.7" r="6.9" fill="#dbe9f2"/>
<circle cx="373.8" cy="302.6" r="6.9" fill="#dbe9f2"/>
<circle cx="976.7" cy="303.4" r="6.9" fill="#dbe9f2"/>
<circle cx="571.3" cy="1026.6" r="6.9" fill="#dbe9f2"/>
<circle cx="377.6" cy="317.4" r="6.9" fill="#dbe9f2"/>
<circle cx="277.4" cy="332.6" r="6.9" fill="#dbe9f2"/>
<circle cx="846.0" cy="802.8" r="6.9" fill="#dbe9f2"/>
<circle cx="412.3" cy="437.9" r="6.9" fill="#dbe9f2"/>
<circle cx="588.0" cy="307.4" r="6.9" fill="#dbe9f2"/>
<circle cx="216.2" cy="425.4" r="6.9" fill="#dbe9f2"/>
<circle cx="656.2" cy="205.9" r="6.9" fill="#dbe9f2"/>
<circle cx="438.8" cy="281.3" r="6.9" fill="#dbe9f2"/>
<circle cx="502.5" cy="343.1" r="6.9" fill="#dbe9f2"/>
<circle cx="267.6" cy="315.5" r="6.9" fill="#dbe9f2"/>
<circle cx="1048.6" cy="477.6" r="6.9" fill="#dbe9f2"/>
<circle cx="625.8" cy="829.5" r="6.9" fill="#dbe9f2"/>
<circle cx="797.5" cy="847.1" r="6.9" fill="#dbe9f2"/>
<circle cx="515.5" cy="334.6" r="6.9" fill="#dbe9f2"/>
<circle cx="795.8" cy="915.0" r="6.9" fill="#dbe9f2"/>
<circle cx="1034.2" cy="301.3" r="6.9" fill="#dbe9f2"/>
<circle cx="1013.1" cy="462.9" r="6.9" fill="#dbe9f2"/>
<circle cx="604.3" cy="785.3" r="6.9" fill="#dbe9f2"/>
<circle cx="603.6" cy="424.5" r="6.9" fill="#dbe9f2"/>
<circle cx="352.4" cy="401.4" r="6.9" fill="#dbe9f2"/>
<circle cx="790.4" cy="367.8" r="6.9" fill="#dbe9f2"/>
<circle cx="396.1" cy="258.9" r="6.9" fill="#dbe9f2"/>
<circle cx="895.7" cy="435.6" r="6.9" fill="#dbe9f2"/>
<circle cx="884.2" cy="867.3" r="6.9" fill="#dbe9f2"/>
<circle cx="343.0" cy="401.3" r="6.9" fill="#dbe9f2"/>
<circle cx="293.6" cy="443.3" r="6.9" fill="#dbe9f2"/>
<circle cx="802.4" cy="768.8" r="6.9" fill="#dbe9f2"/>
<circle cx="732.4" cy="255.5" r="6.9" fill="#dbe9f2"/>
<circle cx="928.9" cy="427.1" r="6.9" fill="#dbe9f2"/>
<circle cx="636.2" cy="773.2" r="6.9" fill="#dbe9f2"/>
<circle cx="828.0" cy="294.8" r="6.9" fill="#dbe9f2"/>
<circle cx="1067.7" cy="352.9" r="6.9" fill="#dbe9f2"/>
<circle cx="354.3" cy="326.3" r="6.9" fill="#dbe9f2"/>
<circle cx="847.6" cy="537.6" r="6.9" fill="#dbe9f2"/>
<circle cx="383.6" cy="294.2" r="6.9" fill="#dbe9f2"/>
<circle cx="314.3" cy="366.6" r="6.9" fill="#dbe9f2"/>
<circle cx="385.9" cy="375.0" r="6.9" fill="#dbe9f2"/>
<circle cx="432.4" cy="248.2" r="6.9" fill="#dbe9f2"/>
<circle cx="903.7" cy="327.9" r="6.9" fill="#dbe9f2"/>
<circle cx="882.1" cy="889.0" r="6.9" fill="#dbe9f2"/>
<circle cx="766.9" cy="725.9" r="6.9" fill="#dbe9f2"/>
<circle cx="453.8" cy="274.9" r="6.9" fill="#dbe9f2"/>
<circle cx="413.0" cy="477.8" r="6.9" fill="#dbe9f2"/>
<circle cx="275.1" cy="348.7" r="6.9" fill="#dbe9f2"/>
<circle cx="372.7" cy="261.6" r="6.9" fill="#dbe9f2"/>
<circle cx="779.0" cy="871.7" r="6.9" fill="#dbe9f2"/>
<circle cx="794.4" cy="724.0" r="6.9" fill="#dbe9f2"/>
<circle cx="969.0" cy="845.0" r="6.9" fill="#dbe9f2"/>
<circle cx="1050.9" cy="393.5" r="6.9" fill="#dbe9f2"/>
<circle cx="801.9" cy="318.7" r="6.9" fill="#dbe9f2"/>
<circle cx="741.4" cy="707.2" r="6.9" fill="#dbe9f2"/>
<circle cx="488.8" cy="316.2" r="6.9" fill="#dbe9f2"/>
<circle cx="421.1" cy="328.5" r="6.9" fill="#dbe9f2"/>
<circle cx="693.3" cy="735.1" r="6.9" fill="#dbe9f2"/>
<circle cx="673.7" cy="773.6" r="6.9" fill="#dbe9f2"/>
<circle cx="961.6" cy="783.4" r="6.9" fill="#dbe9f2"/>
<circle cx="663.6" cy="1036.4" r="6.9" fill="#dbe9f2"/>
<circle cx="604.7" cy="225.1" r="6.9" fill="#dbe9f2"/>
<circle cx="647.4" cy="806.9" r="6.9" fill="#dbe9f2"/>
<circle cx="686.0" cy="877.7" r="6.9" fill="#dbe9f2"/>
<circle cx="785.3" cy="284.2" r="6.9" fill="#dbe9f2"/>
<circle cx="1052.3" cy="435.2" r="6.9" fill="#dbe9f2"/>
<circle cx="323.1" cy="570.4" r="6.9" fill="#dbe9f2"/>
<circle cx="742.9" cy="862.2" r="6.9" fill="#dbe9f2"/>
<circle cx="655.7" cy="701.1" r="6.9" fill="#dbe9f2"/>
<circle cx="843.0" cy="892.4" r="6.9" fill="#dbe9f2"/>
<circle cx="703.8" cy="365.3" r="6.9" fill="#dbe9f2"/>
<circle cx="623.7" cy="223.3" r="6.9" fill="#dbe9f2"/>
<circle cx="308.6" cy="315.0" r="6.9" fill="#dbe9f2"/>
<circle cx="813.8" cy="322.5" r="6.9" fill="#dbe9f2"/>
<circle cx="766.1" cy="907.1" r="6.9" fill="#dbe9f2"/>
<circle cx="904.1" cy="523.9" r="6.9" fill="#dbe9f2"/>
<circle cx="1116.7" cy="506.4" r="6.9" fill="#dbe9f2"/>
<circle cx="367.1" cy="535.1" r="6.9" fill="#dbe9f2"/>
<circle cx="635.1" cy="281.2" r="6.9" fill="#dbe9f2"/>
<circle cx="845.2" cy="874.2" r="6.9" fill="#dbe9f2"/>
<circle cx="295.6" cy="462.0" r="6.9" fill="#dbe9f2"/>
<circle cx="1042.5" cy="352.5" r="6.9" fill="#dbe9f2"/>
<circle cx="844.8" cy="434.3" r="6.9" fill="#dbe9f2"/>
<circle cx="341.3" cy="378.3" r="6.9" fill="#dbe9f2"/>
<circle cx="907.1" cy="867.8" r="6.9" fill="#dbe9f2"/>
<circle cx="392.9" cy="414.8" r="6.9" fill="#dbe9f2"/>
<circle cx="325.3" cy="432.8" r="6.9" fill="#dbe9f2"/>
<circle cx="751.3" cy="823.8" r="6.9" fill="#dbe9f2"/>
<circle cx="352.4" cy="537.2" r="6.9" fill="#dbe9f2"/>
<circle cx="991.8" cy="793.8" r="6.9" fill="#dbe9f2"/>
<circle cx="305.7" cy="545.7" r="6.9" fill="#dbe9f2"/>
<circle cx="813.4" cy="917.6" r="6.9" fill="#dbe9f2"/>
<circle cx="365.4" cy="517.8" r="6.9" fill="#dbe9f2"/>
<circle cx="874.7" cy="307.0" r="6.9" fill="#dbe9f2"/>
<circle cx="403.6" cy="383.7" r="6.9" fill="#dbe9f2"/>
<circle cx="422.5" cy="328.3" r="6.9" fill="#dbe9f2"/>
<circle cx="684.2" cy="228.9" r="6.9" fill="#dbe9f2"/>
<circle cx="487.6" cy="274.8" r="6.9" fill="#dbe9f2"/>
<circle cx="416.7" cy="791.1" r="6.9" fill="#dbe9f2"/>
<circle cx="256.6" cy="418.0" r="6.9" fill="#dbe9f2"/>
<circle cx="517.9" cy="913.7" r="6.9" fill="#dbe9f2"/>
<circle cx="528.7" cy="336.4" r="6.9" fill="#dbe9f2"/>
<circle cx="866.0" cy="357.6" r="6.9" fill="#dbe9f2"/>
<circle cx="1044.3" cy="441.3" r="6.9" fill="#dbe9f2"/>
<circle cx="594.9" cy="238.3" r="6.9" fill="#dbe9f2"/>
<circle cx="645.9" cy="762.1" r="6.9" fill="#dbe9f2"/>
<circle cx="537.3" cy="246.2" r="6.9" fill="#dbe9f2"/>
<circle cx="452.3" cy="291.5" r="6.9" fill="#dbe9f2"/>
<circle cx="648.7" cy="318.9" r="6.9" fill="#dbe9f2"/>
<circle cx="272.4" cy="312.3" r="6.9" fill="#dbe9f2"/>
<circle cx="1091.4" cy="508.1" r="6.9" fill="#dbe9f2"/>
<circle cx="952.4" cy="418.2" r="6.9" fill="#dbe9f2"/>
<circle cx="854.6" cy="421.1" r="6.9" fill="#dbe9f2"/>
<circle cx="965.2" cy="792.1" r="6.9" fill="#dbe9f2"/>
<circle cx="343.1" cy="348.3" r="6.9" fill="#dbe9f2"/>
<circle cx="901.4" cy="907.6" r="6.9" fill="#dbe9f2"/>
<circle cx="515.1" cy="354.9" r="6.9" fill="#dbe9f2"/>
<circle cx="784.0" cy="802.2" r="6.9" fill="#dbe9f2"/>
<circle cx="1045.3" cy="450.9" r="6.9" fill="#dbe9f2"/>
<circle cx="374.1" cy="402.5" r="6.9" fill="#dbe9f2"/>
<circle cx="954.7" cy="872.0" r="6.9" fill="#dbe9f2"/>
<circle cx="452.0" cy="229.0" r="6.9" fill="#dbe9f2"/>
<circle cx="573.1" cy="882.7" r="6.9" fill="#dbe9f2"/>
<circle cx="672.8" cy="870.5" r="6.9" fill="#dbe9f2"/>
<circle cx="988.2" cy="855.8" r="6.9" fill="#dbe9f2"/>
<circle cx="641.4" cy="731.7" r="6.9" fill="#dbe9f2"/>
<circle cx="611.8" cy="204.2" r="6.9" fill="#dbe9f2"/>
<circle cx="672.4" cy="748.9" r="6.9" fill="#dbe9f2"/>
<circle cx="773.8" cy="317.0" r="6.9" fill="#dbe9f2"/>
<circle cx="396.9" cy="272.3" r="6.9" fill="#dbe9f2"/>
<circle cx="922.4" cy="827.3" r="6.9" fill="#dbe9f2"/>
<circle cx="575.2" cy="773.8" r="6.9" fill="#dbe9f2"/>
<circle cx="670.4" cy="887.7" r="6.9" fill="#dbe9f2"/>
<circle cx="445.6" cy="332.9" r="6.9" fill="#dbe9f2"/>
<circle cx="871.5" cy="882.2" r="6.9" fill="#dbe9f2"/>
<circle cx="653.8" cy="476.5" r="6.9" fill="#dbe9f2"/>
<circle cx="346.2" cy="356.9" r="6.9" fill="#dbe9f2"/>
<circle cx="798.4" cy="272.8" r="6.9" fill="#dbe9f2"/>
<circle cx="588.3" cy="316.0" r="6.9" fill="#dbe9f2"/>
<circle cx="894.6" cy="841.1" r="6.9" fill="#dbe9f2"/>
<circle cx="324.9" cy="286.4" r="6.9" fill="#dbe9f2"/>
<circle cx="611.2" cy="282.4" r="6.9" fill="#dbe9f2"/>
<circle cx="373.6" cy="386.1" r="6.9" fill="#dbe9f2"/>
<circle cx="734.4" cy="288.3" r="6.9" fill="#dbe9f2"/>
<circle cx="688.2" cy="833.4" r="6.9" fill="#dbe9f2"/>
<circle cx="557.1" cy="323.9" r="6.9" fill="#dbe9f2"/>
<circle cx="352.1" cy="351.6" r="6.9" fill="#dbe9f2"/>
<circle cx="345.6" cy="292.7" r="6.9" fill="#dbe9f2"/>
<circle cx="662.8" cy="284.2" r="6.9" fill="#dbe9f2"/>
<circle cx="695.7" cy="701.7" r="6.9" fill="#dbe9f2"/>
<circle cx="613.3" cy="265.5" r="6.9" fill="#dbe9f2"/>
<circle cx="1011.5" cy="796.5" r="6.9" fill="#dbe9f2"/>
<circle cx="338.8" cy="301.7" r="6.9" fill="#dbe9f2"/>
<circle cx="514.0" cy="252.1" r="6.9" fill="#dbe9f2"/>
<circle cx="838.8" cy="317.8" r="6.9" fill="#dbe9f2"/>
<circle cx="587.0" cy="776.4" r="6.9" fill="#dbe9f2"/>
<circle cx="1056.8" cy="457.1" r="6.9" fill="#dbe9f2"/>
<circle cx="363.0" cy="363.9" r="6.9" fill="#dbe9f2"/>
<circle cx="1025.1" cy="455.1" r="6.9" fill="#dbe9f2"/>
<circle cx="756.7" cy="276.2" r="6.9" fill="#dbe9f2"/>
<circle cx="496.5" cy="385.1" r="6.9" fill="#dbe9f2"/>
<circle cx="773.6" cy="273.1" r="6.9" fill="#dbe9f2"/>
<circle cx="345.3" cy="275.9" r="6.9" fill="#dbe9f2"/>
<circle cx="466.7" cy="307.1" r="6.9" fill="#dbe9f2"/>
<circle cx="588.7" cy="892.2" r="6.9" fill="#dbe9f2"/>
<circle cx="694.1" cy="1076.4" r="6.9" fill="#dbe9f2"/>
<circle cx="756.1" cy="237.9" r="6.9" fill="#dbe9f2"/>
<circle cx="708.6" cy="752.4" r="6.9" fill="#dbe9f2"/>
<circle cx="328.2" cy="387.3" r="6.9" fill="#dbe9f2"/>
<circle cx="524.3" cy="295.0" r="6.9" fill="#dbe9f2"/>
<circle cx="648.7" cy="971.5" r="6.9" fill="#dbe9f2"/>
<circle cx="808.0" cy="335.3" r="6.9" fill="#dbe9f2"/>
<circle cx="647.9" cy="941.7" r="6.9" fill="#dbe9f2"/>
<circle cx="807.5" cy="457.5" r="6.9" fill="#dbe9f2"/>
<circle cx="914.8" cy="814.0" r="6.9" fill="#dbe9f2"/>
<circle cx="551.4" cy="222.6" r="6.9" fill="#dbe9f2"/>
<circle cx="562.9" cy="332.6" r="6.9" fill="#dbe9f2"/>
<circle cx="857.4" cy="405.3" r="6.9" fill="#dbe9f2"/>
<circle cx="814.0" cy="857.9" r="6.9" fill="#dbe9f2"/>
<circle cx="653.3" cy="225.1" r="6.9" fill="#dbe9f2"/>
<circle cx="357.9" cy="442.4" r="6.9" fill="#dbe9f2"/>
<circle cx="764.0" cy="852.3" r="6.9" fill="#dbe9f2"/>
<circle cx="835.9" cy="942.1" r="6.9" fill="#dbe9f2"/>
<circle cx="295.4" cy="413.7" r="6.9" fill="#dbe9f2"/>
<circle cx="566.7" cy="372.8" r="6.9" fill="#dbe9f2"/>
<circle cx="806.3" cy="808.4" r="6.9" fill="#dbe9f2"/>
<circle cx="657.1" cy="224.0" r="6.9" fill="#dbe9f2"/>
<circle cx="677.5" cy="718.7" r="6.9" fill="#dbe9f2"/>
<circle cx="403.8" cy="377.7" r="6.9" fill="#dbe9f2"/>
<circle cx="387.1" cy="273.1" r="6.9" fill="#dbe9f2"/>
<circle cx="664.4" cy="828.5" r="6.9" fill="#dbe9f2"/>
<circle cx="945.6" cy="893.6" r="6.9" fill="#dbe9f2"/>
<circle cx="1104.3" cy="496.4" r="6.9" fill="#dbe9f2"/>
<circle cx="692.5" cy="828.6" r="6.9" fill="#dbe9f2"/>
<circle cx="537.1" cy="958.3" r="6.9" fill="#dbe9f2"/>
<circle cx="464.4" cy="227.1" r="6.9" fill="#dbe9f2"/>
<circle cx="364.5" cy="425.1" r="6.9" fill="#dbe9f2"/>
<circle cx="843.1" cy="344.4" r="6.9" fill="#dbe9f2"/>
<circle cx="698.9" cy="231.8" r="6.9" fill="#dbe9f2"/>
<circle cx="558.9" cy="861.8" r="6.9" fill="#dbe9f2"/>
<circle cx="904.6" cy="813.4" r="6.9" fill="#dbe9f2"/>
<circle cx="730.7" cy="863.1" r="6.9" fill="#dbe9f2"/>
<circle cx="854.7" cy="501.3" r="6.9" fill="#dbe9f2"/>
<circle cx="461.2" cy="346.2" r="6.9" fill="#dbe9f2"/>
<circle cx="568.8" cy="296.0" r="6.9" fill="#dbe9f2"/>
<circle cx="1039.0" cy="468.5" r="6.9" fill="#dbe9f2"/>
<circle cx="837.6" cy="305.6" r="6.9" fill="#dbe9f2"/>
<circle cx="477.5" cy="334.7" r="6.9" fill="#dbe9f2"/>
<circle cx="647.2" cy="749.2" r="6.9" fill="#dbe9f2"/>
<circle cx="593.4" cy="290.8" r="6.9" fill="#dbe9f2"/>
<circle cx="647.1" cy="233.5" r="6.9" fill="#dbe9f2"/>
<circle cx="671.9" cy="1066.8" r="6.9" fill="#dbe9f2"/>
<circle cx="342.9" cy="333.1" r="6.9" fill="#dbe9f2"/>
<circle cx="595.3" cy="929.3" r="6.9" fill="#dbe9f2"/>
<circle cx="313.1" cy="441.8" r="6.9" fill="#dbe9f2"/>
<circle cx="362.2" cy="525.2" r="6.9" fill="#dbe9f2"/>
<circle cx="601.2" cy="225.8" r="6.9" fill="#dbe9f2"/>
<circle cx="389.9" cy="505.0" r="6.9" fill="#dbe9f2"/>
<circle cx="594.4" cy="973.0" r="6.9" fill="#dbe9f2"/>
<circle cx="693.3" cy="1028.9" r="6.9" fill="#dbe9f2"/>
<circle cx="703.2" cy="241.9" r="6.9" fill="#dbe9f2"/>
<circle cx="515.7" cy="954.3" r="6.9" fill="#dbe9f2"/>
<circle cx="477.6" cy="314.1" r="6.9" fill="#dbe9f2"/>
<circle cx="425.4" cy="311.9" r="6.9" fill="#dbe9f2"/>
<circle cx="528.4" cy="261.1" r="6.9" fill="#dbe9f2"/>
<circle cx="478.4" cy="238.4" r="6.9" fill="#dbe9f2"/>
<circle cx="1067.6" cy="457.4" r="6.9" fill="#dbe9f2"/>
<circle cx="807.1" cy="353.5" r="6.9" fill="#dbe9f2"/>
<circle cx="1026.4" cy="306.9" r="6.9" fill="#dbe9f2"/>
<circle cx="712.9" cy="894.3" r="6.9" fill="#dbe9f2"/>
<circle cx="1067.7" cy="310.3" r="6.9" fill="#dbe9f2"/>
<circle cx="822.4" cy="883.4" r="6.9" fill="#dbe9f2"/>
<circle cx="866.9" cy="366.8" r="6.9" fill="#dbe9f2"/>
<circle cx="910.7" cy="805.4" r="6.9" fill="#dbe9f2"/>
<circle cx="674.8" cy="226.1" r="6.9" fill="#dbe9f2"/>
<circle cx="226.3" cy="448.9" r="6.9" fill="#dbe9f2"/>
<circle cx="468.1" cy="298.3" r="6.9" fill="#dbe9f2"/>
<circle cx="801.4" cy="933.3" r="6.9" fill="#dbe9f2"/>
<circle cx="528.0" cy="913.6" r="6.9" fill="#dbe9f2"/>
<circle cx="673.3" cy="791.5" r="6.9" fill="#dbe9f2"/>
<circle cx="796.9" cy="275.9" r="6.9" fill="#dbe9f2"/>
<circle cx="707.4" cy="206.7" r="6.9" fill="#dbe9f2"/>
<circle cx="415.9" cy="244.5" r="6.9" fill="#dbe9f2"/>
<circle cx="445.0" cy="866.2" r="6.9" fill="#dbe9f2"/>
<circle cx="824.2" cy="287.0" r="6.9" fill="#dbe9f2"/>
<circle cx="912.9" cy="875.0" r="6.9" fill="#dbe9f2"/>
<circle cx="308.1" cy="455.4" r="6.9" fill="#dbe9f2"/>
<circle cx="412.4" cy="458.5" r="6.9" fill="#dbe9f2"/>
<circle cx="903.8" cy="412.0" r="6.9" fill="#dbe9f2"/>
<circle cx="290.2" cy="369.2" r="6.9" fill="#dbe9f2"/>
<circle cx="717.3" cy="266.1" r="6.9" fill="#dbe9f2"/>
<circle cx="438.5" cy="396.6" r="6.9" fill="#dbe9f2"/>
<circle cx="628.6" cy="1054.1" r="6.9" fill="#dbe9f2"/>
<circle cx="435.9" cy="426.1" r="6.9" fill="#dbe9f2"/>
<circle cx="401.9" cy="398.8" r="6.9" fill="#dbe9f2"/>
<circle cx="384.3" cy="292.9" r="6.9" fill="#dbe9f2"/>
<circle cx="367.7" cy="276.4" r="6.9" fill="#dbe9f2"/>
<circle cx="675.3" cy="767.0" r="6.9" fill="#dbe9f2"/>
<circle cx="583.2" cy="275.6" r="6.9" fill="#dbe9f2"/>
<circle cx="687.0" cy="1068.9" r="6.9" fill="#dbe9f2"/>
<circle cx="817.6" cy="814.9" r="6.9" fill="#dbe9f2"/>
<circle cx="252.4" cy="314.9" r="6.9" fill="#dbe9f2"/>
<circle cx="596.4" cy="1055.6" r="6.9" fill="#dbe9f2"/>
<circle cx="303.8" cy="493.6" r="6.9" fill="#dbe9f2"/>
<circle cx="453.7" cy="263.0" r="6.9" fill="#dbe9f2"/>
<circle cx="717.7" cy="834.6" r="6.9" fill="#dbe9f2"/>
<circle cx="365.1" cy="454.8" r="6.9" fill="#dbe9f2"/>
<circle cx="634.4" cy="245.4" r="6.9" fill="#dbe9f2"/>
<circle cx="516.7" cy="228.7" r="6.9" fill="#dbe9f2"/>
<circle cx="455.4" cy="437.7" r="6.9" fill="#dbe9f2"/>
<circle cx="867.3" cy="894.1" r="6.9" fill="#dbe9f2"/>
<circle cx="613.5" cy="411.0" r="6.9" fill="#dbe9f2"/>
<circle cx="791.2" cy="855.4" r="6.9" fill="#dbe9f2"/>
<circle cx="878.3" cy="368.6" r="6.9" fill="#dbe9f2"/>
<circle cx="976.9" cy="796.7" r="6.9" fill="#dbe9f2"/>
<circle cx="547.1" cy="288.2" r="6.9" fill="#dbe9f2"/>
<circle cx="805.1" cy="972.9" r="6.9" fill="#dbe9f2"/>
<circle cx="336.4" cy="825.4" r="6.9" fill="#dbe9f2"/>
<circle cx="534.5" cy="187.0" r="6.9" fill="#dbe9f2"/>
<circle cx="811.9" cy="937.6" r="6.9" fill="#dbe9f2"/>
<circle cx="396.4" cy="955.7" r="6.9" fill="#dbe9f2"/>
<circle cx="482.1" cy="246.1" r="6.9" fill="#dbe9f2"/>
<circle cx="677.4" cy="955.7" r="6.9" fill="#dbe9f2"/>
<circle cx="288.0" cy="366.5" r="6.9" fill="#dbe9f2"/>
<circle cx="1029.2" cy="470.6" r="6.9" fill="#dbe9f2"/>
<circle cx="783.5" cy="841.6" r="6.9" fill="#dbe9f2"/>
<circle cx="511.4" cy="442.3" r="6.9" fill="#dbe9f2"/>
<circle cx="228.9" cy="416.0" r="6.9" fill="#dbe9f2"/>
<circle cx="748.5" cy="336.2" r="6.9" fill="#dbe9f2"/>
<circle cx="306.1" cy="331.4" r="6.9" fill="#dbe9f2"/>
<circle cx="308.9" cy="355.9" r="6.9" fill="#dbe9f2"/>
<circle cx="346.1" cy="945.0" r="6.9" fill="#dbe9f2"/>
<circle cx="394.0" cy="444.3" r="6.9" fill="#dbe9f2"/>
<circle cx="285.0" cy="467.1" r="6.9" fill="#dbe9f2"/>
<circle cx="344.4" cy="412.2" r="6.9" fill="#dbe9f2"/>
<circle cx="977.5" cy="835.8" r="6.9" fill="#dbe9f2"/>
<circle cx="566.7" cy="998.7" r="6.9" fill="#dbe9f2"/>
<circle cx="796.2" cy="264.2" r="6.9" fill="#dbe9f2"/>
<circle cx="416.4" cy="292.8" r="6.9" fill="#dbe9f2"/>
<circle cx="932.6" cy="315.6" r="6.9" fill="#dbe9f2"/>
<circle cx="467.3" cy="244.1" r="6.9" fill="#dbe9f2"/>
<circle cx="456.6" cy="224.8" r="6.9" fill="#dbe9f2"/>
<circle cx="652.9" cy="283.2" r="6.9" fill="#dbe9f2"/>
<circle cx="425.1" cy="248.2" r="6.9" fill="#dbe9f2"/>
<circle cx="823.2" cy="313.3" r="6.9" fill="#dbe9f2"/>
<circle cx="549.9" cy="233.1" r="6.9" fill="#dbe9f2"/>
<circle cx="377.4" cy="253.1" r="6.9" fill="#dbe9f2"/>
<circle cx="1009.0" cy="309.9" r="6.9" fill="#dbe9f2"/>
<circle cx="378.8" cy="368.6" r="6.9" fill="#dbe9f2"/>
<circle cx="446.3" cy="382.4" r="6.9" fill="#dbe9f2"/>
<circle cx="307.0" cy="437.9" r="6.9" fill="#dbe9f2"/>
<circle cx="715.1" cy="766.2" r="6.9" fill="#dbe9f2"/>
<circle cx="692.4" cy="404.6" r="6.9" fill="#dbe9f2"/>
<circle cx="865.9" cy="884.1" r="6.9" fill="#dbe9f2"/>
<circle cx="304.3" cy="503.7" r="6.9" fill="#dbe9f2"/>
<circle cx="358.3" cy="503.5" r="6.9" fill="#dbe9f2"/>
<circle cx="658.2" cy="1046.4" r="6.9" fill="#dbe9f2"/>
<circle cx="431.5" cy="343.0" r="6.9" fill="#dbe9f2"/>
<circle cx="326.2" cy="391.8" r="6.9" fill="#dbe9f2"/>
<circle cx="444.7" cy="365.6" r="6.9" fill="#dbe9f2"/>
<circle cx="865.1" cy="874.2" r="6.9" fill="#dbe9f2"/>
<circle cx="804.0" cy="347.9" r="6.9" fill="#dbe9f2"/>
<circle cx="753.4" cy="757.7" r="6.9" fill="#dbe9f2"/>
<circle cx="835.6" cy="333.2" r="6.9" fill="#dbe9f2"/>
<circle cx="588.2" cy="1027.9" r="6.9" fill="#dbe9f2"/>
<circle cx="456.3" cy="358.0" r="6.9" fill="#dbe9f2"/>
<circle cx="752.3" cy="533.0" r="6.9" fill="#dbe9f2"/>
<circle cx="511.4" cy="425.4" r="6.9" fill="#dbe9f2"/>
<circle cx="292.1" cy="926.2" r="6.9" fill="#dbe9f2"/>
<circle cx="707.9" cy="664.3" r="6.9" fill="#dbe9f2"/>
<circle cx="911.6" cy="435.9" r="6.9" fill="#dbe9f2"/>
<circle cx="802.8" cy="857.0" r="6.9" fill="#dbe9f2"/>
<circle cx="755.6" cy="885.8" r="6.9" fill="#dbe9f2"/>
<circle cx="548.4" cy="1041.0" r="6.9" fill="#dbe9f2"/>
<circle cx="936.6" cy="666.5" r="6.9" fill="#dbe9f2"/>
<circle cx="614.9" cy="536.7" r="6.9" fill="#dbe9f2"/>
<circle cx="417.0" cy="463.7" r="6.9" fill="#dbe9f2"/>
<circle cx="285.9" cy="354.7" r="6.9" fill="#dbe9f2"/>
<circle cx="593.6" cy="867.3" r="6.9" fill="#dbe9f2"/>
<circle cx="207.0" cy="386.8" r="6.9" fill="#dbe9f2"/>
<circle cx="665.5" cy="765.6" r="6.9" fill="#dbe9f2"/>
<circle cx="250.7" cy="410.7" r="6.9" fill="#dbe9f2"/>
<circle cx="736.9" cy="786.1" r="6.9" fill="#dbe9f2"/>
<circle cx="548.7" cy="958.9" r="6.9" fill="#dbe9f2"/>
<circle cx="675.5" cy="817.2" r="6.9" fill="#dbe9f2"/>
<circle cx="755.7" cy="242.8" r="6.9" fill="#dbe9f2"/>
<circle cx="887.2" cy="397.0" r="6.9" fill="#dbe9f2"/>
<circle cx="304.8" cy="416.8" r="6.9" fill="#dbe9f2"/>
<circle cx="671.4" cy="277.6" r="6.9" fill="#dbe9f2"/>
<circle cx="644.6" cy="255.4" r="6.9" fill="#dbe9f2"/>
<circle cx="374.8" cy="337.7" r="6.9" fill="#dbe9f2"/>
<circle cx="622.4" cy="258.9" r="6.9" fill="#dbe9f2"/>
<circle cx="564.4" cy="806.0" r="6.9" fill="#dbe9f2"/>
<circle cx="628.9" cy="294.8" r="6.9" fill="#dbe9f2"/>
<circle cx="448.3" cy="263.3" r="6.9" fill="#dbe9f2"/>
<circle cx="902.9" cy="826.8" r="6.9" fill="#dbe9f2"/>
<circle cx="1108.8" cy="514.6" r="6.9" fill="#dbe9f2"/>
<circle cx="936.3" cy="426.0" r="6.9" fill="#dbe9f2"/>
<circle cx="290.3" cy="485.6" r="6.9" fill="#dbe9f2"/>
<circle cx="322.3" cy="304.5" r="6.9" fill="#dbe9f2"/>
<circle cx="528.7" cy="288.4" r="6.9" fill="#dbe9f2"/>
<circle cx="730.9" cy="785.7" r="6.9" fill="#dbe9f2"/>
<circle cx="363.9" cy="932.5" r="6.9" fill="#dbe9f2"/>
<circle cx="774.0" cy="894.5" r="6.9" fill="#dbe9f2"/>
<circle cx="352.2" cy="397.1" r="6.9" fill="#dbe9f2"/>
<circle cx="616.3" cy="253.9" r="6.9" fill="#dbe9f2"/>
<circle cx="912.5" cy="553.9" r="6.9" fill="#dbe9f2"/>
<circle cx="605.2" cy="336.4" r="6.9" fill="#dbe9f2"/>
<circle cx="1091.5" cy="452.8" r="6.9" fill="#dbe9f2"/>
<circle cx="462.8" cy="733.4" r="6.9" fill="#dbe9f2"/>
<circle cx="497.9" cy="953.3" r="6.9" fill="#dbe9f2"/>
<circle cx="855.4" cy="635.4" r="6.9" fill="#dbe9f2"/>
<circle cx="514.7" cy="215.7" r="6.9" fill="#dbe9f2"/>
<circle cx="666.3" cy="782.4" r="6.9" fill="#dbe9f2"/>
<circle cx="831.5" cy="269.4" r="6.9" fill="#dbe9f2"/>
<circle cx="382.2" cy="331.8" r="6.9" fill="#dbe9f2"/>
<circle cx="633.2" cy="761.7" r="6.9" fill="#dbe9f2"/>
<circle cx="566.8" cy="1021.3" r="6.9" fill="#dbe9f2"/>
<circle cx="616.1" cy="324.0" r="6.9" fill="#dbe9f2"/>
<circle cx="935.1" cy="821.9" r="6.9" fill="#dbe9f2"/>
<circle cx="492.6" cy="256.1" r="6.9" fill="#dbe9f2"/>
<circle cx="775.4" cy="856.6" r="6.9" fill="#dbe9f2"/>
<circle cx="922.9" cy="304.9" r="6.9" fill="#dbe9f2"/>
<circle cx="415.0" cy="393.3" r="6.9" fill="#dbe9f2"/>
<circle cx="829.6" cy="712.0" r="6.9" fill="#dbe9f2"/>
<circle cx="727.0" cy="490.0" r="6.9" fill="#dbe9f2"/>
<circle cx="914.5" cy="388.5" r="6.9" fill="#dbe9f2"/>
<circle cx="833.1" cy="341.5" r="6.9" fill="#dbe9f2"/>
<circle cx="348.1" cy="463.9" r="6.9" fill="#dbe9f2"/>
<circle cx="505.5" cy="442.7" r="6.9" fill="#dbe9f2"/>
<circle cx="516.7" cy="210.0" r="6.9" fill="#dbe9f2"/>
<circle cx="531.5" cy="282.8" r="6.9" fill="#dbe9f2"/>
<circle cx="426.3" cy="356.9" r="6.9" fill="#dbe9f2"/>
<circle cx="548.3" cy="265.0" r="6.9" fill="#dbe9f2"/>
<circle cx="303.6" cy="551.1" r="6.9" fill="#dbe9f2"/>
<circle cx="582.7" cy="1036.2" r="6.9" fill="#dbe9f2"/>
<circle cx="692.9" cy="878.9" r="6.9" fill="#dbe9f2"/>
<circle cx="562.2" cy="307.5" r="6.9" fill="#dbe9f2"/>
<circle cx="628.5" cy="723.2" r="6.9" fill="#dbe9f2"/>
<circle cx="296.6" cy="346.3" r="6.9" fill="#dbe9f2"/>
<circle cx="311.5" cy="324.5" r="6.9" fill="#dbe9f2"/>
<circle cx="1113.1" cy="488.7" r="6.9" fill="#dbe9f2"/>
<circle cx="503.7" cy="351.5" r="6.9" fill="#dbe9f2"/>
<circle cx="868.4" cy="861.1" r="6.9" fill="#dbe9f2"/>
<circle cx="290.1" cy="355.4" r="6.9" fill="#dbe9f2"/>
<circle cx="247.9" cy="325.4" r="6.9" fill="#dbe9f2"/>
<circle cx="294.8" cy="454.0" r="6.9" fill="#dbe9f2"/>
<circle cx="626.8" cy="237.7" r="6.9" fill="#dbe9f2"/>
<circle cx="401.4" cy="421.6" r="6.9" fill="#dbe9f2"/>
<circle cx="267.4" cy="388.3" r="6.9" fill="#dbe9f2"/>
<circle cx="1056.6" cy="484.4" r="6.9" fill="#dbe9f2"/>
<circle cx="692.7" cy="817.0" r="6.9" fill="#dbe9f2"/>
<circle cx="274.5" cy="305.8" r="6.9" fill="#dbe9f2"/>
<circle cx="1002.2" cy="286.9" r="6.9" fill="#dbe9f2"/>
<circle cx="913.3" cy="415.7" r="6.9" fill="#dbe9f2"/>
<circle cx="418.0" cy="289.3" r="6.9" fill="#dbe9f2"/>
<circle cx="608.8" cy="252.3" r="6.9" fill="#dbe9f2"/>
<circle cx="743.0" cy="875.7" r="6.9" fill="#dbe9f2"/>
<circle cx="648.3" cy="783.5" r="6.9" fill="#dbe9f2"/>
<circle cx="490.0" cy="270.7" r="6.9" fill="#dbe9f2"/>
<circle cx="285.3" cy="345.0" r="6.9" fill="#dbe9f2"/>
<circle cx="404.9" cy="394.3" r="6.9" fill="#dbe9f2"/>
<circle cx="716.3" cy="752.0" r="6.9" fill="#dbe9f2"/>
<circle cx="607.0" cy="871.8" r="6.9" fill="#dbe9f2"/>
<circle cx="611.3" cy="774.5" r="6.9" fill="#dbe9f2"/>
<circle cx="688.8" cy="291.5" r="6.9" fill="#dbe9f2"/>
<circle cx="351.4" cy="388.8" r="6.9" fill="#dbe9f2"/>
<circle cx="651.9" cy="268.6" r="6.9" fill="#dbe9f2"/>
<circle cx="972.4" cy="864.8" r="6.9" fill="#dbe9f2"/>
<circle cx="806.0" cy="447.9" r="6.9" fill="#dbe9f2"/>
<circle cx="612.8" cy="733.0" r="6.9" fill="#dbe9f2"/>
<circle cx="746.5" cy="238.1" r="6.9" fill="#dbe9f2"/>
<circle cx="584.5" cy="315.5" r="6.9" fill="#dbe9f2"/>
<circle cx="552.1" cy="809.8" r="6.9" fill="#dbe9f2"/>
<circle cx="244.0" cy="414.8" r="6.9" fill="#dbe9f2"/>
<circle cx="345.4" cy="538.1" r="6.9" fill="#dbe9f2"/>
<circle cx="664.4" cy="275.3" r="6.9" fill="#dbe9f2"/>
<circle cx="858.6" cy="434.3" r="6.9" fill="#dbe9f2"/>
<circle cx="573.0" cy="333.4" r="6.9" fill="#dbe9f2"/>
<circle cx="625.4" cy="444.1" r="6.9" fill="#dbe9f2"/>
<circle cx="425.2" cy="397.3" r="6.9" fill="#dbe9f2"/>
<circle cx="341.1" cy="525.8" r="6.9" fill="#dbe9f2"/>
<circle cx="343.8" cy="406.3" r="6.9" fill="#dbe9f2"/>
<circle cx="955.4" cy="836.5" r="6.9" fill="#dbe9f2"/>
<circle cx="988.8" cy="306.7" r="6.9" fill="#dbe9f2"/>
<circle cx="755.8" cy="667.2" r="6.9" fill="#dbe9f2"/>
<circle cx="603.0" cy="772.9" r="6.9" fill="#dbe9f2"/>
<circle cx="551.6" cy="232.8" r="6.9" fill="#dbe9f2"/>
<circle cx="332.9" cy="473.0" r="6.9" fill="#dbe9f2"/>
<circle cx="482.1" cy="307.2" r="6.9" fill="#dbe9f2"/>
<circle cx="356.5" cy="278.8" r="6.9" fill="#dbe9f2"/>
<circle cx="753.9" cy="664.8" r="6.9" fill="#dbe9f2"/>
<circle cx="323.4" cy="332.7" r="6.9" fill="#dbe9f2"/>
<circle cx="862.2" cy="423.5" r="6.9" fill="#dbe9f2"/>
<circle cx="356.1" cy="345.9" r="6.9" fill="#dbe9f2"/>
<circle cx="236.3" cy="412.0" r="6.9" fill="#dbe9f2"/>
<circle cx="914.4" cy="892.1" r="6.9" fill="#dbe9f2"/>
<circle cx="607.8" cy="309.5" r="6.9" fill="#dbe9f2"/>
<circle cx="393.3" cy="537.4" r="6.9" fill="#dbe9f2"/>
<circle cx="328.4" cy="286.9" r="6.9" fill="#dbe9f2"/>
<circle cx="722.9" cy="257.8" r="6.9" fill="#dbe9f2"/>
<circle cx="814.9" cy="294.1" r="6.9" fill="#dbe9f2"/>
<circle cx="778.4" cy="847.9" r="6.9" fill="#dbe9f2"/>
<circle cx="774.3" cy="817.4" r="6.9" fill="#dbe9f2"/>
<circle cx="529.0" cy="233.2" r="6.9" fill="#dbe9f2"/>
<circle cx="324.3" cy="510.6" r="6.9" fill="#dbe9f2"/>
<circle cx="343.3" cy="933.0" r="6.9" fill="#dbe9f2"/>
<circle cx="584.7" cy="257.0" r="6.9" fill="#dbe9f2"/>
<circle cx="844.2" cy="868.6" r="6.9" fill="#dbe9f2"/>
<circle cx="323.3" cy="464.7" r="6.9" fill="#dbe9f2"/>
<circle cx="963.2" cy="834.0" r="6.9" fill="#dbe9f2"/>
<circle cx="585.5" cy="868.6" r="6.9" fill="#dbe9f2"/>
<circle cx="711.7" cy="282.4" r="6.9" fill="#dbe9f2"/>
<circle cx="935.4" cy="894.7" r="6.9" fill="#dbe9f2"/>
<circle cx="1006.2" cy="766.3" r="6.9" fill="#dbe9f2"/>
<circle cx="788.0" cy="406.6" r="6.9" fill="#dbe9f2"/>
<circle cx="968.2" cy="491.5" r="6.9" fill="#dbe9f2"/>
<circle cx="1075.0" cy="465.8" r="6.9" fill="#dbe9f2"/>
<circle cx="328.9" cy="396.5" r="6.9" fill="#dbe9f2"/>
<circle cx="373.7" cy="367.8" r="6.9" fill="#dbe9f2"/>
<circle cx="368.6" cy="281.1" r="6.9" fill="#dbe9f2"/>
<circle cx="787.8" cy="487.0" r="6.9" fill="#dbe9f2"/>
<circle cx="835.8" cy="824.2" r="6.9" fill="#dbe9f2"/>
<circle cx="431.1" cy="368.6" r="6.9" fill="#dbe9f2"/>
<circle cx="342.7" cy="335.4" r="6.9" fill="#dbe9f2"/>
<circle cx="1074.3" cy="348.6" r="6.9" fill="#dbe9f2"/>
<circle cx="672.2" cy="413.4" r="6.9" fill="#dbe9f2"/>
<circle cx="313.3" cy="532.3" r="6.9" fill="#dbe9f2"/>
<circle cx="721.2" cy="747.6" r="6.9" fill="#dbe9f2"/>
<circle cx="688.2" cy="745.1" r="6.9" fill="#dbe9f2"/>
<circle cx="498.4" cy="922.4" r="6.9" fill="#dbe9f2"/>
<circle cx="491.2" cy="397.8" r="6.9" fill="#dbe9f2"/>
<circle cx="584.3" cy="1068.1" r="6.9" fill="#dbe9f2"/>
<circle cx="289.5" cy="496.5" r="6.9" fill="#dbe9f2"/>
<circle cx="415.2" cy="228.4" r="6.9" fill="#dbe9f2"/>
<circle cx="761.2" cy="836.5" r="6.9" fill="#dbe9f2"/>
<circle cx="605.0" cy="276.4" r="6.9" fill="#dbe9f2"/>
<circle cx="822.1" cy="873.7" r="6.9" fill="#dbe9f2"/>
<circle cx="735.2" cy="795.8" r="6.9" fill="#dbe9f2"/>
<circle cx="484.3" cy="321.7" r="6.9" fill="#dbe9f2"/>
<circle cx="594.0" cy="273.1" r="6.9" fill="#eff3f5"/>
<circle cx="926.5" cy="831.4" r="6.9" fill="#eff3f5"/>
<circle cx="508.3" cy="213.8" r="6.9" fill="#eff3f5"/>
<circle cx="416.4" cy="488.5" r="6.9" fill="#eff3f5"/>
<circle cx="323.0" cy="412.8" r="6.9" fill="#eff3f5"/>
<circle cx="893.6" cy="886.3" r="6.9" fill="#eff3f5"/>
<circle cx="431.6" cy="248.1" r="6.9" fill="#eff3f5"/>
<circle cx="316.3" cy="402.7" r="6.9" fill="#eff3f5"/>
<circle cx="716.2" cy="806.2" r="6.9" fill="#eff3f5"/>
<circle cx="292.5" cy="307.6" r="6.9" fill="#eff3f5"/>
<circle cx="918.4" cy="395.7" r="6.9" fill="#eff3f5"/>
<circle cx="731.1" cy="822.8" r="6.9" fill="#eff3f5"/>
<circle cx="573.0" cy="327.7" r="6.9" fill="#eff3f5"/>
<circle cx="741.4" cy="277.3" r="6.9" fill="#eff3f5"/>
<circle cx="934.9" cy="833.7" r="6.9" fill="#eff3f5"/>
<circle cx="713.2" cy="775.3" r="6.9" fill="#eff3f5"/>
<circle cx="881.9" cy="925.5" r="6.9" fill="#eff3f5"/>
<circle cx="591.0" cy="756.6" r="6.9" fill="#eff3f5"/>
<circle cx="1069.6" cy="329.7" r="6.9" fill="#eff3f5"/>
<circle cx="296.9" cy="403.0" r="6.9" fill="#eff3f5"/>
<circle cx="277.1" cy="395.8" r="6.9" fill="#eff3f5"/>
<circle cx="426.2" cy="404.4" r="6.9" fill="#eff3f5"/>
<circle cx="356.3" cy="305.1" r="6.9" fill="#eff3f5"/>
<circle cx="976.9" cy="865.9" r="6.9" fill="#eff3f5"/>
<circle cx="855.1" cy="932.6" r="6.9" fill="#eff3f5"/>
<circle cx="767.7" cy="862.0" r="6.9" fill="#eff3f5"/>
<circle cx="793.8" cy="796.2" r="6.9" fill="#eff3f5"/>
<circle cx="407.3" cy="408.4" r="6.9" fill="#eff3f5"/>
<circle cx="743.8" cy="268.2" r="6.9" fill="#eff3f5"/>
<circle cx="947.8" cy="412.2" r="6.9" fill="#eff3f5"/>
<circle cx="945.2" cy="835.2" r="6.9" fill="#eff3f5"/>
<circle cx="552.6" cy="835.0" r="6.9" fill="#eff3f5"/>
<circle cx="603.8" cy="1010.1" r="6.9" fill="#eff3f5"/>
<circle cx="913.7" cy="503.8" r="6.9" fill="#eff3f5"/>
<circle cx="952.6" cy="314.4" r="6.9" fill="#eff3f5"/>
<circle cx="755.6" cy="803.8" r="6.9" fill="#eff3f5"/>
<circle cx="307.0" cy="290.9" r="6.9" fill="#eff3f5"/>
<circle cx="335.6" cy="353.7" r="6.9" fill="#eff3f5"/>
<circle cx="348.2" cy="437.6" r="6.9" fill="#eff3f5"/>
<circle cx="353.2" cy="427.6" r="6.9" fill="#eff3f5"/>
<circle cx="431.9" cy="434.7" r="6.9" fill="#eff3f5"/>
<circle cx="736.6" cy="227.0" r="6.9" fill="#eff3f5"/>
<circle cx="555.1" cy="215.0" r="6.9" fill="#eff3f5"/>
<circle cx="717.7" cy="246.7" r="6.9" fill="#eff3f5"/>
<circle cx="394.0" cy="954.9" r="6.9" fill="#eff3f5"/>
<circle cx="796.2" cy="825.6" r="6.9" fill="#eff3f5"/>
<circle cx="517.8" cy="376.7" r="6.9" fill="#eff3f5"/>
<circle cx="951.2" cy="337.5" r="6.9" fill="#eff3f5"/>
<circle cx="687.1" cy="277.6" r="6.9" fill="#eff3f5"/>
<circle cx="402.6" cy="334.2" r="6.9" fill="#eff3f5"/>
<circle cx="406.3" cy="281.1" r="6.9" fill="#eff3f5"/>
<circle cx="905.1" cy="937.0" r="6.9" fill="#eff3f5"/>
<circle cx="332.8" cy="431.4" r="6.9" fill="#eff3f5"/>
<circle cx="718.4" cy="366.1" r="6.9" fill="#eff3f5"/>
<circle cx="1045.7" cy="268.6" r="6.9" fill="#eff3f5"/>
<circle cx="1056.7" cy="344.6" r="6.9" fill="#eff3f5"/>
<circle cx="781.1" cy="855.1" r="6.9" fill="#eff3f5"/>
<circle cx="317.8" cy="512.7" r="6.9" fill="#eff3f5"/>
<circle cx="868.9" cy="365.1" r="6.9" fill="#eff3f5"/>
<circle cx="286.2" cy="424.9" r="6.9" fill="#eff3f5"/>
<circle cx="736.3" cy="815.0" r="6.9" fill="#eff3f5"/>
<circle cx="745.9" cy="248.4" r="6.9" fill="#eff3f5"/>
<circle cx="757.8" cy="797.1" r="6.9" fill="#eff3f5"/>
<circle cx="549.6" cy="346.1" r="6.9" fill="#eff3f5"/>
<circle cx="790.4" cy="828.3" r="6.9" fill="#eff3f5"/>
<circle cx="644.2" cy="777.4" r="6.9" fill="#eff3f5"/>
<circle cx="871.6" cy="885.9" r="6.9" fill="#eff3f5"/>
<circle cx="274.6" cy="373.5" r="6.9" fill="#eff3f5"/>
<circle cx="834.7" cy="432.1" r="6.9" fill="#eff3f5"/>
<circle cx="395.5" cy="293.6" r="6.9" fill="#eff3f5"/>
<circle cx="438.7" cy="384.6" r="6.9" fill="#eff3f5"/>
<circle cx="843.2" cy="856.0" r="6.9" fill="#eff3f5"/>
<circle cx="744.3" cy="274.1" r="6.9" fill="#eff3f5"/>
<circle cx="568.1" cy="952.6" r="6.9" fill="#eff3f5"/>
<circle cx="471.9" cy="262.5" r="6.9" fill="#eff3f5"/>
<circle cx="685.4" cy="733.8" r="6.9" fill="#eff3f5"/>
<circle cx="676.3" cy="841.2" r="6.9" fill="#eff3f5"/>
<circle cx="316.8" cy="331.0" r="6.9" fill="#eff3f5"/>
<circle cx="977.2" cy="422.2" r="6.9" fill="#eff3f5"/>
<circle cx="289.2" cy="451.1" r="6.9" fill="#eff3f5"/>
<circle cx="485.6" cy="264.2" r="6.9" fill="#eff3f5"/>
<circle cx="591.9" cy="226.0" r="6.9" fill="#eff3f5"/>
<circle cx="663.9" cy="868.0" r="6.9" fill="#eff3f5"/>
<circle cx="488.8" cy="343.0" r="6.9" fill="#eff3f5"/>
<circle cx="1016.2" cy="264.3" r="6.9" fill="#eff3f5"/>
<circle cx="858.0" cy="621.5" r="6.9" fill="#eff3f5"/>
<circle cx="587.5" cy="316.4" r="6.9" fill="#eff3f5"/>
<circle cx="564.4" cy="310.0" r="6.9" fill="#eff3f5"/>
<circle cx="867.4" cy="344.6" r="6.9" fill="#eff3f5"/>
<circle cx="742.1" cy="853.2" r="6.9" fill="#eff3f5"/>
<circle cx="972.0" cy="409.8" r="6.9" fill="#eff3f5"/>
<circle cx="527.4" cy="933.4" r="6.9" fill="#eff3f5"/>
<circle cx="402.7" cy="343.8" r="6.9" fill="#eff3f5"/>
<circle cx="566.3" cy="262.2" r="6.9" fill="#eff3f5"/>
<circle cx="844.2" cy="823.9" r="6.9" fill="#eff3f5"/>
<circle cx="613.9" cy="994.9" r="6.9" fill="#eff3f5"/>
<circle cx="1032.3" cy="474.0" r="6.9" fill="#eff3f5"/>
<circle cx="475.6" cy="293.2" r="6.9" fill="#eff3f5"/>
<circle cx="505.6" cy="954.2" r="6.9" fill="#eff3f5"/>
<circle cx="792.9" cy="881.1" r="6.9" fill="#eff3f5"/>
<circle cx="265.6" cy="394.6" r="6.9" fill="#eff3f5"/>
<circle cx="352.6" cy="949.5" r="6.9" fill="#eff3f5"/>
<circle cx="796.1" cy="806.0" r="6.9" fill="#eff3f5"/>
<circle cx="322.7" cy="352.9" r="6.9" fill="#eff3f5"/>
<circle cx="570.1" cy="389.3" r="6.9" fill="#eff3f5"/>
<circle cx="365.3" cy="341.6" r="6.9" fill="#eff3f5"/>
<circle cx="389.9" cy="330.6" r="6.9" fill="#eff3f5"/>
<circle cx="831.4" cy="928.2" r="6.9" fill="#eff3f5"/>
<circle cx="645.0" cy="303.1" r="6.9" fill="#eff3f5"/>
<circle cx="563.3" cy="237.8" r="6.9" fill="#eff3f5"/>
<circle cx="964.8" cy="436.1" r="6.9" fill="#eff3f5"/>
<circle cx="654.1" cy="267.3" r="6.9" fill="#eff3f5"/>
<circle cx="478.8" cy="271.7" r="6.9" fill="#eff3f5"/>
<circle cx="732.0" cy="912.9" r="6.9" fill="#eff3f5"/>
<circle cx="506.3" cy="296.1" r="6.9" fill="#eff3f5"/>
<circle cx="276.7" cy="330.9" r="6.9" fill="#eff3f5"/>
<circle cx="954.5" cy="325.3" r="6.9" fill="#eff3f5"/>
<circle cx="423.5" cy="384.7" r="6.9" fill="#eff3f5"/>
<circle cx="957.0" cy="828.0" r="6.9" fill="#eff3f5"/>
<circle cx="773.4" cy="265.7" r="6.9" fill="#eff3f5"/>
<circle cx="523.1" cy="227.3" r="6.9" fill="#eff3f5"/>
<circle cx="707.5" cy="856.4" r="6.9" fill="#eff3f5"/>
<circle cx="407.3" cy="391.2" r="6.9" fill="#eff3f5"/>
<circle cx="1058.5" cy="338.7" r="6.9" fill="#eff3f5"/>
<circle cx="834.8" cy="862.5" r="6.9" fill="#eff3f5"/>
<circle cx="930.0" cy="350.2" r="6.9" fill="#eff3f5"/>
<circle cx="655.4" cy="974.4" r="6.9" fill="#eff3f5"/>
<circle cx="610.2" cy="284.3" r="6.9" fill="#eff3f5"/>
<circle cx="1041.1" cy="493.8" r="6.9" fill="#eff3f5"/>
<circle cx="524.6" cy="281.1" r="6.9" fill="#eff3f5"/>
<circle cx="1057.2" cy="289.1" r="6.9" fill="#eff3f5"/>
<circle cx="1016.0" cy="448.7" r="6.9" fill="#eff3f5"/>
<circle cx="232.9" cy="385.5" r="6.9" fill="#eff3f5"/>
<circle cx="825.2" cy="876.3" r="6.9" fill="#eff3f5"/>
<circle cx="293.3" cy="336.7" r="6.9" fill="#eff3f5"/>
<circle cx="506.0" cy="308.0" r="6.9" fill="#eff3f5"/>
<circle cx="676.4" cy="313.7" r="6.9" fill="#eff3f5"/>
<circle cx="355.3" cy="292.8" r="6.9" fill="#eff3f5"/>
<circle cx="697.6" cy="722.9" r="6.9" fill="#eff3f5"/>
<circle cx="572.8" cy="925.6" r="6.9" fill="#eff3f5"/>
<circle cx="315.7" cy="473.9" r="6.9" fill="#eff3f5"/>
<circle cx="1023.9" cy="305.5" r="6.9" fill="#eff3f5"/>
<circle cx="585.1" cy="255.6" r="6.9" fill="#eff3f5"/>
<circle cx="445.7" cy="256.2" r="6.9" fill="#eff3f5"/>
<circle cx="403.8" cy="454.3" r="6.9" fill="#eff3f5"/>
<circle cx="856.1" cy="324.1" r="6.9" fill="#eff3f5"/>
<circle cx="565.2" cy="1035.9" r="6.9" fill="#eff3f5"/>
<circle cx="895.3" cy="917.0" r="6.9" fill="#eff3f5"/>
<circle cx="766.0" cy="285.6" r="6.9" fill="#eff3f5"/>
<circle cx="231.6" cy="402.7" r="6.9" fill="#eff3f5"/>
<circle cx="685.2" cy="836.3" r="6.9" fill="#eff3f5"/>
<circle cx="373.0" cy="542.8" r="6.9" fill="#eff3f5"/>
<circle cx="210.2" cy="470.6" r="6.9" fill="#eff3f5"/>
<circle cx="578.6" cy="1041.7" r="6.9" fill="#eff3f5"/>
<circle cx="267.2" cy="363.5" r="6.9" fill="#eff3f5"/>
<circle cx="913.8" cy="393.9" r="6.9" fill="#eff3f5"/>
<circle cx="403.9" cy="472.4" r="6.9" fill="#eff3f5"/>
<circle cx="1008.7" cy="273.7" r="6.9" fill="#eff3f5"/>
<circle cx="752.8" cy="786.0" r="6.9" fill="#eff3f5"/>
<circle cx="374.9" cy="526.2" r="6.9" fill="#eff3f5"/>
<circle cx="227.9" cy="424.5" r="6.9" fill="#eff3f5"/>
<circle cx="1030.3" cy="495.7" r="6.9" fill="#eff3f5"/>
<circle cx="685.4" cy="364.2" r="6.9" fill="#eff3f5"/>
<circle cx="658.1" cy="796.7" r="6.9" fill="#eff3f5"/>
<circle cx="690.8" cy="334.1" r="6.9" fill="#eff3f5"/>
<circle cx="802.4" cy="875.7" r="6.9" fill="#eff3f5"/>
<circle cx="734.7" cy="293.8" r="6.9" fill="#eff3f5"/>
<circle cx="305.1" cy="496.9" r="6.9" fill="#eff3f5"/>
<circle cx="709.0" cy="245.6" r="6.9" fill="#eff3f5"/>
<circle cx="722.3" cy="222.4" r="6.9" fill="#eff3f5"/>
<circle cx="470.8" cy="812.5" r="6.9" fill="#eff3f5"/>
<circle cx="991.5" cy="459.0" r="6.9" fill="#eff3f5"/>
<circle cx="255.7" cy="326.1" r="6.9" fill="#eff3f5"/>
<circle cx="641.3" cy="245.7" r="6.9" fill="#eff3f5"/>
<circle cx="538.7" cy="201.9" r="6.9" fill="#eff3f5"/>
<circle cx="757.1" cy="773.3" r="6.9" fill="#eff3f5"/>
<circle cx="785.2" cy="938.3" r="6.9" fill="#eff3f5"/>
<circle cx="863.4" cy="424.9" r="6.9" fill="#eff3f5"/>
<circle cx="328.5" cy="488.6" r="6.9" fill="#eff3f5"/>
<circle cx="726.7" cy="317.1" r="6.9" fill="#eff3f5"/>
<circle cx="1076.4" cy="333.6" r="6.9" fill="#eff3f5"/>
<circle cx="708.1" cy="254.7" r="6.9" fill="#eff3f5"/>
<circle cx="722.6" cy="266.1" r="6.9" fill="#eff3f5"/>
<circle cx="812.9" cy="832.8" r="6.9" fill="#eff3f5"/>
<circle cx="565.1" cy="229.4" r="6.9" fill="#eff3f5"/>
<circle cx="851.3" cy="926.9" r="6.9" fill="#eff3f5"/>
<circle cx="668.2" cy="664.4" r="6.9" fill="#eff3f5"/>
<circle cx="1035.6" cy="448.1" r="6.9" fill="#eff3f5"/>
<circle cx="505.7" cy="203.1" r="6.9" fill="#eff3f5"/>
<circle cx="979.0" cy="456.9" r="6.9" fill="#eff3f5"/>
<circle cx="1037.1" cy="286.2" r="6.9" fill="#eff3f5"/>
<circle cx="578.2" cy="276.0" r="6.9" fill="#eff3f5"/>
<circle cx="718.3" cy="243.2" r="6.9" fill="#eff3f5"/>
<circle cx="344.4" cy="313.7" r="6.9" fill="#eff3f5"/>
<circle cx="278.1" cy="395.8" r="6.9" fill="#eff3f5"/>
<circle cx="556.4" cy="208.6" r="6.9" fill="#eff3f5"/>
<circle cx="410.3" cy="492.7" r="6.9" fill="#eff3f5"/>
<circle cx="411.3" cy="308.7" r="6.9" fill="#eff3f5"/>
<circle cx="807.0" cy="876.5" r="6.9" fill="#eff3f5"/>
<circle cx="214.8" cy="410.5" r="6.9" fill="#eff3f5"/>
<circle cx="537.0" cy="332.1" r="6.9" fill="#eff3f5"/>
<circle cx="947.9" cy="302.7" r="6.9" fill="#eff3f5"/>
<circle cx="964.6" cy="488.0" r="6.9" fill="#eff3f5"/>
<circle cx="707.2" cy="827.2" r="6.9" fill="#eff3f5"/>
<circle cx="837.8" cy="326.3" r="6.9" fill="#eff3f5"/>
<circle cx="981.5" cy="427.3" r="6.9" fill="#eff3f5"/>
<circle cx="368.6" cy="507.8" r="6.9" fill="#eff3f5"/>
<circle cx="491.1" cy="428.6" r="6.9" fill="#eff3f5"/>
<circle cx="322.1" cy="367.9" r="6.9" fill="#eff3f5"/>
<circle cx="753.7" cy="897.0" r="6.9" fill="#eff3f5"/>
<circle cx="456.5" cy="344.7" r="6.9" fill="#eff3f5"/>
<circle cx="713.6" cy="785.2" r="6.9" fill="#eff3f5"/>
<circle cx="532.1" cy="196.9" r="6.9" fill="#eff3f5"/>
<circle cx="434.9" cy="741.1" r="6.9" fill="#eff3f5"/>
<circle cx="327.4" cy="325.0" r="6.9" fill="#eff3f5"/>
<circle cx="257.9" cy="337.4" r="6.9" fill="#eff3f5"/>
<circle cx="783.7" cy="936.1" r="6.9" fill="#eff3f5"/>
<circle cx="886.2" cy="802.3" r="6.9" fill="#eff3f5"/>
<circle cx="367.0" cy="507.9" r="6.9" fill="#eff3f5"/>
<circle cx="1004.9" cy="272.3" r="6.9" fill="#eff3f5"/>
<circle cx="547.2" cy="274.4" r="6.9" fill="#eff3f5"/>
<circle cx="772.8" cy="735.8" r="6.9" fill="#eff3f5"/>
<circle cx="271.6" cy="351.2" r="6.9" fill="#eff3f5"/>
<circle cx="917.3" cy="937.5" r="6.9" fill="#eff3f5"/>
<circle cx="645.6" cy="282.2" r="6.9" fill="#eff3f5"/>
<circle cx="903.0" cy="405.6" r="6.9" fill="#eff3f5"/>
<circle cx="803.1" cy="848.2" r="6.9" fill="#eff3f5"/>
<circle cx="689.3" cy="934.1" r="6.9" fill="#eff3f5"/>
<circle cx="531.8" cy="315.4" r="6.9" fill="#eff3f5"/>
<circle cx="331.1" cy="496.7" r="6.9" fill="#eff3f5"/>
<circle cx="341.1" cy="496.1" r="6.9" fill="#eff3f5"/>
<circle cx="636.0" cy="258.6" r="6.9" fill="#eff3f5"/>
<circle cx="675.6" cy="676.6" r="6.9" fill="#eff3f5"/>
<circle cx="917.2" cy="928.4" r="6.9" fill="#eff3f5"/>
<circle cx="963.2" cy="441.2" r="6.9" fill="#eff3f5"/>
<circle cx="957.6" cy="323.4" r="6.9" fill="#eff3f5"/>
<circle cx="837.2" cy="821.3" r="6.9" fill="#eff3f5"/>
<circle cx="524.1" cy="954.3" r="6.9" fill="#eff3f5"/>
<circle cx="909.6" cy="832.4" r="6.9" fill="#eff3f5"/>
<circle cx="605.0" cy="211.2" r="6.9" fill="#eff3f5"/>
<circle cx="289.3" cy="337.0" r="6.9" fill="#eff3f5"/>
<circle cx="1032.9" cy="463.5" r="6.9" fill="#eff3f5"/>
<circle cx="738.7" cy="266.4" r="6.9" fill="#eff3f5"/>
<circle cx="338.5" cy="365.5" r="6.9" fill="#eff3f5"/>
<circle cx="329.1" cy="449.5" r="6.9" fill="#eff3f5"/>
<circle cx="529.6" cy="349.5" r="6.9" fill="#eff3f5"/>
<circle cx="416.3" cy="314.0" r="6.9" fill="#eff3f5"/>
<circle cx="487.9" cy="207.4" r="6.9" fill="#eff3f5"/>
<circle cx="971.2" cy="405.7" r="6.9" fill="#eff3f5"/>
<circle cx="689.2" cy="788.0" r="6.9" fill="#eff3f5"/>
<circle cx="522.5" cy="262.3" r="6.9" fill="#eff3f5"/>
<circle cx="411.8" cy="911.9" r="6.9" fill="#eff3f5"/>
<circle cx="862.2" cy="509.8" r="6.9" fill="#eff3f5"/>
<circle cx="705.3" cy="782.6" r="6.9" fill="#eff3f5"/>
<circle cx="884.0" cy="933.9" r="6.9" fill="#eff3f5"/>
<circle cx="343.2" cy="353.7" r="6.9" fill="#eff3f5"/>
<circle cx="981.0" cy="454.4" r="6.9" fill="#eff3f5"/>
<circle cx="730.1" cy="734.0" r="6.9" fill="#eff3f5"/>
<circle cx="478.5" cy="366.9" r="6.9" fill="#eff3f5"/>
<circle cx="484.0" cy="311.1" r="6.9" fill="#eff3f5"/>
<circle cx="418.0" cy="376.3" r="6.9" fill="#eff3f5"/>
<circle cx="1097.3" cy="472.1" r="6.9" fill="#eff3f5"/>
<circle cx="673.0" cy="868.2" r="6.9" fill="#eff3f5"/>
<circle cx="305.8" cy="462.2" r="6.9" fill="#eff3f5"/>
<circle cx="902.4" cy="507.8" r="6.9" fill="#eff3f5"/>
<circle cx="858.5" cy="888.0" r="6.9" fill="#eff3f5"/>
<circle cx="391.4" cy="377.9" r="6.9" fill="#eff3f5"/>
<circle cx="368.4" cy="295.4" r="6.9" fill="#eff3f5"/>
<circle cx="767.7" cy="847.4" r="6.9" fill="#eff3f5"/>
<circle cx="914.9" cy="416.0" r="6.9" fill="#eff3f5"/>
<circle cx="509.0" cy="327.3" r="6.9" fill="#eff3f5"/>
<circle cx="1006.3" cy="445.8" r="6.9" fill="#eff3f5"/>
<circle cx="411.5" cy="450.7" r="6.9" fill="#eff3f5"/>
<circle cx="726.2" cy="288.7" r="6.9" fill="#eff3f5"/>
<circle cx="866.4" cy="903.1" r="6.9" fill="#eff3f5"/>
<circle cx="658.2" cy="808.3" r="6.9" fill="#eff3f5"/>
<circle cx="974.9" cy="868.2" r="6.9" fill="#eff3f5"/>
<circle cx="374.7" cy="454.3" r="6.9" fill="#eff3f5"/>
<circle cx="667.7" cy="1058.0" r="6.9" fill="#eff3f5"/>
<circle cx="344.9" cy="383.2" r="6.9" fill="#eff3f5"/>
<circle cx="802.2" cy="281.1" r="6.9" fill="#eff3f5"/>
<circle cx="314.1" cy="551.4" r="6.9" fill="#eff3f5"/>
<circle cx="856.2" cy="914.5" r="6.9" fill="#eff3f5"/>
<circle cx="406.8" cy="233.5" r="6.9" fill="#eff3f5"/>
<circle cx="874.8" cy="354.5" r="6.9" fill="#eff3f5"/>
<circle cx="405.1" cy="407.8" r="6.9" fill="#eff3f5"/>
<circle cx="751.1" cy="841.4" r="6.9" fill="#eff3f5"/>
<circle cx="546.7" cy="194.6" r="6.9" fill="#eff3f5"/>
<circle cx="696.4" cy="296.4" r="6.9" fill="#eff3f5"/>
<circle cx="326.8" cy="924.2" r="6.9" fill="#eff3f5"/>
<circle cx="326.1" cy="294.7" r="6.9" fill="#eff3f5"/>
<circle cx="773.4" cy="284.8" r="6.9" fill="#eff3f5"/>
<circle cx="272.5" cy="415.2" r="6.9" fill="#eff3f5"/>
<circle cx="515.5" cy="308.3" r="6.9" fill="#eff3f5"/>
<circle cx="876.6" cy="918.6" r="6.9" fill="#eff3f5"/>
<circle cx="658.7" cy="962.6" r="6.9" fill="#eff3f5"/>
<circle cx="763.8" cy="813.5" r="6.9" fill="#eff3f5"/>
<circle cx="693.4" cy="766.7" r="6.9" fill="#eff3f5"/>
<circle cx="364.5" cy="305.5" r="6.9" fill="#eff3f5"/>
<circle cx="944.7" cy="407.7" r="6.9" fill="#eff3f5"/>
<circle cx="303.6" cy="405.2" r="6.9" fill="#eff3f5"/>
<circle cx="1035.7" cy="296.6" r="6.9" fill="#eff3f5"/>
<circle cx="770.9" cy="917.6" r="6.9" fill="#eff3f5"/>
<circle cx="362.6" cy="957.9" r="6.9" fill="#eff3f5"/>
<circle cx="830.8" cy="814.3" r="6.9" fill="#eff3f5"/>
<circle cx="828.1" cy="422.0" r="6.9" fill="#eff3f5"/>
<circle cx="754.8" cy="817.4" r="6.9" fill="#eff3f5"/>
<circle cx="752.6" cy="285.4" r="6.9" fill="#eff3f5"/>
<circle cx="728.3" cy="762.8" r="6.9" fill="#eff3f5"/>
<circle cx="685.1" cy="798.2" r="6.9" fill="#eff3f5"/>
<circle cx="455.8" cy="310.8" r="6.9" fill="#eff3f5"/>
<circle cx="692.7" cy="785.5" r="6.9" fill="#eff3f5"/>
<circle cx="594.6" cy="277.0" r="6.9" fill="#eff3f5"/>
<circle cx="909.6" cy="291.3" r="6.9" fill="#eff3f5"/>
<circle cx="1032.8" cy="271.0" r="6.9" fill="#eff3f5"/>
<circle cx="518.6" cy="258.3" r="6.9" fill="#eff3f5"/>
<circle cx="515.2" cy="304.0" r="6.9" fill="#eff3f5"/>
<circle cx="684.1" cy="774.9" r="6.9" fill="#eff3f5"/>
<circle cx="312.3" cy="454.5" r="6.9" fill="#eff3f5"/>
<circle cx="363.4" cy="265.0" r="6.9" fill="#eff3f5"/>
<circle cx="881.3" cy="388.4" r="6.9" fill="#eff3f5"/>
<circle cx="832.4" cy="843.9" r="6.9" fill="#eff3f5"/>
<circle cx="616.7" cy="233.5" r="6.9" fill="#eff3f5"/>
<circle cx="976.8" cy="305.1" r="6.9" fill="#eff3f5"/>
<circle cx="554.8" cy="243.3" r="6.9" fill="#eff3f5"/>
<circle cx="263.4" cy="407.8" r="6.9" fill="#eff3f5"/>
<circle cx="585.5" cy="281.9" r="6.9" fill="#eff3f5"/>
<circle cx="354.3" cy="945.7" r="6.9" fill="#eff3f5"/>
<circle cx="432.4" cy="308.1" r="6.9" fill="#eff3f5"/>
<circle cx="1055.9" cy="292.8" r="6.9" fill="#eff3f5"/>
<circle cx="806.9" cy="821.5" r="6.9" fill="#eff3f5"/>
<circle cx="868.4" cy="854.8" r="6.9" fill="#eff3f5"/>
<circle cx="304.6" cy="328.0" r="6.9" fill="#eff3f5"/>
<circle cx="311.9" cy="437.0" r="6.9" fill="#eff3f5"/>
<circle cx="915.5" cy="821.9" r="6.9" fill="#eff3f5"/>
<circle cx="1108.6" cy="515.3" r="6.9" fill="#eff3f5"/>
<circle cx="915.8" cy="905.7" r="6.9" fill="#eff3f5"/>
<circle cx="691.2" cy="373.6" r="6.9" fill="#eff3f5"/>
<circle cx="916.5" cy="490.3" r="6.9" fill="#eff3f5"/>
<circle cx="793.6" cy="936.1" r="6.9" fill="#eff3f5"/>
<circle cx="216.4" cy="414.0" r="6.9" fill="#eff3f5"/>
<circle cx="638.9" cy="234.5" r="6.9" fill="#eff3f5"/>
<circle cx="493.8" cy="332.1" r="6.9" fill="#eff3f5"/>
<circle cx="284.1" cy="396.5" r="6.9" fill="#eff3f5"/>
<circle cx="707.9" cy="368.2" r="6.9" fill="#eff3f5"/>
<circle cx="956.3" cy="813.0" r="6.9" fill="#eff3f5"/>
<circle cx="852.5" cy="896.5" r="6.9" fill="#eff3f5"/>
<circle cx="742.5" cy="252.0" r="6.9" fill="#eff3f5"/>
<circle cx="303.8" cy="537.3" r="6.9" fill="#eff3f5"/>
<circle cx="554.6" cy="307.7" r="6.9" fill="#eff3f5"/>
<circle cx="685.9" cy="1053.8" r="6.9" fill="#eff3f5"/>
<circle cx="835.1" cy="274.1" r="6.9" fill="#eff3f5"/>
<circle cx="804.1" cy="327.4" r="6.9" fill="#eff3f5"/>
<circle cx="365.6" cy="248.1" r="6.9" fill="#eff3f5"/>
<circle cx="335.6" cy="372.6" r="6.9" fill="#eff3f5"/>
<circle cx="871.7" cy="378.4" r="6.9" fill="#eff3f5"/>
<circle cx="468.9" cy="321.3" r="6.9" fill="#eff3f5"/>
<circle cx="1036.8" cy="263.5" r="6.9" fill="#eff3f5"/>
<circle cx="818.8" cy="315.2" r="6.9" fill="#eff3f5"/>
<circle cx="523.0" cy="898.2" r="6.9" fill="#eff3f5"/>
<circle cx="635.6" cy="829.2" r="6.9" fill="#eff3f5"/>
<circle cx="406.1" cy="492.6" r="6.9" fill="#eff3f5"/>
<circle cx="605.5" cy="748.9" r="6.9" fill="#eff3f5"/>
<circle cx="733.7" cy="804.5" r="6.9" fill="#eff3f5"/>
<circle cx="633.0" cy="768.2" r="6.9" fill="#eff3f5"/>
<circle cx="727.6" cy="753.4" r="6.9" fill="#eff3f5"/>
<circle cx="718.1" cy="294.2" r="6.9" fill="#eff3f5"/>
<circle cx="451.4" cy="432.4" r="6.9" fill="#eff3f5"/>
<circle cx="825.5" cy="924.3" r="6.9" fill="#eff3f5"/>
<circle cx="661.9" cy="356.0" r="6.9" fill="#eff3f5"/>
<circle cx="937.5" cy="409.0" r="6.9" fill="#eff3f5"/>
<circle cx="670.1" cy="215.4" r="6.9" fill="#eff3f5"/>
<circle cx="245.2" cy="322.8" r="6.9" fill="#eff3f5"/>
<circle cx="724.3" cy="826.1" r="6.9" fill="#eff3f5"/>
<circle cx="407.6" cy="873.2" r="6.9" fill="#eff3f5"/>
<circle cx="351.4" cy="484.5" r="6.9" fill="#eff3f5"/>
<circle cx="754.4" cy="826.6" r="6.9" fill="#eff3f5"/>
<circle cx="978.1" cy="792.7" r="6.9" fill="#eff3f5"/>
<circle cx="611.2" cy="308.2" r="6.9" fill="#eff3f5"/>
<circle cx="427.7" cy="252.6" r="6.9" fill="#eff3f5"/>
<circle cx="736.9" cy="241.0" r="6.9" fill="#eff3f5"/>
<circle cx="402.4" cy="273.9" r="6.9" fill="#eff3f5"/>
<circle cx="704.8" cy="373.7" r="6.9" fill="#eff3f5"/>
<circle cx="535.3" cy="337.0" r="6.9" fill="#eff3f5"/>
<circle cx="948.3" cy="345.6" r="6.9" fill="#eff3f5"/>
<circle cx="806.0" cy="886.8" r="6.9" fill="#eff3f5"/>
<circle cx="585.1" cy="1032.3" r="6.9" fill="#eff3f5"/>
<circle cx="863.6" cy="935.2" r="6.9" fill="#eff3f5"/>
<circle cx="955.8" cy="451.1" r="6.9" fill="#eff3f5"/>
<circle cx="585.0" cy="743.9" r="6.9" fill="#eff3f5"/>
<circle cx="547.2" cy="245.8" r="6.9" fill="#eff3f5"/>
<circle cx="944.0" cy="822.3" r="6.9" fill="#eff3f5"/>
<circle cx="432.5" cy="267.5" r="6.9" fill="#eff3f5"/>
<circle cx="444.0" cy="352.3" r="6.9" fill="#eff3f5"/>
<circle cx="433.7" cy="402.9" r="6.9" fill="#eff3f5"/>
<circle cx="406.2" cy="342.7" r="6.9" fill="#eff3f5"/>
<circle cx="412.4" cy="242.4" r="6.9" fill="#eff3f5"/>
<circle cx="596.8" cy="267.9" r="6.9" fill="#eff3f5"/>
<circle cx="855.1" cy="843.1" r="6.9" fill="#eff3f5"/>
<circle cx="864.3" cy="510.5" r="6.9" fill="#eff3f5"/>
<circle cx="904.0" cy="517.1" r="6.9" fill="#eff3f5"/>
<circle cx="668.0" cy="853.1" r="6.9" fill="#eff3f5"/>
<circle cx="915.7" cy="501.7" r="6.9" fill="#eff3f5"/>
<circle cx="834.8" cy="752.2" r="6.9" fill="#eff3f5"/>
<circle cx="688.5" cy="1036.0" r="6.9" fill="#eff3f5"/>
<circle cx="946.6" cy="456.8" r="6.9" fill="#eff3f5"/>
<circle cx="747.9" cy="910.1" r="6.9" fill="#eff3f5"/>
<circle cx="458.9" cy="247.7" r="6.9" fill="#eff3f5"/>
<circle cx="255.1" cy="324.4" r="6.9" fill="#eff3f5"/>
<circle cx="626.8" cy="947.4" r="6.9" fill="#eff3f5"/>
<circle cx="317.4" cy="282.1" r="6.9" fill="#eff3f5"/>
<circle cx="225.5" cy="385.1" r="6.9" fill="#eff3f5"/>
<circle cx="332.2" cy="416.1" r="6.9" fill="#eff3f5"/>
<circle cx="445.9" cy="331.6" r="6.9" fill="#eff3f5"/>
<circle cx="594.7" cy="781.9" r="6.9" fill="#eff3f5"/>
<circle cx="207.4" cy="405.9" r="6.9" fill="#eff3f5"/>
<circle cx="803.1" cy="296.6" r="6.9" fill="#eff3f5"/>
<circle cx="568.8" cy="855.1" r="6.9" fill="#eff3f5"/>
<circle cx="1089.5" cy="505.8" r="6.9" fill="#eff3f5"/>
<circle cx="462.6" cy="264.9" r="6.9" fill="#eff3f5"/>
<circle cx="688.5" cy="801.3" r="6.9" fill="#eff3f5"/>
<circle cx="576.5" cy="782.3" r="6.9" fill="#eff3f5"/>
<circle cx="673.6" cy="307.0" r="6.9" fill="#eff3f5"/>
<circle cx="786.2" cy="863.8" r="6.9" fill="#eff3f5"/>
<circle cx="638.4" cy="825.2" r="6.9" fill="#eff3f5"/>
<circle cx="733.1" cy="326.1" r="6.9" fill="#eff3f5"/>
<circle cx="469.2" cy="234.5" r="6.9" fill="#eff3f5"/>
<circle cx="871.3" cy="933.5" r="6.9" fill="#eff3f5"/>
<circle cx="505.4" cy="288.8" r="6.9" fill="#eff3f5"/>
<circle cx="965.8" cy="819.0" r="6.9" fill="#eff3f5"/>
<circle cx="371.6" cy="345.5" r="6.9" fill="#f8f3f1"/>
<circle cx="308.9" cy="488.5" r="6.9" fill="#f8f3f1"/>
<circle cx="426.1" cy="415.2" r="6.9" fill="#f8f3f1"/>
<circle cx="1024.7" cy="446.2" r="6.9" fill="#f8f3f1"/>
<circle cx="547.7" cy="327.4" r="6.9" fill="#f8f3f1"/>
<circle cx="376.5" cy="516.5" r="6.9" fill="#f8f3f1"/>
<circle cx="566.5" cy="304.0" r="6.9" fill="#f8f3f1"/>
<circle cx="848.9" cy="347.4" r="6.9" fill="#f8f3f1"/>
<circle cx="1017.9" cy="338.9" r="6.9" fill="#f8f3f1"/>
<circle cx="375.1" cy="436.0" r="6.9" fill="#f8f3f1"/>
<circle cx="633.6" cy="269.5" r="6.9" fill="#f8f3f1"/>
<circle cx="896.6" cy="836.7" r="6.9" fill="#f8f3f1"/>
<circle cx="788.1" cy="788.4" r="6.9" fill="#f8f3f1"/>
<circle cx="394.4" cy="416.1" r="6.9" fill="#f8f3f1"/>
<circle cx="793.9" cy="874.7" r="6.9" fill="#f8f3f1"/>
<circle cx="704.3" cy="390.0" r="6.9" fill="#f8f3f1"/>
<circle cx="421.4" cy="288.8" r="6.9" fill="#f8f3f1"/>
<circle cx="592.0" cy="264.8" r="6.9" fill="#f8f3f1"/>
<circle cx="342.8" cy="505.5" r="6.9" fill="#f8f3f1"/>
<circle cx="767.4" cy="302.2" r="6.9" fill="#f8f3f1"/>
<circle cx="696.3" cy="252.6" r="6.9" fill="#f8f3f1"/>
<circle cx="393.5" cy="430.3" r="6.9" fill="#f8f3f1"/>
<circle cx="828.5" cy="811.9" r="6.9" fill="#f8f3f1"/>
<circle cx="367.8" cy="254.2" r="6.9" fill="#f8f3f1"/>
<circle cx="413.1" cy="531.9" r="6.9" fill="#f8f3f1"/>
<circle cx="649.1" cy="1050.8" r="6.9" fill="#f8f3f1"/>
<circle cx="766.9" cy="823.8" r="6.9" fill="#f8f3f1"/>
<circle cx="385.3" cy="348.2" r="6.9" fill="#f8f3f1"/>
<circle cx="1013.5" cy="329.5" r="6.9" fill="#f8f3f1"/>
<circle cx="354.5" cy="316.3" r="6.9" fill="#f8f3f1"/>
<circle cx="823.5" cy="892.2" r="6.9" fill="#f8f3f1"/>
<circle cx="456.4" cy="283.4" r="6.9" fill="#f8f3f1"/>
<circle cx="794.5" cy="473.8" r="6.9" fill="#f8f3f1"/>
<circle cx="653.6" cy="254.7" r="6.9" fill="#f8f3f1"/>
<circle cx="443.2" cy="309.0" r="6.9" fill="#f8f3f1"/>
<circle cx="787.1" cy="850.4" r="6.9" fill="#f8f3f1"/>
<circle cx="814.5" cy="896.9" r="6.9" fill="#f8f3f1"/>
<circle cx="891.9" cy="950.7" r="6.9" fill="#f8f3f1"/>
<circle cx="607.2" cy="295.5" r="6.9" fill="#f8f3f1"/>
<circle cx="983.7" cy="457.3" r="6.9" fill="#f8f3f1"/>
<circle cx="486.4" cy="332.2" r="6.9" fill="#f8f3f1"/>
<circle cx="371.4" cy="944.2" r="6.9" fill="#f8f3f1"/>
<circle cx="868.9" cy="922.7" r="6.9" fill="#f8f3f1"/>
<circle cx="1012.7" cy="291.2" r="6.9" fill="#f8f3f1"/>
<circle cx="343.0" cy="936.8" r="6.9" fill="#f8f3f1"/>
<circle cx="327.6" cy="283.5" r="6.9" fill="#f8f3f1"/>
<circle cx="234.2" cy="471.5" r="6.9" fill="#f8f3f1"/>
<circle cx="368.7" cy="275.2" r="6.9" fill="#f8f3f1"/>
<circle cx="786.8" cy="810.6" r="6.9" fill="#f8f3f1"/>
<circle cx="462.3" cy="376.1" r="6.9" fill="#f8f3f1"/>
<circle cx="738.7" cy="844.8" r="6.9" fill="#f8f3f1"/>
<circle cx="316.6" cy="308.2" r="6.9" fill="#f8f3f1"/>
<circle cx="351.9" cy="248.0" r="6.9" fill="#f8f3f1"/>
<circle cx="945.8" cy="891.4" r="6.9" fill="#f8f3f1"/>
<circle cx="586.8" cy="296.5" r="6.9" fill="#f8f3f1"/>
<circle cx="478.1" cy="353.1" r="6.9" fill="#f8f3f1"/>
<circle cx="482.8" cy="222.2" r="6.9" fill="#f8f3f1"/>
<circle cx="701.4" cy="265.5" r="6.9" fill="#f8f3f1"/>
<circle cx="227.3" cy="327.1" r="6.9" fill="#f8f3f1"/>
<circle cx="1027.4" cy="338.1" r="6.9" fill="#f8f3f1"/>
<circle cx="493.0" cy="326.9" r="6.9" fill="#f8f3f1"/>
<circle cx="1058.4" cy="444.9" r="6.9" fill="#f8f3f1"/>
<circle cx="710.4" cy="744.4" r="6.9" fill="#f8f3f1"/>
<circle cx="514.1" cy="243.0" r="6.9" fill="#f8f3f1"/>
<circle cx="337.3" cy="387.6" r="6.9" fill="#f8f3f1"/>
<circle cx="485.8" cy="988.5" r="6.9" fill="#f8f3f1"/>
<circle cx="415.1" cy="323.9" r="6.9" fill="#f8f3f1"/>
<circle cx="533.4" cy="942.3" r="6.9" fill="#f8f3f1"/>
<circle cx="888.8" cy="901.1" r="6.9" fill="#f8f3f1"/>
<circle cx="738.3" cy="836.0" r="6.9" fill="#f8f3f1"/>
<circle cx="256.0" cy="404.6" r="6.9" fill="#f8f3f1"/>
<circle cx="805.0" cy="772.6" r="6.9" fill="#f8f3f1"/>
<circle cx="282.7" cy="311.1" r="6.9" fill="#f8f3f1"/>
<circle cx="392.9" cy="401.8" r="6.9" fill="#f8f3f1"/>
<circle cx="385.2" cy="926.8" r="6.9" fill="#f8f3f1"/>
<circle cx="549.8" cy="184.2" r="6.9" fill="#f8f3f1"/>
<circle cx="748.0" cy="246.1" r="6.9" fill="#f8f3f1"/>
<circle cx="676.8" cy="876.8" r="6.9" fill="#f8f3f1"/>
<circle cx="387.0" cy="242.0" r="6.9" fill="#f8f3f1"/>
<circle cx="1034.0" cy="482.8" r="6.9" fill="#f8f3f1"/>
<circle cx="434.9" cy="224.3" r="6.9" fill="#f8f3f1"/>
<circle cx="538.2" cy="935.7" r="6.9" fill="#f8f3f1"/>
<circle cx="902.8" cy="917.3" r="6.9" fill="#f8f3f1"/>
<circle cx="575.2" cy="297.5" r="6.9" fill="#f8f3f1"/>
<circle cx="743.7" cy="833.5" r="6.9" fill="#f8f3f1"/>
<circle cx="805.9" cy="838.9" r="6.9" fill="#f8f3f1"/>
<circle cx="756.5" cy="331.9" r="6.9" fill="#f8f3f1"/>
<circle cx="677.1" cy="281.4" r="6.9" fill="#f8f3f1"/>
<circle cx="211.8" cy="431.3" r="6.9" fill="#f8f3f1"/>
<circle cx="394.8" cy="398.5" r="6.9" fill="#f8f3f1"/>
<circle cx="748.9" cy="868.7" r="6.9" fill="#f8f3f1"/>
<circle cx="288.6" cy="491.1" r="6.9" fill="#f8f3f1"/>
<circle cx="925.5" cy="418.2" r="6.9" fill="#f8f3f1"/>
<circle cx="1013.6" cy="803.7" r="6.9" fill="#f8f3f1"/>
<circle cx="634.9" cy="294.7" r="6.9" fill="#f8f3f1"/>
<circle cx="882.9" cy="877.2" r="6.9" fill="#f8f3f1"/>
<circle cx="306.8" cy="311.3" r="6.9" fill="#f8f3f1"/>
<circle cx="844.4" cy="353.4" r="6.9" fill="#f8f3f1"/>
<circle cx="421.7" cy="355.7" r="6.9" fill="#f8f3f1"/>
<circle cx="902.3" cy="927.0" r="6.9" fill="#f8f3f1"/>
<circle cx="597.0" cy="245.7" r="6.9" fill="#f8f3f1"/>
<circle cx="642.7" cy="975.9" r="6.9" fill="#f8f3f1"/>
<circle cx="484.9" cy="367.0" r="6.9" fill="#f8f3f1"/>
<circle cx="226.8" cy="402.0" r="6.9" fill="#f8f3f1"/>
<circle cx="816.1" cy="750.8" r="6.9" fill="#f8f3f1"/>
<circle cx="732.7" cy="252.4" r="6.9" fill="#f8f3f1"/>
<circle cx="692.8" cy="328.6" r="6.9" fill="#f8f3f1"/>
<circle cx="531.1" cy="271.3" r="6.9" fill="#f8f3f1"/>
<circle cx="924.0" cy="311.1" r="6.9" fill="#f8f3f1"/>
<circle cx="365.8" cy="295.8" r="6.9" fill="#f8f3f1"/>
<circle cx="702.3" cy="819.0" r="6.9" fill="#f8f3f1"/>
<circle cx="974.8" cy="405.3" r="6.9" fill="#f8f3f1"/>
<circle cx="565.2" cy="234.3" r="6.9" fill="#f8f3f1"/>
<circle cx="954.7" cy="311.9" r="6.9" fill="#f8f3f1"/>
<circle cx="882.2" cy="428.1" r="6.9" fill="#f8f3f1"/>
<circle cx="411.7" cy="404.7" r="6.9" fill="#f8f3f1"/>
<circle cx="754.7" cy="297.4" r="6.9" fill="#f8f3f1"/>
<circle cx="965.4" cy="426.8" r="6.9" fill="#f8f3f1"/>
<circle cx="376.1" cy="286.6" r="6.9" fill="#f8f3f1"/>
<circle cx="677.6" cy="253.6" r="6.9" fill="#f8f3f1"/>
<circle cx="377.0" cy="377.7" r="6.9" fill="#f8f3f1"/>
<circle cx="492.4" cy="376.1" r="6.9" fill="#f8f3f1"/>
<circle cx="536.2" cy="298.4" r="6.9" fill="#f8f3f1"/>
<circle cx="464.9" cy="231.6" r="6.9" fill="#f8f3f1"/>
<circle cx="375.5" cy="324.4" r="6.9" fill="#f8f3f1"/>
<circle cx="924.4" cy="492.8" r="6.9" fill="#f8f3f1"/>
<circle cx="667.0" cy="810.4" r="6.9" fill="#f8f3f1"/>
<circle cx="683.1" cy="267.2" r="6.9" fill="#f8f3f1"/>
<circle cx="887.4" cy="912.7" r="6.9" fill="#f8f3f1"/>
<circle cx="654.8" cy="277.2" r="6.9" fill="#f8f3f1"/>
<circle cx="918.4" cy="517.3" r="6.9" fill="#f8f3f1"/>
<circle cx="225.2" cy="427.3" r="6.9" fill="#f8f3f1"/>
<circle cx="631.5" cy="751.3" r="6.9" fill="#f8f3f1"/>
<circle cx="737.4" cy="233.4" r="6.9" fill="#f8f3f1"/>
<circle cx="412.6" cy="347.0" r="6.9" fill="#f8f3f1"/>
<circle cx="927.6" cy="883.1" r="6.9" fill="#f8f3f1"/>
<circle cx="606.5" cy="1008.9" r="6.9" fill="#f8f3f1"/>
<circle cx="356.3" cy="931.2" r="6.9" fill="#f8f3f1"/>
<circle cx="955.5" cy="885.0" r="6.9" fill="#f8f3f1"/>
<circle cx="412.6" cy="332.0" r="6.9" fill="#f8f3f1"/>
<circle cx="285.3" cy="324.3" r="6.9" fill="#f8f3f1"/>
<circle cx="882.3" cy="417.1" r="6.9" fill="#f8f3f1"/>
<circle cx="387.0" cy="521.0" r="6.9" fill="#f8f3f1"/>
<circle cx="288.3" cy="385.5" r="6.9" fill="#f8f3f1"/>
<circle cx="667.6" cy="332.7" r="6.9" fill="#f8f3f1"/>
<circle cx="811.7" cy="863.5" r="6.9" fill="#f8f3f1"/>
<circle cx="455.6" cy="228.4" r="6.9" fill="#f8f3f1"/>
<circle cx="714.1" cy="375.9" r="6.9" fill="#f8f3f1"/>
<circle cx="653.9" cy="777.5" r="6.9" fill="#f8f3f1"/>
<circle cx="784.2" cy="881.9" r="6.9" fill="#f8f3f1"/>
<circle cx="723.1" cy="836.6" r="6.9" fill="#f8f3f1"/>
<circle cx="805.0" cy="867.1" r="6.9" fill="#f8f3f1"/>
<circle cx="371.3" cy="528.8" r="6.9" fill="#f8f3f1"/>
<circle cx="288.8" cy="467.9" r="6.9" fill="#f8f3f1"/>
<circle cx="807.1" cy="454.8" r="6.9" fill="#f8f3f1"/>
<circle cx="897.1" cy="929.4" r="6.9" fill="#f8f3f1"/>
<circle cx="906.6" cy="314.6" r="6.9" fill="#f8f3f1"/>
<circle cx="345.2" cy="427.1" r="6.9" fill="#f8f3f1"/>
<circle cx="692.0" cy="404.9" r="6.9" fill="#f8f3f1"/>
<circle cx="336.7" cy="325.3" r="6.9" fill="#f8f3f1"/>
<circle cx="725.2" cy="751.5" r="6.9" fill="#f8f3f1"/>
<circle cx="884.2" cy="855.6" r="6.9" fill="#f8f3f1"/>
<circle cx="508.2" cy="186.5" r="6.9" fill="#f8f3f1"/>
<circle cx="624.4" cy="778.4" r="6.9" fill="#f8f3f1"/>
<circle cx="1085.1" cy="495.4" r="6.9" fill="#f8f3f1"/>
<circle cx="523.4" cy="253.7" r="6.9" fill="#f8f3f1"/>
<circle cx="464.7" cy="317.4" r="6.9" fill="#f8f3f1"/>
<circle cx="509.4" cy="364.5" r="6.9" fill="#f8f3f1"/>
<circle cx="548.8" cy="227.9" r="6.9" fill="#f8f3f1"/>
<circle cx="376.5" cy="428.2" r="6.9" fill="#f8f3f1"/>
<circle cx="976.4" cy="823.4" r="6.9" fill="#f8f3f1"/>
<circle cx="1084.6" cy="467.5" r="6.9" fill="#f8f3f1"/>
<circle cx="604.8" cy="764.7" r="6.9" fill="#f8f3f1"/>
<circle cx="398.7" cy="523.1" r="6.9" fill="#f8f3f1"/>
<circle cx="317.3" cy="282.3" r="6.9" fill="#f8f3f1"/>
<circle cx="1017.4" cy="452.1" r="6.9" fill="#f8f3f1"/>
<circle cx="316.0" cy="477.0" r="6.9" fill="#f8f3f1"/>
<circle cx="536.5" cy="333.9" r="6.9" fill="#f8f3f1"/>
<circle cx="976.9" cy="855.7" r="6.9" fill="#f8f3f1"/>
<circle cx="387.8" cy="443.7" r="6.9" fill="#f8f3f1"/>
<circle cx="794.9" cy="807.6" r="6.9" fill="#f8f3f1"/>
<circle cx="655.3" cy="769.0" r="6.9" fill="#f8f3f1"/>
<circle cx="730.4" cy="857.4" r="6.9" fill="#f8f3f1"/>
<circle cx="731.1" cy="854.7" r="6.9" fill="#f8f3f1"/>
<circle cx="384.9" cy="268.2" r="6.9" fill="#f8f3f1"/>
<circle cx="966.7" cy="754.0" r="6.9" fill="#f8f3f1"/>
<circle cx="866.9" cy="411.9" r="6.9" fill="#f8f3f1"/>
<circle cx="1068.0" cy="471.5" r="6.9" fill="#f8f3f1"/>
<circle cx="407.7" cy="476.2" r="6.9" fill="#f8f3f1"/>
<circle cx="968.2" cy="311.3" r="6.9" fill="#f8f3f1"/>
<circle cx="421.8" cy="264.9" r="6.9" fill="#f8f3f1"/>
<circle cx="1002.2" cy="455.1" r="6.9" fill="#f8f3f1"/>
<circle cx="429.5" cy="413.4" r="6.9" fill="#f8f3f1"/>
<circle cx="502.7" cy="944.4" r="6.9" fill="#f8f3f1"/>
<circle cx="371.9" cy="271.9" r="6.9" fill="#f8f3f1"/>
<circle cx="517.1" cy="225.1" r="6.9" fill="#f8f3f1"/>
<circle cx="557.4" cy="330.5" r="6.9" fill="#f8f3f1"/>
<circle cx="948.2" cy="324.5" r="6.9" fill="#f8f3f1"/>
<circle cx="395.6" cy="318.6" r="6.9" fill="#f8f3f1"/>
<circle cx="721.6" cy="774.6" r="6.9" fill="#f8f3f1"/>
<circle cx="392.4" cy="348.9" r="6.9" fill="#f8f3f1"/>
<circle cx="1027.4" cy="474.8" r="6.9" fill="#f8f3f1"/>
<circle cx="842.5" cy="921.5" r="6.9" fill="#f8f3f1"/>
<circle cx="753.2" cy="256.3" r="6.9" fill="#fce7dd"/>
<circle cx="809.3" cy="843.4" r="6.9" fill="#fce7dd"/>
<circle cx="855.6" cy="434.5" r="6.9" fill="#fce7dd"/>
<circle cx="946.1" cy="317.9" r="6.9" fill="#fce7dd"/>
<circle cx="742.1" cy="897.4" r="6.9" fill="#fce7dd"/>
<circle cx="432.0" cy="271.8" r="6.9" fill="#fce7dd"/>
<circle cx="770.1" cy="816.9" r="6.9" fill="#fce7dd"/>
<circle cx="1014.9" cy="444.9" r="6.9" fill="#fce7dd"/>
<circle cx="727.1" cy="805.0" r="6.9" fill="#fce7dd"/>
<circle cx="607.1" cy="244.9" r="6.9" fill="#fce7dd"/>
<circle cx="752.4" cy="834.3" r="6.9" fill="#fce7dd"/>
<circle cx="555.7" cy="286.5" r="6.9" fill="#fce7dd"/>
<circle cx="1047.4" cy="477.8" r="6.9" fill="#fce7dd"/>
<circle cx="485.4" cy="354.9" r="6.9" fill="#fce7dd"/>
<circle cx="377.2" cy="381.8" r="6.9" fill="#fce7dd"/>
<circle cx="881.4" cy="424.4" r="6.9" fill="#fce7dd"/>
<circle cx="386.2" cy="930.8" r="6.9" fill="#fce7dd"/>
<circle cx="688.1" cy="416.8" r="6.9" fill="#fce7dd"/>
<circle cx="1047.1" cy="497.4" r="6.9" fill="#fce7dd"/>
<circle cx="1016.8" cy="327.9" r="6.9" fill="#fce7dd"/>
<circle cx="935.9" cy="934.1" r="6.9" fill="#fce7dd"/>
<circle cx="386.8" cy="935.8" r="6.9" fill="#fce7dd"/>
<circle cx="749.8" cy="954.3" r="6.9" fill="#fce7dd"/>
<circle cx="427.9" cy="296.0" r="6.9" fill="#fce7dd"/>
<circle cx="209.2" cy="388.7" r="6.9" fill="#fce7dd"/>
<circle cx="833.1" cy="831.1" r="6.9" fill="#fce7dd"/>
<circle cx="524.2" cy="932.2" r="6.9" fill="#fce7dd"/>
<circle cx="1074.1" cy="494.0" r="6.9" fill="#fce7dd"/>
<circle cx="736.9" cy="303.1" r="6.9" fill="#fce7dd"/>
<circle cx="424.0" cy="397.2" r="6.9" fill="#fce7dd"/>
<circle cx="352.7" cy="431.4" r="6.9" fill="#fce7dd"/>
<circle cx="462.4" cy="251.3" r="6.9" fill="#fce7dd"/>
<circle cx="294.5" cy="475.5" r="6.9" fill="#fce7dd"/>
<circle cx="514.2" cy="312.9" r="6.9" fill="#fce7dd"/>
<circle cx="441.4" cy="273.3" r="6.9" fill="#fce7dd"/>
<circle cx="825.6" cy="334.2" r="6.9" fill="#fce7dd"/>
<circle cx="536.0" cy="932.5" r="6.9" fill="#fce7dd"/>
<circle cx="725.7" cy="825.9" r="6.9" fill="#fce7dd"/>
<circle cx="945.7" cy="884.3" r="6.9" fill="#fce7dd"/>
<circle cx="453.3" cy="375.1" r="6.9" fill="#fce7dd"/>
<circle cx="362.4" cy="945.3" r="6.9" fill="#fce7dd"/>
<circle cx="685.3" cy="403.3" r="6.9" fill="#fce7dd"/>
<circle cx="835.2" cy="307.7" r="6.9" fill="#fce7dd"/>
<circle cx="618.9" cy="245.5" r="6.9" fill="#fce7dd"/>
<circle cx="725.8" cy="303.6" r="6.9" fill="#fce7dd"/>
<circle cx="624.0" cy="243.4" r="6.9" fill="#fce7dd"/>
<circle cx="661.4" cy="292.9" r="6.9" fill="#fce7dd"/>
<circle cx="252.6" cy="314.7" r="6.9" fill="#fce7dd"/>
<circle cx="848.2" cy="336.9" r="6.9" fill="#fce7dd"/>
<circle cx="295.3" cy="305.8" r="6.9" fill="#fce7dd"/>
<circle cx="847.8" cy="834.8" r="6.9" fill="#fce7dd"/>
<circle cx="625.8" cy="278.7" r="6.9" fill="#fce7dd"/>
<circle cx="721.1" cy="818.6" r="6.9" fill="#fce7dd"/>
<circle cx="736.9" cy="813.6" r="6.9" fill="#fce7dd"/>
<circle cx="294.4" cy="511.1" r="6.9" fill="#fce7dd"/>
<circle cx="623.3" cy="745.4" r="6.9" fill="#fce7dd"/>
<circle cx="305.2" cy="496.4" r="6.9" fill="#fce7dd"/>
<circle cx="643.0" cy="285.1" r="6.9" fill="#fce7dd"/>
<circle cx="745.7" cy="827.0" r="6.9" fill="#fce7dd"/>
<circle cx="767.1" cy="271.8" r="6.9" fill="#fce7dd"/>
<circle cx="807.2" cy="844.0" r="6.9" fill="#fce7dd"/>
<circle cx="745.4" cy="813.6" r="6.9" fill="#fce7dd"/>
<circle cx="454.0" cy="346.9" r="6.9" fill="#fce7dd"/>
<circle cx="842.1" cy="933.3" r="6.9" fill="#fce7dd"/>
<circle cx="695.2" cy="743.5" r="6.9" fill="#fce7dd"/>
<circle cx="356.0" cy="448.6" r="6.9" fill="#fce7dd"/>
<circle cx="865.2" cy="417.6" r="6.9" fill="#fce7dd"/>
<circle cx="951.3" cy="490.8" r="6.9" fill="#fce7dd"/>
<circle cx="744.2" cy="785.2" r="6.9" fill="#fce7dd"/>
<circle cx="1003.6" cy="461.5" r="6.9" fill="#fce7dd"/>
<circle cx="651.1" cy="205.0" r="6.9" fill="#fce7dd"/>
<circle cx="751.9" cy="231.8" r="6.9" fill="#fce7dd"/>
<circle cx="933.5" cy="306.4" r="6.9" fill="#fce7dd"/>
<circle cx="954.4" cy="890.0" r="6.9" fill="#fce7dd"/>
<circle cx="603.8" cy="223.3" r="6.9" fill="#fce7dd"/>
<circle cx="491.1" cy="368.0" r="6.9" fill="#fce7dd"/>
<circle cx="467.5" cy="333.7" r="6.9" fill="#fce7dd"/>
<circle cx="303.4" cy="376.8" r="6.9" fill="#fce7dd"/>
<circle cx="497.7" cy="378.2" r="6.9" fill="#fce7dd"/>
<circle cx="334.1" cy="930.0" r="6.9" fill="#fce7dd"/>
<circle cx="835.2" cy="883.0" r="6.9" fill="#fce7dd"/>
<circle cx="365.1" cy="421.9" r="6.9" fill="#fce7dd"/>
<circle cx="744.3" cy="762.2" r="6.9" fill="#fce7dd"/>
<circle cx="571.5" cy="235.0" r="6.9" fill="#fce7dd"/>
<circle cx="835.5" cy="881.5" r="6.9" fill="#fce7dd"/>
<circle cx="375.5" cy="957.1" r="6.9" fill="#fce7dd"/>
<circle cx="796.0" cy="783.1" r="6.9" fill="#fce7dd"/>
<circle cx="373.7" cy="392.4" r="6.9" fill="#fce7dd"/>
<circle cx="894.5" cy="866.1" r="6.9" fill="#fce7dd"/>
<circle cx="1129.4" cy="509.7" r="6.9" fill="#fce7dd"/>
<circle cx="496.8" cy="356.6" r="6.9" fill="#fce7dd"/>
<circle cx="861.4" cy="823.4" r="6.9" fill="#fce7dd"/>
<circle cx="995.5" cy="453.7" r="6.9" fill="#fce7dd"/>
<circle cx="1065.8" cy="447.2" r="6.9" fill="#fce7dd"/>
<circle cx="913.2" cy="882.0" r="6.9" fill="#fce7dd"/>
<circle cx="724.5" cy="805.9" r="6.9" fill="#fce7dd"/>
<circle cx="335.3" cy="935.5" r="6.9" fill="#fce7dd"/>
<circle cx="295.8" cy="293.9" r="6.9" fill="#fce7dd"/>
<circle cx="835.4" cy="324.4" r="6.9" fill="#fce7dd"/>
<circle cx="806.2" cy="767.8" r="6.9" fill="#fce7dd"/>
<circle cx="782.1" cy="266.4" r="6.9" fill="#fce7dd"/>
<circle cx="1085.0" cy="509.6" r="6.9" fill="#fce7dd"/>
<circle cx="634.7" cy="223.5" r="6.9" fill="#fce7dd"/>
<circle cx="866.1" cy="928.6" r="6.9" fill="#fce7dd"/>
<circle cx="416.4" cy="557.1" r="6.9" fill="#fce7dd"/>
<circle cx="893.5" cy="913.1" r="6.9" fill="#fce7dd"/>
<circle cx="503.6" cy="226.8" r="6.9" fill="#fce7dd"/>
<circle cx="772.2" cy="784.1" r="6.9" fill="#fce7dd"/>
<circle cx="706.6" cy="744.1" r="6.9" fill="#fce7dd"/>
<circle cx="383.9" cy="411.1" r="6.9" fill="#fce7dd"/>
<circle cx="1023.1" cy="483.4" r="6.9" fill="#fce7dd"/>
<circle cx="876.8" cy="872.3" r="6.9" fill="#fce7dd"/>
<circle cx="732.3" cy="278.7" r="6.9" fill="#fce7dd"/>
<circle cx="321.3" cy="314.5" r="6.9" fill="#fce7dd"/>
<circle cx="545.7" cy="311.9" r="6.9" fill="#fce7dd"/>
<circle cx="453.9" cy="363.6" r="6.9" fill="#fce7dd"/>
<circle cx="709.2" cy="833.3" r="6.9" fill="#fce7dd"/>
<circle cx="791.6" cy="796.5" r="6.9" fill="#fce7dd"/>
<circle cx="784.7" cy="857.4" r="6.9" fill="#fce7dd"/>
<circle cx="402.9" cy="414.5" r="6.9" fill="#fce7dd"/>
<circle cx="904.6" cy="301.7" r="6.9" fill="#fce7dd"/>
<circle cx="349.4" cy="288.3" r="6.9" fill="#fce7dd"/>
<circle cx="603.9" cy="326.3" r="6.9" fill="#fce7dd"/>
<circle cx="621.6" cy="298.6" r="6.9" fill="#fce7dd"/>
<circle cx="591.2" cy="791.9" r="6.9" fill="#fce7dd"/>
<circle cx="378.3" cy="333.6" r="6.9" fill="#fce7dd"/>
<circle cx="864.0" cy="505.0" r="6.9" fill="#fce7dd"/>
<circle cx="806.7" cy="926.9" r="6.9" fill="#fce7dd"/>
<circle cx="851.4" cy="832.9" r="6.9" fill="#fce7dd"/>
<circle cx="491.9" cy="261.4" r="6.9" fill="#fce7dd"/>
<circle cx="774.0" cy="837.5" r="6.9" fill="#fce7dd"/>
<circle cx="547.0" cy="257.3" r="6.9" fill="#fce7dd"/>
<circle cx="612.1" cy="805.7" r="6.9" fill="#fce7dd"/>
<circle cx="825.0" cy="827.5" r="6.9" fill="#fce7dd"/>
<circle cx="543.2" cy="287.0" r="6.9" fill="#fce7dd"/>
<circle cx="387.3" cy="466.6" r="6.9" fill="#fce7dd"/>
<circle cx="614.6" cy="762.5" r="6.9" fill="#fce7dd"/>
<circle cx="1091.7" cy="497.2" r="6.9" fill="#fce7dd"/>
<circle cx="335.7" cy="314.6" r="6.9" fill="#fce7dd"/>
<circle cx="805.8" cy="349.6" r="6.9" fill="#fce7dd"/>
<circle cx="1046.4" cy="434.0" r="6.9" fill="#fce7dd"/>
<circle cx="865.5" cy="355.4" r="6.9" fill="#fce7dd"/>
<circle cx="291.7" cy="416.2" r="6.9" fill="#fce7dd"/>
<circle cx="387.6" cy="253.0" r="6.9" fill="#fce7dd"/>
<circle cx="419.0" cy="266.4" r="6.9" fill="#fbdbc8"/>
<circle cx="494.1" cy="285.4" r="6.9" fill="#fbdbc8"/>
<circle cx="373.1" cy="434.9" r="6.9" fill="#fbdbc8"/>
<circle cx="508.0" cy="312.3" r="6.9" fill="#fbdbc8"/>
<circle cx="412.1" cy="252.8" r="6.9" fill="#fbdbc8"/>
<circle cx="521.3" cy="315.8" r="6.9" fill="#fbdbc8"/>
<circle cx="826.1" cy="826.9" r="6.9" fill="#fbdbc8"/>
<circle cx="1056.4" cy="344.1" r="6.9" fill="#fbdbc8"/>
<circle cx="533.8" cy="322.3" r="6.9" fill="#fbdbc8"/>
<circle cx="524.8" cy="242.1" r="6.9" fill="#fbdbc8"/>
<circle cx="832.3" cy="936.0" r="6.9" fill="#fbdbc8"/>
<circle cx="402.7" cy="273.8" r="6.9" fill="#fbdbc8"/>
<circle cx="332.5" cy="316.8" r="6.9" fill="#fbdbc8"/>
<circle cx="538.0" cy="211.7" r="6.9" fill="#fbdbc8"/>
<circle cx="325.1" cy="343.3" r="6.9" fill="#fbdbc8"/>
<circle cx="845.6" cy="932.9" r="6.9" fill="#fbdbc8"/>
<circle cx="1112.5" cy="495.6" r="6.9" fill="#fbdbc8"/>
<circle cx="769.4" cy="308.4" r="6.9" fill="#fbdbc8"/>
<circle cx="411.2" cy="929.5" r="6.9" fill="#fbdbc8"/>
<circle cx="706.8" cy="831.1" r="6.9" fill="#fbdbc8"/>
<circle cx="1016.1" cy="331.7" r="6.9" fill="#fbdbc8"/>
<circle cx="602.5" cy="234.6" r="6.9" fill="#fbdbc8"/>
<circle cx="957.5" cy="895.2" r="6.9" fill="#fbdbc8"/>
<circle cx="514.6" cy="342.9" r="6.9" fill="#fbdbc8"/>
<circle cx="769.0" cy="297.8" r="6.9" fill="#fbdbc8"/>
<circle cx="716.6" cy="834.6" r="6.9" fill="#fbdbc8"/>
<circle cx="302.8" cy="422.9" r="6.9" fill="#fbdbc8"/>
<circle cx="1037.3" cy="491.9" r="6.9" fill="#fbdbc8"/>
<circle cx="896.0" cy="512.7" r="6.9" fill="#fbdbc8"/>
<circle cx="1014.7" cy="304.7" r="6.9" fill="#fbdbc8"/>
<circle cx="964.3" cy="316.2" r="6.9" fill="#fbdbc8"/>
<circle cx="537.9" cy="272.5" r="6.9" fill="#fbdbc8"/>
<circle cx="434.9" cy="327.3" r="6.9" fill="#fbdbc8"/>
<circle cx="756.7" cy="845.8" r="6.9" fill="#fbdbc8"/>
<circle cx="458.1" cy="321.7" r="6.9" fill="#fbdbc8"/>
<circle cx="538.0" cy="262.1" r="6.9" fill="#fbdbc8"/>
<circle cx="284.4" cy="474.4" r="6.9" fill="#fbdbc8"/>
<circle cx="928.5" cy="891.4" r="6.9" fill="#fbdbc8"/>
<circle cx="756.9" cy="822.1" r="6.9" fill="#fbdbc8"/>
<circle cx="465.3" cy="987.9" r="6.9" fill="#fbdbc8"/>
<circle cx="786.2" cy="925.6" r="6.9" fill="#fbdbc8"/>
<circle cx="373.7" cy="927.6" r="6.9" fill="#fbdbc8"/>
<circle cx="713.3" cy="816.1" r="6.9" fill="#fbdbc8"/>
<circle cx="1012.8" cy="295.0" r="6.9" fill="#fbdbc8"/>
<circle cx="845.7" cy="885.0" r="6.9" fill="#fbdbc8"/>
<circle cx="711.1" cy="257.8" r="6.9" fill="#fbdbc8"/>
<circle cx="757.7" cy="874.0" r="6.9" fill="#fbdbc8"/>
<circle cx="873.7" cy="927.2" r="6.9" fill="#fbdbc8"/>
<circle cx="768.6" cy="869.5" r="6.9" fill="#fbdbc8"/>
<circle cx="484.6" cy="362.3" r="6.9" fill="#fbdbc8"/>
<circle cx="758.9" cy="761.1" r="6.9" fill="#fbdbc8"/>
<circle cx="776.7" cy="797.2" r="6.9" fill="#fbdbc8"/>
<circle cx="1073.6" cy="453.9" r="6.9" fill="#fbdbc8"/>
<circle cx="914.2" cy="309.0" r="6.9" fill="#fbdbc8"/>
<circle cx="757.0" cy="797.4" r="6.9" fill="#fbdbc8"/>
<circle cx="369.2" cy="923.2" r="6.9" fill="#fbdbc8"/>
<circle cx="1085.6" cy="475.3" r="6.9" fill="#fbdbc8"/>
<circle cx="851.4" cy="425.8" r="6.9" fill="#fbdbc8"/>
<circle cx="447.4" cy="234.4" r="6.9" fill="#fbdbc8"/>
<circle cx="794.4" cy="792.7" r="6.9" fill="#fbdbc8"/>
<circle cx="1107.7" cy="483.9" r="6.9" fill="#fbdbc8"/>
<circle cx="764.0" cy="269.7" r="6.9" fill="#fbdbc8"/>
<circle cx="744.8" cy="791.0" r="6.9" fill="#fbdbc8"/>
<circle cx="685.6" cy="783.1" r="6.9" fill="#fbdbc8"/>
<circle cx="332.9" cy="294.6" r="6.9" fill="#fbdbc8"/>
<circle cx="694.4" cy="268.6" r="6.9" fill="#fbdbc8"/>
<circle cx="709.5" cy="393.5" r="6.9" fill="#fbdbc8"/>
<circle cx="1016.4" cy="486.4" r="6.9" fill="#fbdbc8"/>
<circle cx="418.9" cy="444.3" r="6.9" fill="#fbdbc8"/>
<circle cx="334.1" cy="426.2" r="6.9" fill="#fbdbc8"/>
<circle cx="913.2" cy="892.3" r="6.9" fill="#fbdbc8"/>
<circle cx="405.8" cy="223.3" r="6.9" fill="#fbdbc8"/>
<circle cx="902.0" cy="501.3" r="6.9" fill="#fbdbc8"/>
<circle cx="477.4" cy="228.7" r="6.9" fill="#fbdbc8"/>
<circle cx="1108.7" cy="488.8" r="6.9" fill="#fbdbc8"/>
<circle cx="862.9" cy="514.9" r="6.9" fill="#fbdbc8"/>
<circle cx="471.0" cy="314.4" r="6.9" fill="#fbdbc8"/>
<circle cx="243.3" cy="402.0" r="6.9" fill="#fbdbc8"/>
<circle cx="748.5" cy="763.4" r="6.9" fill="#fbdbc8"/>
<circle cx="692.5" cy="361.9" r="6.9" fill="#fbdbc8"/>
<circle cx="686.0" cy="773.3" r="6.9" fill="#fbdbc8"/>
<circle cx="805.1" cy="896.3" r="6.9" fill="#fbdbc8"/>
<circle cx="871.7" cy="901.9" r="6.9" fill="#fbdbc8"/>
<circle cx="689.0" cy="252.3" r="6.9" fill="#fbdbc8"/>
<circle cx="274.5" cy="387.3" r="6.9" fill="#fbdbc8"/>
<circle cx="851.1" cy="353.5" r="6.9" fill="#fbdbc8"/>
<circle cx="1044.9" cy="484.9" r="6.9" fill="#fbdbc8"/>
<circle cx="964.4" cy="413.1" r="6.9" fill="#fbdbc8"/>
<circle cx="704.0" cy="291.1" r="6.9" fill="#fbdbc8"/>
<circle cx="688.4" cy="293.4" r="6.9" fill="#fbdbc8"/>
<circle cx="734.0" cy="764.2" r="6.9" fill="#fbdbc8"/>
<circle cx="266.8" cy="417.9" r="6.9" fill="#fbdbc8"/>
<circle cx="898.6" cy="904.3" r="6.9" fill="#fbdbc8"/>
<circle cx="369.5" cy="942.3" r="6.9" fill="#fbdbc8"/>
<circle cx="415.6" cy="363.5" r="6.9" fill="#fbdbc8"/>
<circle cx="934.5" cy="484.8" r="6.9" fill="#fbdbc8"/>
<circle cx="713.5" cy="801.3" r="6.9" fill="#fbdbc8"/>
<circle cx="657.4" cy="766.4" r="6.9" fill="#fbdbc8"/>
<circle cx="811.1" cy="843.4" r="6.9" fill="#fbdbc8"/>
<circle cx="565.8" cy="190.5" r="6.9" fill="#fbdbc8"/>
<circle cx="693.1" cy="248.6" r="6.9" fill="#fbdbc8"/>
<circle cx="691.4" cy="807.8" r="6.9" fill="#fbdbc8"/>
<circle cx="650.3" cy="216.3" r="6.9" fill="#fbdbc8"/>
<circle cx="388.8" cy="442.8" r="6.9" fill="#fbdbc8"/>
<circle cx="892.9" cy="925.2" r="6.9" fill="#fbdbc8"/>
<circle cx="894.5" cy="389.2" r="6.9" fill="#fbdbc8"/>
<circle cx="883.4" cy="916.6" r="6.9" fill="#fbdbc8"/>
<circle cx="233.8" cy="405.5" r="6.9" fill="#fbdbc8"/>
<circle cx="744.6" cy="775.5" r="6.9" fill="#fbdbc8"/>
<circle cx="296.4" cy="355.5" r="6.9" fill="#f4bda3"/>
<circle cx="371.9" cy="413.6" r="6.9" fill="#f4bda3"/>
<circle cx="818.7" cy="805.4" r="6.9" fill="#f4bda3"/>
<circle cx="385.7" cy="423.1" r="6.9" fill="#f4bda3"/>
<circle cx="752.8" cy="854.5" r="6.9" fill="#f4bda3"/>
<circle cx="816.6" cy="876.5" r="6.9" fill="#f4bda3"/>
<circle cx="823.4" cy="865.0" r="6.9" fill="#f4bda3"/>
<circle cx="711.5" cy="818.4" r="6.9" fill="#f4bda3"/>
<circle cx="328.1" cy="477.7" r="6.9" fill="#f4bda3"/>
<circle cx="734.1" cy="832.2" r="6.9" fill="#f4bda3"/>
<circle cx="1132.8" cy="489.4" r="6.9" fill="#f4bda3"/>
<circle cx="645.7" cy="247.3" r="6.9" fill="#f4bda3"/>
<circle cx="835.9" cy="853.8" r="6.9" fill="#f4bda3"/>
<circle cx="806.8" cy="301.4" r="6.9" fill="#f4bda3"/>
<circle cx="383.1" cy="950.9" r="6.9" fill="#f4bda3"/>
<circle cx="1085.9" cy="511.5" r="6.9" fill="#f4bda3"/>
<circle cx="627.0" cy="756.0" r="6.9" fill="#f4bda3"/>
<circle cx="923.8" cy="887.4" r="6.9" fill="#f4bda3"/>
<circle cx="843.2" cy="349.6" r="6.9" fill="#f4bda3"/>
<circle cx="835.3" cy="892.6" r="6.9" fill="#f4bda3"/>
<circle cx="361.7" cy="313.6" r="6.9" fill="#f4bda3"/>
<circle cx="657.4" cy="231.7" r="6.9" fill="#f4bda3"/>
<circle cx="745.8" cy="287.9" r="6.9" fill="#f4bda3"/>
<circle cx="456.0" cy="267.5" r="6.9" fill="#f4bda3"/>
<circle cx="1078.2" cy="472.3" r="6.9" fill="#f4bda3"/>
<circle cx="993.5" cy="473.6" r="6.9" fill="#f4bda3"/>
<circle cx="1043.4" cy="427.8" r="6.9" fill="#f4bda3"/>
<circle cx="403.6" cy="292.6" r="6.9" fill="#f4bda3"/>
<circle cx="753.2" cy="789.5" r="6.9" fill="#f4bda3"/>
<circle cx="204.4" cy="429.1" r="6.9" fill="#f4bda3"/>
<circle cx="746.7" cy="851.3" r="6.9" fill="#f4bda3"/>
<circle cx="1012.7" cy="483.1" r="6.9" fill="#f4bda3"/>
<circle cx="333.5" cy="397.1" r="6.9" fill="#f4bda3"/>
<circle cx="761.9" cy="795.8" r="6.9" fill="#f4bda3"/>
<circle cx="782.7" cy="812.2" r="6.9" fill="#e58e80"/>
<circle cx="763.1" cy="786.6" r="6.9" fill="#e58e80"/>
<circle cx="833.8" cy="871.9" r="6.9" fill="#e58e80"/>
<circle cx="774.4" cy="783.6" r="6.9" fill="#e58e80"/>
<circle cx="757.2" cy="776.9" r="6.9" fill="#cf5f6c"/>
<circle cx="764.4" cy="785.3" r="6.9" fill="#cf5f6c"/>
</g>
<circle cx="371.4" cy="344.4" r="11.1" fill="#f6f7f8" stroke="#000" stroke-width="1.3"/>
<text x="371.4" y="349.8" text-anchor="middle" font-family="Liberation Sans, sans-serif" font-weight="bold" font-size="15" fill="#000">1</text>
<circle cx="679.4" cy="265.5" r="11.1" fill="#f6f7f8" stroke="#000" stroke-width="1.3"/>
<text x="679.4" y="270.9" text-anchor="middle" font-family="Liberation Sans, sans-serif" font-weight="bold" font-size="15" fill="#000">6</text>
<circle cx="1013.4" cy="310.4" r="11.1" fill="#f6f7f8" stroke="#000" stroke-width="1.3"/>
<text x="1013.4" y="315.8" text-anchor="middle" font-family="Liberation Sans, sans-serif" font-weight="bold" font-size="15" fill="#000">9</text>
<circle cx="979.3" cy="444.5" r="11.1" fill="#f6f7f8" stroke="#000" stroke-width="1.3"/>
<text x="979.3" y="449.9" text-anchor="middle" font-family="Liberation Sans, sans-serif" font-weight="bold" font-size="15" fill="#000">7</text>
<circle cx="615.4" cy="487.4" r="11.1" fill="#f6f7f8" stroke="#000" stroke-width="1.3"/>
<text x="615.4" y="492.8" text-anchor="middle" font-family="Liberation Sans, sans-serif" font-weight="bold" font-size="15" fill="#000">4</text>
<circle cx="761.4" cy="514.5" r="11.1" fill="#f6f7f8" stroke="#000" stroke-width="1.3"/>
<text x="761.4" y="519.9" text-anchor="middle" font-family="Liberation Sans, sans-serif" font-weight="bold" font-size="15" fill="#000">10</text>
<circle cx="819.3" cy="623.5" r="11.1" fill="#f6f7f8" stroke="#000" stroke-width="1.3"/>
<text x="819.3" y="628.9" text-anchor="middle" font-family="Liberation Sans, sans-serif" font-weight="bold" font-size="15" fill="#000">8</text>
<circle cx="501.4" cy="736.4" r="11.1" fill="#f6f7f8" stroke="#000" stroke-width="1.3"/>
<text x="501.4" y="741.8" text-anchor="middle" font-family="Liberation Sans, sans-serif" font-weight="bold" font-size="15" fill="#000">2</text>
<circle cx="890.4" cy="883.5" r="11.1" fill="#f6f7f8" stroke="#000" stroke-width="1.3"/>
<text x="890.4" y="888.9" text-anchor="middle" font-family="Liberation Sans, sans-serif" font-weight="bold" font-size="15" fill="#000">3</text>
<circle cx="575.3" cy="993.5" r="11.1" fill="#f6f7f8" stroke="#000" stroke-width="1.3"/>
<text x="575.3" y="998.9" text-anchor="middle" font-family="Liberation Sans, sans-serif" font-weight="bold" font-size="15" fill="#000">5</text>
<defs><linearGradient id="g" x1="849.9" x2="1150.6" y1="0" y2="0" gradientUnits="userSpaceOnUse">
<stop offset="0.0000" stop-color="#4b6890"/>
<stop offset="0.1077" stop-color="#5e8dbf"/>
<stop offset="0.2148" stop-color="#7fb4d7"/>
<stop offset="0.3206" stop-color="#c2dcea"/>
<stop offset="0.4463" stop-color="#e6eef3"/>
<stop offset="0.5540" stop-color="#f4f3f2"/>
<stop offset="0.6598" stop-color="#fadac8"/>
<stop offset="0.7659" stop-color="#f0b49c"/>
<stop offset="0.8923" stop-color="#de8579"/>
<stop offset="1.0000" stop-color="#c85a6a"/>
</linearGradient></defs>
<rect x="849.9" y="1134" width="300.7" height="14.8" fill="url(#g)"/>
<line x1="849.9" x2="849.9" y1="1134" y2="1148.8" stroke="#000" stroke-width="1.2"/>
<line x1="882.3" x2="882.3" y1="1134" y2="1148.8" stroke="#000" stroke-width="1.2"/>
<line x1="914.5" x2="914.5" y1="1134" y2="1148.8" stroke="#000" stroke-width="1.2"/>
<line x1="946.3" x2="946.3" y1="1134" y2="1148.8" stroke="#000" stroke-width="1.2"/>
<line x1="984.1" x2="984.1" y1="1134" y2="1148.8" stroke="#000" stroke-width="1.2"/>
<line x1="1016.5" x2="1016.5" y1="1134" y2="1148.8" stroke="#000" stroke-width="1.2"/>
<line x1="1048.3" x2="1048.3" y1="1134" y2="1148.8" stroke="#000" stroke-width="1.2"/>
<line x1="1080.2" x2="1080.2" y1="1134" y2="1148.8" stroke="#000" stroke-width="1.2"/>
<line x1="1118.2" x2="1118.2" y1="1134" y2="1148.8" stroke="#000" stroke-width="1.2"/>
<line x1="1150.6" x2="1150.6" y1="1134" y2="1148.8" stroke="#000" stroke-width="1.2"/>
<text x="849.9" y="1163" text-anchor="middle" font-family="Liberation Sans, sans-serif" font-size="10.5" fill="#000">0.0</text>
<text x="882.3" y="1163" text-anchor="middle" font-family="Liberation Sans, sans-serif" font-size="10.5" fill="#000">0.5</text>
<text x="914.5" y="1163" text-anchor="middle" font-family="Liberation Sans, sans-serif" font-size="10.5" fill="#000">1.0</text>
<text x="946.3" y="1163" text-anchor="middle" font-family="Liberation Sans, sans-serif" font-size="10.5" fill="#000">1.5</text>
<text x="984.1" y="1163" text-anchor="middle" font-family="Liberation Sans, sans-serif" font-size="10.5" fill="#000">2.1</text>
<text x="1016.5" y="1163" text-anchor="middle" font-family="Liberation Sans, sans-serif" font-size="10.5" fill="#000">2.6</text>
<text x="1048.3" y="1163" text-anchor="middle" font-family="Liberation Sans, sans-serif" font-size="10.5" fill="#000">3.1</text>
<text x="1080.2" y="1163" text-anchor="middle" font-family="Liberation Sans, sans-serif" font-size="10.5" fill="#000">3.6</text>
<text x="1118.2" y="1163" text-anchor="middle" font-family="Liberation Sans, sans-serif" font-size="10.5" fill="#000">4.2</text>
<text x="1150.6" y="1163" text-anchor="middle" font-family="Liberation Sans, sans-serif" font-size="10.5" fill="#000">4.7</text>
<text x="1038" y="1127" text-anchor="middle" font-family="Liberation Sans, sans-serif" font-size="13" fill="#000">Expression, Z-scaled</text>
</svg></body></html>
